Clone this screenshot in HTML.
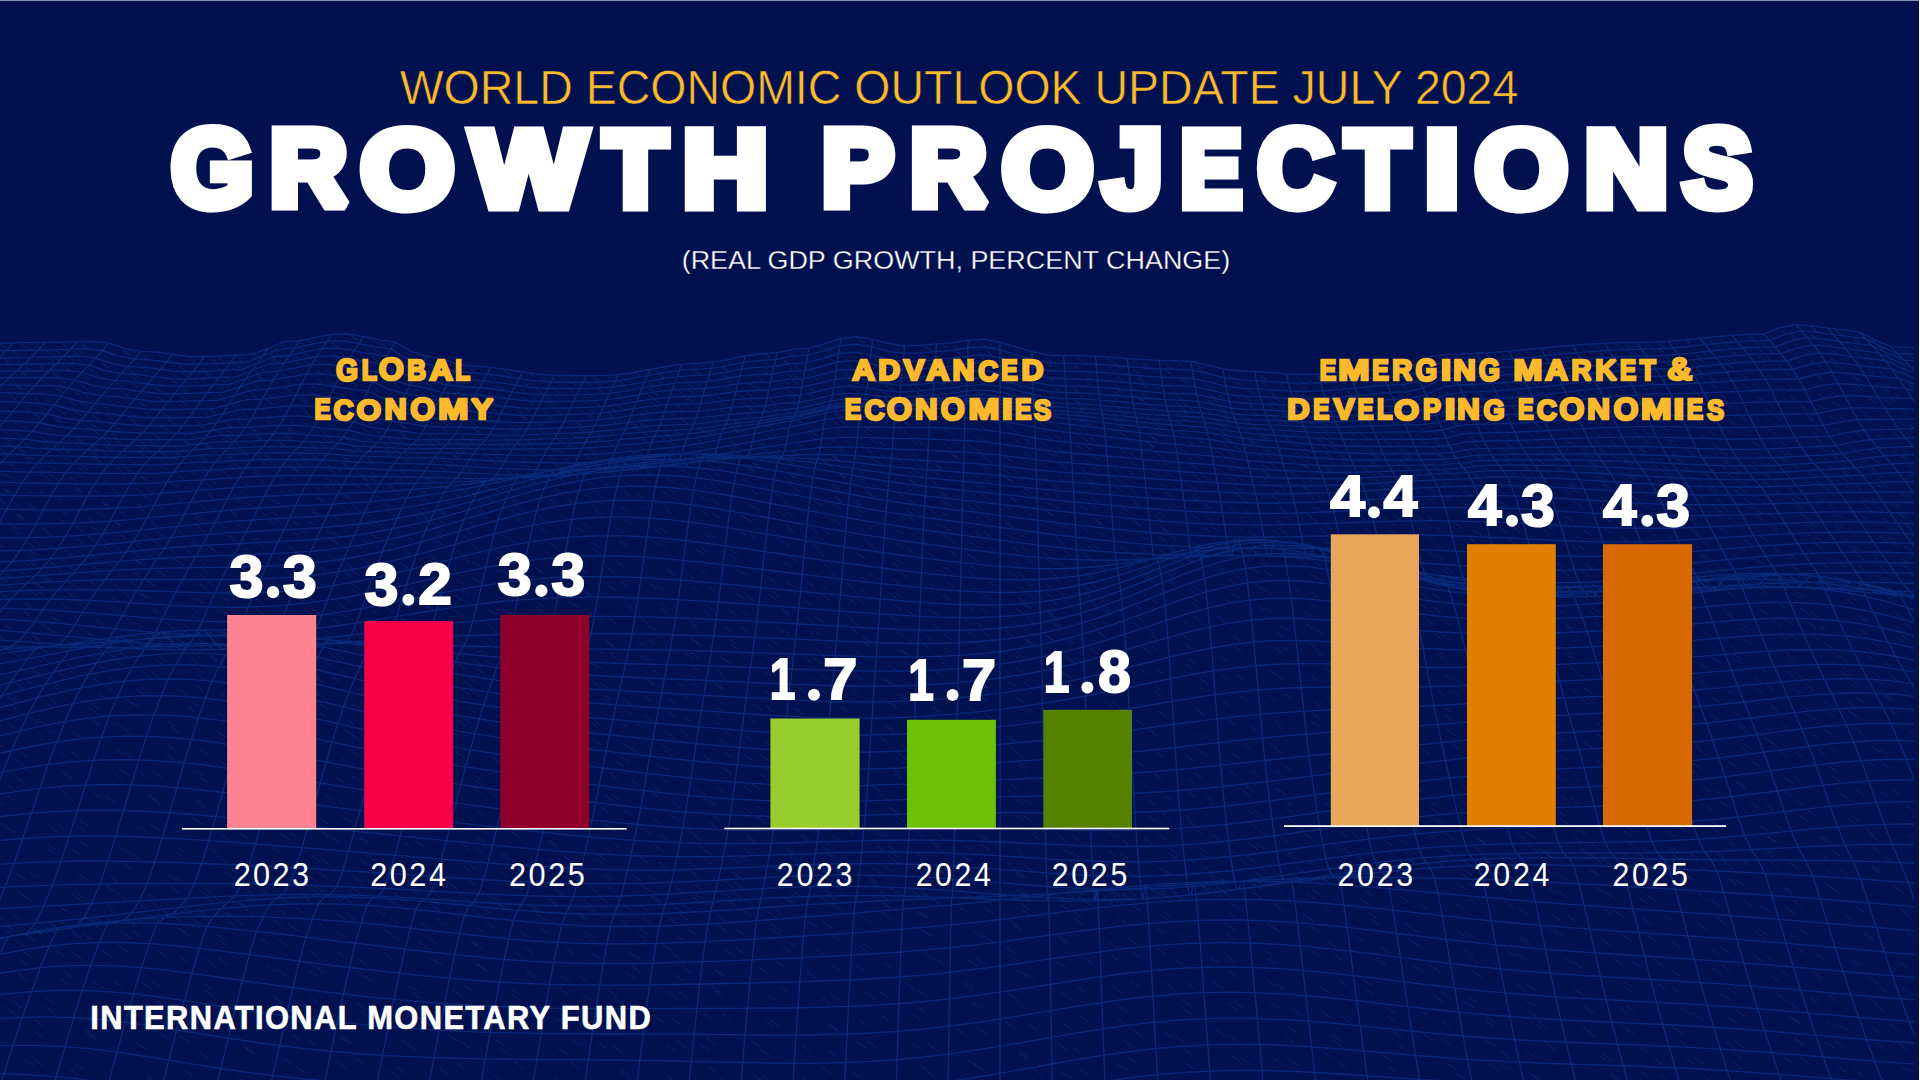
<!DOCTYPE html><html><head><meta charset="utf-8"><style>html,body{margin:0;padding:0;width:1920px;height:1080px;overflow:hidden;background:#01114F}svg{display:block;font-family:"Liberation Sans",sans-serif}</style></head><body>
<svg width="1920" height="1080" viewBox="0 0 1920 1080">
<defs><clipPath id="mc"><rect x="0" y="0" width="1914" height="1080"/></clipPath></defs>
<path clip-path="url(#mc)" d="M31.6 1094.2l10.4 7.3M18.4 1089.4l10.4 7.3M67.7 1086.3l10.4 7.3M1078.0 1091.3l10.4 7.3M1114.5 1095.6l10.4 7.3M1127.2 1086.0l10.4 7.3M1175.9 1086.8l10.4 7.3M1182.9 1089.7l10.4 7.3M1225.6 1080.8l10.4 7.3M1246.2 1077.7l10.4 7.3M1296.7 1081.5l10.4 7.3M1276.6 1084.3l10.4 7.3M1351.4 1080.8l10.4 7.3M1332.1 1089.9l10.4 7.3M1389.5 1083.5l10.4 7.3M1387.9 1089.4l10.4 7.3M1446.8 1083.2l10.4 7.3M1435.1 1095.0l10.4 7.3M1490.4 1091.8l10.4 7.3M1501.9 1095.2l10.4 7.3M1556.6 1089.4l10.4 7.3M1549.0 1096.2l10.4 7.3M1643.6 1091.6l10.4 7.3M1645.2 1089.2l10.4 7.3M1762.0 1095.9l10.4 7.3M33.9 1059.3l10.3 7.2M24.5 1059.7l10.3 7.2M68.6 1068.8l10.3 7.2M73.9 1062.9l10.3 7.2M146.2 1077.1l10.3 7.2M146.9 1075.6l10.3 7.2M182.9 1069.4l10.3 7.2M195.7 1078.9l10.3 7.2M223.9 1082.2l10.3 7.2M236.0 1075.4l10.3 7.2M280.2 1090.9l10.3 7.2M340.9 1087.6l10.3 7.2M455.8 1089.1l10.3 7.2M513.7 1093.8l10.3 7.2M492.2 1092.2l10.3 7.2M536.4 1091.7l10.3 7.2M616.8 1094.9l10.3 7.2M670.8 1091.3l10.3 7.2M907.2 1091.7l10.3 7.2M954.2 1088.8l10.3 7.2M963.4 1080.4l10.3 7.2M1032.8 1068.4l10.3 7.2M1013.6 1086.2l10.3 7.2M1060.5 1071.3l10.3 7.2M1079.7 1068.8l10.3 7.2M1117.0 1063.7l10.3 7.2M1128.9 1058.1l10.3 7.2M1184.9 1050.2l10.3 7.2M1183.1 1061.8l10.3 7.2M1240.6 1057.3l10.3 7.2M1232.0 1056.1l10.3 7.2M1289.8 1059.9l10.3 7.2M1274.4 1058.6l10.3 7.2M1322.5 1051.3l10.3 7.2M1336.8 1060.7l10.3 7.2M1381.9 1054.3l10.3 7.2M1387.1 1065.7l10.3 7.2M1447.7 1064.0l10.3 7.2M1454.8 1072.0l10.3 7.2M1488.9 1064.0l10.3 7.2M1500.1 1063.3l10.3 7.2M1529.0 1072.7l10.3 7.2M1531.8 1074.2l10.3 7.2M1609.5 1071.4l10.3 7.2M1608.9 1074.1l10.3 7.2M1658.8 1074.9l10.3 7.2M1638.7 1070.0l10.3 7.2M1714.9 1082.2l10.3 7.2M1701.9 1074.9l10.3 7.2M1743.3 1080.7l10.3 7.2M1741.6 1082.7l10.3 7.2M1795.6 1081.8l10.3 7.2M1809.9 1088.0l10.3 7.2M1841.5 1089.0l10.3 7.2M1863.1 1092.5l10.3 7.2M1903.8 1095.0l10.3 7.2M1917.1 1091.4l10.3 7.2M-11.2 1035.8l10.2 7.2M-22.5 1027.2l10.2 7.2M34.5 1031.7l10.2 7.2M35.0 1020.3l10.2 7.2M84.7 1029.3l10.2 7.2M85.3 1032.1l10.2 7.2M155.5 1030.2l10.2 7.2M136.2 1042.4l10.2 7.2M199.3 1052.1l10.2 7.2M180.1 1035.8l10.2 7.2M244.3 1047.2l10.2 7.2M244.0 1046.0l10.2 7.2M294.4 1065.6l10.2 7.2M282.1 1057.2l10.2 7.2M354.5 1057.4l10.2 7.2M336.4 1061.2l10.2 7.2M396.4 1066.7l10.2 7.2M388.6 1070.2l10.2 7.2M454.0 1061.4l10.2 7.2M439.9 1068.3l10.2 7.2M514.5 1061.6l10.2 7.2M493.3 1074.9l10.2 7.2M570.3 1061.8l10.2 7.2M553.8 1076.4l10.2 7.2M620.1 1071.9l10.2 7.2M619.9 1068.1l10.2 7.2M668.3 1076.8l10.2 7.2M667.2 1075.7l10.2 7.2M708.2 1066.4l10.2 7.2M720.3 1077.9l10.2 7.2M753.4 1075.0l10.2 7.2M762.7 1075.5l10.2 7.2M802.0 1078.0l10.2 7.2M821.3 1066.7l10.2 7.2M851.5 1071.4l10.2 7.2M873.3 1079.0l10.2 7.2M927.7 1072.3l10.2 7.2M920.5 1066.0l10.2 7.2M973.0 1062.8l10.2 7.2M966.6 1059.3l10.2 7.2M1018.4 1049.5l10.2 7.2M1019.1 1052.9l10.2 7.2M1057.6 1043.3l10.2 7.2M1072.2 1047.0l10.2 7.2M1132.1 1029.6l10.2 7.2M1123.1 1040.3l10.2 7.2M1175.4 1036.2l10.2 7.2M1164.4 1031.9l10.2 7.2M1214.9 1029.0l10.2 7.2M1228.5 1035.2l10.2 7.2M1284.1 1035.9l10.2 7.2M1286.0 1025.3l10.2 7.2M1332.1 1039.5l10.2 7.2M1331.3 1034.5l10.2 7.2M1397.4 1043.9l10.2 7.2M1392.6 1031.0l10.2 7.2M1440.7 1038.0l10.2 7.2M1423.7 1034.1l10.2 7.2M1484.5 1039.3l10.2 7.2M1499.9 1051.0l10.2 7.2M1545.3 1043.1l10.2 7.2M1524.7 1049.8l10.2 7.2M1598.5 1055.2l10.2 7.2M1602.5 1053.8l10.2 7.2M1652.2 1057.4l10.2 7.2M1639.7 1047.0l10.2 7.2M1684.7 1057.4l10.2 7.2M1693.7 1057.2l10.2 7.2M1731.5 1061.2l10.2 7.2M1732.2 1051.7l10.2 7.2M1800.0 1057.4l10.2 7.2M1784.7 1057.6l10.2 7.2M1835.8 1065.0l10.2 7.2M1852.8 1068.5l10.2 7.2M1910.9 1070.2l10.2 7.2M1900.1 1065.4l10.2 7.2M4.1 1006.2l10.1 7.1M11.7 1000.8l10.1 7.1M44.5 996.5l10.1 7.1M43.9 1005.8l10.1 7.1M103.9 1010.7l10.1 7.1M107.3 1007.4l10.1 7.1M156.4 1000.4l10.1 7.1M153.3 1005.7l10.1 7.1M193.1 1023.6l10.1 7.1M185.2 1019.6l10.1 7.1M255.6 1025.2l10.1 7.1M254.3 1016.5l10.1 7.1M291.1 1033.7l10.1 7.1M306.4 1039.1l10.1 7.1M338.9 1036.6l10.1 7.1M342.1 1036.8l10.1 7.1M397.8 1037.1l10.1 7.1M407.7 1044.1l10.1 7.1M460.9 1041.7l10.1 7.1M447.3 1033.7l10.1 7.1M499.5 1047.9l10.1 7.1M496.3 1040.0l10.1 7.1M571.7 1038.7l10.1 7.1M556.0 1046.7l10.1 7.1M596.1 1041.0l10.1 7.1M612.4 1045.7l10.1 7.1M666.4 1044.9l10.1 7.1M675.9 1040.3l10.1 7.1M706.2 1038.0l10.1 7.1M699.3 1044.0l10.1 7.1M761.2 1049.8l10.1 7.1M751.3 1040.6l10.1 7.1M800.8 1044.6l10.1 7.1M828.9 1051.1l10.1 7.1M857.7 1042.1l10.1 7.1M867.2 1041.0l10.1 7.1M927.6 1043.7l10.1 7.1M912.2 1043.2l10.1 7.1M955.5 1028.4l10.1 7.1M978.0 1028.0l10.1 7.1M1005.4 1021.7l10.1 7.1M1028.1 1024.0l10.1 7.1M1079.2 1015.8l10.1 7.1M1063.5 1023.9l10.1 7.1M1115.1 1017.2l10.1 7.1M1117.8 1005.6l10.1 7.1M1179.8 998.1l10.1 7.1M1180.9 1007.1l10.1 7.1M1227.2 1003.0l10.1 7.1M1234.3 1001.7l10.1 7.1M1269.2 1000.9l10.1 7.1M1291.4 1008.6l10.1 7.1M1340.5 1015.8l10.1 7.1M1321.0 1010.7l10.1 7.1M1385.6 1006.8l10.1 7.1M1387.0 1016.0l10.1 7.1M1442.4 1021.5l10.1 7.1M1421.3 1011.2l10.1 7.1M1485.0 1020.1l10.1 7.1M1485.3 1016.2l10.1 7.1M1530.8 1021.3l10.1 7.1M1537.7 1021.5l10.1 7.1M1581.3 1025.5l10.1 7.1M1586.7 1031.2l10.1 7.1M1625.9 1028.8l10.1 7.1M1620.7 1024.8l10.1 7.1M1677.2 1038.9l10.1 7.1M1672.6 1027.0l10.1 7.1M1734.3 1040.8l10.1 7.1M1725.0 1041.4l10.1 7.1M1794.1 1039.1l10.1 7.1M1793.8 1037.8l10.1 7.1M1826.3 1042.4l10.1 7.1M1834.3 1040.2l10.1 7.1M1899.1 1044.3l10.1 7.1M1876.1 1042.9l10.1 7.1M1931.9 1054.8l10.1 7.1M-8.9 987.4l10.0 7.0M17.8 973.6l10.0 7.0M62.0 970.2l10.0 7.0M59.2 978.1l10.0 7.0M92.8 981.2l10.0 7.0M113.4 980.8l10.0 7.0M151.9 980.9l10.0 7.0M142.0 982.5l10.0 7.0M202.8 982.7l10.0 7.0M203.7 989.6l10.0 7.0M273.4 996.6l10.0 7.0M270.4 994.2l10.0 7.0M295.4 1001.1l10.0 7.0M309.1 996.6l10.0 7.0M356.8 1003.2l10.0 7.0M360.9 1011.9l10.0 7.0M421.2 1018.9l10.0 7.0M420.1 1017.5l10.0 7.0M446.1 1018.6l10.0 7.0M471.6 1007.5l10.0 7.0M497.8 1016.3l10.0 7.0M513.5 1012.0l10.0 7.0M554.1 1017.4l10.0 7.0M559.8 1012.4l10.0 7.0M608.1 1011.0l10.0 7.0M607.2 1022.0l10.0 7.0M671.2 1017.8l10.0 7.0M653.6 1015.7l10.0 7.0M703.6 1013.4l10.0 7.0M722.3 1013.4l10.0 7.0M770.4 1020.3l10.0 7.0M763.5 1019.6l10.0 7.0M828.9 1023.9l10.0 7.0M828.8 1025.0l10.0 7.0M859.0 1019.8l10.0 7.0M880.4 1014.7l10.0 7.0M915.4 1005.5l10.0 7.0M910.7 1013.0l10.0 7.0M970.6 1001.3l10.0 7.0M977.3 1002.1l10.0 7.0M1015.8 1001.5l10.0 7.0M1009.8 994.2l10.0 7.0M1075.9 985.4l10.0 7.0M1061.1 992.5l10.0 7.0M1130.1 980.7l10.0 7.0M1110.5 984.9l10.0 7.0M1184.6 981.4l10.0 7.0M1163.4 981.8l10.0 7.0M1229.1 971.2l10.0 7.0M1213.2 981.7l10.0 7.0M1266.6 980.1l10.0 7.0M1275.3 983.2l10.0 7.0M1320.1 986.3l10.0 7.0M1338.8 980.1l10.0 7.0M1362.5 979.3l10.0 7.0M1363.7 988.0l10.0 7.0M1440.3 991.0l10.0 7.0M1433.6 995.4l10.0 7.0M1467.4 996.0l10.0 7.0M1465.8 1002.0l10.0 7.0M1525.8 1009.3l10.0 7.0M1523.8 998.7l10.0 7.0M1584.4 1006.4l10.0 7.0M1582.7 1006.8l10.0 7.0M1618.0 1006.8l10.0 7.0M1625.5 1005.3l10.0 7.0M1692.7 1013.0l10.0 7.0M1681.3 1008.1l10.0 7.0M1729.5 1018.0l10.0 7.0M1735.9 1010.0l10.0 7.0M1788.9 1016.4l10.0 7.0M1791.4 1016.9l10.0 7.0M1836.8 1023.7l10.0 7.0M1825.9 1020.5l10.0 7.0M1871.1 1027.0l10.0 7.0M1890.5 1024.7l10.0 7.0M1931.6 1030.7l10.0 7.0M17.9 957.9l9.9 7.0M22.3 951.0l9.9 7.0M56.2 950.4l9.9 7.0M72.8 952.8l9.9 7.0M117.3 944.6l9.9 7.0M101.5 950.1l9.9 7.0M156.6 949.6l9.9 7.0M178.9 955.9l9.9 7.0M204.1 958.0l9.9 7.0M218.0 957.6l9.9 7.0M267.0 965.4l9.9 7.0M276.1 968.5l9.9 7.0M315.3 966.6l9.9 7.0M308.3 970.1l9.9 7.0M364.3 975.5l9.9 7.0M356.9 971.1l9.9 7.0M411.1 991.6l9.9 7.0M409.8 986.0l9.9 7.0M452.2 989.3l9.9 7.0M465.4 986.0l9.9 7.0M512.3 995.0l9.9 7.0M509.8 987.9l9.9 7.0M581.0 992.9l9.9 7.0M560.0 988.7l9.9 7.0M614.1 997.4l9.9 7.0M607.4 989.5l9.9 7.0M677.8 990.9l9.9 7.0M667.4 992.1l9.9 7.0M711.0 985.6l9.9 7.0M714.3 990.4l9.9 7.0M778.8 986.6l9.9 7.0M767.6 994.8l9.9 7.0M820.2 996.3l9.9 7.0M829.0 992.5l9.9 7.0M879.8 991.4l9.9 7.0M865.4 992.4l9.9 7.0M917.3 989.7l9.9 7.0M904.7 982.3l9.9 7.0M963.3 983.8l9.9 7.0M963.9 980.0l9.9 7.0M1018.0 970.1l9.9 7.0M1025.0 973.3l9.9 7.0M1083.2 957.2l9.9 7.0M1057.0 961.4l9.9 7.0M1132.7 952.2l9.9 7.0M1109.7 954.2l9.9 7.0M1175.5 960.1l9.9 7.0M1155.9 947.6l9.9 7.0M1226.3 955.3l9.9 7.0M1209.7 956.9l9.9 7.0M1263.1 948.6l9.9 7.0M1267.4 958.0l9.9 7.0M1333.5 954.2l9.9 7.0M1311.1 950.5l9.9 7.0M1374.8 959.3l9.9 7.0M1376.3 957.8l9.9 7.0M1430.2 965.3l9.9 7.0M1412.8 965.2l9.9 7.0M1472.9 971.4l9.9 7.0M1469.8 969.1l9.9 7.0M1525.3 983.0l9.9 7.0M1515.9 984.0l9.9 7.0M1574.4 989.2l9.9 7.0M1573.3 988.0l9.9 7.0M1623.2 986.0l9.9 7.0M1623.4 981.1l9.9 7.0M1657.6 983.4l9.9 7.0M1672.5 988.0l9.9 7.0M1727.6 987.9l9.9 7.0M1720.6 993.0l9.9 7.0M1790.0 1002.9l9.9 7.0M1777.8 994.5l9.9 7.0M1809.8 997.5l9.9 7.0M1828.1 994.9l9.9 7.0M1867.4 997.6l9.9 7.0M1875.2 1004.8l9.9 7.0M1931.0 1007.1l9.9 7.0M26.0 934.7l9.8 6.9M14.8 940.0l9.8 6.9M71.5 931.0l9.8 6.9M82.3 933.0l9.8 6.9M132.7 931.0l9.8 6.9M122.4 932.4l9.8 6.9M175.5 925.9l9.8 6.9M179.1 928.6l9.8 6.9M217.2 938.6l9.8 6.9M217.4 934.9l9.8 6.9M278.0 939.1l9.8 6.9M260.0 937.8l9.8 6.9M334.3 949.5l9.8 6.9M308.4 950.0l9.8 6.9M356.6 957.6l9.8 6.9M385.4 954.7l9.8 6.9M427.9 956.8l9.8 6.9M434.8 960.1l9.8 6.9M475.9 963.7l9.8 6.9M478.2 964.3l9.8 6.9M526.5 972.7l9.8 6.9M526.8 969.4l9.8 6.9M578.6 975.7l9.8 6.9M561.1 976.3l9.8 6.9M630.5 965.2l9.8 6.9M625.9 972.4l9.8 6.9M681.4 965.9l9.8 6.9M672.7 973.1l9.8 6.9M715.1 969.9l9.8 6.9M715.6 969.8l9.8 6.9M775.7 960.8l9.8 6.9M757.7 966.6l9.8 6.9M806.6 971.3l9.8 6.9M830.1 963.7l9.8 6.9M883.0 962.6l9.8 6.9M855.9 965.2l9.8 6.9M923.3 952.0l9.8 6.9M934.7 957.8l9.8 6.9M967.5 959.7l9.8 6.9M974.5 957.2l9.8 6.9M1009.6 955.6l9.8 6.9M1005.2 946.4l9.8 6.9M1058.3 935.2l9.8 6.9M1057.4 936.7l9.8 6.9M1108.8 942.0l9.8 6.9M1126.4 936.9l9.8 6.9M1176.7 933.6l9.8 6.9M1155.7 926.9l9.8 6.9M1225.2 923.3l9.8 6.9M1226.6 933.8l9.8 6.9M1272.6 926.8l9.8 6.9M1267.2 923.4l9.8 6.9M1310.7 926.1l9.8 6.9M1326.2 940.8l9.8 6.9M1353.9 934.9l9.8 6.9M1379.0 946.0l9.8 6.9M1412.3 940.9l9.8 6.9M1407.7 938.5l9.8 6.9M1469.0 957.0l9.8 6.9M1464.1 949.2l9.8 6.9M1515.8 952.9l9.8 6.9M1506.6 950.4l9.8 6.9M1563.4 957.2l9.8 6.9M1572.1 961.0l9.8 6.9M1613.3 958.6l9.8 6.9M1630.0 959.6l9.8 6.9M1670.3 968.9l9.8 6.9M1652.7 958.5l9.8 6.9M1722.1 965.1l9.8 6.9M1711.9 967.4l9.8 6.9M1780.0 969.6l9.8 6.9M1771.0 976.0l9.8 6.9M1813.1 971.7l9.8 6.9M1812.4 974.4l9.8 6.9M1867.9 976.4l9.8 6.9M1877.0 985.5l9.8 6.9M1902.9 987.9l9.8 6.9M1913.8 984.4l9.8 6.9M43.8 926.2l9.7 6.8M33.6 927.9l9.7 6.8M94.0 919.7l9.7 6.8M89.6 920.2l9.7 6.8M124.9 918.8l9.7 6.8M134.4 916.9l9.7 6.8M173.0 916.1l9.7 6.8M192.4 919.1l9.7 6.8M234.0 918.2l9.7 6.8M227.8 921.4l9.7 6.8M273.2 919.8l9.7 6.8M287.9 923.8l9.7 6.8M317.8 922.5l9.7 6.8M335.9 931.1l9.7 6.8M381.9 927.7l9.7 6.8M389.7 933.4l9.7 6.8M427.1 936.8l9.7 6.8M417.4 940.8l9.7 6.8M468.0 939.8l9.7 6.8M473.0 942.0l9.7 6.8M523.4 946.9l9.7 6.8M514.7 952.2l9.7 6.8M590.0 951.5l9.7 6.8M564.3 947.7l9.7 6.8M632.8 954.0l9.7 6.8M627.5 951.9l9.7 6.8M674.0 954.7l9.7 6.8M661.4 943.7l9.7 6.8M734.5 946.8l9.7 6.8M725.3 949.9l9.7 6.8M781.2 945.2l9.7 6.8M786.6 940.6l9.7 6.8M832.2 935.3l9.7 6.8M814.6 948.5l9.7 6.8M862.6 943.8l9.7 6.8M859.1 945.8l9.7 6.8M922.9 929.8l9.7 6.8M920.0 929.0l9.7 6.8M982.6 934.5l9.7 6.8M973.3 931.0l9.7 6.8M1008.5 919.4l9.7 6.8M1012.6 924.2l9.7 6.8M1073.1 911.6l9.7 6.8M1074.2 918.6l9.7 6.8M1117.2 916.7l9.7 6.8M1131.9 904.8l9.7 6.8M1160.0 914.4l9.7 6.8M1160.8 910.5l9.7 6.8M1228.6 901.4l9.7 6.8M1227.8 912.1l9.7 6.8M1274.7 905.1l9.7 6.8M1270.2 901.4l9.7 6.8M1303.4 914.1l9.7 6.8M1322.7 905.5l9.7 6.8M1370.9 918.9l9.7 6.8M1367.5 912.3l9.7 6.8M1403.4 922.3l9.7 6.8M1408.3 925.6l9.7 6.8M1464.3 931.4l9.7 6.8M1457.2 931.0l9.7 6.8M1520.0 939.1l9.7 6.8M1520.7 936.6l9.7 6.8M1547.7 928.5l9.7 6.8M1553.1 928.9l9.7 6.8M1621.6 934.4l9.7 6.8M1601.6 939.3l9.7 6.8M1648.0 935.7l9.7 6.8M1671.1 941.4l9.7 6.8M1710.0 948.1l9.7 6.8M1720.4 946.9l9.7 6.8M1765.4 955.1l9.7 6.8M1753.7 955.3l9.7 6.8M1815.6 953.6l9.7 6.8M1797.3 947.7l9.7 6.8M1852.4 958.8l9.7 6.8M1849.7 960.6l9.7 6.8M1919.1 965.6l9.7 6.8M1898.4 961.7l9.7 6.8M-18.2 936.4l9.7 6.8M-4.1 934.6l9.7 6.8M39.7 927.5l9.7 6.8M32.8 928.5l9.7 6.8M88.9 921.1l9.7 6.8M107.1 918.6l9.7 6.8M126.5 916.2l9.7 6.8M148.9 914.4l9.7 6.8M194.0 911.0l9.7 6.8M200.2 911.7l9.7 6.8M245.5 909.0l9.7 6.8M224.5 911.3l9.7 6.8M295.9 907.7l9.7 6.8M276.6 908.2l9.7 6.8M346.0 913.0l9.7 6.8M335.7 913.1l9.7 6.8M375.4 909.3l9.7 6.8M389.0 917.0l9.7 6.8M419.1 921.4l9.7 6.8M435.9 918.6l9.7 6.8M474.2 926.2l9.7 6.8M485.5 921.7l9.7 6.8M539.9 928.0l9.7 6.8M520.7 932.2l9.7 6.8M586.1 932.1l9.7 6.8M585.0 935.8l9.7 6.8M637.2 933.2l9.7 6.8M639.1 927.7l9.7 6.8M676.2 935.5l9.7 6.8M689.3 930.1l9.7 6.8M736.8 929.8l9.7 6.8M717.5 924.9l9.7 6.8M770.8 928.8l9.7 6.8M771.4 924.0l9.7 6.8M809.5 922.2l9.7 6.8M822.4 921.3l9.7 6.8M861.9 916.0l9.7 6.8M882.4 912.6l9.7 6.8M916.6 911.6l9.7 6.8M918.4 910.9l9.7 6.8M957.9 905.8l9.7 6.8M984.0 907.6l9.7 6.8M1020.0 903.2l9.7 6.8M1020.8 909.0l9.7 6.8M1082.4 899.5l9.7 6.8M1059.3 903.5l9.7 6.8M1109.9 890.3l9.7 6.8M1103.9 898.7l9.7 6.8M1172.5 892.1l9.7 6.8M1152.1 889.0l9.7 6.8M1217.5 887.0l9.7 6.8M1221.7 891.5l9.7 6.8M1274.7 885.4l9.7 6.8M1251.3 891.3l9.7 6.8M1312.9 889.9l9.7 6.8M1307.2 893.9l9.7 6.8M1359.9 898.1l9.7 6.8M1363.9 889.5l9.7 6.8M1400.4 896.5l9.7 6.8M1418.9 903.7l9.7 6.8M1468.2 898.3l9.7 6.8M1456.7 904.2l9.7 6.8M1518.6 908.4l9.7 6.8M1504.4 901.5l9.7 6.8M1566.2 914.9l9.7 6.8M1550.5 913.7l9.7 6.8M1603.0 908.6l9.7 6.8M1614.0 910.3l9.7 6.8M1663.4 914.6l9.7 6.8M1642.2 917.8l9.7 6.8M1716.0 917.2l9.7 6.8M1697.3 922.9l9.7 6.8M1757.7 928.3l9.7 6.8M1755.9 932.2l9.7 6.8M1800.1 929.7l9.7 6.8M1789.6 934.0l9.7 6.8M1863.5 931.3l9.7 6.8M1863.2 933.3l9.7 6.8M1907.1 933.6l9.7 6.8M1913.6 946.2l9.7 6.8M5.2 924.9l9.6 6.7M3.9 929.4l9.6 6.7M50.4 922.8l9.6 6.7M62.2 922.1l9.6 6.7M93.7 916.5l9.6 6.7M88.1 917.4l9.6 6.7M160.4 908.7l9.6 6.7M140.2 911.4l9.6 6.7M195.0 906.0l9.6 6.7M183.0 907.4l9.6 6.7M237.6 901.0l9.6 6.7M236.8 901.6l9.6 6.7M280.7 897.7l9.6 6.7M302.8 896.8l9.6 6.7M343.5 897.0l9.6 6.7M333.0 896.4l9.6 6.7M388.4 899.8l9.6 6.7M392.6 900.5l9.6 6.7M431.6 905.2l9.6 6.7M429.8 903.6l9.6 6.7M483.2 908.6l9.6 6.7M471.7 908.9l9.6 6.7M544.7 916.3l9.6 6.7M536.4 914.0l9.6 6.7M578.1 912.8l9.6 6.7M578.0 914.3l9.6 6.7M620.9 920.1l9.6 6.7M642.4 917.1l9.6 6.7M667.3 916.8l9.6 6.7M678.9 913.7l9.6 6.7M716.9 915.4l9.6 6.7M742.4 909.9l9.6 6.7M766.9 911.2l9.6 6.7M773.1 908.2l9.6 6.7M829.3 903.2l9.6 6.7M834.9 905.1l9.6 6.7M881.2 900.8l9.6 6.7M881.6 902.4l9.6 6.7M930.9 898.2l9.6 6.7M934.5 900.5l9.6 6.7M981.7 897.1l9.6 6.7M978.7 895.7l9.6 6.7M1019.3 892.2l9.6 6.7M1021.6 892.8l9.6 6.7M1076.0 888.4l9.6 6.7M1071.1 888.7l9.6 6.7M1115.0 885.1l9.6 6.7M1123.0 884.3l9.6 6.7M1161.6 881.8l9.6 6.7M1161.6 881.5l9.6 6.7M1221.2 878.6l9.6 6.7M1213.4 878.8l9.6 6.7M1252.9 877.7l9.6 6.7M1251.3 877.5l9.6 6.7M1313.3 878.8l9.6 6.7M1322.8 878.3l9.6 6.7M1368.0 877.0l9.6 6.7M1372.6 881.1l9.6 6.7M1404.1 877.6l9.6 6.7M1393.9 883.5l9.6 6.7M1457.5 883.8l9.6 6.7M1467.1 881.6l9.6 6.7M1503.8 881.0l9.6 6.7M1504.5 886.5l9.6 6.7M1558.3 891.4l9.6 6.7M1548.1 888.3l9.6 6.7M1595.2 886.6l9.6 6.7M1606.1 892.7l9.6 6.7M1638.2 896.8l9.6 6.7M1646.4 894.8l9.6 6.7M1698.6 893.9l9.6 6.7M1711.5 900.1l9.6 6.7M1744.1 900.5l9.6 6.7M1761.5 905.6l9.6 6.7M1794.4 901.4l9.6 6.7M1786.1 907.8l9.6 6.7M1855.7 906.1l9.6 6.7M1845.5 915.5l9.6 6.7M1902.3 912.2l9.6 6.7M1898.7 907.5l9.6 6.7M1931.3 920.5l9.6 6.7M11.1 913.0l9.5 6.6M0.0 917.2l9.5 6.6M63.0 908.3l9.5 6.6M57.0 905.0l9.5 6.6M108.5 909.0l9.5 6.6M105.6 903.5l9.5 6.6M150.1 900.8l9.5 6.6M139.6 904.1l9.5 6.6M213.1 896.5l9.5 6.6M206.4 898.5l9.5 6.6M251.0 894.3l9.5 6.6M244.7 894.4l9.5 6.6M301.7 891.9l9.5 6.6M300.7 892.9l9.5 6.6M334.8 893.1l9.5 6.6M353.0 893.6l9.5 6.6M382.3 894.8l9.5 6.6M396.6 894.8l9.5 6.6M447.1 898.3l9.5 6.6M428.8 898.3l9.5 6.6M498.3 903.4l9.5 6.6M496.8 903.2l9.5 6.6M528.9 905.7l9.5 6.6M528.5 903.3l9.5 6.6M589.1 907.5l9.5 6.6M585.3 907.3l9.5 6.6M623.0 904.6l9.5 6.6M638.3 903.8l9.5 6.6M681.6 903.8l9.5 6.6M675.1 907.3l9.5 6.6M744.0 898.7l9.5 6.6M726.4 899.6l9.5 6.6M788.0 899.1l9.5 6.6M782.6 896.0l9.5 6.6M827.4 894.3l9.5 6.6M819.7 897.1l9.5 6.6M881.3 895.8l9.5 6.6M869.9 893.9l9.5 6.6M922.9 894.2l9.5 6.6M915.7 895.1l9.5 6.6M967.1 894.4l9.5 6.6M984.8 894.3l9.5 6.6M1021.1 893.1l9.5 6.6M1020.3 894.0l9.5 6.6M1064.7 891.3l9.5 6.6M1056.3 895.2l9.5 6.6M1111.2 889.9l9.5 6.6M1106.6 890.4l9.5 6.6M1156.2 885.6l9.5 6.6M1168.2 886.6l9.5 6.6M1201.2 886.1l9.5 6.6M1199.9 883.7l9.5 6.6M1269.6 877.7l9.5 6.6M1257.3 881.2l9.5 6.6M1316.8 874.9l9.5 6.6M1302.8 876.4l9.5 6.6M1351.0 872.1l9.5 6.6M1346.2 872.5l9.5 6.6M1404.2 871.7l9.5 6.6M1402.9 872.2l9.5 6.6M1458.1 871.2l9.5 6.6M1462.8 868.7l9.5 6.6M1496.4 871.8l9.5 6.6M1503.4 872.2l9.5 6.6M1559.4 874.9l9.5 6.6M1547.8 870.1l9.5 6.6M1588.1 868.9l9.5 6.6M1591.8 870.3l9.5 6.6M1646.2 876.9l9.5 6.6M1641.9 879.3l9.5 6.6M1681.0 872.1l9.5 6.6M1685.9 874.7l9.5 6.6M1728.1 878.3l9.5 6.6M1735.7 879.5l9.5 6.6M1783.7 888.1l9.5 6.6M1783.4 886.0l9.5 6.6M1824.0 882.1l9.5 6.6M1829.9 886.8l9.5 6.6M1894.2 886.6l9.5 6.6M1893.0 885.3l9.5 6.6M1922.3 896.1l9.5 6.6M1917.3 890.0l9.5 6.6M23.5 895.1l9.4 6.6M18.0 891.6l9.4 6.6M71.6 894.2l9.4 6.6M76.4 892.8l9.4 6.6M117.0 893.1l9.4 6.6M105.8 885.4l9.4 6.6M170.0 886.1l9.4 6.6M147.2 893.3l9.4 6.6M199.0 889.9l9.4 6.6M203.9 888.3l9.4 6.6M243.7 888.0l9.4 6.6M260.3 888.6l9.4 6.6M315.1 886.6l9.4 6.6M310.5 888.2l9.4 6.6M351.6 887.1l9.4 6.6M346.7 890.3l9.4 6.6M410.8 889.6l9.4 6.6M392.8 892.1l9.4 6.6M458.4 893.2l9.4 6.6M434.3 893.5l9.4 6.6M485.3 893.7l9.4 6.6M488.4 893.2l9.4 6.6M549.3 900.0l9.4 6.6M548.5 898.3l9.4 6.6M598.5 895.9l9.4 6.6M583.6 900.4l9.4 6.6M650.9 896.8l9.4 6.6M651.0 895.2l9.4 6.6M693.3 892.1l9.4 6.6M689.5 894.6l9.4 6.6M721.1 891.3l9.4 6.6M731.5 891.8l9.4 6.6M792.9 890.9l9.4 6.6M788.1 891.6l9.4 6.6M834.8 886.1l9.4 6.6M821.9 887.7l9.4 6.6M889.8 887.7l9.4 6.6M877.4 889.5l9.4 6.6M911.3 889.8l9.4 6.6M921.3 891.0l9.4 6.6M966.0 893.4l9.4 6.6M977.4 892.1l9.4 6.6M1011.6 895.2l9.4 6.6M1019.5 895.0l9.4 6.6M1079.2 896.8l9.4 6.6M1060.8 895.7l9.4 6.6M1104.0 896.4l9.4 6.6M1109.3 896.1l9.4 6.6M1163.0 893.5l9.4 6.6M1152.3 894.3l9.4 6.6M1212.3 888.6l9.4 6.6M1216.7 888.1l9.4 6.6M1246.3 884.3l9.4 6.6M1253.5 883.3l9.4 6.6M1292.5 878.0l9.4 6.6M1295.7 877.1l9.4 6.6M1351.5 870.6l9.4 6.6M1347.3 870.4l9.4 6.6M1396.7 865.7l9.4 6.6M1388.7 866.8l9.4 6.6M1460.9 859.0l9.4 6.6M1435.1 860.8l9.4 6.6M1508.6 858.1l9.4 6.6M1483.9 859.0l9.4 6.6M1541.7 859.5l9.4 6.6M1545.3 860.3l9.4 6.6M1601.7 858.2l9.4 6.6M1592.5 856.6l9.4 6.6M1643.1 861.4l9.4 6.6M1631.8 861.6l9.4 6.6M1670.9 859.3l9.4 6.6M1695.9 863.0l9.4 6.6M1723.5 861.5l9.4 6.6M1741.2 859.8l9.4 6.6M1769.9 861.5l9.4 6.6M1789.0 862.3l9.4 6.6M1824.7 868.7l9.4 6.6M1838.3 868.0l9.4 6.6M1871.8 867.3l9.4 6.6M1870.5 864.1l9.4 6.6M1918.2 876.4l9.4 6.6M1924.7 869.9l9.4 6.6M28.2 871.0l9.3 6.5M17.6 874.2l9.3 6.5M75.8 875.5l9.3 6.5M79.2 874.2l9.3 6.5M123.3 863.1l9.3 6.5M108.9 875.6l9.3 6.5M166.8 873.7l9.3 6.5M174.0 876.2l9.3 6.5M228.2 867.1l9.3 6.5M224.9 871.9l9.3 6.5M258.7 870.4l9.3 6.5M264.3 873.1l9.3 6.5M306.6 874.5l9.3 6.5M317.3 871.2l9.3 6.5M368.9 880.1l9.3 6.5M352.6 876.7l9.3 6.5M407.0 880.6l9.3 6.5M395.8 882.3l9.3 6.5M447.8 882.0l9.3 6.5M467.4 879.3l9.3 6.5M511.6 881.1l9.3 6.5M513.5 884.2l9.3 6.5M555.0 889.9l9.3 6.5M552.5 885.5l9.3 6.5M588.8 886.1l9.3 6.5M607.2 886.7l9.3 6.5M645.4 887.0l9.3 6.5M637.9 883.1l9.3 6.5M674.8 886.6l9.3 6.5M693.7 883.8l9.3 6.5M724.4 880.7l9.3 6.5M732.4 880.8l9.3 6.5M780.8 878.7l9.3 6.5M784.8 879.4l9.3 6.5M819.0 879.9l9.3 6.5M841.3 877.2l9.3 6.5M866.7 875.3l9.3 6.5M870.2 880.6l9.3 6.5M925.4 881.9l9.3 6.5M924.3 879.7l9.3 6.5M964.0 882.3l9.3 6.5M960.8 882.5l9.3 6.5M1021.5 890.1l9.3 6.5M1016.4 889.8l9.3 6.5M1064.2 887.4l9.3 6.5M1067.4 888.5l9.3 6.5M1120.8 893.0l9.3 6.5M1127.0 889.4l9.3 6.5M1148.9 888.1l9.3 6.5M1157.7 891.2l9.3 6.5M1220.5 883.3l9.3 6.5M1215.8 885.9l9.3 6.5M1263.2 879.8l9.3 6.5M1247.5 880.7l9.3 6.5M1288.1 873.8l9.3 6.5M1294.1 874.2l9.3 6.5M1355.1 864.9l9.3 6.5M1359.9 863.5l9.3 6.5M1406.7 858.4l9.3 6.5M1407.3 857.3l9.3 6.5M1433.5 855.5l9.3 6.5M1438.3 855.1l9.3 6.5M1494.8 852.1l9.3 6.5M1480.3 853.9l9.3 6.5M1543.2 850.8l9.3 6.5M1545.4 853.4l9.3 6.5M1589.2 853.3l9.3 6.5M1585.4 851.2l9.3 6.5M1619.7 850.9l9.3 6.5M1637.9 853.3l9.3 6.5M1670.8 852.8l9.3 6.5M1688.6 852.1l9.3 6.5M1717.4 854.7l9.3 6.5M1714.3 850.6l9.3 6.5M1764.5 850.9l9.3 6.5M1766.9 849.9l9.3 6.5M1819.0 853.2l9.3 6.5M1831.2 849.6l9.3 6.5M1871.9 846.8l9.3 6.5M1883.0 855.3l9.3 6.5M1912.4 855.2l9.3 6.5M1913.3 847.0l9.3 6.5M-5.3 850.9l9.2 6.5M-12.2 854.8l9.2 6.5M46.2 847.8l9.2 6.5M48.1 844.5l9.2 6.5M71.0 848.1l9.2 6.5M77.8 839.6l9.2 6.5M130.9 852.7l9.2 6.5M120.6 847.8l9.2 6.5M176.7 846.6l9.2 6.5M173.5 849.6l9.2 6.5M210.5 848.3l9.2 6.5M217.4 856.3l9.2 6.5M271.5 846.8l9.2 6.5M256.6 856.7l9.2 6.5M321.5 859.1l9.2 6.5M311.2 855.7l9.2 6.5M357.8 858.2l9.2 6.5M366.6 854.3l9.2 6.5M423.4 868.9l9.2 6.5M413.6 860.1l9.2 6.5M469.0 864.3l9.2 6.5M461.9 865.2l9.2 6.5M500.1 871.4l9.2 6.5M513.8 866.3l9.2 6.5M564.0 870.7l9.2 6.5M546.4 869.2l9.2 6.5M604.8 873.2l9.2 6.5M601.5 874.5l9.2 6.5M646.0 873.9l9.2 6.5M632.1 874.6l9.2 6.5M687.4 868.5l9.2 6.5M690.8 872.9l9.2 6.5M730.7 872.1l9.2 6.5M733.5 872.6l9.2 6.5M771.6 865.9l9.2 6.5M783.6 868.2l9.2 6.5M833.5 867.7l9.2 6.5M822.1 869.5l9.2 6.5M872.8 867.7l9.2 6.5M884.9 866.2l9.2 6.5M937.5 869.9l9.2 6.5M937.1 868.0l9.2 6.5M960.2 872.6l9.2 6.5M974.3 867.4l9.2 6.5M1014.7 872.1l9.2 6.5M1016.7 871.5l9.2 6.5M1053.4 877.2l9.2 6.5M1076.8 880.1l9.2 6.5M1105.7 883.0l9.2 6.5M1103.0 881.0l9.2 6.5M1165.0 880.3l9.2 6.5M1156.4 880.8l9.2 6.5M1208.2 872.3l9.2 6.5M1210.3 876.9l9.2 6.5M1258.4 866.1l9.2 6.5M1255.9 872.4l9.2 6.5M1307.3 860.2l9.2 6.5M1295.4 866.6l9.2 6.5M1337.2 858.4l9.2 6.5M1356.3 855.4l9.2 6.5M1405.2 852.8l9.2 6.5M1387.4 851.3l9.2 6.5M1443.9 848.7l9.2 6.5M1444.9 849.0l9.2 6.5M1474.1 847.0l9.2 6.5M1473.2 845.8l9.2 6.5M1528.4 845.0l9.2 6.5M1536.4 846.4l9.2 6.5M1580.2 847.5l9.2 6.5M1591.5 844.1l9.2 6.5M1641.7 846.9l9.2 6.5M1628.9 842.6l9.2 6.5M1669.9 846.0l9.2 6.5M1664.9 845.8l9.2 6.5M1729.1 843.7l9.2 6.5M1729.1 840.9l9.2 6.5M1767.5 836.8l9.2 6.5M1767.6 836.1l9.2 6.5M1817.1 835.9l9.2 6.5M1821.3 836.4l9.2 6.5M1864.9 828.6l9.2 6.5M1868.9 833.8l9.2 6.5M1912.3 825.5l9.2 6.5M1906.8 834.1l9.2 6.5M-0.6 822.9l9.1 6.4M6.1 826.4l9.1 6.4M57.8 824.9l9.1 6.4M50.6 827.3l9.1 6.4M77.0 825.8l9.1 6.4M79.7 820.1l9.1 6.4M138.3 826.0l9.1 6.4M149.9 823.6l9.1 6.4M173.4 827.8l9.1 6.4M193.0 818.0l9.1 6.4M219.6 833.2l9.1 6.4M237.6 831.6l9.1 6.4M290.6 832.8l9.1 6.4M280.4 833.9l9.1 6.4M331.8 837.1l9.1 6.4M320.1 830.3l9.1 6.4M359.8 836.4l9.1 6.4M358.3 837.3l9.1 6.4M414.6 840.1l9.1 6.4M404.2 842.6l9.1 6.4M461.3 843.9l9.1 6.4M475.3 848.5l9.1 6.4M500.6 854.6l9.1 6.4M502.1 852.8l9.1 6.4M547.1 858.5l9.1 6.4M562.8 855.2l9.1 6.4M597.0 853.8l9.1 6.4M593.9 857.6l9.1 6.4M639.1 856.6l9.1 6.4M657.8 861.7l9.1 6.4M701.8 857.1l9.1 6.4M687.9 861.0l9.1 6.4M740.7 855.7l9.1 6.4M731.4 857.4l9.1 6.4M789.6 856.9l9.1 6.4M789.5 854.0l9.1 6.4M825.5 852.9l9.1 6.4M829.6 853.5l9.1 6.4M889.5 857.0l9.1 6.4M890.0 851.3l9.1 6.4M920.1 859.0l9.1 6.4M915.3 851.8l9.1 6.4M958.7 853.9l9.1 6.4M962.6 855.5l9.1 6.4M1007.4 862.9l9.1 6.4M1023.7 864.8l9.1 6.4M1060.3 860.1l9.1 6.4M1070.8 860.9l9.1 6.4M1124.9 869.7l9.1 6.4M1103.7 862.9l9.1 6.4M1163.3 868.8l9.1 6.4M1158.0 867.3l9.1 6.4M1202.4 865.8l9.1 6.4M1190.1 859.2l9.1 6.4M1244.7 855.0l9.1 6.4M1239.7 858.9l9.1 6.4M1286.6 853.6l9.1 6.4M1287.4 851.3l9.1 6.4M1332.7 844.9l9.1 6.4M1343.7 848.9l9.1 6.4M1385.2 840.9l9.1 6.4M1401.2 840.5l9.1 6.4M1426.6 832.9l9.1 6.4M1445.7 833.6l9.1 6.4M1476.5 836.9l9.1 6.4M1476.5 837.9l9.1 6.4M1515.5 832.4l9.1 6.4M1525.6 831.7l9.1 6.4M1572.3 836.1l9.1 6.4M1579.4 829.7l9.1 6.4M1622.0 829.7l9.1 6.4M1624.6 825.1l9.1 6.4M1676.9 825.4l9.1 6.4M1665.1 830.3l9.1 6.4M1709.6 820.1l9.1 6.4M1710.9 826.6l9.1 6.4M1758.9 825.0l9.1 6.4M1775.9 824.9l9.1 6.4M1807.4 810.3l9.1 6.4M1799.0 815.2l9.1 6.4M1850.4 815.3l9.1 6.4M1846.0 817.2l9.1 6.4M1907.1 806.2l9.1 6.4M1912.5 815.9l9.1 6.4M5.5 794.4l9.1 6.3M-4.4 798.9l9.1 6.3M63.8 795.3l9.1 6.3M59.0 788.4l9.1 6.3M93.2 792.6l9.1 6.3M106.1 796.4l9.1 6.3M151.2 797.7l9.1 6.3M147.1 794.1l9.1 6.3M195.9 802.2l9.1 6.3M195.5 798.8l9.1 6.3M230.5 801.4l9.1 6.3M232.9 797.4l9.1 6.3M283.7 806.3l9.1 6.3M284.1 809.8l9.1 6.3M320.6 818.6l9.1 6.3M341.4 816.0l9.1 6.3M376.2 820.1l9.1 6.3M383.3 824.4l9.1 6.3M413.4 820.8l9.1 6.3M420.7 823.8l9.1 6.3M477.4 827.2l9.1 6.3M476.2 836.6l9.1 6.3M510.8 831.5l9.1 6.3M521.1 840.2l9.1 6.3M549.0 841.4l9.1 6.3M547.9 840.2l9.1 6.3M613.5 843.6l9.1 6.3M602.9 847.0l9.1 6.3M649.1 841.2l9.1 6.3M656.3 846.3l9.1 6.3M696.8 844.3l9.1 6.3M703.5 849.5l9.1 6.3M747.7 847.3l9.1 6.3M743.1 848.3l9.1 6.3M785.1 846.5l9.1 6.3M785.0 848.8l9.1 6.3M826.5 843.7l9.1 6.3M822.2 846.5l9.1 6.3M886.5 844.6l9.1 6.3M875.6 844.9l9.1 6.3M935.7 846.6l9.1 6.3M930.5 840.7l9.1 6.3M964.3 845.0l9.1 6.3M980.6 844.1l9.1 6.3M1014.9 850.7l9.1 6.3M1016.9 848.1l9.1 6.3M1070.3 851.5l9.1 6.3M1061.8 847.9l9.1 6.3M1118.9 852.2l9.1 6.3M1107.1 850.0l9.1 6.3M1168.2 852.7l9.1 6.3M1169.0 847.8l9.1 6.3M1198.4 846.3l9.1 6.3M1197.9 851.9l9.1 6.3M1255.3 843.2l9.1 6.3M1248.8 842.8l9.1 6.3M1304.6 833.1l9.1 6.3M1280.8 837.9l9.1 6.3M1338.9 831.4l9.1 6.3M1349.4 830.5l9.1 6.3M1384.3 821.6l9.1 6.3M1384.2 825.6l9.1 6.3M1431.3 817.4l9.1 6.3M1435.9 817.8l9.1 6.3M1476.1 822.3l9.1 6.3M1482.5 816.4l9.1 6.3M1530.3 811.8l9.1 6.3M1513.9 818.5l9.1 6.3M1556.9 810.2l9.1 6.3M1559.8 818.5l9.1 6.3M1622.2 810.9l9.1 6.3M1602.6 810.3l9.1 6.3M1667.3 809.4l9.1 6.3M1648.5 808.1l9.1 6.3M1704.7 805.1l9.1 6.3M1719.8 800.7l9.1 6.3M1764.9 804.0l9.1 6.3M1748.6 801.2l9.1 6.3M1783.5 790.9l9.1 6.3M1794.0 799.1l9.1 6.3M1841.0 794.2l9.1 6.3M1854.7 789.0l9.1 6.3M1891.7 789.2l9.1 6.3M1879.6 791.0l9.1 6.3M6.3 784.2l9.0 6.3M17.1 778.4l9.0 6.3M61.3 771.6l9.0 6.3M63.9 773.1l9.0 6.3M114.7 773.8l9.0 6.3M119.5 768.5l9.0 6.3M140.3 772.7l9.0 6.3M153.8 772.1l9.0 6.3M199.9 777.4l9.0 6.3M193.9 769.6l9.0 6.3M239.5 776.7l9.0 6.3M253.0 780.4l9.0 6.3M290.3 781.2l9.0 6.3M289.8 781.9l9.0 6.3M323.1 793.0l9.0 6.3M337.7 800.1l9.0 6.3M389.5 806.8l9.0 6.3M382.6 804.5l9.0 6.3M438.2 807.2l9.0 6.3M434.7 807.5l9.0 6.3M477.2 810.9l9.0 6.3M465.6 814.7l9.0 6.3M525.9 822.5l9.0 6.3M528.2 822.1l9.0 6.3M551.2 825.8l9.0 6.3M571.8 819.0l9.0 6.3M606.6 825.5l9.0 6.3M602.8 822.6l9.0 6.3M658.6 834.2l9.0 6.3M642.3 828.1l9.0 6.3M687.6 829.5l9.0 6.3M693.6 835.0l9.0 6.3M747.1 835.0l9.0 6.3M746.3 836.4l9.0 6.3M801.7 834.2l9.0 6.3M799.6 835.6l9.0 6.3M844.7 828.3l9.0 6.3M832.8 835.6l9.0 6.3M878.5 830.0l9.0 6.3M874.2 830.8l9.0 6.3M916.1 830.9l9.0 6.3M933.4 831.2l9.0 6.3M977.6 834.5l9.0 6.3M981.7 834.6l9.0 6.3M1029.7 828.6l9.0 6.3M1030.3 832.8l9.0 6.3M1058.1 835.4l9.0 6.3M1070.6 834.5l9.0 6.3M1121.3 839.1l9.0 6.3M1108.7 831.5l9.0 6.3M1157.5 833.7l9.0 6.3M1143.9 838.2l9.0 6.3M1193.7 828.0l9.0 6.3M1210.1 833.4l9.0 6.3M1258.1 830.1l9.0 6.3M1247.9 821.8l9.0 6.3M1286.5 817.0l9.0 6.3M1296.4 824.8l9.0 6.3M1332.5 815.8l9.0 6.3M1329.6 813.2l9.0 6.3M1373.1 806.9l9.0 6.3M1377.8 813.8l9.0 6.3M1430.5 807.6l9.0 6.3M1428.7 800.3l9.0 6.3M1476.2 799.6l9.0 6.3M1460.7 800.2l9.0 6.3M1507.6 795.4l9.0 6.3M1508.7 796.1l9.0 6.3M1560.9 795.9l9.0 6.3M1570.0 798.0l9.0 6.3M1599.6 787.5l9.0 6.3M1604.3 788.4l9.0 6.3M1665.8 789.2l9.0 6.3M1647.4 795.2l9.0 6.3M1712.9 789.4l9.0 6.3M1700.9 785.4l9.0 6.3M1736.3 782.4l9.0 6.3M1737.3 781.4l9.0 6.3M1792.9 776.5l9.0 6.3M1784.3 777.1l9.0 6.3M1831.2 775.1l9.0 6.3M1828.9 765.9l9.0 6.3M1881.4 762.2l9.0 6.3M1867.9 761.9l9.0 6.3M1927.0 764.2l9.0 6.3M1929.7 765.6l9.0 6.3M19.3 752.1l8.9 6.2M14.8 758.8l8.9 6.2M57.3 750.6l8.9 6.2M70.0 750.7l8.9 6.2M124.3 751.0l8.9 6.2M116.5 749.0l8.9 6.2M164.6 742.7l8.9 6.2M164.6 753.1l8.9 6.2M199.4 748.7l8.9 6.2M217.1 759.0l8.9 6.2M255.0 755.5l8.9 6.2M258.9 761.1l8.9 6.2M304.4 767.3l8.9 6.2M305.8 773.6l8.9 6.2M352.9 776.4l8.9 6.2M337.3 777.9l8.9 6.2M380.2 776.9l8.9 6.2M390.1 785.5l8.9 6.2M426.2 791.0l8.9 6.2M422.5 789.6l8.9 6.2M473.4 788.1l8.9 6.2M490.9 792.6l8.9 6.2M521.2 799.8l8.9 6.2M530.3 796.5l8.9 6.2M574.0 804.9l8.9 6.2M559.0 803.2l8.9 6.2M621.9 808.7l8.9 6.2M601.4 807.2l8.9 6.2M652.4 817.9l8.9 6.2M670.0 814.3l8.9 6.2M708.3 821.7l8.9 6.2M711.8 814.5l8.9 6.2M758.6 817.9l8.9 6.2M756.7 817.3l8.9 6.2M794.9 820.5l8.9 6.2M801.6 817.6l8.9 6.2M847.5 820.6l8.9 6.2M850.1 818.7l8.9 6.2M894.6 820.9l8.9 6.2M895.6 815.5l8.9 6.2M921.3 814.5l8.9 6.2M920.5 819.8l8.9 6.2M971.8 819.3l8.9 6.2M972.8 813.4l8.9 6.2M1023.1 815.6l8.9 6.2M1015.2 814.8l8.9 6.2M1071.1 816.5l8.9 6.2M1075.1 815.1l8.9 6.2M1106.1 822.6l8.9 6.2M1112.3 814.8l8.9 6.2M1149.1 816.3l8.9 6.2M1162.3 813.5l8.9 6.2M1185.2 815.3l8.9 6.2M1185.9 819.4l8.9 6.2M1252.3 809.3l8.9 6.2M1246.6 809.5l8.9 6.2M1284.8 807.3l8.9 6.2M1284.4 800.5l8.9 6.2M1337.6 799.3l8.9 6.2M1323.2 801.5l8.9 6.2M1384.7 791.4l8.9 6.2M1382.8 787.8l8.9 6.2M1413.5 785.3l8.9 6.2M1411.1 784.1l8.9 6.2M1461.4 784.7l8.9 6.2M1482.1 781.8l8.9 6.2M1506.0 774.1l8.9 6.2M1516.4 773.4l8.9 6.2M1556.7 775.4l8.9 6.2M1571.9 774.5l8.9 6.2M1619.0 775.8l8.9 6.2M1614.8 776.3l8.9 6.2M1652.3 775.9l8.9 6.2M1639.5 765.7l8.9 6.2M1692.6 763.0l8.9 6.2M1688.8 768.8l8.9 6.2M1729.1 762.1l8.9 6.2M1749.8 759.9l8.9 6.2M1780.1 751.1l8.9 6.2M1795.2 752.2l8.9 6.2M1818.3 750.0l8.9 6.2M1826.8 745.3l8.9 6.2M1871.0 745.7l8.9 6.2M1879.6 748.7l8.9 6.2M1920.3 746.2l8.9 6.2M1931.6 748.9l8.9 6.2M-5.6 741.2l8.8 6.2M-10.9 740.5l8.8 6.2M45.5 728.3l8.8 6.2M38.3 737.4l8.8 6.2M72.2 731.2l8.8 6.2M92.6 719.8l8.8 6.2M114.2 722.1l8.8 6.2M123.3 728.7l8.8 6.2M166.3 720.5l8.8 6.2M170.9 727.0l8.8 6.2M219.0 732.3l8.8 6.2M213.7 729.8l8.8 6.2M270.9 736.3l8.8 6.2M266.4 735.1l8.8 6.2M300.7 738.1l8.8 6.2M308.6 743.3l8.8 6.2M339.9 756.1l8.8 6.2M350.1 749.9l8.8 6.2M399.1 764.7l8.8 6.2M382.1 759.7l8.8 6.2M445.6 774.4l8.8 6.2M441.9 773.7l8.8 6.2M474.9 780.0l8.8 6.2M475.4 776.4l8.8 6.2M539.6 779.0l8.8 6.2M517.0 783.0l8.8 6.2M581.9 792.7l8.8 6.2M565.7 788.1l8.8 6.2M604.4 794.8l8.8 6.2M612.3 794.4l8.8 6.2M672.2 802.0l8.8 6.2M652.9 793.4l8.8 6.2M704.0 798.8l8.8 6.2M708.9 799.8l8.8 6.2M744.1 807.8l8.8 6.2M756.4 805.3l8.8 6.2M796.1 804.2l8.8 6.2M800.8 807.7l8.8 6.2M835.7 801.8l8.8 6.2M839.6 807.2l8.8 6.2M887.1 806.2l8.8 6.2M890.8 808.0l8.8 6.2M937.3 802.1l8.8 6.2M924.7 799.2l8.8 6.2M966.9 804.5l8.8 6.2M961.7 801.7l8.8 6.2M1024.7 799.7l8.8 6.2M1015.6 798.5l8.8 6.2M1052.3 803.3l8.8 6.2M1066.4 796.2l8.8 6.2M1110.9 798.2l8.8 6.2M1114.8 801.4l8.8 6.2M1163.7 795.1l8.8 6.2M1148.0 800.0l8.8 6.2M1205.2 796.3l8.8 6.2M1188.1 791.7l8.8 6.2M1242.4 790.3l8.8 6.2M1245.6 785.4l8.8 6.2M1276.7 788.3l8.8 6.2M1274.8 787.7l8.8 6.2M1330.5 775.6l8.8 6.2M1335.4 778.1l8.8 6.2M1373.1 773.4l8.8 6.2M1369.0 770.9l8.8 6.2M1427.5 764.1l8.8 6.2M1410.8 767.8l8.8 6.2M1472.1 763.1l8.8 6.2M1474.9 758.5l8.8 6.2M1515.6 756.0l8.8 6.2M1513.0 755.6l8.8 6.2M1544.2 755.3l8.8 6.2M1559.9 755.3l8.8 6.2M1594.8 759.4l8.8 6.2M1601.2 750.7l8.8 6.2M1639.1 755.2l8.8 6.2M1638.1 756.6l8.8 6.2M1691.9 742.4l8.8 6.2M1697.5 748.7l8.8 6.2M1740.7 746.9l8.8 6.2M1743.4 743.8l8.8 6.2M1764.5 737.8l8.8 6.2M1769.6 741.0l8.8 6.2M1811.5 734.0l8.8 6.2M1823.2 729.0l8.8 6.2M1854.0 726.4l8.8 6.2M1858.6 732.6l8.8 6.2M1916.8 732.2l8.8 6.2M1907.7 729.3l8.8 6.2M6.3 722.3l8.8 6.1M-13.1 725.2l8.8 6.1M29.7 716.9l8.8 6.1M38.1 719.4l8.8 6.1M91.1 703.6l8.8 6.1M88.4 707.4l8.8 6.1M131.7 701.8l8.8 6.1M125.3 698.9l8.8 6.1M189.8 700.7l8.8 6.1M186.8 706.2l8.8 6.1M230.9 714.9l8.8 6.1M217.6 712.3l8.8 6.1M263.4 713.3l8.8 6.1M269.3 717.3l8.8 6.1M303.0 727.5l8.8 6.1M304.9 726.8l8.8 6.1M345.3 730.2l8.8 6.1M352.9 735.3l8.8 6.1M389.6 739.8l8.8 6.1M388.2 744.5l8.8 6.1M443.5 749.7l8.8 6.1M454.6 751.1l8.8 6.1M498.7 756.0l8.8 6.1M492.2 757.2l8.8 6.1M517.7 766.3l8.8 6.1M518.0 759.4l8.8 6.1M580.6 770.1l8.8 6.1M567.8 771.4l8.8 6.1M610.0 773.8l8.8 6.1M631.4 779.9l8.8 6.1M650.3 783.4l8.8 6.1M659.9 776.8l8.8 6.1M715.4 786.8l8.8 6.1M696.2 788.8l8.8 6.1M742.9 785.4l8.8 6.1M751.6 783.8l8.8 6.1M807.3 787.6l8.8 6.1M795.8 787.1l8.8 6.1M830.2 794.1l8.8 6.1M842.1 790.2l8.8 6.1M876.9 791.9l8.8 6.1M872.3 785.9l8.8 6.1M934.8 783.2l8.8 6.1M941.9 787.8l8.8 6.1M979.6 787.0l8.8 6.1M981.8 782.3l8.8 6.1M1008.1 789.9l8.8 6.1M1010.2 783.9l8.8 6.1M1059.1 788.7l8.8 6.1M1070.8 779.7l8.8 6.1M1105.8 786.8l8.8 6.1M1116.8 780.5l8.8 6.1M1139.5 781.7l8.8 6.1M1153.8 773.7l8.8 6.1M1194.6 773.2l8.8 6.1M1187.6 778.9l8.8 6.1M1250.5 770.6l8.8 6.1M1228.9 770.4l8.8 6.1M1274.3 770.2l8.8 6.1M1282.6 764.4l8.8 6.1M1331.5 757.5l8.8 6.1M1327.3 765.7l8.8 6.1M1379.4 759.8l8.8 6.1M1371.9 756.7l8.8 6.1M1421.0 747.9l8.8 6.1M1409.6 749.8l8.8 6.1M1466.4 746.0l8.8 6.1M1450.7 742.8l8.8 6.1M1509.4 746.7l8.8 6.1M1497.3 737.8l8.8 6.1M1543.0 740.7l8.8 6.1M1556.6 735.3l8.8 6.1M1597.1 733.8l8.8 6.1M1583.2 741.5l8.8 6.1M1650.2 729.9l8.8 6.1M1627.8 739.4l8.8 6.1M1674.5 726.6l8.8 6.1M1674.9 729.4l8.8 6.1M1738.2 723.1l8.8 6.1M1739.3 726.9l8.8 6.1M1764.3 726.4l8.8 6.1M1780.1 723.5l8.8 6.1M1827.6 712.5l8.8 6.1M1806.3 713.5l8.8 6.1M1851.3 713.1l8.8 6.1M1848.5 710.6l8.8 6.1M1913.0 711.0l8.8 6.1M1889.8 709.9l8.8 6.1M10.6 705.0l8.7 6.1M-6.9 715.5l8.7 6.1M50.7 699.3l8.7 6.1M45.4 702.8l8.7 6.1M98.7 693.1l8.7 6.1M104.6 685.2l8.7 6.1M135.7 688.9l8.7 6.1M141.1 687.9l8.7 6.1M178.9 689.2l8.7 6.1M195.2 685.6l8.7 6.1M220.8 693.4l8.7 6.1M233.8 687.1l8.7 6.1M278.0 703.5l8.7 6.1M266.1 698.8l8.7 6.1M320.0 712.3l8.7 6.1M318.8 702.9l8.7 6.1M363.7 723.7l8.7 6.1M345.7 718.5l8.7 6.1M407.6 726.7l8.7 6.1M402.6 727.2l8.7 6.1M444.0 733.5l8.7 6.1M451.3 731.6l8.7 6.1M497.0 740.1l8.7 6.1M501.9 740.4l8.7 6.1M538.7 753.5l8.7 6.1M539.7 745.4l8.7 6.1M577.0 749.8l8.7 6.1M570.6 748.3l8.7 6.1M620.9 756.8l8.7 6.1M615.1 760.3l8.7 6.1M661.7 765.5l8.7 6.1M655.2 763.5l8.7 6.1M722.8 768.0l8.7 6.1M721.7 766.8l8.7 6.1M763.4 767.3l8.7 6.1M760.3 774.6l8.7 6.1M791.1 774.5l8.7 6.1M784.9 776.2l8.7 6.1M852.3 770.0l8.7 6.1M837.5 771.6l8.7 6.1M893.2 769.3l8.7 6.1M893.5 772.8l8.7 6.1M919.4 768.8l8.7 6.1M924.9 770.5l8.7 6.1M970.2 769.0l8.7 6.1M985.9 772.1l8.7 6.1M1018.4 765.2l8.7 6.1M1018.6 762.0l8.7 6.1M1059.0 759.6l8.7 6.1M1066.4 758.5l8.7 6.1M1094.9 765.6l8.7 6.1M1099.7 756.7l8.7 6.1M1136.9 761.9l8.7 6.1M1154.8 750.7l8.7 6.1M1185.0 755.0l8.7 6.1M1198.2 750.1l8.7 6.1M1243.6 744.4l8.7 6.1M1231.1 752.5l8.7 6.1M1268.7 742.7l8.7 6.1M1274.1 748.0l8.7 6.1M1337.4 737.1l8.7 6.1M1327.5 737.8l8.7 6.1M1371.5 733.6l8.7 6.1M1365.0 741.8l8.7 6.1M1402.9 738.9l8.7 6.1M1410.4 736.7l8.7 6.1M1447.0 729.5l8.7 6.1M1469.2 725.5l8.7 6.1M1494.5 722.6l8.7 6.1M1493.7 729.8l8.7 6.1M1540.2 723.1l8.7 6.1M1550.3 722.1l8.7 6.1M1596.4 723.1l8.7 6.1M1601.0 720.3l8.7 6.1M1643.4 721.0l8.7 6.1M1642.7 719.0l8.7 6.1M1685.3 709.8l8.7 6.1M1682.3 715.4l8.7 6.1M1709.2 713.8l8.7 6.1M1733.0 711.5l8.7 6.1M1768.8 703.1l8.7 6.1M1770.5 707.0l8.7 6.1M1801.2 704.6l8.7 6.1M1822.1 700.0l8.7 6.1M1856.6 697.1l8.7 6.1M1847.5 701.8l8.7 6.1M1882.4 695.1l8.7 6.1M1884.9 694.4l8.7 6.1M1929.9 700.7l8.7 6.1M7.9 696.6l8.6 6.0M13.7 696.9l8.6 6.0M53.6 682.2l8.6 6.0M52.5 685.4l8.6 6.0M107.9 675.9l8.6 6.0M93.0 678.3l8.6 6.0M142.2 671.4l8.6 6.0M149.4 670.1l8.6 6.0M197.3 674.2l8.6 6.0M195.1 667.2l8.6 6.0M224.2 677.1l8.6 6.0M229.9 677.1l8.6 6.0M276.3 679.4l8.6 6.0M264.5 682.7l8.6 6.0M318.5 694.0l8.6 6.0M312.9 690.0l8.6 6.0M352.3 703.0l8.6 6.0M360.0 700.9l8.6 6.0M418.9 713.0l8.6 6.0M395.3 711.3l8.6 6.0M457.5 720.1l8.6 6.0M461.9 717.1l8.6 6.0M502.9 731.4l8.6 6.0M506.2 728.0l8.6 6.0M530.5 734.5l8.6 6.0M547.0 736.2l8.6 6.0M570.3 738.5l8.6 6.0M592.7 739.1l8.6 6.0M630.5 747.2l8.6 6.0M623.7 744.0l8.6 6.0M661.4 744.5l8.6 6.0M664.6 750.4l8.6 6.0M725.1 752.5l8.6 6.0M703.3 755.5l8.6 6.0M760.0 754.7l8.6 6.0M743.5 754.1l8.6 6.0M805.9 756.6l8.6 6.0M792.6 756.6l8.6 6.0M846.0 756.0l8.6 6.0M834.1 754.4l8.6 6.0M898.5 753.9l8.6 6.0M896.0 757.8l8.6 6.0M940.8 757.4l8.6 6.0M923.2 754.1l8.6 6.0M984.4 755.6l8.6 6.0M966.4 757.3l8.6 6.0M1015.9 752.7l8.6 6.0M1009.4 746.5l8.6 6.0M1063.1 739.4l8.6 6.0M1058.4 743.0l8.6 6.0M1091.7 736.3l8.6 6.0M1097.7 741.5l8.6 6.0M1148.2 729.5l8.6 6.0M1147.6 729.0l8.6 6.0M1195.3 734.0l8.6 6.0M1200.9 733.5l8.6 6.0M1248.5 724.7l8.6 6.0M1227.7 719.6l8.6 6.0M1274.5 723.1l8.6 6.0M1274.6 719.3l8.6 6.0M1310.3 720.8l8.6 6.0M1313.2 714.4l8.6 6.0M1352.9 715.2l8.6 6.0M1359.9 716.8l8.6 6.0M1410.9 710.8l8.6 6.0M1400.8 717.0l8.6 6.0M1442.3 706.1l8.6 6.0M1445.0 715.2l8.6 6.0M1497.3 706.6l8.6 6.0M1508.2 711.4l8.6 6.0M1534.4 708.5l8.6 6.0M1542.8 705.1l8.6 6.0M1580.5 698.5l8.6 6.0M1587.2 698.4l8.6 6.0M1640.3 701.6l8.6 6.0M1639.5 700.2l8.6 6.0M1658.1 693.8l8.6 6.0M1662.5 702.6l8.6 6.0M1710.1 695.8l8.6 6.0M1725.6 688.5l8.6 6.0M1756.2 688.8l8.6 6.0M1766.3 685.0l8.6 6.0M1805.9 684.6l8.6 6.0M1793.0 688.0l8.6 6.0M1849.3 682.5l8.6 6.0M1851.6 679.8l8.6 6.0M1902.7 688.7l8.6 6.0M1876.2 680.8l8.6 6.0M16.0 683.4l8.5 6.0M25.0 679.2l8.5 6.0M56.9 671.2l8.5 6.0M69.8 670.0l8.5 6.0M115.8 659.5l8.5 6.0M97.1 664.4l8.5 6.0M158.7 655.6l8.5 6.0M155.6 659.4l8.5 6.0M209.4 655.2l8.5 6.0M189.2 657.0l8.5 6.0M250.3 664.2l8.5 6.0M239.0 656.8l8.5 6.0M292.2 671.8l8.5 6.0M288.4 670.0l8.5 6.0M331.2 676.0l8.5 6.0M315.4 677.0l8.5 6.0M361.1 687.5l8.5 6.0M356.0 687.4l8.5 6.0M409.7 697.1l8.5 6.0M401.7 694.0l8.5 6.0M467.3 706.7l8.5 6.0M452.5 703.0l8.5 6.0M496.4 714.6l8.5 6.0M497.1 716.0l8.5 6.0M545.8 720.9l8.5 6.0M539.8 713.1l8.5 6.0M592.9 719.7l8.5 6.0M589.2 721.2l8.5 6.0M634.6 722.3l8.5 6.0M621.1 723.0l8.5 6.0M666.1 732.2l8.5 6.0M680.2 730.0l8.5 6.0M724.5 731.0l8.5 6.0M716.7 737.3l8.5 6.0M745.6 736.1l8.5 6.0M763.7 740.1l8.5 6.0M789.6 744.3l8.5 6.0M793.0 737.2l8.5 6.0M831.4 743.2l8.5 6.0M838.6 738.2l8.5 6.0M900.1 744.3l8.5 6.0M878.0 735.6l8.5 6.0M943.0 740.5l8.5 6.0M926.7 737.7l8.5 6.0M969.5 735.7l8.5 6.0M973.6 737.0l8.5 6.0M1005.8 736.0l8.5 6.0M1008.6 735.6l8.5 6.0M1063.7 722.6l8.5 6.0M1054.3 722.7l8.5 6.0M1109.8 720.7l8.5 6.0M1103.7 723.5l8.5 6.0M1158.0 710.7l8.5 6.0M1135.6 719.5l8.5 6.0M1195.3 707.8l8.5 6.0M1196.1 709.9l8.5 6.0M1240.7 696.2l8.5 6.0M1222.8 701.4l8.5 6.0M1268.3 695.3l8.5 6.0M1284.0 693.1l8.5 6.0M1313.5 701.6l8.5 6.0M1323.9 694.7l8.5 6.0M1354.2 699.0l8.5 6.0M1365.9 699.8l8.5 6.0M1410.2 696.8l8.5 6.0M1400.1 694.9l8.5 6.0M1449.8 689.7l8.5 6.0M1436.8 690.2l8.5 6.0M1485.9 692.6l8.5 6.0M1495.8 687.8l8.5 6.0M1537.7 683.5l8.5 6.0M1528.7 690.0l8.5 6.0M1584.0 687.7l8.5 6.0M1571.0 688.7l8.5 6.0M1628.2 679.7l8.5 6.0M1626.4 678.5l8.5 6.0M1673.8 682.0l8.5 6.0M1659.9 678.8l8.5 6.0M1696.8 677.2l8.5 6.0M1699.7 682.5l8.5 6.0M1753.6 676.5l8.5 6.0M1761.6 668.8l8.5 6.0M1795.3 672.8l8.5 6.0M1785.2 670.6l8.5 6.0M1839.4 670.2l8.5 6.0M1843.8 668.8l8.5 6.0M1890.5 675.4l8.5 6.0M1870.9 671.2l8.5 6.0M1925.5 679.9l8.5 6.0M1930.4 681.1l8.5 6.0M-14.5 679.5l8.5 5.9M2.2 672.7l8.5 5.9M33.0 670.7l8.5 5.9M31.4 668.0l8.5 5.9M66.8 663.4l8.5 5.9M89.0 654.1l8.5 5.9M107.9 653.2l8.5 5.9M119.7 652.2l8.5 5.9M150.4 646.1l8.5 5.9M167.1 646.7l8.5 5.9M192.1 646.2l8.5 5.9M194.7 642.9l8.5 5.9M233.7 649.0l8.5 5.9M251.6 652.3l8.5 5.9M277.2 656.7l8.5 5.9M280.4 654.0l8.5 5.9M339.2 669.1l8.5 5.9M324.3 661.1l8.5 5.9M372.2 675.4l8.5 5.9M364.1 674.3l8.5 5.9M428.4 689.4l8.5 5.9M412.0 681.0l8.5 5.9M471.4 690.7l8.5 5.9M460.8 688.5l8.5 5.9M505.3 700.5l8.5 5.9M502.8 696.7l8.5 5.9M551.1 707.1l8.5 5.9M539.2 698.9l8.5 5.9M579.4 703.9l8.5 5.9M584.1 709.2l8.5 5.9M625.3 710.6l8.5 5.9M643.6 715.0l8.5 5.9M683.3 716.6l8.5 5.9M666.5 711.2l8.5 5.9M712.8 720.2l8.5 5.9M715.7 714.1l8.5 5.9M769.6 720.1l8.5 5.9M747.9 716.9l8.5 5.9M806.1 718.5l8.5 5.9M814.4 724.7l8.5 5.9M855.0 720.2l8.5 5.9M839.7 724.7l8.5 5.9M885.4 724.4l8.5 5.9M885.3 726.9l8.5 5.9M924.6 717.1l8.5 5.9M929.3 719.5l8.5 5.9M984.3 713.6l8.5 5.9M967.8 713.5l8.5 5.9M1024.9 706.0l8.5 5.9M1023.0 708.8l8.5 5.9M1068.2 707.7l8.5 5.9M1064.1 706.9l8.5 5.9M1111.8 701.9l8.5 5.9M1104.0 700.8l8.5 5.9M1154.1 691.6l8.5 5.9M1154.3 684.8l8.5 5.9M1198.7 686.9l8.5 5.9M1199.6 678.1l8.5 5.9M1235.8 674.6l8.5 5.9M1219.3 673.3l8.5 5.9M1275.5 674.3l8.5 5.9M1269.7 669.8l8.5 5.9M1323.7 667.5l8.5 5.9M1310.0 674.9l8.5 5.9M1354.2 678.3l8.5 5.9M1356.3 679.3l8.5 5.9M1411.0 677.1l8.5 5.9M1392.6 679.0l8.5 5.9M1452.5 676.9l8.5 5.9M1444.8 674.8l8.5 5.9M1495.0 667.6l8.5 5.9M1483.2 671.3l8.5 5.9M1541.5 670.7l8.5 5.9M1540.9 668.1l8.5 5.9M1568.2 665.5l8.5 5.9M1577.2 672.8l8.5 5.9M1618.1 663.5l8.5 5.9M1617.5 667.0l8.5 5.9M1656.4 660.8l8.5 5.9M1665.0 666.9l8.5 5.9M1699.6 662.7l8.5 5.9M1713.7 658.3l8.5 5.9M1734.3 654.5l8.5 5.9M1733.2 657.7l8.5 5.9M1785.7 653.0l8.5 5.9M1788.1 658.8l8.5 5.9M1830.4 651.8l8.5 5.9M1839.2 656.0l8.5 5.9M1865.8 654.8l8.5 5.9M1883.0 661.0l8.5 5.9M1924.3 663.1l8.5 5.9M1915.7 665.5l8.5 5.9M-5.6 664.9l8.4 5.9M-10.1 667.0l8.4 5.9M40.9 656.3l8.4 5.9M33.2 656.1l8.4 5.9M95.6 646.3l8.4 5.9M88.6 649.5l8.4 5.9M135.7 640.3l8.4 5.9M133.3 639.2l8.4 5.9M165.8 635.7l8.4 5.9M158.0 640.6l8.4 5.9M211.7 634.7l8.4 5.9M222.0 634.6l8.4 5.9M254.4 637.2l8.4 5.9M252.6 641.6l8.4 5.9M299.4 644.4l8.4 5.9M293.4 644.6l8.4 5.9M330.5 653.9l8.4 5.9M335.4 653.3l8.4 5.9M377.8 665.6l8.4 5.9M366.8 661.3l8.4 5.9M428.6 671.2l8.4 5.9M414.9 672.3l8.4 5.9M464.4 682.0l8.4 5.9M468.6 677.0l8.4 5.9M499.9 684.0l8.4 5.9M513.6 684.3l8.4 5.9M555.7 688.8l8.4 5.9M544.8 686.8l8.4 5.9M602.2 697.8l8.4 5.9M603.5 694.6l8.4 5.9M623.4 699.2l8.4 5.9M642.6 695.0l8.4 5.9M668.0 698.5l8.4 5.9M681.6 694.4l8.4 5.9M715.9 698.6l8.4 5.9M712.8 703.8l8.4 5.9M753.4 704.3l8.4 5.9M765.0 705.9l8.4 5.9M795.8 708.3l8.4 5.9M793.8 708.4l8.4 5.9M842.4 706.7l8.4 5.9M839.1 706.9l8.4 5.9M888.3 701.8l8.4 5.9M889.5 702.0l8.4 5.9M931.3 707.3l8.4 5.9M934.3 707.6l8.4 5.9M966.1 705.6l8.4 5.9M979.7 695.5l8.4 5.9M1014.6 697.0l8.4 5.9M1015.2 696.9l8.4 5.9M1064.4 688.3l8.4 5.9M1050.6 685.9l8.4 5.9M1104.1 684.6l8.4 5.9M1110.8 674.8l8.4 5.9M1140.7 669.1l8.4 5.9M1155.3 668.7l8.4 5.9M1185.4 663.8l8.4 5.9M1188.2 658.3l8.4 5.9M1234.9 646.6l8.4 5.9M1220.5 656.7l8.4 5.9M1280.4 645.5l8.4 5.9M1273.9 647.3l8.4 5.9M1309.6 643.4l8.4 5.9M1315.8 651.0l8.4 5.9M1349.5 656.1l8.4 5.9M1366.4 648.4l8.4 5.9M1387.6 655.5l8.4 5.9M1398.8 654.0l8.4 5.9M1437.4 650.9l8.4 5.9M1437.9 654.9l8.4 5.9M1494.9 653.8l8.4 5.9M1484.1 657.1l8.4 5.9M1523.6 653.4l8.4 5.9M1534.7 656.4l8.4 5.9M1566.3 653.9l8.4 5.9M1564.5 648.9l8.4 5.9M1613.4 652.8l8.4 5.9M1606.4 647.8l8.4 5.9M1644.9 646.9l8.4 5.9M1643.0 651.9l8.4 5.9M1684.4 642.9l8.4 5.9M1688.6 648.4l8.4 5.9M1728.8 644.9l8.4 5.9M1744.3 639.2l8.4 5.9M1790.3 635.0l8.4 5.9M1781.2 635.5l8.4 5.9M1811.9 635.4l8.4 5.9M1823.7 642.4l8.4 5.9M1871.3 641.3l8.4 5.9M1865.5 646.7l8.4 5.9M1917.4 651.4l8.4 5.9M1909.3 648.0l8.4 5.9M12.0 652.6l8.3 5.8M-5.4 658.1l8.3 5.8M40.7 648.1l8.3 5.8M54.8 644.1l8.3 5.8M89.0 638.9l8.3 5.8M88.2 641.2l8.3 5.8M125.0 636.3l8.3 5.8M146.6 631.4l8.3 5.8M178.4 631.5l8.3 5.8M165.0 632.4l8.3 5.8M213.9 629.1l8.3 5.8M205.6 629.6l8.3 5.8M261.6 634.2l8.3 5.8M258.4 631.0l8.3 5.8M302.6 637.8l8.3 5.8M310.9 638.4l8.3 5.8M338.6 644.3l8.3 5.8M355.4 644.8l8.3 5.8M395.8 654.4l8.3 5.8M375.1 652.7l8.3 5.8M424.9 658.9l8.3 5.8M415.6 656.6l8.3 5.8M476.6 668.6l8.3 5.8M457.7 663.7l8.3 5.8M509.7 671.5l8.3 5.8M513.8 671.5l8.3 5.8M552.3 673.2l8.3 5.8M566.1 674.4l8.3 5.8M598.3 681.4l8.3 5.8M592.1 681.4l8.3 5.8M648.6 679.9l8.3 5.8M645.7 679.5l8.3 5.8M692.7 682.8l8.3 5.8M675.8 681.5l8.3 5.8M716.2 684.7l8.3 5.8M714.0 682.3l8.3 5.8M763.6 690.1l8.3 5.8M774.4 692.4l8.3 5.8M817.4 687.7l8.3 5.8M797.7 687.0l8.3 5.8M850.6 686.9l8.3 5.8M850.6 691.5l8.3 5.8M901.3 694.1l8.3 5.8M897.4 694.0l8.3 5.8M926.9 692.6l8.3 5.8M942.0 688.6l8.3 5.8M980.5 686.5l8.3 5.8M980.6 683.0l8.3 5.8M1006.7 680.9l8.3 5.8M1022.5 681.0l8.3 5.8M1063.0 672.6l8.3 5.8M1055.6 668.0l8.3 5.8M1112.0 653.2l8.3 5.8M1099.2 661.1l8.3 5.8M1150.8 645.2l8.3 5.8M1141.9 646.5l8.3 5.8M1182.4 634.6l8.3 5.8M1185.0 644.3l8.3 5.8M1234.2 635.0l8.3 5.8M1232.6 636.4l8.3 5.8M1281.9 626.2l8.3 5.8M1276.2 631.8l8.3 5.8M1315.4 629.2l8.3 5.8M1304.9 623.0l8.3 5.8M1342.1 629.8l8.3 5.8M1342.8 625.2l8.3 5.8M1406.9 640.7l8.3 5.8M1395.1 634.9l8.3 5.8M1443.1 635.4l8.3 5.8M1433.1 632.8l8.3 5.8M1473.1 642.3l8.3 5.8M1489.1 642.5l8.3 5.8M1514.4 638.6l8.3 5.8M1519.1 641.7l8.3 5.8M1575.4 636.9l8.3 5.8M1572.4 639.1l8.3 5.8M1617.9 637.0l8.3 5.8M1616.5 633.4l8.3 5.8M1659.6 628.9l8.3 5.8M1651.9 631.8l8.3 5.8M1699.9 628.8l8.3 5.8M1679.2 625.9l8.3 5.8M1739.9 623.5l8.3 5.8M1740.1 627.9l8.3 5.8M1772.8 620.7l8.3 5.8M1785.0 619.5l8.3 5.8M1807.8 622.2l8.3 5.8M1818.9 625.4l8.3 5.8M1852.4 630.8l8.3 5.8M1858.5 628.7l8.3 5.8M1896.1 636.9l8.3 5.8M1901.5 635.2l8.3 5.8M28.3 645.1l8.2 5.8M5.9 647.8l8.2 5.8M67.4 641.2l8.2 5.8M56.5 642.5l8.2 5.8M84.8 639.0l8.2 5.8M87.6 638.8l8.2 5.8M143.3 633.7l8.2 5.8M151.8 633.4l8.2 5.8M179.9 632.7l8.2 5.8M185.0 631.0l8.2 5.8M233.0 630.7l8.2 5.8M220.2 630.4l8.2 5.8M261.8 632.4l8.2 5.8M260.4 632.4l8.2 5.8M294.1 633.0l8.2 5.8M307.1 634.7l8.2 5.8M347.5 640.3l8.2 5.8M357.5 641.1l8.2 5.8M396.2 645.6l8.2 5.8M403.2 647.4l8.2 5.8M436.0 654.9l8.2 5.8M420.6 650.7l8.2 5.8M485.1 659.7l8.2 5.8M474.3 660.2l8.2 5.8M514.5 658.6l8.2 5.8M518.6 659.4l8.2 5.8M544.5 665.8l8.2 5.8M550.1 661.5l8.2 5.8M590.0 662.7l8.2 5.8M594.1 663.3l8.2 5.8M641.0 669.5l8.2 5.8M652.4 669.2l8.2 5.8M686.9 673.4l8.2 5.8M691.7 665.7l8.2 5.8M715.0 668.5l8.2 5.8M718.2 674.0l8.2 5.8M763.0 671.2l8.2 5.8M778.1 668.8l8.2 5.8M820.4 673.7l8.2 5.8M811.5 677.6l8.2 5.8M855.4 675.0l8.2 5.8M846.5 671.7l8.2 5.8M885.1 678.7l8.2 5.8M882.7 678.7l8.2 5.8M935.5 671.2l8.2 5.8M924.7 674.4l8.2 5.8M976.9 669.8l8.2 5.8M972.8 670.4l8.2 5.8M1004.6 670.4l8.2 5.8M1014.8 667.2l8.2 5.8M1065.0 656.9l8.2 5.8M1066.7 656.5l8.2 5.8M1090.1 648.4l8.2 5.8M1097.6 647.5l8.2 5.8M1148.9 633.3l8.2 5.8M1146.1 627.9l8.2 5.8M1182.6 620.6l8.2 5.8M1194.3 616.3l8.2 5.8M1218.1 617.2l8.2 5.8M1215.3 614.7l8.2 5.8M1256.8 604.9l8.2 5.8M1265.7 608.6l8.2 5.8M1308.7 601.6l8.2 5.8M1303.2 610.5l8.2 5.8M1346.3 612.4l8.2 5.8M1360.8 610.0l8.2 5.8M1391.5 619.7l8.2 5.8M1382.0 619.0l8.2 5.8M1442.8 620.1l8.2 5.8M1425.5 618.8l8.2 5.8M1465.1 622.7l8.2 5.8M1473.0 626.6l8.2 5.8M1523.4 621.6l8.2 5.8M1519.1 626.4l8.2 5.8M1564.1 622.8l8.2 5.8M1564.9 625.7l8.2 5.8M1613.1 623.9l8.2 5.8M1594.8 621.6l8.2 5.8M1637.0 621.4l8.2 5.8M1646.3 612.4l8.2 5.8M1681.6 616.0l8.2 5.8M1690.2 615.6l8.2 5.8M1723.5 608.4l8.2 5.8M1726.3 613.4l8.2 5.8M1757.6 607.8l8.2 5.8M1779.1 603.7l8.2 5.8M1800.2 608.1l8.2 5.8M1811.2 611.6l8.2 5.8M1856.3 614.3l8.2 5.8M1860.7 616.7l8.2 5.8M1903.2 622.2l8.2 5.8M1894.7 625.4l8.2 5.8M-14.3 644.5l8.2 5.7M28.3 644.6l8.2 5.7M16.1 645.2l8.2 5.7M67.2 643.6l8.2 5.7M61.3 643.7l8.2 5.7M103.2 642.5l8.2 5.7M102.2 643.4l8.2 5.7M143.3 637.8l8.2 5.7M137.8 641.4l8.2 5.7M198.0 638.8l8.2 5.7M181.3 640.6l8.2 5.7M233.7 635.3l8.2 5.7M227.5 638.3l8.2 5.7M257.2 635.0l8.2 5.7M268.9 639.0l8.2 5.7M324.3 638.3l8.2 5.7M323.7 639.3l8.2 5.7M363.4 640.8l8.2 5.7M366.1 640.9l8.2 5.7M406.8 643.4l8.2 5.7M387.9 642.3l8.2 5.7M436.0 646.2l8.2 5.7M433.7 645.4l8.2 5.7M479.7 649.9l8.2 5.7M472.7 647.9l8.2 5.7M519.6 650.9l8.2 5.7M523.0 652.7l8.2 5.7M561.4 653.7l8.2 5.7M568.2 650.6l8.2 5.7M609.5 653.1l8.2 5.7M597.1 649.5l8.2 5.7M644.0 655.2l8.2 5.7M638.5 654.8l8.2 5.7M691.0 652.5l8.2 5.7M685.2 653.1l8.2 5.7M719.5 656.6l8.2 5.7M722.9 658.0l8.2 5.7M764.9 655.5l8.2 5.7M773.6 660.7l8.2 5.7M803.2 656.6l8.2 5.7M813.6 658.0l8.2 5.7M854.5 659.0l8.2 5.7M845.0 664.3l8.2 5.7M888.7 665.0l8.2 5.7M903.9 660.8l8.2 5.7M938.2 656.1l8.2 5.7M941.3 661.9l8.2 5.7M971.1 660.5l8.2 5.7M982.6 654.5l8.2 5.7M1016.3 652.5l8.2 5.7M1010.9 652.6l8.2 5.7M1063.2 638.6l8.2 5.7M1066.6 637.9l8.2 5.7M1098.0 632.2l8.2 5.7M1094.6 628.9l8.2 5.7M1133.2 622.9l8.2 5.7M1135.1 615.7l8.2 5.7M1191.2 602.5l8.2 5.7M1190.6 597.2l8.2 5.7M1222.2 596.3l8.2 5.7M1230.6 592.8l8.2 5.7M1255.1 583.9l8.2 5.7M1263.7 588.7l8.2 5.7M1309.3 590.9l8.2 5.7M1294.8 588.4l8.2 5.7M1345.8 597.6l8.2 5.7M1344.3 590.0l8.2 5.7M1384.8 597.4l8.2 5.7M1393.0 603.2l8.2 5.7M1418.5 602.5l8.2 5.7M1434.0 607.5l8.2 5.7M1463.9 605.6l8.2 5.7M1483.0 611.6l8.2 5.7M1515.5 609.4l8.2 5.7M1510.3 613.6l8.2 5.7M1550.2 608.2l8.2 5.7M1557.5 608.9l8.2 5.7M1587.9 609.6l8.2 5.7M1592.0 607.7l8.2 5.7M1633.1 600.2l8.2 5.7M1626.7 600.2l8.2 5.7M1671.6 596.6l8.2 5.7M1672.6 598.8l8.2 5.7M1719.3 599.2l8.2 5.7M1726.9 591.4l8.2 5.7M1755.3 590.0l8.2 5.7M1759.6 588.0l8.2 5.7M1792.9 593.5l8.2 5.7M1796.2 591.5l8.2 5.7M1850.3 596.0l8.2 5.7M1846.6 599.2l8.2 5.7M1895.5 612.6l8.2 5.7M1879.2 603.1l8.2 5.7M1923.9 614.1l8.2 5.7M1917.7 616.2l8.2 5.7M-13.8 640.6l8.1 5.7M-11.1 641.2l8.1 5.7M35.9 642.1l8.1 5.7M41.2 643.1l8.1 5.7M72.2 643.6l8.1 5.7M70.5 643.1l8.1 5.7M107.5 644.7l8.1 5.7M108.8 644.6l8.1 5.7M157.2 645.3l8.1 5.7M147.0 644.6l8.1 5.7M205.8 644.3l8.1 5.7M186.3 645.3l8.1 5.7M236.3 643.3l8.1 5.7M233.3 644.7l8.1 5.7M273.0 642.3l8.1 5.7M288.0 641.7l8.1 5.7M314.8 640.8l8.1 5.7M322.9 640.7l8.1 5.7M357.8 639.7l8.1 5.7M353.8 639.3l8.1 5.7M400.4 637.4l8.1 5.7M398.1 637.9l8.1 5.7M429.1 639.5l8.1 5.7M453.4 636.9l8.1 5.7M486.9 637.9l8.1 5.7M481.1 640.0l8.1 5.7M516.0 636.8l8.1 5.7M527.9 640.0l8.1 5.7M567.5 641.5l8.1 5.7M566.8 641.1l8.1 5.7M605.7 640.3l8.1 5.7M606.3 642.0l8.1 5.7M646.7 638.2l8.1 5.7M637.5 640.9l8.1 5.7M692.4 639.9l8.1 5.7M691.2 637.7l8.1 5.7M730.4 644.0l8.1 5.7M728.0 638.4l8.1 5.7M772.0 640.8l8.1 5.7M766.7 643.3l8.1 5.7M823.0 642.3l8.1 5.7M814.6 648.3l8.1 5.7M854.6 650.3l8.1 5.7M863.2 642.5l8.1 5.7M898.8 649.0l8.1 5.7M901.6 649.8l8.1 5.7M942.4 646.4l8.1 5.7M922.6 643.9l8.1 5.7M974.0 642.2l8.1 5.7M980.1 643.8l8.1 5.7M1025.5 640.1l8.1 5.7M1026.3 639.0l8.1 5.7M1045.9 635.0l8.1 5.7M1047.0 636.6l8.1 5.7M1101.9 620.5l8.1 5.7M1090.3 623.2l8.1 5.7M1133.9 603.4l8.1 5.7M1149.4 597.8l8.1 5.7M1192.9 585.7l8.1 5.7M1188.2 588.6l8.1 5.7M1232.0 572.5l8.1 5.7M1227.9 578.6l8.1 5.7M1252.3 568.5l8.1 5.7M1264.0 570.5l8.1 5.7M1313.4 576.0l8.1 5.7M1308.9 572.8l8.1 5.7M1352.1 579.2l8.1 5.7M1336.8 572.2l8.1 5.7M1380.2 582.0l8.1 5.7M1394.7 588.7l8.1 5.7M1432.2 593.3l8.1 5.7M1421.0 593.1l8.1 5.7M1479.7 598.1l8.1 5.7M1468.5 596.3l8.1 5.7M1497.0 596.3l8.1 5.7M1514.3 595.7l8.1 5.7M1547.6 599.5l8.1 5.7M1545.9 596.2l8.1 5.7M1595.6 595.3l8.1 5.7M1593.1 597.1l8.1 5.7M1642.9 590.0l8.1 5.7M1631.7 589.1l8.1 5.7M1665.4 585.5l8.1 5.7M1668.9 584.4l8.1 5.7M1705.4 584.1l8.1 5.7M1718.0 581.3l8.1 5.7M1752.4 578.1l8.1 5.7M1749.0 579.3l8.1 5.7M1783.3 576.0l8.1 5.7M1789.4 576.1l8.1 5.7M1838.7 583.1l8.1 5.7M1842.5 587.1l8.1 5.7M1886.6 596.0l8.1 5.7M1886.5 592.6l8.1 5.7M1922.9 603.3l8.1 5.7M1917.6 602.6l8.1 5.7M-3.3 634.7l8.0 5.6M-6.8 630.2l8.0 5.6M34.5 637.3l8.0 5.6M31.6 634.7l8.0 5.6M72.0 638.6l8.0 5.6M80.3 639.4l8.0 5.6M121.9 640.8l8.0 5.6M110.5 639.6l8.0 5.6M151.8 645.2l8.0 5.6M167.9 644.0l8.0 5.6M201.6 645.3l8.0 5.6M207.9 645.0l8.0 5.6M247.1 644.0l8.0 5.6M244.9 643.1l8.0 5.6M280.1 641.4l8.0 5.6M273.2 641.5l8.0 5.6M327.5 638.7l8.0 5.6M326.0 636.8l8.0 5.6M356.1 633.3l8.0 5.6M372.4 635.5l8.0 5.6M398.1 633.4l8.0 5.6M398.2 633.4l8.0 5.6M445.2 629.0l8.0 5.6M441.2 627.7l8.0 5.6M484.5 622.2l8.0 5.6M491.4 627.8l8.0 5.6M519.7 628.0l8.0 5.6M522.5 626.9l8.0 5.6M573.8 619.3l8.0 5.6M579.9 625.2l8.0 5.6M598.3 619.5l8.0 5.6M607.8 617.8l8.0 5.6M646.9 624.9l8.0 5.6M640.2 618.1l8.0 5.6M690.7 624.8l8.0 5.6M689.4 621.5l8.0 5.6M739.3 626.4l8.0 5.6M723.3 626.4l8.0 5.6M781.5 629.0l8.0 5.6M776.0 627.3l8.0 5.6M811.8 629.0l8.0 5.6M806.5 628.9l8.0 5.6M862.1 635.8l8.0 5.6M850.5 628.3l8.0 5.6M905.6 637.6l8.0 5.6M897.3 632.3l8.0 5.6M943.3 633.9l8.0 5.6M925.8 635.4l8.0 5.6M980.8 630.4l8.0 5.6M968.4 631.8l8.0 5.6M1020.2 626.6l8.0 5.6M1004.7 630.3l8.0 5.6M1052.8 620.7l8.0 5.6M1053.2 623.6l8.0 5.6M1102.1 608.2l8.0 5.6M1105.0 607.0l8.0 5.6M1139.4 590.9l8.0 5.6M1129.0 595.6l8.0 5.6M1168.3 578.8l8.0 5.6M1167.4 580.5l8.0 5.6M1217.1 567.9l8.0 5.6M1217.4 565.6l8.0 5.6M1259.1 561.1l8.0 5.6M1261.5 559.6l8.0 5.6M1313.0 560.4l8.0 5.6M1300.3 560.3l8.0 5.6M1353.9 567.8l8.0 5.6M1345.1 562.6l8.0 5.6M1379.8 570.2l8.0 5.6M1378.2 574.1l8.0 5.6M1412.5 578.7l8.0 5.6M1433.4 583.7l8.0 5.6M1462.3 584.1l8.0 5.6M1459.7 587.2l8.0 5.6M1505.7 588.8l8.0 5.6M1514.7 586.9l8.0 5.6M1539.2 588.5l8.0 5.6M1545.0 590.7l8.0 5.6M1583.9 585.2l8.0 5.6M1581.4 586.7l8.0 5.6M1633.8 583.8l8.0 5.6M1638.8 583.1l8.0 5.6M1662.4 578.7l8.0 5.6M1656.6 580.3l8.0 5.6M1699.6 575.2l8.0 5.6M1698.1 576.0l8.0 5.6M1744.2 572.3l8.0 5.6M1740.5 572.3l8.0 5.6M1792.0 572.3l8.0 5.6M1798.3 572.5l8.0 5.6M1825.9 575.6l8.0 5.6M1841.1 578.1l8.0 5.6M1879.3 586.6l8.0 5.6M1882.8 587.3l8.0 5.6M1913.0 594.9l8.0 5.6M1904.5 593.5l8.0 5.6M4.9 624.7l8.0 5.6M3.9 624.0l8.0 5.6M48.0 627.5l8.0 5.6M42.1 624.5l8.0 5.6M78.6 626.7l8.0 5.6M85.9 631.6l8.0 5.6M118.4 632.6l8.0 5.6M128.7 632.0l8.0 5.6M164.6 636.5l8.0 5.6M176.6 638.0l8.0 5.6M221.6 634.8l8.0 5.6M222.0 634.4l8.0 5.6M244.1 634.6l8.0 5.6M250.4 638.0l8.0 5.6M301.8 631.2l8.0 5.6M296.9 632.3l8.0 5.6M320.6 627.7l8.0 5.6M320.9 631.5l8.0 5.6M371.9 625.3l8.0 5.6M369.8 621.8l8.0 5.6M401.1 617.6l8.0 5.6M400.7 619.2l8.0 5.6M454.9 610.1l8.0 5.6M438.8 616.6l8.0 5.6M502.0 608.5l8.0 5.6M489.0 609.7l8.0 5.6M536.9 602.5l8.0 5.6M535.0 606.4l8.0 5.6M573.7 603.9l8.0 5.6M565.3 599.1l8.0 5.6M624.1 601.1l8.0 5.6M624.2 604.7l8.0 5.6M660.5 608.4l8.0 5.6M659.0 603.0l8.0 5.6M704.2 604.0l8.0 5.6M702.0 609.9l8.0 5.6M740.4 609.9l8.0 5.6M728.8 610.3l8.0 5.6M781.5 608.9l8.0 5.6M782.4 610.7l8.0 5.6M806.0 617.1l8.0 5.6M815.7 617.2l8.0 5.6M850.4 620.4l8.0 5.6M846.5 614.6l8.0 5.6M888.5 616.1l8.0 5.6M891.1 616.2l8.0 5.6M930.6 622.5l8.0 5.6M932.7 624.6l8.0 5.6M974.2 621.3l8.0 5.6M964.1 618.1l8.0 5.6M1013.2 620.9l8.0 5.6M1027.4 617.7l8.0 5.6M1050.7 614.5l8.0 5.6M1046.8 611.2l8.0 5.6M1099.0 598.2l8.0 5.6M1090.9 602.1l8.0 5.6M1148.9 580.1l8.0 5.6M1148.9 577.3l8.0 5.6M1168.4 570.0l8.0 5.6M1166.0 571.6l8.0 5.6M1225.4 552.2l8.0 5.6M1219.0 553.3l8.0 5.6M1250.1 548.6l8.0 5.6M1253.0 549.1l8.0 5.6M1291.1 546.7l8.0 5.6M1300.3 547.3l8.0 5.6M1342.2 554.8l8.0 5.6M1349.0 555.4l8.0 5.6M1381.7 564.6l8.0 5.6M1390.3 566.5l8.0 5.6M1410.8 571.0l8.0 5.6M1424.2 572.0l8.0 5.6M1463.6 579.0l8.0 5.6M1470.4 579.7l8.0 5.6M1499.6 582.8l8.0 5.6M1507.6 583.5l8.0 5.6M1531.5 584.0l8.0 5.6M1549.4 584.4l8.0 5.6M1584.9 583.4l8.0 5.6M1573.7 584.0l8.0 5.6M1622.4 581.3l8.0 5.6M1631.3 581.2l8.0 5.6M1660.1 579.0l8.0 5.6M1666.7 577.5l8.0 5.6M1715.4 573.8l8.0 5.6M1692.7 576.0l8.0 5.6M1731.6 574.0l8.0 5.6M1739.4 575.5l8.0 5.6M1780.1 575.7l8.0 5.6M1790.0 575.2l8.0 5.6M1818.4 576.8l8.0 5.6M1824.2 577.9l8.0 5.6M1867.9 585.4l8.0 5.6M1859.6 584.1l8.0 5.6M1918.1 595.8l8.0 5.6M1903.0 592.0l8.0 5.6M21.7 608.9l7.9 5.5M23.2 611.6l7.9 5.5M54.4 618.0l7.9 5.5M50.8 615.8l7.9 5.5M95.8 621.3l7.9 5.5M95.3 618.8l7.9 5.5M134.3 622.0l7.9 5.5M126.3 618.6l7.9 5.5M182.5 623.6l7.9 5.5M166.1 622.7l7.9 5.5M225.7 621.3l7.9 5.5M219.4 628.9l7.9 5.5M264.7 622.6l7.9 5.5M251.2 621.2l7.9 5.5M304.3 617.1l7.9 5.5M289.3 621.2l7.9 5.5M331.6 618.1l7.9 5.5M341.8 614.0l7.9 5.5M371.3 609.7l7.9 5.5M385.7 606.9l7.9 5.5M425.4 599.8l7.9 5.5M425.7 604.8l7.9 5.5M454.5 595.1l7.9 5.5M462.0 589.6l7.9 5.5M498.3 589.8l7.9 5.5M498.7 589.2l7.9 5.5M541.3 580.5l7.9 5.5M523.3 589.1l7.9 5.5M583.6 589.6l7.9 5.5M581.5 590.0l7.9 5.5M619.6 580.9l7.9 5.5M609.0 585.8l7.9 5.5M649.4 583.2l7.9 5.5M656.4 584.8l7.9 5.5M691.6 587.3l7.9 5.5M707.0 586.3l7.9 5.5M746.2 595.3l7.9 5.5M735.9 593.0l7.9 5.5M772.4 591.7l7.9 5.5M768.0 593.9l7.9 5.5M822.8 595.0l7.9 5.5M804.0 599.8l7.9 5.5M856.0 598.0l7.9 5.5M848.0 598.2l7.9 5.5M893.5 604.5l7.9 5.5M906.0 609.6l7.9 5.5M931.8 610.0l7.9 5.5M927.1 608.6l7.9 5.5M980.8 607.6l7.9 5.5M967.0 605.9l7.9 5.5M1016.3 608.7l7.9 5.5M1023.7 603.6l7.9 5.5M1049.2 599.3l7.9 5.5M1063.7 600.6l7.9 5.5M1084.0 592.2l7.9 5.5M1104.2 589.8l7.9 5.5M1142.4 572.8l7.9 5.5M1139.2 573.8l7.9 5.5M1188.1 557.5l7.9 5.5M1183.9 556.8l7.9 5.5M1211.7 549.3l7.9 5.5M1220.4 546.6l7.9 5.5M1258.3 542.6l7.9 5.5M1250.4 542.5l7.9 5.5M1287.2 541.6l7.9 5.5M1306.2 544.7l7.9 5.5M1341.0 551.3l7.9 5.5M1327.0 547.9l7.9 5.5M1383.3 562.1l7.9 5.5M1367.3 557.9l7.9 5.5M1423.2 571.9l7.9 5.5M1424.9 571.8l7.9 5.5M1447.6 576.5l7.9 5.5M1466.6 579.1l7.9 5.5M1485.9 582.8l7.9 5.5M1486.5 582.7l7.9 5.5M1527.4 584.7l7.9 5.5M1539.7 586.8l7.9 5.5M1574.8 585.9l7.9 5.5M1566.0 585.7l7.9 5.5M1609.8 586.2l7.9 5.5M1621.2 585.8l7.9 5.5M1657.1 583.8l7.9 5.5M1648.4 583.2l7.9 5.5M1692.8 580.5l7.9 5.5M1703.8 579.8l7.9 5.5M1733.7 579.3l7.9 5.5M1745.3 580.6l7.9 5.5M1777.1 580.2l7.9 5.5M1785.5 582.6l7.9 5.5M1815.7 583.3l7.9 5.5M1826.9 583.4l7.9 5.5M1853.1 586.1l7.9 5.5M1856.1 587.9l7.9 5.5M1889.3 591.7l7.9 5.5M1909.2 594.6l7.9 5.5M1932.9 597.3l7.9 5.5M-9.1 598.8l7.8 5.5M25.7 602.6l7.8 5.5M22.1 602.6l7.8 5.5M61.1 602.9l7.8 5.5M74.2 600.4l7.8 5.5M112.3 606.0l7.8 5.5M111.7 608.6l7.8 5.5M152.6 607.4l7.8 5.5M150.5 609.2l7.8 5.5M191.5 614.9l7.8 5.5M191.3 607.9l7.8 5.5M219.7 608.5l7.8 5.5M215.6 609.1l7.8 5.5M260.1 611.2l7.8 5.5M255.0 608.2l7.8 5.5M305.0 610.1l7.8 5.5M311.3 608.2l7.8 5.5M337.3 602.7l7.8 5.5M343.7 597.6l7.8 5.5M391.3 590.6l7.8 5.5M375.9 598.3l7.8 5.5M409.8 587.7l7.8 5.5M421.9 585.9l7.8 5.5M471.1 576.4l7.8 5.5M456.0 579.3l7.8 5.5M492.8 567.1l7.8 5.5M501.8 570.1l7.8 5.5M536.9 569.4l7.8 5.5M534.8 566.7l7.8 5.5M578.7 558.1l7.8 5.5M579.9 567.5l7.8 5.5M607.4 568.0l7.8 5.5M615.5 560.4l7.8 5.5M667.3 569.9l7.8 5.5M665.0 567.3l7.8 5.5M699.1 569.2l7.8 5.5M686.6 573.5l7.8 5.5M742.1 571.9l7.8 5.5M735.5 568.6l7.8 5.5M785.0 580.8l7.8 5.5M767.3 576.2l7.8 5.5M820.8 585.4l7.8 5.5M806.4 581.2l7.8 5.5M846.1 583.1l7.8 5.5M859.9 588.9l7.8 5.5M895.3 592.7l7.8 5.5M889.1 592.6l7.8 5.5M944.0 594.5l7.8 5.5M941.6 595.2l7.8 5.5M983.5 594.9l7.8 5.5M979.9 596.4l7.8 5.5M1017.4 597.0l7.8 5.5M1027.2 593.2l7.8 5.5M1056.4 589.7l7.8 5.5M1046.2 593.3l7.8 5.5M1088.8 582.0l7.8 5.5M1083.8 585.5l7.8 5.5M1143.7 565.4l7.8 5.5M1140.5 568.5l7.8 5.5M1168.3 557.3l7.8 5.5M1169.9 556.7l7.8 5.5M1210.7 544.8l7.8 5.5M1216.0 543.5l7.8 5.5M1266.0 539.0l7.8 5.5M1266.5 539.4l7.8 5.5M1303.7 543.1l7.8 5.5M1295.3 541.8l7.8 5.5M1340.5 551.6l7.8 5.5M1326.3 548.1l7.8 5.5M1374.2 562.0l7.8 5.5M1374.1 560.8l7.8 5.5M1420.3 573.8l7.8 5.5M1413.6 571.6l7.8 5.5M1446.8 580.8l7.8 5.5M1458.9 583.0l7.8 5.5M1490.7 587.8l7.8 5.5M1497.4 587.0l7.8 5.5M1533.0 590.7l7.8 5.5M1538.6 589.7l7.8 5.5M1568.0 590.7l7.8 5.5M1562.9 590.7l7.8 5.5M1617.1 590.2l7.8 5.5M1603.3 591.2l7.8 5.5M1641.6 589.5l7.8 5.5M1644.5 587.8l7.8 5.5M1685.3 586.6l7.8 5.5M1684.5 587.4l7.8 5.5M1742.3 584.2l7.8 5.5M1736.3 584.9l7.8 5.5M1773.1 584.2l7.8 5.5M1779.7 584.6l7.8 5.5M1799.5 584.8l7.8 5.5M1807.4 585.2l7.8 5.5M1846.9 586.8l7.8 5.5M1837.4 586.3l7.8 5.5M1887.5 591.2l7.8 5.5M1900.5 591.7l7.8 5.5M1924.5 594.2l7.8 5.5M1928.2 594.4l7.8 5.5M-13.1 592.9l7.8 5.4M-1.0 591.6l7.8 5.4M29.1 589.8l7.8 5.4M38.0 591.5l7.8 5.4M68.8 593.1l7.8 5.4M63.3 589.6l7.8 5.4M110.4 596.0l7.8 5.4M121.3 590.7l7.8 5.4M138.8 592.8l7.8 5.4M142.9 594.2l7.8 5.4M195.7 597.9l7.8 5.4M189.0 595.1l7.8 5.4M221.0 596.1l7.8 5.4M227.8 593.1l7.8 5.4M260.6 594.7l7.8 5.4M255.5 598.6l7.8 5.4M296.3 596.7l7.8 5.4M306.2 595.4l7.8 5.4M351.7 589.0l7.8 5.4M350.0 583.0l7.8 5.4M375.7 583.2l7.8 5.4M391.6 577.5l7.8 5.4M434.6 568.6l7.8 5.4M423.7 565.7l7.8 5.4M461.7 556.4l7.8 5.4M472.7 561.3l7.8 5.4M505.7 547.4l7.8 5.4M495.4 550.2l7.8 5.4M550.0 543.0l7.8 5.4M544.5 551.0l7.8 5.4M592.4 548.1l7.8 5.4M589.5 540.8l7.8 5.4M617.8 541.3l7.8 5.4M620.1 540.5l7.8 5.4M651.1 539.9l7.8 5.4M659.0 542.2l7.8 5.4M700.4 546.4l7.8 5.4M696.0 549.0l7.8 5.4M728.8 553.8l7.8 5.4M730.5 549.8l7.8 5.4M783.5 561.8l7.8 5.4M791.1 557.3l7.8 5.4M829.3 571.2l7.8 5.4M823.8 564.0l7.8 5.4M860.4 575.6l7.8 5.4M868.2 572.5l7.8 5.4M900.0 572.7l7.8 5.4M892.1 579.0l7.8 5.4M947.0 582.2l7.8 5.4M926.0 581.5l7.8 5.4M988.1 580.9l7.8 5.4M969.5 584.7l7.8 5.4M1025.2 581.6l7.8 5.4M1017.8 585.6l7.8 5.4M1053.0 577.7l7.8 5.4M1043.5 582.2l7.8 5.4M1083.9 573.1l7.8 5.4M1085.1 573.1l7.8 5.4M1141.9 559.8l7.8 5.4M1123.1 565.5l7.8 5.4M1173.3 551.3l7.8 5.4M1165.0 553.7l7.8 5.4M1220.4 540.8l7.8 5.4M1221.8 540.2l7.8 5.4M1247.0 538.1l7.8 5.4M1251.1 537.9l7.8 5.4M1292.7 541.6l7.8 5.4M1291.9 541.3l7.8 5.4M1343.1 553.7l7.8 5.4M1319.9 547.1l7.8 5.4M1366.7 561.0l7.8 5.4M1369.3 561.8l7.8 5.4M1419.8 577.0l7.8 5.4M1418.4 576.8l7.8 5.4M1454.1 584.8l7.8 5.4M1444.0 582.8l7.8 5.4M1481.5 589.1l7.8 5.4M1490.2 590.2l7.8 5.4M1520.6 592.7l7.8 5.4M1534.9 593.5l7.8 5.4M1579.8 593.5l7.8 5.4M1561.7 593.7l7.8 5.4M1611.4 592.3l7.8 5.4M1609.5 592.4l7.8 5.4M1646.4 590.1l7.8 5.4M1655.7 589.4l7.8 5.4M1689.0 587.0l7.8 5.4M1684.6 587.1l7.8 5.4M1728.1 585.2l7.8 5.4M1723.6 585.0l7.8 5.4M1762.6 582.9l7.8 5.4M1761.6 583.4l7.8 5.4M1802.6 582.8l7.8 5.4M1816.6 583.8l7.8 5.4M1830.9 581.7l7.8 5.4M1841.0 583.0l7.8 5.4M1885.4 584.7l7.8 5.4M1878.6 586.1l7.8 5.4M1928.9 583.0l7.8 5.4M1917.1 585.2l7.8 5.4M-7.7 586.8l7.7 5.4M5.7 583.9l7.7 5.4M37.4 584.1l7.7 5.4M33.8 582.4l7.7 5.4M87.9 580.1l7.7 5.4M69.1 582.0l7.7 5.4M129.1 580.7l7.7 5.4M114.3 584.3l7.7 5.4M146.6 580.7l7.7 5.4M147.1 580.2l7.7 5.4M198.8 583.5l7.7 5.4M205.9 580.0l7.7 5.4M235.3 586.6l7.7 5.4M235.9 584.0l7.7 5.4M268.8 578.9l7.7 5.4M277.2 584.9l7.7 5.4M305.3 580.6l7.7 5.4M313.4 579.8l7.7 5.4M350.9 570.1l7.7 5.4M344.6 572.0l7.7 5.4M387.8 561.3l7.7 5.4M400.5 563.0l7.7 5.4M430.9 557.0l7.7 5.4M427.7 553.7l7.7 5.4M471.4 544.7l7.7 5.4M456.6 550.3l7.7 5.4M508.3 538.0l7.7 5.4M503.4 534.8l7.7 5.4M556.1 526.8l7.7 5.4M541.2 528.2l7.7 5.4M581.1 521.8l7.7 5.4M577.2 527.6l7.7 5.4M624.2 519.5l7.7 5.4M616.5 527.4l7.7 5.4M654.8 529.1l7.7 5.4M659.9 527.5l7.7 5.4M709.0 533.2l7.7 5.4M702.3 532.3l7.7 5.4M749.0 533.8l7.7 5.4M740.9 532.3l7.7 5.4M775.9 537.4l7.7 5.4M782.0 541.4l7.7 5.4M817.3 551.0l7.7 5.4M812.1 544.1l7.7 5.4M856.2 552.6l7.7 5.4M858.5 554.5l7.7 5.4M891.4 562.2l7.7 5.4M894.7 558.0l7.7 5.4M938.4 569.2l7.7 5.4M942.4 565.9l7.7 5.4M966.5 569.8l7.7 5.4M969.9 565.4l7.7 5.4M1016.9 572.0l7.7 5.4M1009.8 572.1l7.7 5.4M1049.6 571.5l7.7 5.4M1061.5 568.4l7.7 5.4M1098.3 564.4l7.7 5.4M1097.6 567.1l7.7 5.4M1122.5 562.1l7.7 5.4M1127.2 560.4l7.7 5.4M1179.5 549.4l7.7 5.4M1170.6 550.8l7.7 5.4M1222.1 543.6l7.7 5.4M1207.8 542.9l7.7 5.4M1261.8 540.6l7.7 5.4M1258.8 539.9l7.7 5.4M1293.0 544.9l7.7 5.4M1298.7 545.6l7.7 5.4M1319.4 549.7l7.7 5.4M1334.7 556.1l7.7 5.4M1370.4 564.7l7.7 5.4M1362.7 561.8l7.7 5.4M1395.8 571.3l7.7 5.4M1395.6 571.2l7.7 5.4M1442.7 582.3l7.7 5.4M1443.1 581.2l7.7 5.4M1479.5 588.2l7.7 5.4M1487.3 588.0l7.7 5.4M1524.8 591.9l7.7 5.4M1533.5 592.5l7.7 5.4M1555.9 592.4l7.7 5.4M1563.2 591.6l7.7 5.4M1602.5 589.4l7.7 5.4M1611.2 589.7l7.7 5.4M1629.2 587.3l7.7 5.4M1630.2 588.9l7.7 5.4M1671.3 584.3l7.7 5.4M1687.9 584.5l7.7 5.4M1713.1 579.4l7.7 5.4M1725.0 581.4l7.7 5.4M1761.5 575.9l7.7 5.4M1757.3 579.1l7.7 5.4M1801.7 576.4l7.7 5.4M1790.0 577.5l7.7 5.4M1835.6 576.9l7.7 5.4M1833.5 574.6l7.7 5.4M1877.1 575.6l7.7 5.4M1884.3 577.5l7.7 5.4M1908.6 572.8l7.7 5.4M1921.2 573.0l7.7 5.4M-2.4 579.9l7.7 5.4M0.2 577.3l7.7 5.4M41.9 576.4l7.7 5.4M45.5 577.5l7.7 5.4M91.3 571.6l7.7 5.4M93.8 571.0l7.7 5.4M118.2 574.0l7.7 5.4M130.9 570.5l7.7 5.4M159.1 572.1l7.7 5.4M156.1 569.0l7.7 5.4M201.8 568.5l7.7 5.4M197.1 572.1l7.7 5.4M241.5 568.4l7.7 5.4M248.7 571.2l7.7 5.4M283.2 569.2l7.7 5.4M288.4 566.2l7.7 5.4M318.6 566.1l7.7 5.4M313.8 562.8l7.7 5.4M363.0 559.2l7.7 5.4M346.0 563.3l7.7 5.4M404.8 551.5l7.7 5.4M402.6 548.6l7.7 5.4M435.5 539.7l7.7 5.4M432.2 540.5l7.7 5.4M464.4 528.9l7.7 5.4M462.7 535.1l7.7 5.4M516.0 517.5l7.7 5.4M519.2 516.3l7.7 5.4M559.5 514.5l7.7 5.4M538.4 516.2l7.7 5.4M595.0 510.3l7.7 5.4M590.4 504.7l7.7 5.4M620.0 506.0l7.7 5.4M637.7 504.1l7.7 5.4M664.3 508.8l7.7 5.4M662.3 503.6l7.7 5.4M712.3 512.8l7.7 5.4M701.2 510.6l7.7 5.4M744.3 516.9l7.7 5.4M741.5 515.6l7.7 5.4M787.2 527.9l7.7 5.4M784.8 524.0l7.7 5.4M822.8 529.2l7.7 5.4M810.6 527.7l7.7 5.4M865.5 540.5l7.7 5.4M868.4 544.0l7.7 5.4M895.6 542.9l7.7 5.4M906.7 547.5l7.7 5.4M949.6 550.7l7.7 5.4M927.3 552.4l7.7 5.4M966.9 553.4l7.7 5.4M972.6 556.6l7.7 5.4M1014.4 561.7l7.7 5.4M1025.0 557.1l7.7 5.4M1055.7 561.1l7.7 5.4M1049.8 560.0l7.7 5.4M1089.3 558.6l7.7 5.4M1103.6 559.2l7.7 5.4M1139.7 557.2l7.7 5.4M1123.2 558.8l7.7 5.4M1162.0 554.7l7.7 5.4M1181.6 553.4l7.7 5.4M1220.3 548.5l7.7 5.4M1203.4 549.2l7.7 5.4M1243.4 547.3l7.7 5.4M1249.0 548.5l7.7 5.4M1290.9 552.3l7.7 5.4M1289.4 551.2l7.7 5.4M1330.8 558.1l7.7 5.4M1330.7 557.7l7.7 5.4M1364.0 563.8l7.7 5.4M1353.8 561.8l7.7 5.4M1406.5 572.3l7.7 5.4M1410.8 571.1l7.7 5.4M1449.5 576.6l7.7 5.4M1442.4 578.4l7.7 5.4M1474.8 579.6l7.7 5.4M1492.9 584.6l7.7 5.4M1508.4 584.3l7.7 5.4M1515.7 583.2l7.7 5.4M1548.3 582.6l7.7 5.4M1553.4 582.2l7.7 5.4M1593.6 584.5l7.7 5.4M1588.1 581.1l7.7 5.4M1636.8 578.7l7.7 5.4M1625.5 581.2l7.7 5.4M1678.3 573.8l7.7 5.4M1686.0 577.8l7.7 5.4M1708.6 570.6l7.7 5.4M1712.5 570.5l7.7 5.4M1748.1 572.3l7.7 5.4M1763.3 569.8l7.7 5.4M1792.8 567.5l7.7 5.4M1790.9 564.2l7.7 5.4M1838.4 562.9l7.7 5.4M1822.6 563.6l7.7 5.4M1857.5 565.4l7.7 5.4M1879.7 566.5l7.7 5.4M1903.7 564.7l7.7 5.4M1900.1 563.9l7.7 5.4M19.5 571.1l7.6 5.3M5.5 573.4l7.6 5.3M67.0 565.3l7.6 5.3M54.6 566.4l7.6 5.3M105.3 561.6l7.6 5.3M92.4 565.8l7.6 5.3M133.5 559.3l7.6 5.3M137.1 560.8l7.6 5.3M177.1 560.5l7.6 5.3M172.3 557.9l7.6 5.3M202.4 556.7l7.6 5.3M197.2 559.0l7.6 5.3M246.9 560.4l7.6 5.3M255.9 558.0l7.6 5.3M277.3 557.1l7.6 5.3M286.7 556.4l7.6 5.3M310.5 556.9l7.6 5.3M327.1 554.6l7.6 5.3M357.1 545.5l7.6 5.3M371.3 542.4l7.6 5.3M391.3 543.7l7.6 5.3M406.4 536.2l7.6 5.3M434.2 532.4l7.6 5.3M436.4 530.4l7.6 5.3M480.4 513.2l7.6 5.3M469.3 522.0l7.6 5.3M519.2 508.2l7.6 5.3M509.0 508.6l7.6 5.3M564.9 497.3l7.6 5.3M549.7 499.0l7.6 5.3M584.5 494.2l7.6 5.3M596.8 493.6l7.6 5.3M637.2 493.8l7.6 5.3M622.0 489.9l7.6 5.3M669.0 489.2l7.6 5.3M660.7 490.0l7.6 5.3M711.6 499.5l7.6 5.3M699.4 495.5l7.6 5.3M752.2 505.7l7.6 5.3M745.9 502.6l7.6 5.3M787.2 512.6l7.6 5.3M777.4 510.5l7.6 5.3M824.7 515.4l7.6 5.3M834.6 520.1l7.6 5.3M857.5 526.9l7.6 5.3M864.8 523.7l7.6 5.3M894.4 528.8l7.6 5.3M911.6 533.8l7.6 5.3M948.6 538.5l7.6 5.3M942.1 534.1l7.6 5.3M970.1 542.0l7.6 5.3M988.1 546.5l7.6 5.3M1011.0 546.0l7.6 5.3M1021.1 546.0l7.6 5.3M1063.7 550.0l7.6 5.3M1042.5 552.3l7.6 5.3M1081.7 552.7l7.6 5.3M1081.4 552.1l7.6 5.3M1134.0 554.9l7.6 5.3M1139.1 554.2l7.6 5.3M1180.0 553.7l7.6 5.3M1172.0 553.6l7.6 5.3M1201.9 553.0l7.6 5.3M1196.5 553.5l7.6 5.3M1241.5 553.0l7.6 5.3M1246.7 553.1l7.6 5.3M1279.8 554.0l7.6 5.3M1292.3 554.9l7.6 5.3M1329.7 557.4l7.6 5.3M1323.7 556.8l7.6 5.3M1359.2 557.9l7.6 5.3M1370.4 559.1l7.6 5.3M1405.0 563.1l7.6 5.3M1392.6 565.4l7.6 5.3M1445.6 566.9l7.6 5.3M1441.8 569.0l7.6 5.3M1470.5 567.0l7.6 5.3M1478.7 574.3l7.6 5.3M1512.0 573.7l7.6 5.3M1504.1 568.6l7.6 5.3M1562.2 571.2l7.6 5.3M1542.5 574.1l7.6 5.3M1582.6 571.6l7.6 5.3M1598.5 570.6l7.6 5.3M1638.5 572.7l7.6 5.3M1620.6 574.3l7.6 5.3M1675.9 564.7l7.6 5.3M1670.3 569.1l7.6 5.3M1717.1 565.1l7.6 5.3M1705.2 567.1l7.6 5.3M1757.4 559.6l7.6 5.3M1751.1 557.8l7.6 5.3M1784.4 554.2l7.6 5.3M1789.1 554.3l7.6 5.3M1835.3 557.6l7.6 5.3M1829.8 556.9l7.6 5.3M1857.9 555.8l7.6 5.3M1874.5 557.5l7.6 5.3M1899.9 557.4l7.6 5.3M1911.3 555.4l7.6 5.3M-15.3 563.0l7.5 5.3M-8.0 561.9l7.5 5.3M20.9 560.6l7.5 5.3M29.4 561.4l7.5 5.3M60.0 559.0l7.5 5.3M50.3 562.2l7.5 5.3M94.0 558.2l7.5 5.3M90.6 555.4l7.5 5.3M143.8 551.2l7.5 5.3M132.3 551.6l7.5 5.3M184.1 548.3l7.5 5.3M170.2 549.6l7.5 5.3M211.1 549.2l7.5 5.3M207.7 545.4l7.5 5.3M257.1 542.6l7.5 5.3M244.1 547.8l7.5 5.3M289.3 547.0l7.5 5.3M286.2 543.8l7.5 5.3M329.7 537.7l7.5 5.3M331.0 539.4l7.5 5.3M369.7 532.8l7.5 5.3M362.3 539.0l7.5 5.3M416.9 522.9l7.5 5.3M395.4 531.8l7.5 5.3M437.3 518.3l7.5 5.3M433.4 522.8l7.5 5.3M480.0 509.5l7.5 5.3M475.5 508.9l7.5 5.3M511.6 500.5l7.5 5.3M513.4 498.8l7.5 5.3M553.4 488.1l7.5 5.3M554.0 488.5l7.5 5.3M585.4 479.8l7.5 5.3M601.2 480.1l7.5 5.3M622.0 480.2l7.5 5.3M643.0 478.6l7.5 5.3M665.8 476.9l7.5 5.3M680.4 483.2l7.5 5.3M710.3 483.7l7.5 5.3M701.2 484.2l7.5 5.3M751.2 489.9l7.5 5.3M751.4 490.3l7.5 5.3M783.2 500.7l7.5 5.3M775.8 493.3l7.5 5.3M833.3 503.7l7.5 5.3M815.1 501.3l7.5 5.3M855.1 511.9l7.5 5.3M856.1 508.2l7.5 5.3M908.3 516.7l7.5 5.3M898.4 514.5l7.5 5.3M933.6 522.2l7.5 5.3M942.9 526.1l7.5 5.3M974.4 531.3l7.5 5.3M983.9 531.9l7.5 5.3M1007.0 534.3l7.5 5.3M1018.5 533.0l7.5 5.3M1053.9 535.9l7.5 5.3M1059.3 541.2l7.5 5.3M1092.5 544.8l7.5 5.3M1085.8 544.4l7.5 5.3M1120.1 545.9l7.5 5.3M1138.5 545.2l7.5 5.3M1158.7 548.8l7.5 5.3M1169.9 547.5l7.5 5.3M1195.6 550.5l7.5 5.3M1207.4 548.3l7.5 5.3M1234.2 547.9l7.5 5.3M1238.1 548.8l7.5 5.3M1283.2 550.4l7.5 5.3M1292.7 550.3l7.5 5.3M1318.6 549.9l7.5 5.3M1327.4 547.5l7.5 5.3M1364.7 551.1l7.5 5.3M1363.3 550.4l7.5 5.3M1406.3 549.4l7.5 5.3M1403.2 555.2l7.5 5.3M1436.5 555.3l7.5 5.3M1428.1 552.0l7.5 5.3M1466.1 554.6l7.5 5.3M1472.9 557.5l7.5 5.3M1515.3 556.9l7.5 5.3M1521.1 554.7l7.5 5.3M1556.8 562.2l7.5 5.3M1553.2 560.1l7.5 5.3M1597.6 560.5l7.5 5.3M1585.5 564.1l7.5 5.3M1624.8 558.8l7.5 5.3M1622.4 562.2l7.5 5.3M1664.7 559.6l7.5 5.3M1656.4 557.6l7.5 5.3M1698.4 553.7l7.5 5.3M1702.9 554.1l7.5 5.3M1733.3 553.8l7.5 5.3M1739.6 547.1l7.5 5.3M1773.7 548.5l7.5 5.3M1773.1 546.1l7.5 5.3M1814.9 543.6l7.5 5.3M1806.4 548.0l7.5 5.3M1848.2 545.5l7.5 5.3M1852.6 545.4l7.5 5.3M1903.5 545.8l7.5 5.3M1892.3 542.4l7.5 5.3M1933.5 545.8l7.5 5.3M-15.0 552.5l7.5 5.2M-8.5 553.0l7.5 5.2M28.5 549.7l7.5 5.2M27.5 553.8l7.5 5.2M77.0 550.4l7.5 5.2M64.1 549.9l7.5 5.2M116.4 547.2l7.5 5.2M101.8 544.7l7.5 5.2M135.0 543.6l7.5 5.2M152.3 540.2l7.5 5.2M188.0 540.8l7.5 5.2M191.1 539.0l7.5 5.2M227.7 535.9l7.5 5.2M229.5 535.8l7.5 5.2M251.7 536.8l7.5 5.2M256.8 537.2l7.5 5.2M290.0 529.7l7.5 5.2M299.2 529.2l7.5 5.2M326.2 529.8l7.5 5.2M332.2 531.7l7.5 5.2M367.9 522.1l7.5 5.2M377.1 523.2l7.5 5.2M413.3 514.3l7.5 5.2M420.4 514.2l7.5 5.2M438.5 508.6l7.5 5.2M439.4 511.4l7.5 5.2M477.3 499.9l7.5 5.2M487.3 497.3l7.5 5.2M521.8 489.0l7.5 5.2M528.4 485.6l7.5 5.2M557.5 477.3l7.5 5.2M572.0 473.8l7.5 5.2M609.2 472.0l7.5 5.2M596.4 471.9l7.5 5.2M631.7 467.2l7.5 5.2M645.4 470.0l7.5 5.2M675.5 466.4l7.5 5.2M683.4 469.9l7.5 5.2M703.5 472.0l7.5 5.2M713.3 471.3l7.5 5.2M742.9 479.2l7.5 5.2M760.8 484.3l7.5 5.2M790.3 489.3l7.5 5.2M793.8 487.8l7.5 5.2M835.5 497.1l7.5 5.2M834.4 496.8l7.5 5.2M853.3 501.3l7.5 5.2M854.1 499.4l7.5 5.2M912.3 508.9l7.5 5.2M906.4 510.2l7.5 5.2M939.9 511.3l7.5 5.2M930.4 509.8l7.5 5.2M976.1 517.4l7.5 5.2M984.9 515.9l7.5 5.2M1006.6 522.9l7.5 5.2M1005.0 521.6l7.5 5.2M1056.0 523.0l7.5 5.2M1063.5 524.7l7.5 5.2M1082.2 527.4l7.5 5.2M1096.8 531.3l7.5 5.2M1139.9 534.6l7.5 5.2M1120.2 535.6l7.5 5.2M1158.0 535.9l7.5 5.2M1169.0 534.8l7.5 5.2M1193.7 542.1l7.5 5.2M1215.3 541.0l7.5 5.2M1236.4 537.3l7.5 5.2M1233.0 537.7l7.5 5.2M1288.9 539.4l7.5 5.2M1283.2 543.3l7.5 5.2M1320.1 538.6l7.5 5.2M1324.0 539.3l7.5 5.2M1347.4 541.3l7.5 5.2M1359.9 542.5l7.5 5.2M1385.1 541.3l7.5 5.2M1400.2 539.0l7.5 5.2M1427.2 535.9l7.5 5.2M1433.8 542.6l7.5 5.2M1469.9 538.4l7.5 5.2M1466.4 542.2l7.5 5.2M1507.6 538.9l7.5 5.2M1511.0 546.6l7.5 5.2M1547.2 546.7l7.5 5.2M1543.7 543.0l7.5 5.2M1571.8 545.8l7.5 5.2M1578.2 545.1l7.5 5.2M1627.9 546.1l7.5 5.2M1624.1 547.6l7.5 5.2M1652.8 544.8l7.5 5.2M1660.0 546.6l7.5 5.2M1702.2 541.9l7.5 5.2M1693.8 544.3l7.5 5.2M1740.2 536.5l7.5 5.2M1744.9 540.5l7.5 5.2M1761.7 536.9l7.5 5.2M1759.8 535.6l7.5 5.2M1814.4 536.2l7.5 5.2M1807.7 534.3l7.5 5.2M1840.4 535.5l7.5 5.2M1853.3 533.5l7.5 5.2M1889.0 537.6l7.5 5.2M1880.0 536.4l7.5 5.2M1912.0 535.2l7.5 5.2M1923.0 534.0l7.5 5.2M-3.4 542.1l7.4 5.2M11.5 541.7l7.4 5.2M27.3 542.2l7.4 5.2M33.0 540.0l7.4 5.2M76.8 538.5l7.4 5.2M87.5 535.8l7.4 5.2M103.0 539.2l7.4 5.2M119.2 534.0l7.4 5.2M155.2 530.9l7.4 5.2M141.2 532.7l7.4 5.2M197.3 526.2l7.4 5.2M177.6 531.1l7.4 5.2M236.2 523.6l7.4 5.2M220.1 523.7l7.4 5.2M275.2 519.0l7.4 5.2M268.8 519.8l7.4 5.2M292.5 520.8l7.4 5.2M308.4 520.8l7.4 5.2M332.6 515.6l7.4 5.2M342.5 520.4l7.4 5.2M367.4 514.2l7.4 5.2M387.6 511.1l7.4 5.2M421.9 507.8l7.4 5.2M415.4 508.7l7.4 5.2M447.4 501.9l7.4 5.2M450.1 501.8l7.4 5.2M493.5 488.3l7.4 5.2M499.4 486.3l7.4 5.2M518.4 481.0l7.4 5.2M529.1 478.0l7.4 5.2M563.6 472.6l7.4 5.2M568.6 471.2l7.4 5.2M613.2 462.5l7.4 5.2M611.2 463.0l7.4 5.2M636.1 460.3l7.4 5.2M644.4 460.7l7.4 5.2M672.1 460.9l7.4 5.2M681.7 462.2l7.4 5.2M707.1 463.0l7.4 5.2M717.8 466.5l7.4 5.2M747.8 466.1l7.4 5.2M747.4 467.2l7.4 5.2M785.1 477.6l7.4 5.2M789.9 473.9l7.4 5.2M833.3 486.9l7.4 5.2M832.1 483.2l7.4 5.2M864.6 488.8l7.4 5.2M865.2 491.8l7.4 5.2M906.7 498.6l7.4 5.2M898.3 493.0l7.4 5.2M941.5 500.7l7.4 5.2M944.7 501.2l7.4 5.2M974.9 504.4l7.4 5.2M966.8 504.7l7.4 5.2M1004.7 505.0l7.4 5.2M1024.2 509.6l7.4 5.2M1044.8 510.7l7.4 5.2M1047.6 511.4l7.4 5.2M1093.5 517.9l7.4 5.2M1095.7 520.5l7.4 5.2M1135.2 522.4l7.4 5.2M1133.2 520.1l7.4 5.2M1159.7 525.4l7.4 5.2M1162.4 528.0l7.4 5.2M1211.0 526.1l7.4 5.2M1202.5 526.8l7.4 5.2M1249.3 531.4l7.4 5.2M1236.8 526.7l7.4 5.2M1278.6 528.1l7.4 5.2M1272.7 530.2l7.4 5.2M1319.4 528.4l7.4 5.2M1324.5 524.0l7.4 5.2M1363.8 527.7l7.4 5.2M1353.9 529.3l7.4 5.2M1388.0 529.0l7.4 5.2M1389.6 521.8l7.4 5.2M1434.1 526.8l7.4 5.2M1422.0 521.7l7.4 5.2M1454.6 522.9l7.4 5.2M1474.5 530.6l7.4 5.2M1512.8 526.8l7.4 5.2M1500.7 528.4l7.4 5.2M1542.9 529.4l7.4 5.2M1547.8 526.4l7.4 5.2M1575.5 535.5l7.4 5.2M1583.9 530.2l7.4 5.2M1620.4 535.7l7.4 5.2M1604.9 528.6l7.4 5.2M1650.1 532.2l7.4 5.2M1664.8 534.0l7.4 5.2M1695.2 533.7l7.4 5.2M1691.2 528.9l7.4 5.2M1719.6 527.5l7.4 5.2M1737.6 526.1l7.4 5.2M1770.6 523.7l7.4 5.2M1770.4 526.3l7.4 5.2M1809.4 523.1l7.4 5.2M1805.5 524.1l7.4 5.2M1834.2 525.5l7.4 5.2M1835.4 522.3l7.4 5.2M1885.5 526.5l7.4 5.2M1891.3 528.0l7.4 5.2M1906.7 527.0l7.4 5.2M1904.4 523.2l7.4 5.2M12.2 528.8l7.3 5.1M10.9 524.4l7.3 5.1M42.0 527.6l7.3 5.1M44.7 530.6l7.3 5.1M76.2 526.5l7.3 5.1M90.5 526.2l7.3 5.1M113.3 520.9l7.3 5.1M114.8 521.1l7.3 5.1M149.0 519.6l7.3 5.1M149.7 522.2l7.3 5.1M195.0 514.3l7.3 5.1M194.0 516.7l7.3 5.1M230.9 512.8l7.3 5.1M229.8 509.9l7.3 5.1M262.1 513.3l7.3 5.1M270.8 511.3l7.3 5.1M310.9 511.3l7.3 5.1M311.0 509.0l7.3 5.1M353.7 506.7l7.3 5.1M342.7 507.4l7.3 5.1M382.1 503.9l7.3 5.1M385.5 502.7l7.3 5.1M423.3 498.0l7.3 5.1M418.4 497.3l7.3 5.1M461.7 489.1l7.3 5.1M453.8 493.2l7.3 5.1M484.1 486.3l7.3 5.1M485.8 485.7l7.3 5.1M534.2 473.6l7.3 5.1M539.4 472.6l7.3 5.1M561.8 467.7l7.3 5.1M560.6 466.7l7.3 5.1M606.7 459.3l7.3 5.1M612.6 457.4l7.3 5.1M641.2 454.8l7.3 5.1M646.0 455.0l7.3 5.1M670.5 454.6l7.3 5.1M689.6 455.0l7.3 5.1M719.6 458.6l7.3 5.1M723.7 455.9l7.3 5.1M751.3 461.6l7.3 5.1M754.3 462.6l7.3 5.1M784.7 468.0l7.3 5.1M795.7 468.0l7.3 5.1M839.3 473.1l7.3 5.1M837.5 472.9l7.3 5.1M873.3 484.2l7.3 5.1M858.0 476.3l7.3 5.1M911.6 486.5l7.3 5.1M905.9 486.7l7.3 5.1M938.7 492.5l7.3 5.1M941.5 492.0l7.3 5.1M969.3 491.6l7.3 5.1M979.4 492.6l7.3 5.1M1010.3 497.8l7.3 5.1M1009.9 496.2l7.3 5.1M1045.6 501.3l7.3 5.1M1053.5 504.2l7.3 5.1M1080.0 505.9l7.3 5.1M1089.8 504.6l7.3 5.1M1120.2 511.7l7.3 5.1M1122.1 507.7l7.3 5.1M1157.8 511.8l7.3 5.1M1153.7 515.3l7.3 5.1M1205.8 515.4l7.3 5.1M1192.5 515.0l7.3 5.1M1248.3 517.2l7.3 5.1M1239.7 516.9l7.3 5.1M1276.3 519.5l7.3 5.1M1284.0 515.7l7.3 5.1M1309.7 517.0l7.3 5.1M1305.2 512.6l7.3 5.1M1357.9 514.5l7.3 5.1M1352.3 513.5l7.3 5.1M1381.4 516.2l7.3 5.1M1393.2 514.9l7.3 5.1M1427.0 515.6l7.3 5.1M1414.5 514.5l7.3 5.1M1464.9 511.1l7.3 5.1M1472.4 510.8l7.3 5.1M1500.7 517.1l7.3 5.1M1509.2 513.3l7.3 5.1M1545.4 519.0l7.3 5.1M1543.8 515.2l7.3 5.1M1567.4 517.1l7.3 5.1M1563.7 515.4l7.3 5.1M1603.8 516.4l7.3 5.1M1602.9 516.5l7.3 5.1M1649.9 517.5l7.3 5.1M1658.6 520.7l7.3 5.1M1689.6 519.5l7.3 5.1M1692.9 516.5l7.3 5.1M1727.9 517.1l7.3 5.1M1715.7 515.4l7.3 5.1M1768.4 513.3l7.3 5.1M1754.8 514.6l7.3 5.1M1799.6 513.0l7.3 5.1M1803.8 515.2l7.3 5.1M1830.6 512.6l7.3 5.1M1837.4 514.1l7.3 5.1M1881.7 517.8l7.3 5.1M1860.6 514.6l7.3 5.1M1898.1 513.3l7.3 5.1M1897.7 513.1l7.3 5.1M-21.0 512.4l7.3 5.1M-16.1 509.5l7.3 5.1M17.8 513.7l7.3 5.1M16.2 514.8l7.3 5.1M56.9 517.2l7.3 5.1M60.6 510.4l7.3 5.1M97.3 512.4l7.3 5.1M86.4 516.4l7.3 5.1M119.4 511.1l7.3 5.1M138.2 507.3l7.3 5.1M159.2 506.4l7.3 5.1M171.9 507.1l7.3 5.1M208.9 505.6l7.3 5.1M198.6 504.3l7.3 5.1M243.9 501.0l7.3 5.1M236.0 498.7l7.3 5.1M273.4 499.3l7.3 5.1M269.9 499.1l7.3 5.1M317.1 497.7l7.3 5.1M316.5 496.8l7.3 5.1M340.5 493.0l7.3 5.1M345.4 495.3l7.3 5.1M396.2 493.4l7.3 5.1M376.3 495.2l7.3 5.1M417.1 488.3l7.3 5.1M422.9 491.0l7.3 5.1M455.7 484.9l7.3 5.1M453.0 485.9l7.3 5.1M506.5 476.2l7.3 5.1M492.0 478.7l7.3 5.1M526.1 472.3l7.3 5.1M537.0 470.2l7.3 5.1M572.2 463.1l7.3 5.1M577.2 462.4l7.3 5.1M617.8 456.0l7.3 5.1M600.9 458.0l7.3 5.1M650.5 453.1l7.3 5.1M635.6 453.8l7.3 5.1M677.5 451.8l7.3 5.1M690.7 451.7l7.3 5.1M725.1 453.0l7.3 5.1M714.5 452.5l7.3 5.1M753.5 456.0l7.3 5.1M757.1 456.0l7.3 5.1M786.2 458.9l7.3 5.1M785.5 460.3l7.3 5.1M838.2 465.5l7.3 5.1M827.5 464.0l7.3 5.1M857.1 468.5l7.3 5.1M860.1 473.1l7.3 5.1M909.7 479.7l7.3 5.1M909.4 480.4l7.3 5.1M932.6 481.3l7.3 5.1M931.7 480.7l7.3 5.1M974.5 483.5l7.3 5.1M977.8 482.5l7.3 5.1M1022.5 491.6l7.3 5.1M1024.0 487.6l7.3 5.1M1053.2 492.6l7.3 5.1M1044.5 493.0l7.3 5.1M1082.6 497.3l7.3 5.1M1091.3 497.3l7.3 5.1M1131.5 499.1l7.3 5.1M1133.2 502.3l7.3 5.1M1170.3 502.3l7.3 5.1M1165.7 503.8l7.3 5.1M1204.0 504.7l7.3 5.1M1204.3 503.6l7.3 5.1M1228.7 506.3l7.3 5.1M1242.6 508.4l7.3 5.1M1276.3 505.1l7.3 5.1M1278.4 506.5l7.3 5.1M1309.9 504.7l7.3 5.1M1316.5 507.0l7.3 5.1M1347.9 504.5l7.3 5.1M1349.7 504.4l7.3 5.1M1378.2 503.2l7.3 5.1M1393.2 501.6l7.3 5.1M1429.1 498.0l7.3 5.1M1415.9 499.6l7.3 5.1M1446.3 496.3l7.3 5.1M1461.9 502.0l7.3 5.1M1495.5 499.5l7.3 5.1M1499.3 501.1l7.3 5.1M1540.7 500.4l7.3 5.1M1521.7 497.8l7.3 5.1M1578.0 505.1l7.3 5.1M1572.6 500.5l7.3 5.1M1615.6 508.8l7.3 5.1M1614.1 507.4l7.3 5.1M1648.9 505.6l7.3 5.1M1640.8 503.8l7.3 5.1M1684.8 504.2l7.3 5.1M1689.7 507.0l7.3 5.1M1721.3 506.1l7.3 5.1M1714.5 507.3l7.3 5.1M1754.8 508.1l7.3 5.1M1747.1 504.6l7.3 5.1M1797.5 504.0l7.3 5.1M1794.7 505.2l7.3 5.1M1828.5 503.5l7.3 5.1M1816.8 505.0l7.3 5.1M1876.1 506.4l7.3 5.1M1865.5 507.0l7.3 5.1M1894.6 503.0l7.3 5.1M1889.7 503.1l7.3 5.1M1931.0 503.8l7.3 5.1M-14.5 499.5l7.2 5.1M-1.3 499.1l7.2 5.1M27.4 503.3l7.2 5.1M13.2 501.8l7.2 5.1M54.6 497.7l7.2 5.1M58.4 496.6l7.2 5.1M101.1 502.1l7.2 5.1M102.4 501.1l7.2 5.1M134.0 501.3l7.2 5.1M143.6 495.6l7.2 5.1M174.3 494.0l7.2 5.1M166.8 498.5l7.2 5.1M205.5 491.1l7.2 5.1M208.5 494.8l7.2 5.1M239.3 490.2l7.2 5.1M232.8 493.4l7.2 5.1M279.4 490.1l7.2 5.1M289.1 489.6l7.2 5.1M324.8 484.9l7.2 5.1M314.5 486.4l7.2 5.1M366.2 485.2l7.2 5.1M354.0 483.6l7.2 5.1M387.7 482.9l7.2 5.1M387.3 485.3l7.2 5.1M424.7 482.5l7.2 5.1M437.3 481.8l7.2 5.1M459.2 479.8l7.2 5.1M469.9 479.7l7.2 5.1M508.4 475.2l7.2 5.1M504.5 476.0l7.2 5.1M544.7 470.7l7.2 5.1M528.6 472.7l7.2 5.1M570.1 466.9l7.2 5.1M572.6 466.1l7.2 5.1M612.6 460.7l7.2 5.1M619.8 458.6l7.2 5.1M642.7 455.9l7.2 5.1M640.3 458.4l7.2 5.1M693.6 452.7l7.2 5.1M682.4 455.3l7.2 5.1M730.1 454.1l7.2 5.1M732.1 453.4l7.2 5.1M748.3 454.1l7.2 5.1M757.7 454.8l7.2 5.1M789.4 456.7l7.2 5.1M798.5 458.0l7.2 5.1M823.0 460.0l7.2 5.1M822.2 460.5l7.2 5.1M859.6 462.8l7.2 5.1M876.2 468.1l7.2 5.1M911.6 468.4l7.2 5.1M908.0 470.7l7.2 5.1M948.4 475.6l7.2 5.1M931.6 469.7l7.2 5.1M972.0 473.2l7.2 5.1M983.6 479.0l7.2 5.1M1005.8 477.8l7.2 5.1M1006.9 477.8l7.2 5.1M1055.2 484.9l7.2 5.1M1050.9 484.6l7.2 5.1M1096.1 485.9l7.2 5.1M1092.1 485.6l7.2 5.1M1114.8 485.8l7.2 5.1M1130.8 489.2l7.2 5.1M1163.3 491.6l7.2 5.1M1166.9 491.6l7.2 5.1M1193.0 493.2l7.2 5.1M1192.1 496.2l7.2 5.1M1234.6 492.9l7.2 5.1M1239.8 496.9l7.2 5.1M1271.3 495.2l7.2 5.1M1273.0 495.9l7.2 5.1M1307.8 494.1l7.2 5.1M1316.2 494.8l7.2 5.1M1350.5 492.4l7.2 5.1M1336.6 495.3l7.2 5.1M1377.4 492.7l7.2 5.1M1381.4 492.7l7.2 5.1M1428.3 488.1l7.2 5.1M1414.6 488.9l7.2 5.1M1464.6 490.4l7.2 5.1M1456.3 486.0l7.2 5.1M1487.5 485.9l7.2 5.1M1498.2 489.3l7.2 5.1M1519.2 486.6l7.2 5.1M1526.3 489.8l7.2 5.1M1563.0 489.4l7.2 5.1M1572.0 488.7l7.2 5.1M1607.9 495.8l7.2 5.1M1599.6 496.4l7.2 5.1M1631.6 496.0l7.2 5.1M1630.7 495.1l7.2 5.1M1665.8 495.5l7.2 5.1M1673.2 498.2l7.2 5.1M1715.7 498.3l7.2 5.1M1699.4 495.2l7.2 5.1M1751.9 494.9l7.2 5.1M1744.0 498.4l7.2 5.1M1790.0 497.9l7.2 5.1M1794.0 495.0l7.2 5.1M1823.8 497.5l7.2 5.1M1816.5 495.7l7.2 5.1M1869.6 496.7l7.2 5.1M1861.4 497.1l7.2 5.1M1903.6 493.1l7.2 5.1M1900.1 493.1l7.2 5.1M1925.0 497.2l7.2 5.1M1920.5 494.9l7.2 5.1M1.8 487.8l7.2 5.0M5.2 488.9l7.2 5.0M24.5 487.6l7.2 5.0M37.7 490.0l7.2 5.0M75.7 487.1l7.2 5.0M75.0 488.7l7.2 5.0M93.9 490.4l7.2 5.0M110.5 487.2l7.2 5.0M146.5 488.0l7.2 5.0M136.0 488.4l7.2 5.0M186.7 482.2l7.2 5.0M171.7 483.1l7.2 5.0M204.5 482.4l7.2 5.0M210.4 480.1l7.2 5.0M256.4 477.8l7.2 5.0M242.8 482.3l7.2 5.0M291.1 476.5l7.2 5.0M277.8 476.1l7.2 5.0M332.0 478.2l7.2 5.0M324.6 476.6l7.2 5.0M369.8 477.2l7.2 5.0M361.3 476.5l7.2 5.0M394.9 479.7l7.2 5.0M397.3 478.1l7.2 5.0M429.0 478.0l7.2 5.0M426.2 478.3l7.2 5.0M475.5 476.5l7.2 5.0M469.1 476.6l7.2 5.0M497.4 476.3l7.2 5.0M511.5 475.5l7.2 5.0M538.7 473.3l7.2 5.0M552.2 472.7l7.2 5.0M581.3 469.0l7.2 5.0M570.0 470.9l7.2 5.0M613.3 466.8l7.2 5.0M618.7 465.7l7.2 5.0M652.9 462.0l7.2 5.0M643.8 463.7l7.2 5.0M689.3 458.1l7.2 5.0M680.0 457.7l7.2 5.0M728.5 455.6l7.2 5.0M727.0 455.2l7.2 5.0M760.1 454.4l7.2 5.0M763.6 454.2l7.2 5.0M787.7 453.7l7.2 5.0M785.9 454.0l7.2 5.0M833.2 456.8l7.2 5.0M831.2 454.6l7.2 5.0M876.9 460.9l7.2 5.0M869.5 456.9l7.2 5.0M897.3 458.8l7.2 5.0M915.0 462.9l7.2 5.0M935.4 465.4l7.2 5.0M935.7 463.9l7.2 5.0M982.8 464.5l7.2 5.0M979.5 464.2l7.2 5.0M1013.0 469.0l7.2 5.0M1003.7 469.4l7.2 5.0M1040.6 474.8l7.2 5.0M1057.8 476.4l7.2 5.0M1082.9 476.0l7.2 5.0M1088.1 479.2l7.2 5.0M1115.1 477.5l7.2 5.0M1121.8 481.3l7.2 5.0M1159.7 482.4l7.2 5.0M1171.3 485.0l7.2 5.0M1189.8 485.9l7.2 5.0M1197.1 481.3l7.2 5.0M1239.3 488.1l7.2 5.0M1233.8 486.6l7.2 5.0M1279.2 486.0l7.2 5.0M1271.7 488.1l7.2 5.0M1304.1 486.7l7.2 5.0M1302.7 486.5l7.2 5.0M1333.0 486.5l7.2 5.0M1352.6 485.7l7.2 5.0M1377.9 482.8l7.2 5.0M1384.6 482.5l7.2 5.0M1411.5 481.2l7.2 5.0M1407.8 481.8l7.2 5.0M1441.0 482.0l7.2 5.0M1444.1 481.2l7.2 5.0M1493.6 481.3l7.2 5.0M1496.4 480.9l7.2 5.0M1532.3 477.2l7.2 5.0M1525.3 477.5l7.2 5.0M1569.8 481.7l7.2 5.0M1569.0 483.8l7.2 5.0M1602.1 482.5l7.2 5.0M1603.4 485.4l7.2 5.0M1623.6 484.5l7.2 5.0M1634.5 484.3l7.2 5.0M1661.9 486.4l7.2 5.0M1680.1 488.8l7.2 5.0M1710.8 486.0l7.2 5.0M1709.4 488.6l7.2 5.0M1740.1 488.6l7.2 5.0M1735.1 490.6l7.2 5.0M1774.5 489.5l7.2 5.0M1787.4 488.2l7.2 5.0M1822.5 486.0l7.2 5.0M1821.6 484.3l7.2 5.0M1855.7 485.7l7.2 5.0M1845.0 485.3l7.2 5.0M1881.7 483.0l7.2 5.0M1876.7 484.2l7.2 5.0M1920.4 485.4l7.2 5.0M1922.4 482.0l7.2 5.0M5.2 474.0l7.1 5.0M-0.8 472.3l7.1 5.0M41.3 473.5l7.1 5.0M50.1 474.6l7.1 5.0M81.0 475.6l7.1 5.0M68.4 476.0l7.1 5.0M101.8 478.2l7.1 5.0M122.5 476.8l7.1 5.0M140.5 476.0l7.1 5.0M139.6 475.0l7.1 5.0M177.8 475.6l7.1 5.0M189.3 470.9l7.1 5.0M211.1 470.8l7.1 5.0M222.6 471.3l7.1 5.0M253.5 472.3l7.1 5.0M253.8 469.6l7.1 5.0M291.1 466.2l7.1 5.0M290.7 467.0l7.1 5.0M336.7 468.0l7.1 5.0M328.9 469.1l7.1 5.0M371.4 472.1l7.1 5.0M357.7 472.2l7.1 5.0M400.9 471.3l7.1 5.0M412.2 469.7l7.1 5.0M435.2 472.1l7.1 5.0M429.4 471.0l7.1 5.0M472.9 474.4l7.1 5.0M480.4 474.9l7.1 5.0M502.7 474.0l7.1 5.0M519.4 474.5l7.1 5.0M541.1 473.1l7.1 5.0M542.9 472.9l7.1 5.0M570.6 472.2l7.1 5.0M578.1 471.5l7.1 5.0M609.4 468.8l7.1 5.0M626.8 467.1l7.1 5.0M659.6 463.2l7.1 5.0M652.9 464.0l7.1 5.0M681.2 460.8l7.1 5.0M695.0 459.1l7.1 5.0M717.6 456.6l7.1 5.0M717.0 456.3l7.1 5.0M767.4 452.1l7.1 5.0M772.4 450.5l7.1 5.0M791.4 451.0l7.1 5.0M791.5 449.8l7.1 5.0M836.2 448.7l7.1 5.0M840.1 448.6l7.1 5.0M866.3 448.9l7.1 5.0M879.7 453.2l7.1 5.0M905.8 454.3l7.1 5.0M911.6 452.8l7.1 5.0M949.7 453.4l7.1 5.0M952.3 454.1l7.1 5.0M980.5 453.7l7.1 5.0M985.0 458.1l7.1 5.0M1005.9 456.5l7.1 5.0M1005.0 456.4l7.1 5.0M1059.9 463.8l7.1 5.0M1060.2 464.2l7.1 5.0M1091.9 466.7l7.1 5.0M1080.8 468.9l7.1 5.0M1128.0 470.3l7.1 5.0M1114.5 468.7l7.1 5.0M1153.9 473.3l7.1 5.0M1166.8 472.2l7.1 5.0M1199.9 473.3l7.1 5.0M1193.5 474.9l7.1 5.0M1229.6 477.6l7.1 5.0M1236.5 475.5l7.1 5.0M1262.4 477.6l7.1 5.0M1261.5 481.0l7.1 5.0M1306.7 478.2l7.1 5.0M1298.7 477.2l7.1 5.0M1344.2 479.5l7.1 5.0M1344.2 477.5l7.1 5.0M1366.7 476.4l7.1 5.0M1374.2 478.4l7.1 5.0M1408.6 475.7l7.1 5.0M1412.3 476.3l7.1 5.0M1437.6 473.9l7.1 5.0M1451.7 473.0l7.1 5.0M1480.4 470.9l7.1 5.0M1473.8 473.9l7.1 5.0M1509.0 471.1l7.1 5.0M1520.7 472.7l7.1 5.0M1557.5 474.9l7.1 5.0M1544.4 470.3l7.1 5.0M1601.3 476.9l7.1 5.0M1595.0 474.6l7.1 5.0M1627.6 475.0l7.1 5.0M1629.5 474.6l7.1 5.0M1666.5 476.8l7.1 5.0M1654.5 476.6l7.1 5.0M1694.6 478.0l7.1 5.0M1704.7 478.1l7.1 5.0M1741.9 481.2l7.1 5.0M1735.5 479.5l7.1 5.0M1762.3 480.3l7.1 5.0M1772.7 479.2l7.1 5.0M1804.3 478.5l7.1 5.0M1813.7 479.1l7.1 5.0M1846.5 475.3l7.1 5.0M1841.3 477.3l7.1 5.0M1878.5 473.8l7.1 5.0M1876.2 477.0l7.1 5.0M1913.4 473.8l7.1 5.0M1906.8 471.9l7.1 5.0M10.0 464.0l7.1 4.9M5.6 461.5l7.1 4.9M49.6 465.6l7.1 4.9M36.7 466.6l7.1 4.9M80.9 465.2l7.1 4.9M76.7 466.0l7.1 4.9M114.9 466.2l7.1 4.9M123.6 466.4l7.1 4.9M161.2 465.1l7.1 4.9M147.0 465.4l7.1 4.9M191.7 463.2l7.1 4.9M199.9 464.7l7.1 4.9M233.5 463.4l7.1 4.9M228.3 464.8l7.1 4.9M269.5 461.3l7.1 4.9M261.7 461.2l7.1 4.9M294.9 462.0l7.1 4.9M303.0 460.2l7.1 4.9M324.0 462.2l7.1 4.9M342.9 463.1l7.1 4.9M365.9 462.9l7.1 4.9M368.7 461.5l7.1 4.9M415.2 466.3l7.1 4.9M399.0 465.7l7.1 4.9M439.9 466.8l7.1 4.9M446.4 464.7l7.1 4.9M467.1 469.3l7.1 4.9M468.7 468.2l7.1 4.9M505.2 469.4l7.1 4.9M510.8 468.5l7.1 4.9M560.1 468.4l7.1 4.9M547.6 469.4l7.1 4.9M577.2 468.9l7.1 4.9M593.8 467.2l7.1 4.9M612.3 467.6l7.1 4.9M629.6 464.6l7.1 4.9M661.4 462.7l7.1 4.9M658.2 463.1l7.1 4.9M697.7 456.0l7.1 4.9M687.7 459.4l7.1 4.9M733.6 450.1l7.1 4.9M730.4 452.4l7.1 4.9M760.5 446.9l7.1 4.9M773.7 446.8l7.1 4.9M794.1 441.5l7.1 4.9M798.0 443.5l7.1 4.9M831.5 439.1l7.1 4.9M845.7 440.1l7.1 4.9M878.8 441.4l7.1 4.9M869.7 438.5l7.1 4.9M917.2 440.3l7.1 4.9M911.5 439.7l7.1 4.9M951.9 440.3l7.1 4.9M943.4 443.9l7.1 4.9M968.0 444.3l7.1 4.9M975.4 448.6l7.1 4.9M1025.0 452.2l7.1 4.9M1023.7 453.9l7.1 4.9M1047.1 451.7l7.1 4.9M1053.8 453.1l7.1 4.9M1085.9 459.5l7.1 4.9M1092.9 456.1l7.1 4.9M1121.2 459.7l7.1 4.9M1128.3 460.7l7.1 4.9M1157.0 463.1l7.1 4.9M1162.4 462.1l7.1 4.9M1189.5 463.9l7.1 4.9M1190.5 464.5l7.1 4.9M1226.1 466.2l7.1 4.9M1238.3 468.0l7.1 4.9M1262.6 471.5l7.1 4.9M1263.4 470.4l7.1 4.9M1290.6 471.8l7.1 4.9M1310.6 474.3l7.1 4.9M1344.8 472.4l7.1 4.9M1346.8 471.8l7.1 4.9M1376.6 470.9l7.1 4.9M1371.3 473.2l7.1 4.9M1415.0 469.0l7.1 4.9M1413.4 471.0l7.1 4.9M1443.8 468.6l7.1 4.9M1441.0 468.8l7.1 4.9M1477.7 465.1l7.1 4.9M1481.3 464.9l7.1 4.9M1525.0 466.6l7.1 4.9M1521.6 465.9l7.1 4.9M1553.2 465.8l7.1 4.9M1556.9 466.9l7.1 4.9M1591.3 468.0l7.1 4.9M1593.2 467.6l7.1 4.9M1624.5 467.1l7.1 4.9M1619.6 470.9l7.1 4.9M1667.1 471.3l7.1 4.9M1660.8 469.7l7.1 4.9M1703.2 473.5l7.1 4.9M1705.3 473.5l7.1 4.9M1734.0 472.3l7.1 4.9M1727.6 473.9l7.1 4.9M1763.7 474.0l7.1 4.9M1762.9 471.9l7.1 4.9M1790.6 470.3l7.1 4.9M1807.8 471.3l7.1 4.9M1841.5 470.6l7.1 4.9M1841.8 468.0l7.1 4.9M1870.9 467.5l7.1 4.9M1868.4 469.0l7.1 4.9M1916.2 464.5l7.1 4.9M1907.5 464.7l7.1 4.9M-22.2 455.5l7.0 4.9M-20.6 456.8l7.0 4.9M24.3 457.0l7.0 4.9M26.1 455.2l7.0 4.9M50.6 459.3l7.0 4.9M62.9 457.1l7.0 4.9M93.3 457.3l7.0 4.9M93.6 456.3l7.0 4.9M117.8 456.5l7.0 4.9M128.5 459.0l7.0 4.9M172.1 456.1l7.0 4.9M162.0 460.1l7.0 4.9M199.7 456.9l7.0 4.9M200.2 455.2l7.0 4.9M226.3 453.9l7.0 4.9M228.0 456.2l7.0 4.9M257.2 455.6l7.0 4.9M263.6 453.8l7.0 4.9M312.3 455.3l7.0 4.9M299.0 454.4l7.0 4.9M342.0 456.0l7.0 4.9M342.0 456.8l7.0 4.9M365.5 456.6l7.0 4.9M378.7 458.7l7.0 4.9M401.3 457.6l7.0 4.9M402.4 456.7l7.0 4.9M449.2 461.1l7.0 4.9M442.9 461.2l7.0 4.9M472.4 461.6l7.0 4.9M490.5 460.3l7.0 4.9M522.7 462.6l7.0 4.9M518.8 463.0l7.0 4.9M555.9 463.8l7.0 4.9M551.1 462.3l7.0 4.9M583.6 463.6l7.0 4.9M592.8 460.8l7.0 4.9M620.1 461.0l7.0 4.9M621.0 461.8l7.0 4.9M656.5 455.9l7.0 4.9M652.4 457.6l7.0 4.9M690.1 452.3l7.0 4.9M699.9 452.6l7.0 4.9M729.4 447.5l7.0 4.9M733.5 444.8l7.0 4.9M759.4 442.6l7.0 4.9M761.3 441.9l7.0 4.9M809.9 431.0l7.0 4.9M807.3 434.1l7.0 4.9M835.5 432.3l7.0 4.9M836.2 427.8l7.0 4.9M863.4 430.3l7.0 4.9M865.9 427.5l7.0 4.9M903.5 430.6l7.0 4.9M898.2 429.2l7.0 4.9M943.6 429.3l7.0 4.9M948.0 429.9l7.0 4.9M973.7 435.1l7.0 4.9M980.8 437.2l7.0 4.9M1023.5 438.3l7.0 4.9M1014.1 439.2l7.0 4.9M1040.8 441.8l7.0 4.9M1055.7 446.4l7.0 4.9M1076.7 445.1l7.0 4.9M1084.5 445.2l7.0 4.9M1118.6 447.4l7.0 4.9M1128.9 452.2l7.0 4.9M1157.0 453.3l7.0 4.9M1155.0 451.9l7.0 4.9M1195.9 455.3l7.0 4.9M1186.6 456.3l7.0 4.9M1228.2 459.7l7.0 4.9M1216.7 457.3l7.0 4.9M1262.2 464.7l7.0 4.9M1270.4 463.4l7.0 4.9M1303.2 464.5l7.0 4.9M1300.4 463.7l7.0 4.9M1324.7 467.0l7.0 4.9M1326.5 465.8l7.0 4.9M1364.2 468.1l7.0 4.9M1362.2 467.7l7.0 4.9M1405.9 465.6l7.0 4.9M1405.1 466.9l7.0 4.9M1441.6 464.6l7.0 4.9M1432.6 465.7l7.0 4.9M1468.7 462.5l7.0 4.9M1468.9 462.3l7.0 4.9M1503.8 459.4l7.0 4.9M1519.9 460.6l7.0 4.9M1536.7 458.6l7.0 4.9M1537.7 459.6l7.0 4.9M1588.0 461.1l7.0 4.9M1591.8 462.5l7.0 4.9M1621.5 460.7l7.0 4.9M1625.5 461.1l7.0 4.9M1652.1 463.7l7.0 4.9M1661.3 464.7l7.0 4.9M1685.3 467.3l7.0 4.9M1683.9 466.7l7.0 4.9M1734.4 467.6l7.0 4.9M1719.8 464.5l7.0 4.9M1764.4 466.7l7.0 4.9M1752.2 467.3l7.0 4.9M1789.5 463.5l7.0 4.9M1792.2 463.2l7.0 4.9M1828.0 465.1l7.0 4.9M1841.3 464.2l7.0 4.9M1872.4 458.4l7.0 4.9M1860.7 458.7l7.0 4.9M1898.6 454.5l7.0 4.9M1901.5 454.6l7.0 4.9M-6.8 449.9l7.0 4.9M-2.7 446.6l7.0 4.9M19.1 450.1l7.0 4.9M18.4 448.1l7.0 4.9M55.8 448.8l7.0 4.9M63.0 448.4l7.0 4.9M102.5 451.7l7.0 4.9M90.9 451.4l7.0 4.9M136.8 450.6l7.0 4.9M140.7 452.6l7.0 4.9M158.9 451.2l7.0 4.9M172.9 450.7l7.0 4.9M211.2 448.5l7.0 4.9M207.4 448.6l7.0 4.9M232.5 446.9l7.0 4.9M240.9 449.6l7.0 4.9M267.6 447.0l7.0 4.9M271.5 445.9l7.0 4.9M304.6 448.0l7.0 4.9M310.8 446.5l7.0 4.9M341.6 448.3l7.0 4.9M349.5 450.1l7.0 4.9M390.3 451.4l7.0 4.9M385.2 452.2l7.0 4.9M404.6 453.7l7.0 4.9M417.2 454.1l7.0 4.9M452.9 454.3l7.0 4.9M448.7 452.5l7.0 4.9M493.3 454.4l7.0 4.9M484.5 454.8l7.0 4.9M532.0 454.5l7.0 4.9M522.1 457.9l7.0 4.9M563.6 458.5l7.0 4.9M548.2 455.7l7.0 4.9M585.3 454.7l7.0 4.9M594.6 456.8l7.0 4.9M636.0 449.7l7.0 4.9M630.6 450.2l7.0 4.9M668.1 448.9l7.0 4.9M669.3 446.6l7.0 4.9M700.5 445.7l7.0 4.9M694.6 444.0l7.0 4.9M729.0 440.5l7.0 4.9M730.8 440.3l7.0 4.9M766.5 434.4l7.0 4.9M771.9 432.9l7.0 4.9M811.6 425.8l7.0 4.9M805.6 424.2l7.0 4.9M831.7 420.3l7.0 4.9M839.1 419.8l7.0 4.9M866.5 419.5l7.0 4.9M880.3 418.8l7.0 4.9M902.9 420.7l7.0 4.9M916.3 422.5l7.0 4.9M943.2 419.9l7.0 4.9M942.1 423.3l7.0 4.9M970.6 419.1l7.0 4.9M977.9 423.6l7.0 4.9M1013.2 429.9l7.0 4.9M1005.3 423.4l7.0 4.9M1055.0 435.4l7.0 4.9M1045.6 434.9l7.0 4.9M1080.8 436.6l7.0 4.9M1090.0 437.6l7.0 4.9M1126.9 438.9l7.0 4.9M1121.6 443.6l7.0 4.9M1147.3 442.9l7.0 4.9M1147.0 441.6l7.0 4.9M1181.3 449.4l7.0 4.9M1200.9 449.2l7.0 4.9M1226.7 451.3l7.0 4.9M1217.7 451.4l7.0 4.9M1257.8 454.0l7.0 4.9M1266.6 455.0l7.0 4.9M1289.4 457.8l7.0 4.9M1305.3 460.1l7.0 4.9M1327.9 459.4l7.0 4.9M1342.5 462.2l7.0 4.9M1370.7 460.7l7.0 4.9M1366.6 459.3l7.0 4.9M1393.1 460.0l7.0 4.9M1397.4 459.4l7.0 4.9M1441.7 459.1l7.0 4.9M1429.1 458.6l7.0 4.9M1476.4 456.0l7.0 4.9M1476.5 454.7l7.0 4.9M1501.7 454.2l7.0 4.9M1514.6 455.5l7.0 4.9M1551.8 455.1l7.0 4.9M1552.2 454.2l7.0 4.9M1586.9 453.2l7.0 4.9M1584.3 455.2l7.0 4.9M1612.1 454.9l7.0 4.9M1619.9 455.8l7.0 4.9M1657.8 458.1l7.0 4.9M1650.0 458.1l7.0 4.9M1677.4 458.6l7.0 4.9M1673.9 457.2l7.0 4.9M1721.9 459.7l7.0 4.9M1725.1 459.1l7.0 4.9M1759.6 461.1l7.0 4.9M1752.3 461.5l7.0 4.9M1781.0 456.8l7.0 4.9M1781.4 458.0l7.0 4.9M1821.4 455.3l7.0 4.9M1831.3 454.0l7.0 4.9M1867.9 448.5l7.0 4.9M1855.8 450.2l7.0 4.9M1901.7 449.5l7.0 4.9M1891.4 448.8l7.0 4.9M4.2 440.5l6.9 4.8M6.1 438.6l6.9 4.8M24.1 443.2l6.9 4.8M42.8 443.9l6.9 4.8M76.0 444.6l6.9 4.8M62.0 445.7l6.9 4.8M103.7 444.9l6.9 4.8M93.4 446.7l6.9 4.8M136.9 444.7l6.9 4.8M144.1 446.9l6.9 4.8M172.4 445.8l6.9 4.8M178.3 446.0l6.9 4.8M206.7 443.9l6.9 4.8M204.0 444.3l6.9 4.8M249.9 441.7l6.9 4.8M234.9 443.0l6.9 4.8M280.3 442.5l6.9 4.8M277.5 441.2l6.9 4.8M310.8 443.4l6.9 4.8M321.2 444.1l6.9 4.8M356.9 447.0l6.9 4.8M350.9 444.9l6.9 4.8M383.0 447.2l6.9 4.8M392.1 448.4l6.9 4.8M409.5 449.1l6.9 4.8M427.8 447.9l6.9 4.8M459.6 448.9l6.9 4.8M451.3 447.9l6.9 4.8M491.9 448.0l6.9 4.8M482.0 449.6l6.9 4.8M529.4 448.2l6.9 4.8M524.4 448.6l6.9 4.8M551.5 449.0l6.9 4.8M556.2 448.7l6.9 4.8M589.6 449.7l6.9 4.8M590.0 447.4l6.9 4.8M634.5 443.0l6.9 4.8M626.8 447.3l6.9 4.8M670.4 442.3l6.9 4.8M668.9 441.5l6.9 4.8M697.5 439.3l6.9 4.8M693.9 437.2l6.9 4.8M733.9 430.0l6.9 4.8M740.8 430.1l6.9 4.8M778.9 425.1l6.9 4.8M767.2 425.4l6.9 4.8M795.2 418.6l6.9 4.8M796.9 419.2l6.9 4.8M834.3 413.2l6.9 4.8M838.3 413.3l6.9 4.8M867.4 410.1l6.9 4.8M876.6 412.7l6.9 4.8M918.9 412.2l6.9 4.8M903.2 411.7l6.9 4.8M941.2 410.4l6.9 4.8M952.5 412.5l6.9 4.8M980.6 411.8l6.9 4.8M974.0 412.5l6.9 4.8M1012.8 415.2l6.9 4.8M1019.8 418.7l6.9 4.8M1040.0 422.9l6.9 4.8M1055.7 424.8l6.9 4.8M1081.6 427.2l6.9 4.8M1074.3 426.3l6.9 4.8M1123.1 434.5l6.9 4.8M1117.0 430.3l6.9 4.8M1148.9 435.4l6.9 4.8M1150.6 435.5l6.9 4.8M1186.7 440.1l6.9 4.8M1197.6 439.4l6.9 4.8M1234.5 445.9l6.9 4.8M1223.3 444.1l6.9 4.8M1266.7 449.0l6.9 4.8M1263.0 449.5l6.9 4.8M1295.0 451.8l6.9 4.8M1302.7 452.1l6.9 4.8M1338.2 453.3l6.9 4.8M1325.3 452.7l6.9 4.8M1372.4 453.5l6.9 4.8M1370.4 454.0l6.9 4.8M1401.9 455.6l6.9 4.8M1405.4 453.7l6.9 4.8M1437.2 454.1l6.9 4.8M1439.1 453.2l6.9 4.8M1463.8 449.5l6.9 4.8M1474.0 449.7l6.9 4.8M1510.3 448.0l6.9 4.8M1500.1 447.1l6.9 4.8M1546.7 447.4l6.9 4.8M1537.2 448.3l6.9 4.8M1563.0 446.3l6.9 4.8M1580.2 447.3l6.9 4.8M1606.9 446.4l6.9 4.8M1598.7 448.2l6.9 4.8M1637.9 447.7l6.9 4.8M1640.1 447.8l6.9 4.8M1687.1 450.5l6.9 4.8M1671.9 451.9l6.9 4.8M1720.6 451.2l6.9 4.8M1713.8 453.3l6.9 4.8M1741.8 453.8l6.9 4.8M1758.3 453.3l6.9 4.8M1779.7 450.3l6.9 4.8M1785.9 451.3l6.9 4.8M1820.9 447.3l6.9 4.8M1830.1 449.5l6.9 4.8M1850.6 446.9l6.9 4.8M1850.0 446.4l6.9 4.8M1877.2 439.4l6.9 4.8M1882.6 439.5l6.9 4.8M1928.5 437.3l6.9 4.8M1912.9 439.0l6.9 4.8M14.5 432.4l6.8 4.8M4.5 432.2l6.8 4.8M40.3 436.2l6.8 4.8M47.4 433.9l6.8 4.8M78.1 439.8l6.8 4.8M76.2 436.6l6.8 4.8M104.0 439.0l6.8 4.8M115.7 439.4l6.8 4.8M141.0 441.9l6.8 4.8M149.3 441.4l6.8 4.8M183.3 439.2l6.8 4.8M184.3 440.6l6.8 4.8M226.6 435.8l6.8 4.8M222.4 438.2l6.8 4.8M254.7 435.6l6.8 4.8M255.4 434.3l6.8 4.8M284.8 433.2l6.8 4.8M283.8 435.2l6.8 4.8M323.3 438.1l6.8 4.8M327.6 437.7l6.8 4.8M361.6 442.1l6.8 4.8M347.0 438.6l6.8 4.8M383.7 443.2l6.8 4.8M383.7 442.3l6.8 4.8M429.4 443.5l6.8 4.8M415.2 445.3l6.8 4.8M459.4 445.1l6.8 4.8M463.3 443.9l6.8 4.8M503.1 443.5l6.8 4.8M497.4 443.4l6.8 4.8M527.8 444.8l6.8 4.8M519.4 443.7l6.8 4.8M566.5 442.9l6.8 4.8M563.0 443.5l6.8 4.8M606.0 441.4l6.8 4.8M590.9 440.6l6.8 4.8M638.3 436.7l6.8 4.8M642.2 437.9l6.8 4.8M659.7 436.2l6.8 4.8M666.5 436.0l6.8 4.8M707.2 431.2l6.8 4.8M711.0 430.6l6.8 4.8M732.2 425.8l6.8 4.8M731.1 426.3l6.8 4.8M766.2 421.3l6.8 4.8M770.1 420.9l6.8 4.8M812.8 410.5l6.8 4.8M814.3 411.6l6.8 4.8M830.5 408.3l6.8 4.8M845.5 406.7l6.8 4.8M885.0 404.9l6.8 4.8M878.8 406.3l6.8 4.8M907.6 406.2l6.8 4.8M907.7 404.8l6.8 4.8M940.6 405.0l6.8 4.8M945.4 403.1l6.8 4.8M982.2 406.9l6.8 4.8M977.8 406.1l6.8 4.8M1020.4 412.1l6.8 4.8M1012.7 409.1l6.8 4.8M1044.4 416.2l6.8 4.8M1058.7 418.8l6.8 4.8M1084.1 420.8l6.8 4.8M1079.8 420.4l6.8 4.8M1116.2 423.8l6.8 4.8M1119.1 424.5l6.8 4.8M1154.1 428.5l6.8 4.8M1150.7 430.1l6.8 4.8M1184.7 432.8l6.8 4.8M1177.1 430.5l6.8 4.8M1222.7 436.6l6.8 4.8M1226.8 438.8l6.8 4.8M1248.8 439.0l6.8 4.8M1246.8 438.3l6.8 4.8M1291.1 441.8l6.8 4.8M1299.1 444.7l6.8 4.8M1323.1 446.2l6.8 4.8M1331.9 446.6l6.8 4.8M1364.7 445.3l6.8 4.8M1366.1 447.4l6.8 4.8M1400.7 447.6l6.8 4.8M1397.5 447.9l6.8 4.8M1438.4 444.7l6.8 4.8M1431.6 446.7l6.8 4.8M1456.6 445.0l6.8 4.8M1474.5 444.4l6.8 4.8M1506.0 442.9l6.8 4.8M1504.7 442.8l6.8 4.8M1535.7 439.8l6.8 4.8M1523.9 439.9l6.8 4.8M1570.3 441.4l6.8 4.8M1565.0 440.0l6.8 4.8M1609.8 441.1l6.8 4.8M1595.6 441.0l6.8 4.8M1641.6 440.0l6.8 4.8M1643.3 438.2l6.8 4.8M1670.2 439.6l6.8 4.8M1665.5 439.3l6.8 4.8M1711.9 443.0l6.8 4.8M1712.6 443.6l6.8 4.8M1752.3 441.1l6.8 4.8M1750.8 440.4l6.8 4.8M1770.6 439.5l6.8 4.8M1780.2 441.3l6.8 4.8M1815.1 437.5l6.8 4.8M1816.9 440.6l6.8 4.8M1854.8 431.4l6.8 4.8M1843.7 433.2l6.8 4.8M1892.4 432.3l6.8 4.8M1876.1 433.4l6.8 4.8M1917.4 432.4l6.8 4.8M1909.7 429.5l6.8 4.8M22.1 425.0l6.8 4.8M12.9 421.4l6.8 4.8M47.1 426.7l6.8 4.8M41.8 426.7l6.8 4.8M93.2 430.1l6.8 4.8M92.4 429.6l6.8 4.8M111.1 434.5l6.8 4.8M111.5 432.0l6.8 4.8M153.4 434.5l6.8 4.8M156.2 435.1l6.8 4.8M189.3 433.1l6.8 4.8M181.0 432.2l6.8 4.8M216.4 429.6l6.8 4.8M227.0 430.3l6.8 4.8M254.3 429.5l6.8 4.8M249.5 427.5l6.8 4.8M288.2 427.4l6.8 4.8M287.2 428.8l6.8 4.8M319.0 428.2l6.8 4.8M322.6 431.3l6.8 4.8M366.3 436.7l6.8 4.8M352.9 434.5l6.8 4.8M396.0 437.7l6.8 4.8M385.5 436.3l6.8 4.8M433.5 438.6l6.8 4.8M426.6 439.8l6.8 4.8M453.9 440.1l6.8 4.8M470.0 440.2l6.8 4.8M506.3 438.9l6.8 4.8M505.2 440.8l6.8 4.8M530.8 438.4l6.8 4.8M527.3 440.1l6.8 4.8M556.3 438.4l6.8 4.8M566.6 439.0l6.8 4.8M595.9 436.1l6.8 4.8M594.4 435.7l6.8 4.8M642.6 432.5l6.8 4.8M627.5 433.4l6.8 4.8M664.6 431.8l6.8 4.8M673.9 429.9l6.8 4.8M698.8 428.1l6.8 4.8M709.1 425.1l6.8 4.8M735.4 422.4l6.8 4.8M732.5 423.0l6.8 4.8M774.2 417.3l6.8 4.8M775.0 416.8l6.8 4.8M797.4 413.1l6.8 4.8M805.1 411.2l6.8 4.8M842.7 404.5l6.8 4.8M844.5 404.1l6.8 4.8M878.5 403.3l6.8 4.8M868.4 403.1l6.8 4.8M919.4 402.1l6.8 4.8M917.3 402.3l6.8 4.8M943.5 401.4l6.8 4.8M944.6 400.7l6.8 4.8M985.5 401.1l6.8 4.8M979.8 400.6l6.8 4.8M1011.2 406.6l6.8 4.8M1012.3 405.7l6.8 4.8M1054.0 413.5l6.8 4.8M1038.4 410.2l6.8 4.8M1076.2 414.7l6.8 4.8M1084.2 417.3l6.8 4.8M1117.4 419.2l6.8 4.8M1111.2 418.0l6.8 4.8M1142.6 423.6l6.8 4.8M1153.4 423.1l6.8 4.8M1187.7 425.2l6.8 4.8M1180.2 427.4l6.8 4.8M1221.4 430.9l6.8 4.8M1218.4 430.3l6.8 4.8M1263.0 435.8l6.8 4.8M1258.8 434.4l6.8 4.8M1284.3 435.3l6.8 4.8M1284.5 437.5l6.8 4.8M1317.1 438.3l6.8 4.8M1327.9 440.1l6.8 4.8M1350.1 439.9l6.8 4.8M1354.7 440.1l6.8 4.8M1396.7 442.7l6.8 4.8M1382.7 439.1l6.8 4.8M1435.5 441.4l6.8 4.8M1421.5 440.4l6.8 4.8M1468.8 436.8l6.8 4.8M1471.8 437.5l6.8 4.8M1505.3 436.2l6.8 4.8M1496.9 431.8l6.8 4.8M1533.9 430.8l6.8 4.8M1526.2 430.9l6.8 4.8M1573.7 432.5l6.8 4.8M1569.3 429.1l6.8 4.8M1593.6 431.1l6.8 4.8M1604.6 429.7l6.8 4.8M1642.5 429.9l6.8 4.8M1633.6 431.6l6.8 4.8M1662.3 427.2l6.8 4.8M1661.9 427.1l6.8 4.8M1708.6 430.2l6.8 4.8M1700.0 433.8l6.8 4.8M1728.0 428.6l6.8 4.8M1744.8 427.4l6.8 4.8M1765.3 427.1l6.8 4.8M1770.6 430.9l6.8 4.8M1813.1 426.5l6.8 4.8M1810.3 430.2l6.8 4.8M1833.4 428.8l6.8 4.8M1836.6 428.2l6.8 4.8M1876.9 423.2l6.8 4.8M1867.3 419.8l6.8 4.8M1908.5 424.3l6.8 4.8M1898.8 421.3l6.8 4.8M1933.6 421.6l6.8 4.8M1933.9 422.0l6.8 4.8M-8.9 413.0l6.7 4.7M-15.7 411.0l6.7 4.7M33.8 413.9l6.7 4.7M33.6 413.0l6.7 4.7M54.3 418.4l6.7 4.7M56.3 417.4l6.7 4.7M83.1 424.2l6.7 4.7M90.2 423.2l6.7 4.7M134.6 427.3l6.7 4.7M114.6 425.8l6.7 4.7M165.6 428.7l6.7 4.7M160.2 426.5l6.7 4.7M199.9 425.8l6.7 4.7M197.4 423.2l6.7 4.7M237.6 421.2l6.7 4.7M225.0 422.0l6.7 4.7M267.2 418.2l6.7 4.7M265.1 419.9l6.7 4.7M300.0 420.4l6.7 4.7M289.3 421.2l6.7 4.7M330.3 423.7l6.7 4.7M325.2 422.5l6.7 4.7M361.6 427.0l6.7 4.7M374.2 429.1l6.7 4.7M399.3 433.1l6.7 4.7M400.4 431.5l6.7 4.7M433.3 434.3l6.7 4.7M428.9 435.4l6.7 4.7M460.1 435.8l6.7 4.7M461.4 436.0l6.7 4.7M499.6 434.8l6.7 4.7M493.8 434.2l6.7 4.7M534.6 434.1l6.7 4.7M534.5 433.6l6.7 4.7M572.4 434.1l6.7 4.7M570.0 433.7l6.7 4.7M608.5 430.6l6.7 4.7M597.1 432.7l6.7 4.7M647.2 427.8l6.7 4.7M633.4 426.5l6.7 4.7M662.6 425.8l6.7 4.7M670.9 424.6l6.7 4.7M712.6 420.2l6.7 4.7M701.9 423.9l6.7 4.7M733.9 420.3l6.7 4.7M735.7 418.6l6.7 4.7M782.2 414.0l6.7 4.7M770.2 414.3l6.7 4.7M810.4 407.7l6.7 4.7M799.5 410.8l6.7 4.7M837.1 403.0l6.7 4.7M833.8 403.3l6.7 4.7M883.3 402.7l6.7 4.7M872.6 402.0l6.7 4.7M913.5 400.9l6.7 4.7M914.8 401.1l6.7 4.7M942.1 398.9l6.7 4.7M944.6 398.3l6.7 4.7M980.1 398.4l6.7 4.7M982.9 398.7l6.7 4.7M1013.5 402.5l6.7 4.7M1015.7 402.4l6.7 4.7M1043.9 408.1l6.7 4.7M1057.5 409.2l6.7 4.7M1083.2 412.8l6.7 4.7M1075.5 411.9l6.7 4.7M1114.8 415.5l6.7 4.7M1111.2 415.0l6.7 4.7M1152.2 419.9l6.7 4.7M1153.5 418.4l6.7 4.7M1178.5 421.6l6.7 4.7M1175.1 420.8l6.7 4.7M1222.4 425.8l6.7 4.7M1220.5 424.9l6.7 4.7M1244.1 429.5l6.7 4.7M1252.6 427.5l6.7 4.7M1291.4 431.7l6.7 4.7M1282.7 432.1l6.7 4.7M1323.9 432.2l6.7 4.7M1319.7 434.5l6.7 4.7M1350.5 432.8l6.7 4.7M1361.2 433.9l6.7 4.7M1397.8 433.7l6.7 4.7M1380.4 434.7l6.7 4.7M1431.4 431.0l6.7 4.7M1415.7 433.7l6.7 4.7M1455.8 429.2l6.7 4.7M1447.4 428.3l6.7 4.7M1493.3 426.9l6.7 4.7M1482.4 425.6l6.7 4.7M1534.6 422.8l6.7 4.7M1532.7 422.1l6.7 4.7M1565.0 424.8l6.7 4.7M1556.4 422.3l6.7 4.7M1593.7 422.3l6.7 4.7M1584.8 418.9l6.7 4.7M1632.8 420.3l6.7 4.7M1627.1 416.8l6.7 4.7M1655.3 417.8l6.7 4.7M1656.3 416.0l6.7 4.7M1701.9 415.9l6.7 4.7M1694.7 418.9l6.7 4.7M1728.2 420.1l6.7 4.7M1739.0 415.4l6.7 4.7M1774.2 415.0l6.7 4.7M1764.7 417.1l6.7 4.7M1808.3 417.8l6.7 4.7M1807.2 415.2l6.7 4.7M1830.0 415.9l6.7 4.7M1839.1 415.8l6.7 4.7M1864.3 413.4l6.7 4.7M1858.4 408.5l6.7 4.7M1911.1 409.5l6.7 4.7M1901.3 410.0l6.7 4.7M-9.8 404.5l6.7 4.7M-6.0 402.9l6.7 4.7M23.7 406.9l6.7 4.7M39.0 404.9l6.7 4.7M74.0 410.9l6.7 4.7M57.8 409.4l6.7 4.7M106.0 414.6l6.7 4.7M92.3 415.1l6.7 4.7M131.7 420.7l6.7 4.7M127.6 416.7l6.7 4.7M169.0 419.5l6.7 4.7M167.3 419.1l6.7 4.7M195.0 419.8l6.7 4.7M205.6 415.5l6.7 4.7M233.2 412.3l6.7 4.7M240.9 411.8l6.7 4.7M275.3 406.6l6.7 4.7M259.6 408.3l6.7 4.7M301.3 407.8l6.7 4.7M305.0 412.4l6.7 4.7M335.9 415.2l6.7 4.7M339.6 414.1l6.7 4.7M366.1 419.4l6.7 4.7M376.0 419.7l6.7 4.7M399.7 423.7l6.7 4.7M397.6 423.1l6.7 4.7M439.9 426.8l6.7 4.7M440.7 425.8l6.7 4.7M474.9 429.0l6.7 4.7M473.0 428.5l6.7 4.7M500.1 430.1l6.7 4.7M511.7 428.4l6.7 4.7M548.7 428.0l6.7 4.7M538.7 429.4l6.7 4.7M577.2 426.8l6.7 4.7M582.2 426.3l6.7 4.7M603.9 426.0l6.7 4.7M597.9 425.0l6.7 4.7M638.9 422.1l6.7 4.7M631.5 422.4l6.7 4.7M682.3 419.9l6.7 4.7M679.8 418.2l6.7 4.7M711.8 416.2l6.7 4.7M703.5 416.8l6.7 4.7M744.6 412.0l6.7 4.7M742.4 414.1l6.7 4.7M784.6 409.1l6.7 4.7M773.1 410.4l6.7 4.7M802.8 406.9l6.7 4.7M817.9 402.8l6.7 4.7M850.0 400.0l6.7 4.7M843.3 400.3l6.7 4.7M884.2 400.0l6.7 4.7M875.7 399.9l6.7 4.7M905.9 400.2l6.7 4.7M915.7 399.2l6.7 4.7M937.7 397.2l6.7 4.7M944.9 395.5l6.7 4.7M977.4 395.5l6.7 4.7M989.3 395.3l6.7 4.7M1012.8 399.6l6.7 4.7M1008.0 399.2l6.7 4.7M1046.9 404.8l6.7 4.7M1039.5 404.2l6.7 4.7M1074.8 407.7l6.7 4.7M1078.2 407.8l6.7 4.7M1121.2 412.1l6.7 4.7M1113.2 412.1l6.7 4.7M1143.3 413.5l6.7 4.7M1155.8 415.8l6.7 4.7M1192.5 415.9l6.7 4.7M1180.4 416.3l6.7 4.7M1220.8 421.2l6.7 4.7M1214.2 419.1l6.7 4.7M1250.8 424.0l6.7 4.7M1252.7 425.0l6.7 4.7M1284.6 426.5l6.7 4.7M1278.1 425.4l6.7 4.7M1322.9 427.2l6.7 4.7M1318.6 426.7l6.7 4.7M1350.4 425.4l6.7 4.7M1347.7 429.1l6.7 4.7M1387.7 425.5l6.7 4.7M1384.4 426.8l6.7 4.7M1417.9 426.2l6.7 4.7M1425.8 422.9l6.7 4.7M1449.9 421.2l6.7 4.7M1454.4 422.6l6.7 4.7M1493.1 416.8l6.7 4.7M1497.4 414.6l6.7 4.7M1531.1 416.4l6.7 4.7M1513.6 414.4l6.7 4.7M1547.8 412.8l6.7 4.7M1549.1 412.6l6.7 4.7M1582.2 413.7l6.7 4.7M1597.6 410.0l6.7 4.7M1621.7 405.7l6.7 4.7M1630.6 410.0l6.7 4.7M1662.5 408.3l6.7 4.7M1657.8 408.8l6.7 4.7M1686.9 408.8l6.7 4.7M1688.2 409.5l6.7 4.7M1733.8 407.6l6.7 4.7M1726.0 404.7l6.7 4.7M1764.5 408.4l6.7 4.7M1767.4 402.6l6.7 4.7M1801.2 406.6l6.7 4.7M1799.8 404.3l6.7 4.7M1818.5 404.8l6.7 4.7M1831.4 401.2l6.7 4.7M1869.4 398.3l6.7 4.7M1866.4 396.9l6.7 4.7M1890.5 398.3l6.7 4.7M1884.0 398.8l6.7 4.7M1920.9 403.2l6.7 4.7M1929.9 407.2l6.7 4.7M9.4 395.0l6.6 4.7M-6.8 395.7l6.6 4.7M45.4 398.8l6.6 4.7M33.0 396.8l6.6 4.7M80.2 402.0l6.6 4.7M69.5 400.5l6.6 4.7M93.4 408.5l6.6 4.7M102.7 406.3l6.6 4.7M129.4 411.9l6.6 4.7M144.3 412.2l6.6 4.7M161.5 413.3l6.6 4.7M162.8 412.3l6.6 4.7M207.9 407.7l6.6 4.7M201.5 409.2l6.6 4.7M236.3 404.3l6.6 4.7M231.9 404.7l6.6 4.7M264.4 398.4l6.6 4.7M267.4 400.2l6.6 4.7M300.2 399.0l6.6 4.7M302.4 397.9l6.6 4.7M347.0 400.9l6.6 4.7M349.8 403.9l6.6 4.7M374.6 410.6l6.6 4.7M369.8 408.1l6.6 4.7M416.1 421.0l6.6 4.7M412.2 418.9l6.6 4.7M442.7 421.5l6.6 4.7M445.7 420.5l6.6 4.7M471.0 421.8l6.6 4.7M464.0 423.0l6.6 4.7M516.0 425.0l6.6 4.7M507.0 422.4l6.6 4.7M533.9 421.6l6.6 4.7M537.4 421.3l6.6 4.7M574.8 421.2l6.6 4.7M577.3 423.0l6.6 4.7M610.2 417.7l6.6 4.7M615.9 417.1l6.6 4.7M646.3 416.1l6.6 4.7M641.5 415.1l6.6 4.7M668.1 411.9l6.6 4.7M669.0 412.7l6.6 4.7M705.4 412.4l6.6 4.7M719.9 408.9l6.6 4.7M749.1 406.9l6.6 4.7M746.0 406.0l6.6 4.7M769.0 406.3l6.6 4.7M772.3 405.1l6.6 4.7M809.8 398.3l6.6 4.7M806.0 401.4l6.6 4.7M853.8 394.1l6.6 4.7M843.7 395.5l6.6 4.7M883.4 397.3l6.6 4.7M883.2 397.1l6.6 4.7M918.6 396.4l6.6 4.7M921.0 394.3l6.6 4.7M936.5 394.6l6.6 4.7M954.6 391.0l6.6 4.7M975.7 390.6l6.6 4.7M981.4 392.2l6.6 4.7M1017.3 396.7l6.6 4.7M1006.3 393.1l6.6 4.7M1051.6 402.4l6.6 4.7M1045.7 400.6l6.6 4.7M1078.3 404.7l6.6 4.7M1081.2 403.1l6.6 4.7M1106.4 406.8l6.6 4.7M1113.9 405.5l6.6 4.7M1158.4 411.9l6.6 4.7M1151.3 411.0l6.6 4.7M1176.2 412.6l6.6 4.7M1181.4 410.5l6.6 4.7M1225.0 417.4l6.6 4.7M1223.3 416.3l6.6 4.7M1240.1 417.6l6.6 4.7M1244.0 417.6l6.6 4.7M1274.8 419.5l6.6 4.7M1283.0 421.0l6.6 4.7M1310.0 421.9l6.6 4.7M1321.6 421.8l6.6 4.7M1359.7 420.7l6.6 4.7M1358.8 422.2l6.6 4.7M1388.3 419.2l6.6 4.7M1391.8 420.1l6.6 4.7M1416.0 416.5l6.6 4.7M1412.7 418.6l6.6 4.7M1457.7 410.5l6.6 4.7M1451.8 415.0l6.6 4.7M1490.2 408.9l6.6 4.7M1479.7 409.3l6.6 4.7M1510.2 405.7l6.6 4.7M1523.3 404.1l6.6 4.7M1556.4 405.7l6.6 4.7M1549.2 401.7l6.6 4.7M1576.0 403.0l6.6 4.7M1579.5 403.6l6.6 4.7M1614.5 398.2l6.6 4.7M1609.6 397.0l6.6 4.7M1652.6 399.0l6.6 4.7M1644.9 397.1l6.6 4.7M1683.6 396.3l6.6 4.7M1679.2 397.3l6.6 4.7M1721.8 398.2l6.6 4.7M1719.2 393.1l6.6 4.7M1757.1 396.6l6.6 4.7M1758.1 396.9l6.6 4.7M1782.1 396.9l6.6 4.7M1789.4 395.7l6.6 4.7M1818.2 393.8l6.6 4.7M1830.6 391.3l6.6 4.7M1857.3 386.4l6.6 4.7M1853.6 387.6l6.6 4.7M1883.9 388.0l6.6 4.7M1894.1 393.1l6.6 4.7M1927.9 398.6l6.6 4.7M1923.2 397.2l6.6 4.7M-13.6 386.0l6.6 4.6M14.9 385.5l6.6 4.6M16.1 384.7l6.6 4.6M54.8 387.8l6.6 4.6M49.3 390.6l6.6 4.6M74.3 391.3l6.6 4.6M81.2 392.1l6.6 4.6M116.3 400.5l6.6 4.6M105.6 397.7l6.6 4.6M137.1 401.5l6.6 4.6M140.0 402.2l6.6 4.6M181.9 402.1l6.6 4.6M179.0 405.0l6.6 4.6M220.3 397.8l6.6 4.6M220.3 398.2l6.6 4.6M249.4 392.0l6.6 4.6M250.5 393.1l6.6 4.6M267.7 393.7l6.6 4.6M284.0 386.8l6.6 4.6M308.8 390.1l6.6 4.6M311.8 386.1l6.6 4.6M349.4 394.8l6.6 4.6M338.5 392.9l6.6 4.6M383.0 402.6l6.6 4.6M386.3 402.6l6.6 4.6M405.8 407.5l6.6 4.6M405.9 404.7l6.6 4.6M435.8 412.1l6.6 4.6M442.0 414.4l6.6 4.6M474.5 411.3l6.6 4.6M486.0 415.0l6.6 4.6M520.7 414.6l6.6 4.6M520.0 415.4l6.6 4.6M547.1 416.2l6.6 4.6M550.3 415.7l6.6 4.6M588.1 415.8l6.6 4.6M587.6 413.5l6.6 4.6M612.0 410.7l6.6 4.6M608.1 413.0l6.6 4.6M648.2 405.6l6.6 4.6M641.4 407.0l6.6 4.6M683.1 403.5l6.6 4.6M675.6 404.9l6.6 4.6M721.0 400.5l6.6 4.6M717.2 401.1l6.6 4.6M748.9 400.0l6.6 4.6M740.0 400.6l6.6 4.6M789.6 395.2l6.6 4.6M770.2 399.8l6.6 4.6M808.1 392.4l6.6 4.6M806.8 393.0l6.6 4.6M840.2 389.5l6.6 4.6M855.6 390.3l6.6 4.6M881.3 391.6l6.6 4.6M884.7 392.7l6.6 4.6M916.7 391.6l6.6 4.6M922.3 390.9l6.6 4.6M949.9 389.1l6.6 4.6M955.4 386.5l6.6 4.6M988.3 386.0l6.6 4.6M971.2 385.5l6.6 4.6M1011.0 391.2l6.6 4.6M1021.2 392.1l6.6 4.6M1043.9 397.5l6.6 4.6M1049.9 398.3l6.6 4.6M1075.1 400.5l6.6 4.6M1073.6 398.3l6.6 4.6M1108.7 399.9l6.6 4.6M1109.0 400.5l6.6 4.6M1151.6 404.7l6.6 4.6M1149.4 406.0l6.6 4.6M1186.6 405.9l6.6 4.6M1181.3 407.9l6.6 4.6M1205.8 409.9l6.6 4.6M1223.5 412.9l6.6 4.6M1242.8 414.2l6.6 4.6M1237.6 413.2l6.6 4.6M1286.5 417.0l6.6 4.6M1270.7 414.6l6.6 4.6M1319.9 416.0l6.6 4.6M1307.6 415.6l6.6 4.6M1351.0 417.1l6.6 4.6M1356.8 414.4l6.6 4.6M1373.8 412.6l6.6 4.6M1382.6 413.0l6.6 4.6M1405.3 413.0l6.6 4.6M1421.0 412.3l6.6 4.6M1442.4 408.6l6.6 4.6M1450.1 406.4l6.6 4.6M1486.9 400.6l6.6 4.6M1485.8 398.4l6.6 4.6M1524.6 399.4l6.6 4.6M1511.1 397.5l6.6 4.6M1543.4 393.9l6.6 4.6M1544.3 395.4l6.6 4.6M1575.8 391.8l6.6 4.6M1577.1 393.2l6.6 4.6M1618.2 387.3l6.6 4.6M1608.4 391.6l6.6 4.6M1641.5 386.1l6.6 4.6M1650.9 386.0l6.6 4.6M1688.5 387.6l6.6 4.6M1682.9 389.1l6.6 4.6M1711.6 384.4l6.6 4.6M1709.1 383.3l6.6 4.6M1742.7 383.7l6.6 4.6M1752.9 384.6l6.6 4.6M1785.3 382.8l6.6 4.6M1774.0 384.8l6.6 4.6M1816.9 376.0l6.6 4.6M1817.3 375.7l6.6 4.6M1850.7 375.4l6.6 4.6M1854.9 376.9l6.6 4.6M1883.9 381.8l6.6 4.6M1878.3 381.9l6.6 4.6M1908.0 384.4l6.6 4.6M1910.9 384.5l6.6 4.6M-20.1 378.6l6.5 4.6M-22.4 380.8l6.5 4.6M11.8 380.4l6.5 4.6M6.8 381.1l6.5 4.6M59.5 379.1l6.5 4.6M57.3 382.8l6.5 4.6M77.0 381.5l6.5 4.6M81.9 385.6l6.5 4.6M122.3 391.5l6.5 4.6M113.4 392.5l6.5 4.6M144.5 392.6l6.5 4.6M157.7 396.9l6.5 4.6M179.1 394.9l6.5 4.6M179.8 395.1l6.5 4.6M216.8 392.7l6.5 4.6M209.7 393.2l6.5 4.6M255.8 386.2l6.5 4.6M252.6 383.6l6.5 4.6M284.9 380.2l6.5 4.6M293.4 376.5l6.5 4.6M326.4 379.9l6.5 4.6M316.6 378.3l6.5 4.6M357.4 381.7l6.5 4.6M351.3 381.5l6.5 4.6M390.8 393.4l6.5 4.6M375.2 389.0l6.5 4.6M410.4 400.3l6.5 4.6M426.2 400.9l6.5 4.6M455.5 404.2l6.5 4.6M449.5 405.1l6.5 4.6M490.5 407.3l6.5 4.6M481.6 404.9l6.5 4.6M524.4 407.0l6.5 4.6M515.5 409.1l6.5 4.6M555.5 409.5l6.5 4.6M543.2 409.6l6.5 4.6M578.0 409.3l6.5 4.6M587.5 408.5l6.5 4.6M617.6 405.5l6.5 4.6M608.3 405.0l6.5 4.6M654.4 399.0l6.5 4.6M650.3 401.8l6.5 4.6M682.3 396.5l6.5 4.6M687.6 397.4l6.5 4.6M717.1 396.7l6.5 4.6M706.5 394.9l6.5 4.6M738.2 394.2l6.5 4.6M746.3 391.7l6.5 4.6M785.5 388.2l6.5 4.6M789.6 390.6l6.5 4.6M809.1 388.0l6.5 4.6M810.7 387.7l6.5 4.6M856.8 381.1l6.5 4.6M847.1 383.5l6.5 4.6M888.8 386.2l6.5 4.6M885.9 386.0l6.5 4.6M909.1 386.9l6.5 4.6M914.5 385.9l6.5 4.6M948.5 380.9l6.5 4.6M941.5 384.0l6.5 4.6M980.5 381.0l6.5 4.6M979.1 381.1l6.5 4.6M1006.7 385.0l6.5 4.6M1017.8 385.8l6.5 4.6M1050.2 391.1l6.5 4.6M1046.8 392.3l6.5 4.6M1087.8 394.2l6.5 4.6M1078.9 394.8l6.5 4.6M1110.1 394.3l6.5 4.6M1110.7 395.0l6.5 4.6M1138.4 398.1l6.5 4.6M1141.6 399.7l6.5 4.6M1175.2 401.4l6.5 4.6M1182.0 401.7l6.5 4.6M1219.8 407.8l6.5 4.6M1219.4 406.8l6.5 4.6M1251.3 410.1l6.5 4.6M1240.1 407.8l6.5 4.6M1281.0 410.6l6.5 4.6M1278.7 410.5l6.5 4.6M1320.4 410.8l6.5 4.6M1321.2 412.0l6.5 4.6M1340.2 409.2l6.5 4.6M1350.9 408.4l6.5 4.6M1376.9 408.1l6.5 4.6M1387.4 408.1l6.5 4.6M1405.1 406.5l6.5 4.6M1407.4 405.3l6.5 4.6M1442.0 398.9l6.5 4.6M1435.4 401.3l6.5 4.6M1478.6 394.9l6.5 4.6M1476.2 391.1l6.5 4.6M1512.6 388.7l6.5 4.6M1517.8 390.4l6.5 4.6M1535.3 390.9l6.5 4.6M1544.4 386.1l6.5 4.6M1574.5 386.4l6.5 4.6M1582.0 383.6l6.5 4.6M1610.4 382.9l6.5 4.6M1610.9 380.6l6.5 4.6M1646.2 376.7l6.5 4.6M1633.8 377.6l6.5 4.6M1673.1 377.9l6.5 4.6M1672.3 376.0l6.5 4.6M1709.7 377.8l6.5 4.6M1710.1 377.3l6.5 4.6M1734.5 376.3l6.5 4.6M1740.5 373.7l6.5 4.6M1767.1 374.2l6.5 4.6M1783.7 371.8l6.5 4.6M1818.4 366.0l6.5 4.6M1817.3 365.2l6.5 4.6M1841.6 368.9l6.5 4.6M1834.0 364.0l6.5 4.6M1879.3 371.2l6.5 4.6M1868.0 368.3l6.5 4.6M1918.0 381.5l6.5 4.6M1918.2 380.6l6.5 4.6M-13.9 373.4l6.5 4.5M-15.2 373.5l6.5 4.5M20.3 372.4l6.5 4.5M21.6 371.4l6.5 4.5M52.8 373.6l6.5 4.5M56.0 374.2l6.5 4.5M81.3 377.5l6.5 4.5M82.8 374.7l6.5 4.5M115.8 382.9l6.5 4.5M132.9 384.0l6.5 4.5M153.5 386.8l6.5 4.5M155.6 387.3l6.5 4.5M180.5 389.1l6.5 4.5M182.5 388.7l6.5 4.5M218.8 385.9l6.5 4.5M224.7 384.4l6.5 4.5M257.2 375.7l6.5 4.5M257.1 375.5l6.5 4.5M294.7 369.5l6.5 4.5M282.2 373.7l6.5 4.5M325.6 369.3l6.5 4.5M316.8 370.4l6.5 4.5M349.9 368.7l6.5 4.5M355.6 369.8l6.5 4.5M394.1 384.4l6.5 4.5M383.7 376.4l6.5 4.5M416.0 388.9l6.5 4.5M429.5 392.8l6.5 4.5M453.5 393.2l6.5 4.5M462.0 393.9l6.5 4.5M490.2 400.1l6.5 4.5M476.7 399.6l6.5 4.5M528.1 401.9l6.5 4.5M528.2 400.1l6.5 4.5M548.3 400.6l6.5 4.5M547.4 403.8l6.5 4.5M581.9 399.6l6.5 4.5M593.9 401.6l6.5 4.5M618.5 397.0l6.5 4.5M625.0 395.8l6.5 4.5M648.1 395.0l6.5 4.5M652.2 391.7l6.5 4.5M686.9 388.9l6.5 4.5M678.2 390.8l6.5 4.5M725.4 386.2l6.5 4.5M723.2 385.5l6.5 4.5M749.0 383.7l6.5 4.5M753.7 384.6l6.5 4.5M783.6 380.6l6.5 4.5M790.9 379.0l6.5 4.5M813.3 376.4l6.5 4.5M817.1 374.6l6.5 4.5M843.5 373.2l6.5 4.5M844.1 371.5l6.5 4.5M885.5 379.4l6.5 4.5M873.7 376.8l6.5 4.5M916.4 376.7l6.5 4.5M911.2 380.1l6.5 4.5M949.1 374.4l6.5 4.5M946.0 376.2l6.5 4.5M977.3 374.9l6.5 4.5M986.5 374.6l6.5 4.5M1017.4 379.6l6.5 4.5M1007.9 378.3l6.5 4.5M1049.4 384.0l6.5 4.5M1054.4 387.4l6.5 4.5M1074.4 389.1l6.5 4.5M1072.9 387.9l6.5 4.5M1116.0 388.6l6.5 4.5M1113.9 391.5l6.5 4.5M1142.6 394.0l6.5 4.5M1140.4 392.0l6.5 4.5M1178.0 396.2l6.5 4.5M1173.0 393.0l6.5 4.5M1213.1 399.2l6.5 4.5M1207.3 399.2l6.5 4.5M1249.3 405.7l6.5 4.5M1246.1 402.0l6.5 4.5M1279.7 407.2l6.5 4.5M1266.9 403.9l6.5 4.5M1303.2 406.4l6.5 4.5M1312.1 405.4l6.5 4.5M1337.8 404.1l6.5 4.5M1350.5 403.8l6.5 4.5M1372.8 401.1l6.5 4.5M1382.2 400.3l6.5 4.5M1416.0 395.9l6.5 4.5M1417.6 397.9l6.5 4.5M1445.0 391.4l6.5 4.5M1433.7 394.0l6.5 4.5M1483.1 386.1l6.5 4.5M1469.2 383.9l6.5 4.5M1515.7 381.6l6.5 4.5M1503.1 382.4l6.5 4.5M1532.3 383.5l6.5 4.5M1531.5 382.1l6.5 4.5M1566.6 375.8l6.5 4.5M1570.6 375.4l6.5 4.5M1605.6 374.1l6.5 4.5M1603.6 375.8l6.5 4.5M1636.2 369.3l6.5 4.5M1646.4 368.9l6.5 4.5M1663.5 370.2l6.5 4.5M1679.0 370.8l6.5 4.5M1696.5 369.5l6.5 4.5M1695.2 367.0l6.5 4.5M1739.7 362.1l6.5 4.5M1727.6 364.5l6.5 4.5M1776.9 364.7l6.5 4.5M1760.1 361.1l6.5 4.5M1810.2 360.0l6.5 4.5M1796.2 359.7l6.5 4.5M1829.6 356.6l6.5 4.5M1830.4 358.4l6.5 4.5M1868.3 360.4l6.5 4.5M1877.5 364.0l6.5 4.5M1900.5 369.9l6.5 4.5M1904.0 370.9l6.5 4.5M1929.2 373.7l6.5 4.5M-5.9 364.4l6.4 4.5M-3.7 366.9l6.4 4.5M37.9 363.6l6.4 4.5M25.5 366.4l6.4 4.5M64.8 366.9l6.4 4.5M68.2 363.6l6.4 4.5M89.1 368.6l6.4 4.5M91.5 370.6l6.4 4.5M134.8 374.7l6.4 4.5M130.9 376.2l6.4 4.5M169.2 378.0l6.4 4.5M172.5 380.7l6.4 4.5M191.8 378.2l6.4 4.5M200.0 377.9l6.4 4.5M223.4 375.7l6.4 4.5M220.5 378.8l6.4 4.5M254.1 371.0l6.4 4.5M260.8 368.2l6.4 4.5M303.0 360.3l6.4 4.5M295.9 361.7l6.4 4.5M324.3 360.5l6.4 4.5M316.8 360.1l6.4 4.5M365.1 362.1l6.4 4.5M363.4 363.8l6.4 4.5M390.0 372.9l6.4 4.5M388.9 367.6l6.4 4.5M426.7 383.5l6.4 4.5M425.9 382.8l6.4 4.5M453.7 387.9l6.4 4.5M457.5 385.9l6.4 4.5M497.7 392.9l6.4 4.5M489.1 392.1l6.4 4.5M531.3 396.7l6.4 4.5M521.8 396.5l6.4 4.5M555.0 395.9l6.4 4.5M545.7 397.2l6.4 4.5M588.5 395.0l6.4 4.5M583.9 396.8l6.4 4.5M617.5 392.8l6.4 4.5M613.6 392.5l6.4 4.5M648.4 387.4l6.4 4.5M657.2 388.1l6.4 4.5M686.7 383.0l6.4 4.5M694.5 382.4l6.4 4.5M726.0 378.5l6.4 4.5M714.2 379.7l6.4 4.5M756.8 376.5l6.4 4.5M759.7 378.3l6.4 4.5M792.4 373.9l6.4 4.5M785.6 372.5l6.4 4.5M810.6 369.9l6.4 4.5M807.3 373.0l6.4 4.5M858.6 366.4l6.4 4.5M848.1 366.6l6.4 4.5M890.9 369.9l6.4 4.5M889.3 370.7l6.4 4.5M914.3 371.6l6.4 4.5M917.0 369.3l6.4 4.5M949.2 366.9l6.4 4.5M944.2 365.8l6.4 4.5M971.0 367.5l6.4 4.5M983.8 364.3l6.4 4.5M1019.9 374.6l6.4 4.5M1021.8 374.2l6.4 4.5M1047.1 377.7l6.4 4.5M1048.0 376.8l6.4 4.5M1086.3 381.9l6.4 4.5M1086.2 381.9l6.4 4.5M1114.9 384.7l6.4 4.5M1113.9 384.0l6.4 4.5M1153.3 385.6l6.4 4.5M1141.2 383.3l6.4 4.5M1168.7 386.1l6.4 4.5M1179.7 390.0l6.4 4.5M1208.6 393.6l6.4 4.5M1219.3 396.0l6.4 4.5M1244.3 396.8l6.4 4.5M1233.9 394.4l6.4 4.5M1275.7 398.5l6.4 4.5M1270.2 400.1l6.4 4.5M1304.3 401.6l6.4 4.5M1301.2 399.8l6.4 4.5M1337.2 397.1l6.4 4.5M1333.1 399.8l6.4 4.5M1372.5 394.3l6.4 4.5M1369.2 396.6l6.4 4.5M1397.9 393.0l6.4 4.5M1402.1 390.5l6.4 4.5M1432.9 386.4l6.4 4.5M1443.1 383.9l6.4 4.5M1460.3 376.7l6.4 4.5M1478.9 378.8l6.4 4.5M1498.8 376.8l6.4 4.5M1496.7 375.5l6.4 4.5M1542.7 371.5l6.4 4.5M1532.9 372.0l6.4 4.5M1577.7 370.1l6.4 4.5M1572.5 370.7l6.4 4.5M1609.7 364.4l6.4 4.5M1598.6 365.6l6.4 4.5M1630.8 366.2l6.4 4.5M1635.1 365.9l6.4 4.5M1664.4 361.2l6.4 4.5M1668.5 363.5l6.4 4.5M1693.1 360.6l6.4 4.5M1697.9 358.6l6.4 4.5M1725.3 358.0l6.4 4.5M1731.0 357.9l6.4 4.5M1758.5 356.2l6.4 4.5M1766.2 356.8l6.4 4.5M1793.3 351.6l6.4 4.5M1805.6 348.7l6.4 4.5M1828.3 350.5l6.4 4.5M1830.5 349.4l6.4 4.5M1854.8 351.7l6.4 4.5M1865.1 353.4l6.4 4.5M1899.0 362.7l6.4 4.5M1888.1 359.7l6.4 4.5M1927.6 368.4l6.4 4.5M1929.8 370.0l6.4 4.5M3.4 358.4l6.4 4.5M5.5 360.9l6.4 4.5M46.7 356.7l6.4 4.5M51.8 356.1l6.4 4.5M76.7 358.8l6.4 4.5M69.2 357.4l6.4 4.5M103.0 363.8l6.4 4.5M98.3 361.0l6.4 4.5M142.9 368.5l6.4 4.5M129.8 369.9l6.4 4.5M171.5 373.9l6.4 4.5M179.2 370.7l6.4 4.5M204.3 373.3l6.4 4.5M204.7 371.1l6.4 4.5M232.5 368.1l6.4 4.5M238.4 366.0l6.4 4.5M273.3 358.8l6.4 4.5M269.6 358.9l6.4 4.5M302.4 352.3l6.4 4.5M294.9 356.2l6.4 4.5M332.6 352.8l6.4 4.5M340.6 353.3l6.4 4.5M371.9 357.0l6.4 4.5M358.9 353.7l6.4 4.5M395.0 360.7l6.4 4.5M398.3 367.1l6.4 4.5M424.8 376.0l6.4 4.5M429.4 375.1l6.4 4.5M458.8 379.6l6.4 4.5M461.6 379.2l6.4 4.5M497.3 385.5l6.4 4.5M499.7 386.9l6.4 4.5M520.6 389.2l6.4 4.5M535.6 388.5l6.4 4.5M566.8 387.4l6.4 4.5M552.0 387.8l6.4 4.5M582.6 388.2l6.4 4.5M597.1 388.8l6.4 4.5M632.0 383.2l6.4 4.5M623.6 386.2l6.4 4.5M649.1 382.9l6.4 4.5M657.3 380.0l6.4 4.5M682.8 377.0l6.4 4.5M680.4 378.0l6.4 4.5M724.1 374.1l6.4 4.5M721.3 374.6l6.4 4.5M760.8 370.0l6.4 4.5M762.5 366.8l6.4 4.5M794.9 366.2l6.4 4.5M789.2 367.8l6.4 4.5M827.8 356.5l6.4 4.5M809.2 364.2l6.4 4.5M843.1 356.7l6.4 4.5M859.6 355.1l6.4 4.5M880.1 357.9l6.4 4.5M873.8 358.0l6.4 4.5M913.4 364.5l6.4 4.5M924.0 361.1l6.4 4.5M957.8 357.8l6.4 4.5M950.5 361.1l6.4 4.5M980.2 356.6l6.4 4.5M981.7 358.0l6.4 4.5M1012.2 364.5l6.4 4.5M1003.5 362.6l6.4 4.5M1039.4 371.8l6.4 4.5M1036.7 368.5l6.4 4.5M1087.4 372.7l6.4 4.5M1084.4 374.9l6.4 4.5M1117.1 376.3l6.4 4.5M1117.3 377.0l6.4 4.5M1138.8 377.4l6.4 4.5M1137.5 378.5l6.4 4.5M1179.3 378.6l6.4 4.5M1184.4 379.5l6.4 4.5M1204.6 383.8l6.4 4.5M1209.1 384.3l6.4 4.5M1248.0 389.6l6.4 4.5M1248.9 390.1l6.4 4.5M1271.9 393.7l6.4 4.5M1268.9 391.4l6.4 4.5M1295.3 392.9l6.4 4.5M1297.6 393.7l6.4 4.5M1344.0 388.5l6.4 4.5M1329.6 391.2l6.4 4.5M1370.1 390.1l6.4 4.5M1365.6 388.3l6.4 4.5M1400.4 384.3l6.4 4.5M1393.4 385.1l6.4 4.5M1437.2 377.6l6.4 4.5M1434.9 374.5l6.4 4.5M1474.2 370.1l6.4 4.5M1466.7 369.8l6.4 4.5M1497.9 368.2l6.4 4.5M1496.7 369.0l6.4 4.5M1536.0 365.2l6.4 4.5M1534.0 366.3l6.4 4.5M1560.8 362.3l6.4 4.5M1563.2 363.0l6.4 4.5M1594.7 360.7l6.4 4.5M1598.0 357.8l6.4 4.5M1622.6 357.2l6.4 4.5M1629.2 356.9l6.4 4.5M1664.8 356.3l6.4 4.5M1652.2 357.0l6.4 4.5M1693.8 353.1l6.4 4.5M1701.6 352.2l6.4 4.5M1729.7 350.9l6.4 4.5M1733.1 351.5l6.4 4.5M1766.1 348.3l6.4 4.5M1757.0 347.8l6.4 4.5M1790.1 341.2l6.4 4.5M1785.2 347.3l6.4 4.5M1826.3 342.4l6.4 4.5M1816.3 338.2l6.4 4.5M1857.2 345.9l6.4 4.5M1854.3 345.8l6.4 4.5M1884.9 353.5l6.4 4.5M1896.6 357.3l6.4 4.5M1919.6 363.5l6.4 4.5M1928.3 360.9l6.4 4.5M-18.2 352.6l6.3 4.4M12.0 350.2l6.3 4.4M11.8 350.2l6.3 4.4M45.7 349.7l6.3 4.4M53.5 349.0l6.3 4.4M80.7 352.0l6.3 4.4M74.1 352.3l6.3 4.4M103.5 355.0l6.3 4.4M109.7 353.8l6.3 4.4M134.6 361.1l6.3 4.4M143.0 363.5l6.3 4.4M179.0 366.3l6.3 4.4M179.8 366.5l6.3 4.4M215.1 365.5l6.3 4.4M199.4 367.0l6.3 4.4M233.7 363.6l6.3 4.4M238.7 359.4l6.3 4.4M270.1 354.5l6.3 4.4M276.4 354.1l6.3 4.4M298.2 346.1l6.3 4.4M300.7 348.2l6.3 4.4M331.8 342.4l6.3 4.4M346.1 345.0l6.3 4.4M373.3 348.5l6.3 4.4M363.1 347.5l6.3 4.4M397.8 356.9l6.3 4.4M406.1 361.3l6.3 4.4M432.1 366.8l6.3 4.4M425.9 364.1l6.3 4.4M468.5 373.4l6.3 4.4M459.2 374.5l6.3 4.4M505.7 376.4l6.3 4.4M489.4 374.8l6.3 4.4M523.6 382.4l6.3 4.4M531.3 383.1l6.3 4.4M569.7 381.6l6.3 4.4M557.6 384.3l6.3 4.4M595.3 381.5l6.3 4.4M586.1 381.9l6.3 4.4M619.3 380.9l6.3 4.4M619.6 381.8l6.3 4.4M659.3 374.6l6.3 4.4M667.5 371.2l6.3 4.4M695.5 370.1l6.3 4.4M693.7 370.8l6.3 4.4M722.8 366.4l6.3 4.4M721.7 367.0l6.3 4.4M762.8 359.5l6.3 4.4M760.4 360.3l6.3 4.4M783.5 361.1l6.3 4.4M782.3 359.4l6.3 4.4M825.1 349.6l6.3 4.4M828.1 348.5l6.3 4.4M847.8 350.1l6.3 4.4M851.6 348.9l6.3 4.4M891.5 351.5l6.3 4.4M885.1 350.8l6.3 4.4M920.8 354.0l6.3 4.4M915.4 352.2l6.3 4.4M954.3 350.6l6.3 4.4M957.9 352.2l6.3 4.4M985.9 350.7l6.3 4.4M977.3 352.2l6.3 4.4M1014.5 355.0l6.3 4.4M1006.6 352.6l6.3 4.4M1054.6 365.7l6.3 4.4M1046.1 363.3l6.3 4.4M1074.2 367.2l6.3 4.4M1072.6 363.3l6.3 4.4M1115.8 365.6l6.3 4.4M1109.4 367.3l6.3 4.4M1133.2 369.4l6.3 4.4M1142.9 367.3l6.3 4.4M1165.3 370.4l6.3 4.4M1164.7 368.8l6.3 4.4M1200.0 373.7l6.3 4.4M1208.8 378.1l6.3 4.4M1237.5 381.4l6.3 4.4M1232.1 381.1l6.3 4.4M1261.7 381.9l6.3 4.4M1279.4 384.0l6.3 4.4M1300.6 384.6l6.3 4.4M1295.3 383.5l6.3 4.4M1339.0 384.8l6.3 4.4M1332.9 385.3l6.3 4.4M1371.6 382.4l6.3 4.4M1374.7 381.9l6.3 4.4M1406.1 377.4l6.3 4.4M1399.2 375.8l6.3 4.4M1439.0 364.8l6.3 4.4M1424.1 370.5l6.3 4.4M1462.7 365.0l6.3 4.4M1461.8 361.4l6.3 4.4M1485.9 361.4l6.3 4.4M1495.5 359.7l6.3 4.4M1527.9 359.9l6.3 4.4M1535.5 359.8l6.3 4.4M1564.1 356.0l6.3 4.4M1552.1 357.8l6.3 4.4M1599.8 353.6l6.3 4.4M1601.1 353.5l6.3 4.4M1633.8 352.3l6.3 4.4M1627.3 350.6l6.3 4.4M1657.1 347.8l6.3 4.4M1649.8 347.8l6.3 4.4M1689.0 345.9l6.3 4.4M1682.3 345.8l6.3 4.4M1725.2 343.8l6.3 4.4M1714.2 343.2l6.3 4.4M1752.5 340.0l6.3 4.4M1759.6 340.7l6.3 4.4M1790.6 336.8l6.3 4.4M1790.8 334.0l6.3 4.4M1811.1 334.8l6.3 4.4M1810.7 334.2l6.3 4.4M1853.6 337.4l6.3 4.4M1853.8 338.9l6.3 4.4M1891.5 352.5l6.3 4.4M1876.7 345.1l6.3 4.4M1908.3 354.2l6.3 4.4M1919.3 354.8l6.3 4.4M-10.2 346.4l6.3 4.4M-1.3 343.2l6.3 4.4M26.2 346.0l6.3 4.4M18.7 343.2l6.3 4.4M61.0 343.0l6.3 4.4M62.6 343.8l6.3 4.4M81.2 343.8l6.3 4.4M82.3 344.3l6.3 4.4M123.2 351.0l6.3 4.4M122.9 349.4l6.3 4.4M141.3 353.6l6.3 4.4M158.0 354.5l6.3 4.4M189.6 357.0l6.3 4.4M190.2 360.0l6.3 4.4M211.8 358.9l6.3 4.4M218.5 358.2l6.3 4.4M249.9 351.9l6.3 4.4M237.4 354.7l6.3 4.4M274.1 347.9l6.3 4.4M281.4 344.7l6.3 4.4M305.3 339.0l6.3 4.4M300.6 342.4l6.3 4.4M350.7 335.6l6.3 4.4M352.1 335.4l6.3 4.4M378.8 341.2l6.3 4.4M374.7 340.6l6.3 4.4M415.7 352.2l6.3 4.4M403.9 351.0l6.3 4.4M438.4 362.1l6.3 4.4M444.9 361.5l6.3 4.4M471.2 369.0l6.3 4.4M469.6 368.7l6.3 4.4M503.2 369.6l6.3 4.4M505.0 371.3l6.3 4.4M528.1 372.3l6.3 4.4M540.8 375.5l6.3 4.4M557.4 375.8l6.3 4.4M563.6 376.9l6.3 4.4M594.9 377.0l6.3 4.4M591.0 375.7l6.3 4.4M629.8 373.2l6.3 4.4M634.3 372.2l6.3 4.4M654.6 369.7l6.3 4.4M662.8 367.0l6.3 4.4M696.3 363.0l6.3 4.4M691.0 363.3l6.3 4.4M726.7 360.7l6.3 4.4M718.3 360.9l6.3 4.4M764.4 353.0l6.3 4.4M763.7 353.6l6.3 4.4M790.7 352.5l6.3 4.4M785.7 350.8l6.3 4.4M816.8 346.1l6.3 4.4M821.7 346.5l6.3 4.4M845.5 341.6l6.3 4.4M859.0 339.3l6.3 4.4M877.0 344.1l6.3 4.4M894.2 347.6l6.3 4.4M922.8 345.8l6.3 4.4M924.2 345.0l6.3 4.4M941.3 343.4l6.3 4.4M953.0 345.4l6.3 4.4M989.3 344.3l6.3 4.4M980.2 342.7l6.3 4.4M1013.9 348.6l6.3 4.4M1004.5 344.4l6.3 4.4M1045.3 357.3l6.3 4.4M1044.9 356.8l6.3 4.4M1075.3 356.6l6.3 4.4M1081.7 359.4l6.3 4.4M1104.3 356.7l6.3 4.4M1111.3 360.9l6.3 4.4M1142.8 362.8l6.3 4.4M1132.3 360.1l6.3 4.4M1165.4 364.6l6.3 4.4M1175.6 360.8l6.3 4.4M1196.0 364.2l6.3 4.4M1198.0 368.1l6.3 4.4M1227.6 374.2l6.3 4.4M1240.4 370.6l6.3 4.4M1259.4 376.1l6.3 4.4M1259.8 374.7l6.3 4.4M1297.3 377.8l6.3 4.4M1306.9 378.2l6.3 4.4M1335.3 376.6l6.3 4.4M1335.7 376.6l6.3 4.4M1357.6 370.4l6.3 4.4M1359.8 373.0l6.3 4.4M1398.3 366.0l6.3 4.4M1397.7 370.6l6.3 4.4M1430.9 359.5l6.3 4.4M1429.9 361.5l6.3 4.4M1467.0 357.5l6.3 4.4M1460.8 355.4l6.3 4.4M1499.3 352.0l6.3 4.4M1487.2 354.8l6.3 4.4M1526.0 351.6l6.3 4.4M1514.4 349.7l6.3 4.4M1555.8 349.9l6.3 4.4M1550.3 351.0l6.3 4.4M1596.6 346.6l6.3 4.4M1587.8 343.6l6.3 4.4M1624.6 343.5l6.3 4.4M1615.1 343.4l6.3 4.4M1658.4 343.9l6.3 4.4M1646.7 343.5l6.3 4.4M1684.3 339.1l6.3 4.4M1686.0 341.6l6.3 4.4M1720.9 338.7l6.3 4.4M1709.5 340.3l6.3 4.4M1748.6 335.2l6.3 4.4M1746.6 335.4l6.3 4.4M1774.4 333.1l6.3 4.4M1781.3 330.1l6.3 4.4M1809.8 325.7l6.3 4.4M1809.8 326.3l6.3 4.4M1834.9 330.2l6.3 4.4M1835.8 331.3l6.3 4.4M1869.7 338.2l6.3 4.4M1867.0 335.8l6.3 4.4M1904.1 349.3l6.3 4.4M1899.4 348.9l6.3 4.4" fill="none" stroke="#08226A" stroke-width="1.0"/>
<path clip-path="url(#mc)" d="M-45.0 1220.4l27.5 2.2 27.5 2.5 27.5 2.7 27.5 2.6 27.5 2.5 27.5 2.2 27.5 1.8 27.5 1.2 27.5 .7 27.5 .2 27.5 -.3 27.5 -.6 27.5 -.9 27.5 -.9 27.5 -.9 27.5 -.7 27.5 -.3 27.5 0 27.5 .5 27.5 1 27.5 1.4 27.5 1.8 27.5 2 27.5 2.1 27.5 2.1 27.5 1.8 27.5 1.5 27.5 .9 27.5 .2 27.5 -.5 27.5 -1.2 27.5 -2 27.5 -2.7 27.5 -3.4 27.5 -3.8 27.5 -4.2 27.5 -4.4 27.5 -4.3 27.5 -4.2 27.5 -3.8 27.5 -3.4 27.5 -2.9 27.5 -2.4 27.5 -1.8 27.5 -1.3 27.5 -.8 27.5 -.4 27.5 -.2 27.5 -.1 27.5 .1 27.5 0 27.5 0 27.5 -.1 27.5 -.1 27.5 -.3 27.5 -.2 27.5 -.2 27.5 -.1 27.5 .2 27.5 .4 27.5 .7 27.5 1 27.5 1.4 27.5 1.6 27.5 1.8 27.5 2 27.5 1.9 27.5 2 27.5 1.7 27.5 1.6 27.5 1.2 27.5 .9 27.5 .7M-35.0 1192.0l27.3 2.2 27.2 2.6 27.2 3 27.3 3.1 27.2 3 27.3 2.8 27.2 2.5 27.2 1.9 27.3 1.4 27.2 .8 27.2 .3 27.3 -.2 27.2 -.5 27.2 -.7 27.3 -.8 27.2 -.7 27.2 -.5 27.3 -.2 27.2 .2 27.3 .6 27.2 1.1 27.2 1.4 27.3 1.7 27.2 1.9 27.2 1.9 27.3 1.7 27.2 1.5 27.2 1 27.3 .4 27.2 -.3 27.2 -1 27.3 -1.8 27.2 -2.5 27.3 -3.3 27.2 -3.8 27.2 -4.3 27.3 -4.5 27.2 -4.6 27.2 -4.6 27.3 -4.2 27.2 -3.9 27.2 -3.4 27.3 -2.8 27.2 -2.1 27.3 -1.6 27.2 -1.1 27.2 -.5 27.3 -.2 27.2 .1 27.2 .2 27.3 .3 27.2 .2 27.2 .2 27.3 .1 27.2 0 27.2 -.1 27.3 0 27.2 0 27.3 .1 27.2 .4 27.2 .6 27.3 .9 27.2 1.2 27.2 1.6 27.3 1.8 27.2 2 27.2 2 27.3 2.1 27.2 2 27.2 1.8 27.3 1.5 27.2 1.3 27.3 .9M-52.0 1161.4l26.9 1.4 27 2.1 27 2.7 27 3.1 26.9 3.4 27 3.5 27 3.4 27 3 26.9 2.6 27 2.1 27 1.4 27 .9 26.9 .3 27 -.1 27 -.4 27 -.6 26.9 -.7 27 -.5 27 -.3 27 -.1 26.9 .4 27 .7 27 1.1 27 1.4 26.9 1.6 27 1.7 27 1.7 27 1.4 26.9 1.1 27 .6 27 -.1 27 -.7 26.9 -1.6 27 -2.3 27 -3.1 27 -3.7 26.9 -4.2 27 -4.6 27 -4.8 27 -4.7 27 -4.6 26.9 -4.2 27 -3.8 27 -3.1 27 -2.5 26.9 -1.9 27 -1.2 27 -.6 27 -.2 26.9 .2 27 .5 27 .5 27 .6 26.9 .5 27 .4 27 .3 27 .2 26.9 .2 27 .1 27 .2 27 .3 26.9 .6 27 .8 27 1.1 27 1.4 26.9 1.8 27 1.9 27 2.1 27 2.1 26.9 2.2 27 1.9 27 1.8 27 1.4 26.9 1.2 27 .8M-42.0 1132.2l26.7 1 26.7 1.9 26.7 2.5 26.7 3.2 26.8 3.5 26.7 3.8 26.7 3.8 26.7 3.5 26.7 3.2 26.8 2.6 26.7 2.1 26.7 1.4 26.7 .9 26.7 .3 26.7 0 26.8 -.3 26.7 -.5 26.7 -.4 26.7 -.4 26.7 -.1 26.8 .1 26.7 .5 26.7 .8 26.7 1.1 26.7 1.3 26.8 1.5 26.7 1.5 26.7 1.4 26.7 1.2 26.7 .7 26.7 .1 26.8 -.5 26.7 -1.3 26.7 -2.1 26.7 -2.8 26.7 -3.5 26.8 -4.1 26.7 -4.5 26.7 -4.8 26.7 -4.9 26.7 -4.8 26.8 -4.4 26.7 -4 26.7 -3.5 26.7 -2.7 26.7 -2 26.8 -1.4 26.7 -.6 26.7 -.1 26.7 .3 26.7 .7 26.7 .9 26.8 .9 26.7 .9 26.7 .9 26.7 .6 26.7 .6 26.8 .4 26.7 .3 26.7 .3 26.7 .4 26.7 .5 26.8 .7 26.7 1 26.7 1.3 26.7 1.6 26.7 1.9 26.7 2 26.8 2.2 26.7 2.2 26.7 2.1 26.7 1.9 26.7 1.6 26.8 1.3 26.7 1M-58.6 1103.3l26.4 -.3 26.5 .5 26.5 1.4 26.4 2.2 26.5 3.1 26.5 3.6 26.4 3.9 26.5 4.1 26.5 3.9 26.4 3.6 26.5 3.2 26.5 2.5 26.4 2 26.5 1.4 26.5 .8 26.4 .4 26.5 .1 26.5 -.2 26.4 -.3 26.5 -.3 26.4 -.1 26.5 0 26.5 .3 26.4 .5 26.5 .9 26.5 1.1 26.4 1.2 26.5 1.4 26.5 1.3 26.4 1.1 26.5 .7 26.5 .3 26.4 -.3 26.5 -1 26.5 -1.8 26.4 -2.5 26.5 -3.3 26.5 -3.9 26.4 -4.4 26.5 -4.7 26.5 -4.9 26.4 -4.8 26.5 -4.6 26.5 -4.2 26.4 -3.6 26.5 -2.9 26.5 -2.2 26.4 -1.4 26.5 -.6 26.5 -.1 26.4 .6 26.5 .9 26.5 1.2 26.4 1.4 26.5 1.3 26.5 1.3 26.4 1.1 26.5 .9 26.5 .8 26.4 .6 26.5 .5 26.4 .5 26.5 .5 26.5 .7 26.4 1 26.5 1.1 26.5 1.5 26.4 1.8 26.5 1.9 26.5 2.1 26.4 2.2 26.5 2.2 26.5 2 26.4 1.8 26.5 1.5 26.5 1.1 26.4 .7M-48.7 1075.2l26.3 -1.1 26.2 -.2 26.2 .9 26.2 1.8 26.2 2.8 26.2 3.4 26.3 4 26.2 4.2 26.2 4.2 26.2 3.9 26.2 3.5 26.2 3.1 26.3 2.4 26.2 1.9 26.2 1.3 26.2 .9 26.2 .4 26.2 .2 26.3 0 26.2 -.1 26.2 -.1 26.2 0 26.2 .1 26.2 .4 26.3 .6 26.2 .9 26.2 1 26.2 1.1 26.2 1.1 26.2 1 26.3 .8 26.2 .4 26.2 -.2 26.2 -.8 26.2 -1.5 26.2 -2.3 26.3 -2.9 26.2 -3.7 26.2 -4.1 26.2 -4.6 26.2 -4.8 26.2 -4.8 26.2 -4.7 26.3 -4.2 26.2 -3.7 26.2 -3 26.2 -2.2 26.2 -1.4 26.2 -.7 26.3 .1 26.2 .7 26.2 1.3 26.2 1.5 26.2 1.8 26.2 1.8 26.3 1.7 26.2 1.6 26.2 1.4 26.2 1.1 26.2 .9 26.2 .8 26.3 .7 26.2 .6 26.2 .7 26.2 .9 26.2 1.2 26.2 1.3 26.3 1.7 26.2 1.8 26.2 2.1 26.2 2.1 26.2 2.2 26.2 2.1 26.3 1.9 26.2 1.6 26.2 1.3 26.2 .9M-38.8 1047.9l26 -1.9 25.9 -.9 26 .2 26 1.3 25.9 2.3 26 3.3 26 3.8 25.9 4.1 26 4.3 26 4.1 26 3.8 25.9 3.3 26 2.9 26 2.3 25.9 1.8 26 1.3 26 .9 26 .6 25.9 .3 26 .2 26 0 25.9 .1 26 .1 26 .3 25.9 .4 26 .6 26 .7 26 .9 25.9 .9 26 .8 26 .7 25.9 .3 26 -.1 26 -.6 25.9 -1.3 26 -2 26 -2.7 26 -3.4 25.9 -3.9 26 -4.4 26 -4.6 25.9 -4.7 26 -4.6 26 -4.2 26 -3.7 25.9 -3 26 -2.2 26 -1.4 25.9 -.6 26 .2 26 .9 25.9 1.5 26 1.9 26 2.1 26 2.3 25.9 2.2 26 2.1 26 1.8 25.9 1.5 26 1.3 26 1.1 25.9 .9 26 .8 26 .8 26 1 25.9 1 26 1.3 26 1.6 25.9 1.8 26 2 26 2.1 26 2.2 25.9 2.1 26 2 26 1.8 25.9 1.4 26 1.1M-54.8 1025.6l25.7 -3.7 25.7 -2.8 25.7 -1.7 25.8 -.5 25.7 .7 25.7 1.9 25.8 2.8 25.7 3.5 25.7 4 25.7 4.2 25.8 4.1 25.7 3.9 25.7 3.5 25.7 3.1 25.8 2.7 25.7 2.2 25.7 1.8 25.8 1.3 25.7 1.1 25.7 .7 25.7 .5 25.8 .3 25.7 .2 25.7 .2 25.8 .1 25.7 .3 25.7 .3 25.7 .5 25.8 .5 25.7 .6 25.7 .6 25.7 .5 25.8 .3 25.7 -.2 25.7 -.6 25.8 -1.1 25.7 -1.8 25.7 -2.5 25.7 -3.1 25.8 -3.6 25.7 -4.2 25.7 -4.4 25.8 -4.5 25.7 -4.4 25.7 -4.1 25.7 -3.6 25.8 -3 25.7 -2.2 25.7 -1.4 25.8 -.5 25.7 .4 25.7 1 25.7 1.7 25.8 2.2 25.7 2.5 25.7 2.6 25.7 2.7 25.8 2.4 25.7 2.3 25.7 2 25.8 1.7 25.7 1.4 25.7 1.2 25.7 1 25.8 1 25.7 1 25.7 1.1 25.8 1.3 25.7 1.5 25.7 1.7 25.7 1.9 25.8 2.1 25.7 2.2 25.7 2.2 25.7 2 25.8 1.9 25.7 1.6 25.7 1.3 25.8 .9M-45.0 1002.0l25.4 -4.5 25.5 -3.6 25.5 -2.4 25.5 -1.2 25.5 0 25.5 1.3 25.5 2.3 25.5 3.1 25.5 3.7 25.4 3.9 25.5 4 25.5 3.8 25.5 3.6 25.5 3.2 25.5 2.9 25.5 2.6 25.5 2.2 25.5 1.8 25.4 1.5 25.5 1.2 25.5 .9 25.5 .6 25.5 .4 25.5 .2 25.5 .2 25.5 .1 25.5 .1 25.4 .2 25.5 .2 25.5 .3 25.5 .2 25.5 .2 25.5 .1 25.5 -.3 25.5 -.6 25.5 -1.2 25.4 -1.6 25.5 -2.3 25.5 -2.9 25.5 -3.4 25.5 -3.8 25.5 -4.1 25.5 -4.3 25.5 -4.2 25.5 -3.9 25.4 -3.5 25.5 -2.9 25.5 -2.1 25.5 -1.3 25.5 -.5 25.5 .4 25.5 1.2 25.5 1.8 25.5 2.4 25.4 2.7 25.5 3 25.5 2.9 25.5 2.9 25.5 2.6 25.5 2.4 25.5 2 25.5 1.8 25.5 1.5 25.4 1.3 25.5 1.1 25.5 1.2 25.5 1.1 25.5 1.4 25.5 1.4 25.5 1.7 25.5 1.9 25.5 2.1 25.4 2.1 25.5 2.2 25.5 2.2 25.5 2 25.5 1.8 25.5 1.4 25.5 1.1M-35.4 980.2l25.3 -5.2 25.2 -4.2 25.3 -3.2 25.2 -1.9 25.3 -.5 25.2 .6 25.3 1.8 25.3 2.6 25.2 3.2 25.3 3.5 25.2 3.6 25.3 3.7 25.2 3.4 25.3 3.3 25.2 3.1 25.3 2.8 25.2 2.5 25.3 2.3 25.2 1.9 25.3 1.7 25.2 1.3 25.3 .9 25.2 .7 25.3 .4 25.3 .2 25.2 0 25.3 -.1 25.2 -.1 25.3 -.1 25.2 -.1 25.3 -.2 25.2 -.1 25.3 -.3 25.2 -.5 25.3 -.8 25.2 -1.1 25.3 -1.7 25.2 -2.1 25.3 -2.7 25.2 -3.1 25.3 -3.6 25.3 -3.8 25.2 -4 25.3 -4 25.2 -3.7 25.3 -3.3 25.2 -2.7 25.3 -2.1 25.2 -1.2 25.3 -.4 25.2 .4 25.3 1.2 25.2 1.9 25.3 2.4 25.2 2.9 25.3 3 25.2 3.2 25.3 3.1 25.3 2.9 25.2 2.7 25.3 2.3 25.2 2.1 25.3 1.8 25.2 1.5 25.3 1.4 25.2 1.3 25.3 1.3 25.2 1.4 25.3 1.5 25.2 1.7 25.3 1.8 25.2 2.1 25.3 2.1 25.2 2.2 25.3 2.2 25.3 2.1 25.2 2 25.3 1.7 25.2 1.3M-50.9 966.3l25.1 -6.2 25 -5.6 25 -4.8 25 -3.7 25 -2.4 25.1 -1.1 25 0 25 1.2 25 2 25 2.6 25.1 3 25 3.3 25 3.3 25 3.3 25 3.2 25.1 3.1 25 2.9 25 2.8 25 2.6 25.1 2.4 25 2.1 25 1.7 25 1.4 25 .9 25.1 .6 25 .3 25 -.1 25 -.2 25 -.4 25.1 -.5 25 -.5 25 -.5 25 -.6 25 -.7 25.1 -.8 25 -1 25 -1.3 25 -1.6 25 -2.1 25.1 -2.5 25 -3 25 -3.2 25 -3.6 25 -3.7 25.1 -3.6 25 -3.5 25 -3.1 25 -2.6 25 -1.9 25.1 -1.2 25 -.4 25 .4 25 1.1 25 1.8 25.1 2.4 25 2.8 25 3 25 3.2 25 3.2 25.1 3 25 2.9 25 2.5 25 2.3 25 2 25.1 1.8 25 1.5 25 1.5 25 1.5 25.1 1.4 25 1.6 25 1.7 25 1.9 25 2 25.1 2.1 25 2.2 25 2.2 25 2.2 25 2.1 25.1 1.9 25 1.6 25 1.3M-41.2 948.9l24.8 -6.3 24.8 -5.9 24.7 -5 24.8 -4 24.8 -2.9 24.8 -1.6 24.8 -.6 24.8 .5 24.8 1.4 24.8 1.9 24.8 2.4 24.8 2.6 24.8 2.8 24.8 2.9 24.7 3 24.8 3 24.8 3 24.8 3 24.8 2.9 24.8 2.7 24.8 2.5 24.8 2.1 24.8 1.8 24.8 1.2 24.8 .8 24.7 .4 24.8 -.1 24.8 -.3 24.8 -.7 24.8 -.7 24.8 -.9 24.8 -1 24.8 -1 24.8 -1.1 24.8 -1.2 24.8 -1.3 24.7 -1.5 24.8 -1.7 24.8 -2.1 24.8 -2.4 24.8 -2.7 24.8 -3 24.8 -3.3 24.8 -3.3 24.8 -3.3 24.8 -3.2 24.8 -2.9 24.7 -2.4 24.8 -1.8 24.8 -1.2 24.8 -.5 24.8 .2 24.8 1 24.8 1.6 24.8 2.1 24.8 2.6 24.8 2.8 24.8 3.1 24.7 3 24.8 3 24.8 2.8 24.8 2.7 24.8 2.3 24.8 2.2 24.8 1.9 24.8 1.7 24.8 1.7 24.8 1.5 24.8 1.6 24.7 1.6 24.8 1.8 24.8 1.8 24.8 2 24.8 2.1 24.8 2.1 24.8 2.2 24.8 2.3 24.8 2.1 24.8 2.1 24.8 1.9 24.8 1.6M-56.3 949.1l24.6 -4.8 24.5 -4.8 24.6 -4.6 24.6 -4.3 24.5 -3.9 24.6 -3.2 24.6 -2.7 24.5 -2 24.6 -1.4 24.6 -.8 24.5 -.4 24.6 .1 24.6 .6 24.5 .9 24.6 1.3 24.6 1.7 24.5 2.1 24.6 2.5 24.5 2.7 24.6 2.8 24.6 2.8 24.5 2.7 24.6 2.4 24.6 2 24.5 1.6 24.6 1 24.6 .5 24.5 0 24.6 -.5 24.6 -.8 24.5 -1 24.6 -1.3 24.6 -1.3 24.5 -1.5 24.6 -1.5 24.5 -1.5 24.6 -1.6 24.6 -1.8 24.5 -1.9 24.6 -2.1 24.6 -2.3 24.5 -2.5 24.6 -2.8 24.6 -2.9 24.5 -3 24.6 -3 24.6 -2.8 24.5 -2.7 24.6 -2.2 24.6 -1.8 24.5 -1.2 24.6 -.6 24.5 0 24.6 .7 24.6 1.2 24.5 1.7 24.6 2.2 24.6 2.4 24.5 2.7 24.6 2.7 24.6 2.7 24.5 2.7 24.6 2.5 24.6 2.3 24.5 2.2 24.6 1.9 24.6 1.9 24.5 1.7 24.6 1.7 24.5 1.6 24.6 1.7 24.6 1.7 24.5 1.9 24.6 1.9 24.6 2 24.5 2 24.6 2.2 24.6 2.2 24.5 2.2 24.6 2.1 24.6 2.1 24.5 1.9M-46.7 943.4l24.4 -3 24.3 -3 24.3 -3.2 24.4 -3.4 24.3 -3.4 24.4 -3.4 24.3 -3.4 24.3 -3.4 24.4 -3.1 24.3 -2.9 24.4 -2.6 24.3 -2.1 24.4 -1.6 24.3 -.9 24.3 -.3 24.4 .5 24.3 1.2 24.4 1.8 24.3 2.3 24.3 2.7 24.4 2.8 24.3 2.8 24.4 2.7 24.3 2.2 24.4 1.8 24.3 1.3 24.3 .7 24.4 0 24.3 -.4 24.4 -.9 24.3 -1.3 24.3 -1.5 24.4 -1.7 24.3 -1.8 24.4 -1.9 24.3 -1.9 24.4 -1.9 24.3 -2 24.3 -2 24.4 -2.1 24.3 -2.3 24.4 -2.3 24.3 -2.5 24.3 -2.6 24.4 -2.6 24.3 -2.6 24.4 -2.6 24.3 -2.3 24.3 -2 24.4 -1.7 24.3 -1.3 24.4 -.8 24.3 -.3 24.4 .2 24.3 .7 24.3 1.1 24.4 1.6 24.3 1.8 24.4 2.1 24.3 2.2 24.3 2.2 24.4 2.3 24.3 2.1 24.4 2.2 24.3 2 24.4 1.9 24.3 1.8 24.3 1.7 24.4 1.7 24.3 1.7 24.4 1.7 24.3 1.7 24.3 1.7 24.4 1.8 24.3 1.9 24.4 2 24.3 2 24.4 2.1 24.3 2.1 24.3 2.2 24.4 2.1 24.3 2.2 24.4 2.1M-37.2 929.5l24.1 -2 24.1 -2 24.1 -2.2 24.2 -2.3 24.1 -2.5 24.1 -2.7 24.1 -2.8 24.1 -2.8 24.2 -2.9 24.1 -2.7 24.1 -2.5 24.1 -2.2 24.2 -1.6 24.1 -1.1 24.1 -.5 24.1 .3 24.1 .8 24.2 1.4 24.1 1.9 24.1 2.2 24.1 2.4 24.1 2.3 24.2 2.2 24.1 1.8 24.1 1.4 24.1 .8 24.2 .3 24.1 -.2 24.1 -.7 24.1 -1.1 24.1 -1.3 24.2 -1.6 24.1 -1.7 24.1 -1.6 24.1 -1.6 24.1 -1.4 24.2 -1.3 24.1 -1.1 24.1 -1 24.1 -.9 24.2 -.9 24.1 -.9 24.1 -1 24.1 -1.1 24.1 -1.2 24.2 -1.4 24.1 -1.5 24.1 -1.6 24.1 -1.7 24.2 -1.8 24.1 -1.7 24.1 -1.6 24.1 -1.5 24.1 -1.3 24.2 -1 24.1 -.8 24.1 -.5 24.1 -.2 24.1 0 24.2 .2 24.1 .5 24.1 .7 24.1 .8 24.2 .9 24.1 1 24.1 1.2 24.1 1.2 24.1 1.3 24.2 1.3 24.1 1.4 24.1 1.5 24.1 1.5 24.1 1.5 24.2 1.6 24.1 1.6 24.1 1.7 24.1 1.8 24.2 1.8 24.1 2 24.1 2.1 24.1 2.2 24.1 2.2 24.2 2.4M-51.8 912.0l23.9 -1.7 23.9 -1.5 23.9 -1.4 23.9 -1.3 23.9 -1.3 23.9 -1.3 23.9 -1.3 23.9 -1.3 23.9 -1.3 24 -1.3 23.9 -1.2 23.9 -1.1 23.9 -.8 23.9 -.5 23.9 -.2 23.9 .1 23.9 .6 23.9 .9 23.9 1.2 23.9 1.5 23.9 1.6 23.9 1.6 23.9 1.5 23.9 1.2 23.9 1 23.9 .5 23.9 .2 23.9 -.3 23.9 -.7 23.9 -1.1 23.9 -1.3 23.9 -1.5 24 -1.5 23.9 -1.4 23.9 -1.2 23.9 -1 23.9 -.6 23.9 -.3 23.9 .1 23.9 .4 23.9 .8 23.9 .9 23.9 .9 23.9 1 23.9 .8 23.9 .5 23.9 .2 23.9 -.3 23.9 -.8 23.9 -1.2 23.9 -1.8 23.9 -2.2 23.9 -2.6 23.9 -2.9 23.9 -3.1 24 -3.1 23.9 -3.1 23.9 -3 23.9 -2.7 23.9 -2.4 23.9 -2.1 23.9 -1.8 23.9 -1.3 23.9 -1 23.9 -.6 23.9 -.2 23.9 .1 23.9 .3 23.9 .6 23.9 .8 23.9 1 23.9 1 23.9 1.2 23.9 1.1 23.9 1.2 23.9 1.2 23.9 1.2 23.9 1.4 24 1.4 23.9 1.6 23.9 1.8 23.9 1.9 23.9 2.2 23.9 2.4M-42.4 890.3l23.7 -1.8 23.7 -1.4 23.7 -1.2 23.7 -.8 23.7 -.7 23.7 -.4 23.7 -.3 23.7 -.1 23.6 -.1 23.7 .1 23.7 .1 23.7 .3 23.7 .3 23.7 .5 23.7 .7 23.7 .8 23.7 1 23.7 1.2 23.6 1.2 23.7 1.4 23.7 1.3 23.7 1.3 23.7 1.1 23.7 .9 23.7 .6 23.7 .3 23.7 -.1 23.7 -.5 23.6 -.8 23.7 -1.1 23.7 -1.4 23.7 -1.4 23.7 -1.4 23.7 -1.4 23.7 -1.1 23.7 -.8 23.7 -.3 23.7 0 23.6 .5 23.7 1 23.7 1.3 23.7 1.7 23.7 1.8 23.7 1.9 23.7 1.7 23.7 1.5 23.7 1.1 23.7 .6 23.7 0 23.6 -.7 23.7 -1.4 23.7 -2.1 23.7 -2.6 23.7 -3.1 23.7 -3.5 23.7 -3.7 23.7 -3.7 23.7 -3.7 23.7 -3.5 23.6 -3.2 23.7 -2.8 23.7 -2.4 23.7 -1.9 23.7 -1.5 23.7 -1.1 23.7 -.6 23.7 -.3 23.7 0 23.7 .2 23.6 .3 23.7 .5 23.7 .4 23.7 .4 23.7 .3 23.7 .2 23.7 .2 23.7 .1 23.7 .1 23.7 .3 23.6 .4 23.7 .7 23.7 1 23.7 1.4 23.7 1.8 23.7 2.2M-56.5 869.6l23.4 -2.5 23.5 -2.1 23.5 -1.7 23.5 -1.2 23.5 -.7 23.4 -.4 23.5 0 23.5 .3 23.5 .6 23.4 .7 23.5 .9 23.5 1 23.5 1 23.5 1.2 23.4 1.2 23.5 1.3 23.5 1.4 23.5 1.4 23.5 1.5 23.4 1.6 23.5 1.5 23.5 1.6 23.5 1.4 23.4 1.4 23.5 1.1 23.5 .8 23.5 .6 23.5 .2 23.4 -.1 23.5 -.5 23.5 -.8 23.5 -1 23.5 -1.2 23.4 -1.3 23.5 -1.2 23.5 -1.1 23.5 -.9 23.4 -.5 23.5 -.1 23.5 .3 23.5 .8 23.5 1.3 23.4 1.5 23.5 1.9 23.5 1.9 23.5 2 23.5 1.8 23.4 1.4 23.5 1 23.5 .5 23.5 -.2 23.5 -.9 23.4 -1.5 23.5 -2.2 23.5 -2.6 23.5 -3.1 23.4 -3.3 23.5 -3.4 23.5 -3.4 23.5 -3.2 23.5 -2.9 23.4 -2.6 23.5 -2.1 23.5 -1.8 23.5 -1.3 23.5 -1 23.4 -.6 23.5 -.3 23.5 -.1 23.5 0 23.4 0 23.5 0 23.5 -.2 23.5 -.4 23.5 -.6 23.4 -.9 23.5 -1.1 23.5 -1.2 23.5 -1.3 23.5 -1.2 23.4 -.9 23.5 -.7 23.5 -.1 23.5 .3 23.4 1 23.5 1.5M-47.2 846.1l23.3 -3.1 23.3 -2.5 23.3 -2 23.2 -1.4 23.3 -.9 23.3 -.3 23.2 .2 23.3 .7 23.3 1 23.2 1.3 23.3 1.5 23.3 1.6 23.3 1.8 23.2 1.8 23.3 1.8 23.3 1.9 23.2 1.9 23.3 1.9 23.3 1.9 23.2 1.9 23.3 2 23.3 1.9 23.3 1.8 23.2 1.8 23.3 1.6 23.3 1.3 23.2 1.1 23.3 .8 23.3 .5 23.2 .1 23.3 -.2 23.3 -.6 23.3 -.8 23.2 -.9 23.3 -1.1 23.3 -1 23.2 -.9 23.3 -.6 23.3 -.4 23.2 .1 23.3 .4 23.3 .9 23.3 1.2 23.2 1.5 23.3 1.7 23.3 1.8 23.2 1.8 23.3 1.5 23.3 1.1 23.3 .7 23.2 .1 23.3 -.6 23.3 -1.2 23.2 -1.8 23.3 -2.2 23.3 -2.7 23.2 -3 23.3 -3.1 23.3 -3.1 23.3 -2.9 23.2 -2.8 23.3 -2.4 23.3 -2.1 23.2 -1.7 23.3 -1.4 23.3 -1 23.2 -.6 23.3 -.5 23.3 -.3 23.3 -.2 23.2 -.3 23.3 -.4 23.3 -.7 23.2 -.9 23.3 -1.3 23.3 -1.6 23.2 -2 23.3 -2.1 23.3 -2.3 23.3 -2.2 23.2 -2 23.3 -1.6 23.3 -1 23.2 -.4 23.3 .3 23.3 1.1 23.2 1.8M-37.9 822.4l23.1 -3.6 23 -3.1 23.1 -2.4 23.1 -1.8 23 -1 23.1 -.3 23.1 .3 23 .9 23.1 1.3 23 1.8 23.1 2.1 23.1 2.2 23 2.4 23.1 2.5 23.1 2.5 23 2.5 23.1 2.4 23.1 2.4 23 2.4 23.1 2.4 23.1 2.3 23 2.3 23.1 2.3 23 2.2 23.1 2 23.1 1.9 23 1.7 23.1 1.4 23.1 1.1 23 .7 23.1 .4 23.1 .1 23 -.3 23.1 -.6 23.1 -.7 23 -.8 23.1 -.8 23 -.8 23.1 -.5 23.1 -.2 23 .1 23.1 .4 23.1 .8 23 1.1 23.1 1.4 23.1 1.5 23 1.5 23.1 1.3 23.1 1 23 .7 23.1 .1 23.1 -.5 23 -1 23.1 -1.7 23 -2.2 23.1 -2.5 23.1 -2.9 23 -3.1 23.1 -3.1 23.1 -3 23 -2.8 23.1 -2.6 23.1 -2.3 23 -2 23.1 -1.7 23.1 -1.3 23 -1 23.1 -.8 23 -.6 23.1 -.5 23.1 -.6 23 -.6 23.1 -.9 23.1 -1.3 23 -1.6 23.1 -2 23.1 -2.3 23 -2.6 23.1 -2.8 23.1 -2.7 23 -2.6 23.1 -2.1 23 -1.6 23.1 -.8 23.1 .1 23 .9 23.1 1.8M-51.6 803.7l22.8 -4.7 22.9 -4.1 22.9 -3.6 22.8 -2.9 22.9 -2.1 22.9 -1.3 22.8 -.5 22.9 .4 22.8 1 22.9 1.7 22.9 2.2 22.8 2.5 22.9 2.9 22.8 3 22.9 3.2 22.9 3.1 22.8 3.1 22.9 3 22.8 2.9 22.9 2.9 22.9 2.8 22.8 2.7 22.9 2.7 22.9 2.6 22.8 2.6 22.9 2.4 22.8 2.4 22.9 2.2 22.9 1.9 22.8 1.7 22.9 1.3 22.8 1 22.9 .6 22.9 .3 22.8 -.1 22.9 -.3 22.8 -.5 22.9 -.7 22.9 -.7 22.8 -.6 22.9 -.5 22.9 -.2 22.8 .1 22.9 .4 22.8 .6 22.9 .9 22.9 1.1 22.8 1.1 22.9 1 22.8 .8 22.9 .5 22.9 0 22.8 -.5 22.9 -1.1 22.9 -1.7 22.8 -2.2 22.9 -2.5 22.8 -2.9 22.9 -3.1 22.9 -3.2 22.8 -3.2 22.9 -3 22.8 -2.9 22.9 -2.6 22.9 -2.4 22.8 -2 22.9 -1.7 22.8 -1.5 22.9 -1.1 22.9 -1 22.8 -.8 22.9 -.8 22.9 -.9 22.8 -1.1 22.9 -1.3 22.8 -1.7 22.9 -2.1 22.9 -2.5 22.8 -2.8 22.9 -2.9 22.8 -3 22.9 -2.8 22.9 -2.4 22.8 -1.8 22.9 -1 22.8 -.1 22.9 .9 22.9 1.8M-42.4 781.8l22.7 -5.2 22.6 -4.7 22.7 -4.1 22.6 -3.4 22.7 -2.5 22.7 -1.6 22.6 -.6 22.7 .2 22.7 1.1 22.6 1.9 22.7 2.5 22.6 3.1 22.7 3.4 22.7 3.6 22.6 3.7 22.7 3.7 22.6 3.7 22.7 3.6 22.7 3.4 22.6 3.3 22.7 3.2 22.6 3.1 22.7 3 22.7 2.9 22.6 2.8 22.7 2.8 22.6 2.7 22.7 2.5 22.7 2.4 22.6 2.2 22.7 1.8 22.6 1.6 22.7 1.1 22.7 .8 22.6 .5 22.7 0 22.7 -.2 22.6 -.4 22.7 -.6 22.6 -.6 22.7 -.6 22.7 -.5 22.6 -.3 22.7 0 22.6 .2 22.7 .5 22.7 .6 22.6 .6 22.7 .7 22.6 .4 22.7 .2 22.7 -.2 22.6 -.7 22.7 -1.2 22.6 -1.8 22.7 -2.1 22.7 -2.6 22.6 -2.9 22.7 -3 22.7 -3.2 22.6 -3.2 22.7 -3.1 22.6 -3 22.7 -2.9 22.7 -2.6 22.6 -2.4 22.7 -2.1 22.6 -1.8 22.7 -1.5 22.7 -1.3 22.6 -1.1 22.7 -1 22.6 -1 22.7 -1.2 22.7 -1.4 22.6 -1.7 22.7 -2.1 22.6 -2.5 22.7 -2.8 22.7 -3 22.6 -3 22.7 -2.9 22.6 -2.5 22.7 -1.9 22.7 -1.1 22.6 -.2 22.7 .9 22.7 1.9 22.6 2.9M-55.8 766.9l22.5 -5.7 22.5 -5.6 22.4 -5.1 22.5 -4.6 22.5 -3.9 22.4 -2.9 22.5 -2 22.4 -.9 22.5 .1 22.5 1.1 22.4 2 22.5 2.8 22.5 3.3 22.4 3.8 22.5 4.1 22.4 4.3 22.5 4.3 22.5 4.2 22.4 4.1 22.5 3.9 22.5 3.7 22.4 3.5 22.5 3.3 22.5 3.3 22.4 3.1 22.5 3 22.4 2.9 22.5 2.9 22.5 2.8 22.4 2.7 22.5 2.4 22.5 2.3 22.4 1.9 22.5 1.7 22.4 1.2 22.5 .9 22.5 .5 22.4 .1 22.5 -.2 22.5 -.4 22.4 -.6 22.5 -.6 22.4 -.7 22.5 -.5 22.5 -.4 22.4 -.2 22.5 -.1 22.5 .1 22.4 .2 22.5 .1 22.5 .1 22.4 -.2 22.5 -.6 22.4 -.9 22.5 -1.4 22.5 -1.8 22.4 -2.2 22.5 -2.5 22.5 -2.7 22.4 -3 22.5 -3 22.4 -3 22.5 -3.1 22.5 -2.9 22.4 -2.8 22.5 -2.7 22.5 -2.5 22.4 -2.3 22.5 -2.1 22.4 -1.8 22.5 -1.5 22.5 -1.3 22.4 -1.2 22.5 -1.1 22.5 -1.2 22.4 -1.4 22.5 -1.7 22.5 -2.1 22.4 -2.4 22.5 -2.7 22.4 -2.9 22.5 -3 22.5 -2.9 22.4 -2.6 22.5 -1.9 22.5 -1.2 22.4 -.1 22.5 .9 22.4 2 22.5 3M-46.6 748.2l22.3 -6 22.3 -5.8 22.2 -5.5 22.3 -5 22.3 -4.2 22.2 -3.4 22.3 -2.3 22.3 -1.2 22.2 -.1 22.3 1 22.3 2 22.2 2.8 22.3 3.6 22.3 4.1 22.2 4.5 22.3 4.6 22.3 4.8 22.2 4.6 22.3 4.5 22.3 4.3 22.2 4 22.3 3.8 22.3 3.6 22.2 3.3 22.3 3.2 22.3 3.1 22.2 3 22.3 2.9 22.3 2.9 22.2 2.8 22.3 2.6 22.3 2.5 22.3 2.2 22.2 2 22.3 1.6 22.3 1.2 22.2 .8 22.3 .5 22.3 .1 22.2 -.3 22.3 -.5 22.3 -.6 22.2 -.8 22.3 -.8 22.3 -.7 22.2 -.6 22.3 -.6 22.3 -.4 22.2 -.4 22.3 -.3 22.3 -.5 22.2 -.7 22.3 -.9 22.3 -1.3 22.2 -1.6 22.3 -1.9 22.3 -2.2 22.2 -2.5 22.3 -2.6 22.3 -2.6 22.2 -2.8 22.3 -2.7 22.3 -2.7 22.3 -2.6 22.2 -2.7 22.3 -2.5 22.3 -2.5 22.2 -2.3 22.3 -2.1 22.3 -1.9 22.2 -1.7 22.3 -1.4 22.3 -1.3 22.2 -1.2 22.3 -1.2 22.3 -1.4 22.2 -1.6 22.3 -1.9 22.3 -2.3 22.2 -2.6 22.3 -2.8 22.3 -2.9 22.2 -2.8 22.3 -2.4 22.3 -1.9 22.2 -1.1 22.3 -.1 22.3 .9 22.2 2.1 22.3 3.2 22.3 4.1M-59.6 736.9l22.1 -5.8 22.1 -6.1 22 -5.9 22.1 -5.8 22.1 -5.2 22.1 -4.5 22 -3.7 22.1 -2.6 22.1 -1.5 22.1 -.3 22 .8 22.1 1.8 22.1 2.9 22.1 3.6 22 4.3 22.1 4.7 22.1 4.9 22.1 5.1 22 5 22.1 4.8 22.1 4.6 22.1 4.2 22 4 22.1 3.6 22.1 3.4 22.1 3.2 22 3 22.1 2.9 22.1 2.9 22.1 2.8 22 2.7 22.1 2.6 22.1 2.6 22.1 2.3 22 2.1 22.1 1.9 22.1 1.5 22.1 1.1 22 .7 22.1 .3 22.1 -.1 22.1 -.4 22 -.6 22.1 -.9 22.1 -.9 22.1 -1 22 -1.1 22.1 -.9 22.1 -1 22 -.9 22.1 -1 22.1 -1.1 22.1 -1.2 22 -1.4 22.1 -1.7 22.1 -1.9 22.1 -2.2 22 -2.3 22.1 -2.3 22.1 -2.4 22.1 -2.4 22 -2.3 22.1 -2.3 22.1 -2.2 22.1 -2.2 22 -2.2 22.1 -2.1 22.1 -2.2 22.1 -2.2 22 -2 22.1 -1.8 22.1 -1.7 22.1 -1.5 22 -1.3 22.1 -1.2 22.1 -1.2 22.1 -1.3 22 -1.5 22.1 -1.8 22.1 -2.1 22.1 -2.4 22 -2.6 22.1 -2.7 22.1 -2.6 22.1 -2.3 22 -1.7 22.1 -.9 22.1 0 22.1 1 22 2.3 22.1 3.3 22.1 4.3M-50.5 721.2l21.9 -5.7 21.9 -5.9 21.9 -6 21.9 -5.7 21.9 -5.3 21.8 -4.7 21.9 -3.9 21.9 -2.8 21.9 -1.8 21.9 -.6 21.9 .6 21.8 1.7 21.9 2.7 21.9 3.6 21.9 4.3 21.9 4.8 21.9 5.1 21.9 5.2 21.8 5.2 21.9 5 21.9 4.7 21.9 4.4 21.9 4 21.9 3.7 21.9 3.4 21.8 3 21.9 2.9 21.9 2.8 21.9 2.6 21.9 2.6 21.9 2.5 21.8 2.5 21.9 2.4 21.9 2.3 21.9 2.2 21.9 1.9 21.9 1.6 21.9 1.3 21.8 .8 21.9 .5 21.9 .1 21.9 -.2 21.9 -.7 21.9 -.8 21.8 -1.2 21.9 -1.2 21.9 -1.4 21.9 -1.4 21.9 -1.5 21.9 -1.5 21.9 -1.6 21.8 -1.7 21.9 -1.9 21.9 -2 21.9 -2.2 21.9 -2.4 21.9 -2.5 21.8 -2.4 21.9 -2.4 21.9 -2.2 21.9 -2.1 21.9 -1.8 21.9 -1.7 21.9 -1.5 21.8 -1.6 21.9 -1.6 21.9 -1.6 21.9 -1.7 21.9 -1.8 21.9 -1.7 21.8 -1.7 21.9 -1.6 21.9 -1.4 21.9 -1.3 21.9 -1.2 21.9 -1.1 21.9 -1.2 21.8 -1.4 21.9 -1.6 21.9 -1.9 21.9 -2.1 21.9 -2.4 21.9 -2.5 21.9 -2.3 21.8 -2 21.9 -1.5 21.9 -.7 21.9 .2 21.9 1.3 21.9 2.4 21.8 3.5 21.9 4.4M-41.5 706.5l21.7 -5.3 21.7 -5.6 21.7 -5.7 21.7 -5.6 21.7 -5.2 21.7 -4.7 21.7 -3.9 21.7 -3 21.7 -1.9 21.7 -.8 21.7 .4 21.7 1.5 21.7 2.5 21.7 3.4 21.7 4.2 21.7 4.7 21.7 5.1 21.7 5.3 21.7 5.2 21.7 5 21.7 4.8 21.7 4.4 21.7 4 21.7 3.7 21.7 3.2 21.7 2.9 21.7 2.7 21.7 2.4 21.7 2.4 21.7 2.3 21.7 2.2 21.6 2.2 21.7 2.2 21.7 2.1 21.7 2 21.7 1.8 21.7 1.7 21.7 1.3 21.7 1 21.7 .6 21.7 .2 21.7 -.2 21.7 -.5 21.7 -1 21.7 -1.2 21.7 -1.4 21.7 -1.7 21.7 -1.8 21.7 -2 21.7 -2.1 21.7 -2.2 21.7 -2.4 21.7 -2.6 21.7 -2.8 21.7 -2.9 21.7 -2.9 21.7 -2.9 21.7 -2.7 21.7 -2.5 21.7 -2.1 21.7 -1.7 21.7 -1.4 21.7 -1.1 21.7 -.8 21.6 -.8 21.7 -.8 21.7 -.9 21.7 -1.1 21.7 -1.2 21.7 -1.4 21.7 -1.3 21.7 -1.4 21.7 -1.3 21.7 -1.1 21.7 -1.1 21.7 -1.1 21.7 -1.1 21.7 -1.3 21.7 -1.5 21.7 -1.7 21.7 -1.9 21.7 -2.1 21.7 -2.2 21.7 -2 21.7 -1.8 21.7 -1.1 21.7 -.4 21.7 .5 21.7 1.5 21.7 2.7 21.7 3.7 21.7 4.7 21.7 5.4M-54.1 697.3l21.5 -4.5 21.6 -4.9 21.5 -5.2 21.5 -5.3 21.5 -5.2 21.5 -4.9 21.5 -4.5 21.5 -3.8 21.5 -2.9 21.5 -2 21.6 -1 21.5 .2 21.5 1.3 21.5 2.2 21.5 3.2 21.5 4 21.5 4.5 21.5 5 21.6 5.1 21.5 5.1 21.5 5 21.5 4.7 21.5 4.4 21.5 3.9 21.5 3.5 21.5 3.1 21.5 2.7 21.6 2.4 21.5 2.1 21.5 2 21.5 1.9 21.5 1.9 21.5 1.9 21.5 1.8 21.5 1.8 21.5 1.8 21.6 1.7 21.5 1.5 21.5 1.3 21.5 1 21.5 .6 21.5 .3 21.5 -.1 21.5 -.5 21.6 -.9 21.5 -1.2 21.5 -1.6 21.5 -1.9 21.5 -2.2 21.5 -2.4 21.5 -2.7 21.5 -2.9 21.5 -3.1 21.6 -3.4 21.5 -3.5 21.5 -3.6 21.5 -3.7 21.5 -3.4 21.5 -3.2 21.5 -2.6 21.5 -2.2 21.6 -1.5 21.5 -.9 21.5 -.4 21.5 -.1 21.5 0 21.5 0 21.5 -.1 21.5 -.3 21.5 -.6 21.6 -.8 21.5 -.9 21.5 -1.1 21.5 -1 21.5 -1 21.5 -1.1 21.5 -1 21.5 -1 21.5 -1.2 21.6 -1.3 21.5 -1.6 21.5 -1.8 21.5 -1.9 21.5 -1.9 21.5 -1.7 21.5 -1.4 21.5 -.9 21.6 0 21.5 .8 21.5 1.9 21.5 3 21.5 4 21.5 4.9 21.5 5.7M-45.1 683.4l21.3 -4 21.4 -4.3 21.3 -4.5 21.3 -4.7 21.3 -4.7 21.4 -4.5 21.3 -4 21.3 -3.6 21.4 -2.8 21.3 -1.9 21.3 -1 21.3 0 21.4 1.1 21.3 2 21.3 2.9 21.4 3.6 21.3 4.3 21.3 4.6 21.3 4.8 21.4 4.9 21.3 4.8 21.3 4.5 21.4 4.2 21.3 3.8 21.3 3.3 21.3 2.9 21.4 2.5 21.3 2.1 21.3 1.9 21.4 1.7 21.3 1.5 21.3 1.5 21.3 1.5 21.4 1.4 21.3 1.5 21.3 1.5 21.4 1.4 21.3 1.4 21.3 1.1 21.3 1 21.4 .7 21.3 .3 21.3 0 21.4 -.5 21.3 -.8 21.3 -1.3 21.3 -1.7 21.4 -2 21.3 -2.4 21.3 -2.8 21.4 -3.2 21.3 -3.5 21.3 -3.8 21.3 -4.2 21.4 -4.4 21.3 -4.4 21.3 -4.4 21.4 -4.2 21.3 -3.7 21.3 -3 21.3 -2.2 21.4 -1.4 21.3 -.6 21.3 .1 21.4 .6 21.3 .9 21.3 .9 21.3 .8 21.4 .5 21.3 .1 21.3 -.1 21.4 -.5 21.3 -.7 21.3 -.7 21.3 -.9 21.4 -.9 21.3 -1 21.3 -1 21.4 -1.2 21.3 -1.3 21.3 -1.5 21.3 -1.6 21.4 -1.8 21.3 -1.7 21.3 -1.5 21.4 -1.1 21.3 -.5 21.3 .2 21.3 1.3 21.4 2.2 21.3 3.3 21.3 4.3 21.4 5.2 21.3 5.9M-57.4 672.8l21.2 -3.1 21.1 -3.4 21.2 -3.6 21.1 -3.9 21.1 -4 21.2 -4 21.1 -3.9 21.2 -3.6 21.1 -3.1 21.2 -2.5 21.1 -1.8 21.2 -.9 21.1 -.1 21.2 .9 21.1 1.7 21.2 2.6 21.1 3.3 21.2 3.8 21.1 4.2 21.2 4.5 21.1 4.5 21.2 4.5 21.1 4.2 21.2 3.9 21.1 3.5 21.2 3.1 21.1 2.7 21.1 2.3 21.2 1.9 21.1 1.6 21.2 1.4 21.1 1.2 21.2 1.2 21.1 1.1 21.2 1.1 21.1 1.2 21.2 1.2 21.1 1.1 21.2 1.2 21.1 1 21.2 .9 21.1 .6 21.2 .4 21.1 0 21.2 -.3 21.1 -.8 21.2 -1.2 21.1 -1.6 21.2 -2.1 21.1 -2.6 21.1 -3.1 21.2 -3.5 21.1 -4.1 21.2 -4.5 21.1 -4.9 21.2 -5.2 21.1 -5.3 21.2 -5.3 21.1 -4.9 21.2 -4.3 21.1 -3.5 21.2 -2.5 21.1 -1.4 21.2 -.3 21.1 .6 21.2 1.2 21.1 1.6 21.2 1.8 21.1 1.6 21.2 1.4 21.1 .9 21.2 .5 21.1 0 21.1 -.2 21.2 -.5 21.1 -.7 21.2 -.8 21.1 -.9 21.2 -1.1 21.1 -1.2 21.2 -1.4 21.1 -1.5 21.2 -1.7 21.1 -1.7 21.2 -1.6 21.1 -1.4 21.2 -.9 21.1 -.2 21.2 .5 21.1 1.5 21.2 2.6 21.1 3.6 21.2 4.6 21.1 5.5 21.2 6.1 21.1 6.5M-48.5 659.9l21 -2.5 21 -2.6 20.9 -2.9 21 -3 21 -3.1 20.9 -3.2 21 -3 21 -2.9 21 -2.5 20.9 -2 21 -1.5 21 -.8 20.9 -.1 21 .6 21 1.4 20.9 2.1 21 2.7 21 3.1 20.9 3.6 21 3.7 21 3.9 21 3.8 20.9 3.7 21 3.4 21 3.1 20.9 2.7 21 2.3 21 2 20.9 1.6 21 1.3 21 1.2 20.9 .9 21 .9 21 .9 21 .8 20.9 .9 21 .9 21 1 20.9 .9 21 .9 21 .8 20.9 .6 21 .5 21 .1 21 -.2 20.9 -.6 21 -1.1 21 -1.5 20.9 -2.1 21 -2.6 21 -3.2 20.9 -3.8 21 -4.5 21 -5 20.9 -5.6 21 -6 21 -6.2 21 -6.1 20.9 -5.7 21 -5 21 -4.1 20.9 -2.8 21 -1.5 21 -.3 20.9 .9 21 1.8 21 2.3 21 2.6 20.9 2.4 21 2.1 21 1.7 20.9 1.1 21 .7 21 .1 20.9 -.2 21 -.5 21 -.7 20.9 -1 21 -1.1 21 -1.4 21 -1.5 20.9 -1.7 21 -1.8 21 -1.8 20.9 -1.7 21 -1.3 21 -.8 20.9 -.1 21 .7 21 1.8 20.9 2.8 21 3.9 21 4.9 21 5.6 20.9 6.3 21 6.7M-39.7 652.0l20.8 -1.2 20.8 -1.3 20.8 -1.3 20.8 -1.5 20.8 -1.5 20.8 -1.6 20.8 -1.6 20.8 -1.6 20.8 -1.5 20.8 -1.3 20.8 -1 20.8 -.7 20.7 -.3 20.8 .1 20.8 .6 20.8 1 20.8 1.4 20.8 1.7 20.8 2 20.8 2.2 20.8 2.4 20.8 2.3 20.8 2.3 20.8 2.1 20.8 2 20.8 1.7 20.8 1.5 20.7 1.3 20.8 1.1 20.8 .8 20.8 .8 20.8 .6 20.8 .6 20.8 .5 20.8 .6 20.8 .7 20.8 .7 20.8 .8 20.8 .8 20.8 .8 20.8 .7 20.8 .7 20.7 .5 20.8 .3 20.8 -.1 20.8 -.4 20.8 -.8 20.8 -1.3 20.8 -1.9 20.8 -2.5 20.8 -3.2 20.8 -3.9 20.8 -4.7 20.8 -5.5 20.8 -6.1 20.8 -6.6 20.8 -7 20.7 -6.9 20.8 -6.5 20.8 -5.7 20.8 -4.7 20.8 -3.2 20.8 -1.8 20.8 -.2 20.8 1.1 20.8 2.1 20.8 2.9 20.8 3.2 20.8 3.1 20.8 2.9 20.8 2.4 20.8 1.7 20.7 1.2 20.8 .6 20.8 .1 20.8 -.4 20.8 -.7 20.8 -1 20.8 -1.3 20.8 -1.5 20.8 -1.8 20.8 -2 20.8 -2 20.8 -2.1 20.8 -1.8 20.8 -1.5 20.8 -.9 20.7 -.1 20.8 .8 20.8 1.9 20.8 3 20.8 4.1 20.8 5 20.8 5.8 20.8 6.5 20.8 6.8 20.8 6.8M-51.6 646.2l20.6 0 20.7 .1 20.6 .3 20.6 .3 20.6 .2 20.6 .2 20.6 .1 20.7 -.1 20.6 -.2 20.6 -.4 20.6 -.4 20.6 -.6 20.7 -.5 20.6 -.6 20.6 -.4 20.6 -.4 20.6 -.3 20.7 -.1 20.6 0 20.6 .2 20.6 .3 20.6 .5 20.7 .5 20.6 .5 20.6 .6 20.6 .6 20.6 .5 20.7 .5 20.6 .4 20.6 .4 20.6 .4 20.6 .3 20.7 .4 20.6 .3 20.6 .4 20.6 .5 20.6 .5 20.6 .6 20.7 .8 20.6 .7 20.6 .8 20.6 .8 20.6 .7 20.7 .7 20.6 .5 20.6 .2 20.6 -.1 20.6 -.5 20.7 -1 20.6 -1.6 20.6 -2.3 20.6 -3 20.6 -3.9 20.7 -4.7 20.6 -5.7 20.6 -6.4 20.6 -7.2 20.6 -7.5 20.7 -7.6 20.6 -7.2 20.6 -6.4 20.6 -5.2 20.6 -3.8 20.7 -2 20.6 -.4 20.6 1.2 20.6 2.4 20.6 3.3 20.6 3.7 20.7 3.8 20.6 3.5 20.6 3 20.6 2.3 20.6 1.6 20.7 1 20.6 .4 20.6 -.2 20.6 -.6 20.6 -1.1 20.7 -1.5 20.6 -1.8 20.6 -2.1 20.6 -2.3 20.6 -2.5 20.7 -2.4 20.6 -2.1 20.6 -1.8 20.6 -1.1 20.6 -.3 20.7 .8 20.6 1.8 20.6 3 20.6 4.1 20.6 5.1 20.7 5.9 20.6 6.5 20.6 6.8 20.6 6.9M-42.8 638.1l20.4 .9 20.5 1 20.4 1.3 20.5 1.5 20.4 1.4 20.5 1.4 20.4 1.4 20.5 1.1 20.4 .8 20.5 .6 20.4 .3 20.4 -.1 20.5 -.4 20.4 -.7 20.5 -1 20.4 -1.1 20.5 -1.3 20.4 -1.4 20.5 -1.4 20.4 -1.4 20.5 -1.4 20.4 -1.2 20.5 -1.1 20.4 -1 20.5 -.8 20.4 -.7 20.5 -.5 20.4 -.4 20.5 -.2 20.4 -.1 20.4 0 20.5 .1 20.4 .3 20.5 .3 20.4 .4 20.5 .6 20.4 .6 20.5 .7 20.4 .8 20.5 .9 20.4 .9 20.5 .9 20.4 .9 20.5 .9 20.4 .7 20.5 .5 20.4 .3 20.5 -.1 20.4 -.6 20.5 -1.2 20.4 -1.8 20.4 -2.7 20.5 -3.6 20.4 -4.6 20.5 -5.7 20.4 -6.6 20.5 -7.4 20.4 -7.9 20.5 -8 20.4 -7.8 20.5 -7 20.4 -5.7 20.5 -4.2 20.4 -2.4 20.5 -.5 20.4 1.1 20.5 2.6 20.4 3.6 20.5 4.1 20.4 4.2 20.5 4 20.4 3.5 20.4 2.9 20.5 2.1 20.4 1.4 20.5 .7 20.4 0 20.5 -.5 20.4 -1.1 20.5 -1.5 20.4 -1.9 20.5 -2.3 20.4 -2.6 20.5 -2.7 20.4 -2.7 20.5 -2.4 20.4 -2 20.5 -1.3 20.4 -.5 20.5 .6 20.4 1.6 20.4 2.9 20.5 3.9 20.4 5 20.5 5.7 20.4 6.3 20.5 6.6 20.4 6.6M-54.4 627.8l20.2 .6 20.3 1.1 20.3 1.3 20.3 1.6 20.2 1.9 20.3 2 20.3 1.9 20.3 2 20.3 1.7 20.2 1.5 20.3 1.1 20.3 .7 20.3 .2 20.2 -.2 20.3 -.7 20.3 -1.2 20.3 -1.6 20.3 -2 20.2 -2.2 20.3 -2.4 20.3 -2.5 20.3 -2.5 20.2 -2.5 20.3 -2.3 20.3 -2.1 20.3 -1.9 20.3 -1.6 20.2 -1.3 20.3 -.9 20.3 -.7 20.3 -.4 20.2 -.1 20.3 .1 20.3 .3 20.3 .5 20.3 .7 20.2 .7 20.3 .9 20.3 1 20.3 1.1 20.2 1.1 20.3 1.1 20.3 1.2 20.3 1.2 20.3 1.2 20.2 1 20.3 .9 20.3 .7 20.3 .3 20.2 -.1 20.3 -.6 20.3 -1.4 20.3 -2.2 20.3 -3.2 20.2 -4.3 20.3 -5.4 20.3 -6.5 20.3 -7.4 20.2 -8.1 20.3 -8.3 20.3 -8.1 20.3 -7.4 20.3 -6.1 20.2 -4.5 20.3 -2.7 20.3 -.7 20.3 1.1 20.2 2.6 20.3 3.7 20.3 4.4 20.3 4.6 20.3 4.4 20.2 4 20.3 3.4 20.3 2.7 20.3 1.9 20.2 1.3 20.3 .6 20.3 0 20.3 -.5 20.3 -.9 20.2 -1.3 20.3 -1.7 20.3 -1.9 20.3 -2.1 20.2 -2 20.3 -1.8 20.3 -1.5 20.3 -.9 20.3 -.2 20.2 .6 20.3 1.6 20.3 2.6 20.3 3.4 20.2 4.2 20.3 4.8 20.3 5.2 20.3 5.4 20.3 5.3 20.2 5.2M-45.7 617.7l20.1 .3 20.1 .8 20.1 1.1 20.1 1.4 20.1 1.7 20.1 1.9 20.1 2 20.1 2 20.2 1.8 20.1 1.7 20.1 1.3 20.1 .9 20.1 .4 20.1 -.1 20.1 -.8 20.1 -1.2 20.1 -1.9 20.1 -2.3 20.2 -2.7 20.1 -3.1 20.1 -3.2 20.1 -3.3 20.1 -3.3 20.1 -3.2 20.1 -3 20.1 -2.6 20.1 -2.3 20.2 -1.9 20.1 -1.4 20.1 -1 20.1 -.6 20.1 -.1 20.1 .2 20.1 .6 20.1 .8 20.1 1 20.1 1.2 20.2 1.3 20.1 1.3 20.1 1.5 20.1 1.5 20.1 1.5 20.1 1.5 20.1 1.6 20.1 1.5 20.1 1.4 20.1 1.3 20.2 1.1 20.1 .9 20.1 .4 20.1 -.1 20.1 -.8 20.1 -1.6 20.1 -2.6 20.1 -3.7 20.1 -4.9 20.2 -6.1 20.1 -7.2 20.1 -7.8 20.1 -8.2 20.1 -8 20.1 -7.4 20.1 -6.2 20.1 -4.5 20.1 -2.6 20.1 -.7 20.2 1.3 20.1 2.8 20.1 4.1 20.1 4.7 20.1 5.1 20.1 5 20.1 4.5 20.1 4 20.1 3.3 20.1 2.6 20.2 1.8 20.1 1.3 20.1 .7 20.1 .2 20.1 -.2 20.1 -.5 20.1 -.9 20.1 -1.1 20.1 -1.2 20.2 -1.1 20.1 -1.1 20.1 -.8 20.1 -.4 20.1 .1 20.1 .7 20.1 1.3 20.1 2 20.1 2.5 20.1 3 20.2 3.4 20.1 3.6 20.1 3.7 20.1 3.6 20.1 3.3M-57.1 608.5l20 -.3 19.9 -.1 20 .3 19.9 .5 19.9 .9 20 1.2 19.9 1.4 20 1.6 19.9 1.7 20 1.7 19.9 1.5 20 1.3 19.9 .9 20 .4 19.9 -.1 19.9 -.7 20 -1.3 19.9 -2 20 -2.5 19.9 -3 20 -3.5 19.9 -3.7 20 -4 19.9 -3.9 19.9 -3.9 20 -3.7 19.9 -3.3 20 -2.9 19.9 -2.4 20 -1.9 19.9 -1.3 20 -.7 19.9 -.1 19.9 .3 20 .8 19.9 1.1 20 1.4 19.9 1.7 20 1.7 19.9 1.9 20 2 19.9 1.9 20 2 19.9 1.9 19.9 1.9 20 1.9 19.9 1.9 20 1.7 19.9 1.5 20 1.4 19.9 .9 20 .5 19.9 -.1 19.9 -.9 20 -1.9 19.9 -3 20 -4.2 19.9 -5.4 20 -6.4 19.9 -7.2 20 -7.6 19.9 -7.5 19.9 -6.9 20 -5.6 19.9 -4 20 -2.1 19.9 -.1 20 1.8 19.9 3.5 20 4.7 19.9 5.5 20 5.7 19.9 5.7 19.9 5.2 20 4.7 19.9 3.8 20 3.1 19.9 2.4 20 1.7 19.9 1 20 .6 19.9 .1 19.9 -.3 20 -.5 19.9 -.8 20 -.9 19.9 -1 20 -.9 19.9 -.7 20 -.4 19.9 -.1 19.9 .3 20 .7 19.9 1.1 20 1.5 19.9 1.7 20 2 19.9 2.1 20 2 19.9 2 20 1.7 19.9 1.5M-48.4 600.6l19.8 -.7 19.7 -.5 19.8 -.4 19.8 0 19.8 .2 19.8 .5 19.8 .8 19.7 1 19.8 1.2 19.8 1.2 19.8 1.2 19.8 1 19.7 .7 19.8 .4 19.8 -.2 19.8 -.7 19.8 -1.4 19.8 -2 19.7 -2.7 19.8 -3.2 19.8 -3.8 19.8 -4.1 19.8 -4.4 19.7 -4.5 19.8 -4.5 19.8 -4.3 19.8 -4 19.8 -3.5 19.7 -3 19.8 -2.3 19.8 -1.6 19.8 -1 19.8 -.2 19.8 .4 19.7 .9 19.8 1.4 19.8 1.8 19.8 2.1 19.8 2.3 19.7 2.4 19.8 2.4 19.8 2.5 19.8 2.4 19.8 2.3 19.7 2.4 19.8 2.3 19.8 2.2 19.8 2.1 19.8 2 19.8 1.7 19.7 1.5 19.8 1 19.8 .6 19.8 -.3 19.8 -1.1 19.7 -2.2 19.8 -3.4 19.8 -4.5 19.8 -5.6 19.8 -6.3 19.8 -6.8 19.7 -6.7 19.8 -6 19.8 -4.9 19.8 -3.3 19.8 -1.4 19.7 .6 19.8 2.5 19.8 4.1 19.8 5.4 19.8 6.1 19.7 6.4 19.8 6.2 19.8 5.8 19.8 5.1 19.8 4.4 19.8 3.5 19.7 2.6 19.8 1.9 19.8 1.2 19.8 .6 19.8 .1 19.7 -.4 19.8 -.7 19.8 -1 19.8 -1.2 19.8 -1.2 19.7 -1.3 19.8 -1.1 19.8 -1 19.8 -.7 19.8 -.4 19.8 0 19.7 .2 19.8 .5 19.8 .7 19.8 .9 19.8 1 19.7 .9 19.8 .9 19.8 .8 19.8 .5M-59.5 594.6l19.6 -1 19.7 -1 19.6 -.9 19.6 -.9 19.6 -.7 19.6 -.4 19.7 -.2 19.6 .1 19.6 .3 19.6 .6 19.6 .6 19.7 .7 19.6 .6 19.6 .5 19.6 .1 19.6 -.3 19.7 -.7 19.6 -1.5 19.6 -2 19.6 -2.8 19.6 -3.3 19.7 -4 19.6 -4.4 19.6 -4.8 19.6 -4.9 19.6 -5 19.7 -4.9 19.6 -4.6 19.6 -4.1 19.6 -3.5 19.6 -2.8 19.7 -2.1 19.6 -1.2 19.6 -.5 19.6 .3 19.6 1.1 19.7 1.6 19.6 2 19.6 2.5 19.6 2.7 19.6 2.8 19.7 3 19.6 2.9 19.6 2.8 19.6 2.8 19.6 2.7 19.7 2.7 19.6 2.5 19.6 2.5 19.6 2.3 19.6 2.1 19.7 1.9 19.6 1.5 19.6 1.1 19.6 .5 19.6 -.4 19.7 -1.3 19.6 -2.3 19.6 -3.5 19.6 -4.4 19.6 -5.1 19.7 -5.6 19.6 -5.5 19.6 -5 19.6 -4 19.6 -2.5 19.7 -.8 19.6 1.1 19.6 2.8 19.6 4.2 19.6 5.4 19.7 6.1 19.6 6.4 19.6 6.3 19.6 5.7 19.6 5.2 19.7 4.3 19.6 3.6 19.6 2.7 19.6 1.9 19.6 1.2 19.7 .5 19.6 0 19.6 -.5 19.6 -.9 19.6 -1.3 19.7 -1.5 19.6 -1.7 19.6 -1.7 19.6 -1.7 19.6 -1.5 19.7 -1.4 19.6 -1.1 19.6 -.8 19.6 -.5 19.6 -.2 19.7 0 19.6 .2 19.6 .3 19.6 .4 19.6 .4 19.7 .3 19.6 .2M-50.9 588.1l19.5 -1.1 19.5 -1.2 19.4 -1.2 19.5 -1.3 19.4 -1.1 19.5 -1.1 19.5 -.8 19.4 -.6 19.5 -.4 19.4 -.1 19.5 0 19.5 .2 19.4 .1 19.5 .1 19.4 -.1 19.5 -.5 19.5 -.8 19.4 -1.5 19.5 -2 19.4 -2.8 19.5 -3.4 19.5 -4 19.4 -4.6 19.5 -5 19.4 -5.2 19.5 -5.4 19.5 -5.4 19.4 -5 19.5 -4.7 19.5 -4 19.4 -3.4 19.5 -2.5 19.4 -1.6 19.5 -.8 19.5 .2 19.4 .9 19.5 1.7 19.4 2.2 19.5 2.7 19.5 3 19.4 3.2 19.5 3.3 19.4 3.3 19.5 3.2 19.5 3.2 19.4 3.1 19.5 2.9 19.4 2.9 19.5 2.6 19.5 2.6 19.4 2.4 19.5 2.3 19.4 2 19.5 1.8 19.5 1.4 19.4 .8 19.5 .1 19.4 -.7 19.5 -1.5 19.5 -2.2 19.4 -2.9 19.5 -3.2 19.4 -3.3 19.5 -3 19.5 -2.4 19.4 -1.5 19.5 -.3 19.4 .9 19.5 2.1 19.5 3.2 19.4 4 19.5 4.5 19.4 4.7 19.5 4.7 19.5 4.4 19.4 4 19.5 3.5 19.4 2.9 19.5 2.3 19.5 1.7 19.4 1 19.5 .5 19.5 0 19.4 -.5 19.5 -1 19.4 -1.3 19.5 -1.7 19.5 -1.9 19.4 -2 19.5 -2 19.4 -2 19.5 -1.8 19.5 -1.5 19.4 -1.4 19.5 -1 19.4 -.7 19.5 -.4 19.5 -.2 19.4 0 19.5 .1 19.4 .3 19.5 .2 19.5 .2 19.4 .1M-42.4 581.0l19.3 -1 19.4 -1.2 19.3 -1.4 19.3 -1.5 19.3 -1.5 19.3 -1.4 19.3 -1.3 19.3 -1.3 19.3 -1 19.3 -.7 19.3 -.6 19.3 -.4 19.3 -.3 19.3 -.3 19.3 -.4 19.3 -.7 19.3 -.9 19.3 -1.4 19.3 -2.1 19.3 -2.6 19.3 -3.4 19.3 -4 19.3 -4.5 19.3 -5.1 19.3 -5.3 19.3 -5.6 19.3 -5.7 19.3 -5.4 19.3 -5.1 19.3 -4.5 19.3 -3.8 19.3 -3 19.3 -2.1 19.3 -1.1 19.3 -.1 19.3 .8 19.4 1.5 19.3 2.2 19.3 2.8 19.3 3.2 19.3 3.5 19.3 3.6 19.3 3.5 19.3 3.5 19.3 3.4 19.3 3.4 19.3 3.2 19.3 3 19.3 2.9 19.3 2.7 19.3 2.6 19.3 2.5 19.3 2.4 19.3 2.3 19.3 2.2 19.3 1.8 19.3 1.5 19.3 .9 19.3 .5 19.3 0 19.3 -.5 19.3 -.8 19.3 -1 19.3 -1 19.3 -.9 19.3 -.5 19.3 0 19.3 .6 19.3 1.1 19.3 1.6 19.3 2.1 19.4 2.4 19.3 2.6 19.3 2.7 19.3 2.6 19.3 2.5 19.3 2.3 19.3 2 19.3 1.8 19.3 1.3 19.3 .8 19.3 .6 19.3 .1 19.3 -.2 19.3 -.8 19.3 -1.1 19.3 -1.5 19.3 -1.7 19.3 -2 19.3 -2 19.3 -2.1 19.3 -1.9 19.3 -1.8 19.3 -1.6 19.3 -1.3 19.3 -1 19.3 -.7 19.3 -.4 19.3 -.1 19.3 .1 19.3 .3 19.3 .3 19.3 .3 19.3 .4M-53.1 573.2l19.2 -.4 19.1 -.9 19.1 -1 19.2 -1.4 19.1 -1.5 19.2 -1.7 19.1 -1.7 19.2 -1.6 19.1 -1.7 19.2 -1.5 19.1 -1.3 19.2 -1 19.1 -1 19.2 -.7 19.1 -.6 19.2 -.7 19.1 -.9 19.2 -.9 19.1 -1.4 19.1 -2 19.2 -2.5 19.1 -3.2 19.2 -3.8 19.1 -4.3 19.2 -4.9 19.1 -5.3 19.2 -5.6 19.1 -5.7 19.2 -5.7 19.1 -5.3 19.2 -4.8 19.1 -4.2 19.2 -3.4 19.1 -2.5 19.2 -1.5 19.1 -.4 19.2 .5 19.1 1.3 19.1 2.1 19.2 2.7 19.1 3.2 19.2 3.5 19.1 3.8 19.2 3.7 19.1 3.6 19.2 3.6 19.1 3.5 19.2 3.4 19.1 3.1 19.2 2.9 19.1 2.8 19.2 2.6 19.1 2.6 19.2 2.5 19.1 2.6 19.1 2.5 19.2 2.4 19.1 2.3 19.2 1.9 19.1 1.7 19.2 1.4 19.1 1.1 19.2 .8 19.1 .6 19.2 .3 19.1 .2 19.2 .1 19.1 .1 19.2 .3 19.1 .4 19.2 .5 19.1 .6 19.1 .9 19.2 1 19.1 1.1 19.2 1.3 19.1 1.3 19.2 1.3 19.1 1.4 19.2 1.3 19.1 1.1 19.2 .8 19.1 .7 19.2 .5 19.1 0 19.2 -.3 19.1 -.7 19.2 -1 19.1 -1.4 19.2 -1.6 19.1 -1.8 19.1 -1.9 19.2 -1.8 19.1 -1.8 19.2 -1.6 19.1 -1.4 19.2 -1.1 19.1 -.8 19.2 -.5 19.1 -.2 19.2 .1 19.1 .4 19.2 .5 19.1 .5 19.2 .6 19.1 .6M-44.6 563.1l19 -.2 18.9 -.6 19 -.8 19 -1.2 19 -1.4 19 -1.6 19 -1.8 19 -1.8 19 -1.9 19 -1.9 19 -1.6 19 -1.5 19 -1.3 19 -1.1 19 -.9 19 -.9 19 -1 18.9 -.9 19 -1.4 19 -1.8 19 -2.2 19 -2.9 19 -3.5 19 -4 19 -4.6 19 -5 19 -5.4 19 -5.5 19 -5.6 19 -5.4 19 -4.9 19 -4.5 18.9 -3.7 19 -2.8 19 -1.8 19 -.9 19 .2 19 1 19 1.8 19 2.5 19 3.1 19 3.5 19 3.7 19 3.7 19 3.6 19 3.7 19 3.6 18.9 3.4 19 3.2 19 2.8 19 2.7 19 2.6 19 2.5 19 2.4 19 2.5 19 2.6 19 2.6 19 2.5 19 2.2 19 2.2 19 2 19 1.7 18.9 1.6 19 1.2 19 .9 19 .7 19 .4 19 .3 19 .1 19 0 19 -.1 19 -.1 19 0 19 .1 19 .3 19 .4 19 .5 18.9 .8 19 .9 19 1 19 1 19 .8 19 .8 19 .8 19 .5 19 .2 19 -.2 19 -.5 19 -.8 19 -1.1 19 -1.4 19 -1.5 18.9 -1.6 19 -1.5 19 -1.5 19 -1.3 19 -1.1 19 -.8 19 -.5 19 -.2 19 .1 19 .4 19 .6 19 .7 19 .8 19 1M-55.1 550.8l18.8 .4 18.9 0 18.8 -.3 18.8 -.5 18.9 -.9 18.8 -1.1 18.9 -1.5 18.8 -1.6 18.9 -1.8 18.8 -2 18.8 -2.1 18.9 -1.8 18.8 -1.7 18.9 -1.6 18.8 -1.4 18.8 -1.1 18.9 -1 18.8 -1.1 18.9 -.9 18.8 -1.3 18.8 -1.6 18.9 -1.9 18.8 -2.5 18.9 -3.1 18.8 -3.5 18.9 -4.1 18.8 -4.5 18.8 -4.9 18.9 -5.2 18.8 -5.3 18.9 -5.2 18.8 -4.9 18.8 -4.5 18.9 -3.8 18.8 -3.1 18.9 -2.1 18.8 -1.2 18.9 -.2 18.8 .7 18.8 1.4 18.9 2.2 18.8 2.9 18.9 3.2 18.8 3.5 18.8 3.6 18.9 3.5 18.8 3.6 18.9 3.6 18.8 3.4 18.9 3.2 18.8 2.8 18.8 2.5 18.9 2.5 18.8 2.2 18.9 2.2 18.8 2.4 18.8 2.5 18.9 2.4 18.8 2.4 18.9 2.2 18.8 2.1 18.8 2.1 18.9 1.9 18.8 1.7 18.9 1.4 18.8 1.2 18.9 .8 18.8 .6 18.8 .3 18.9 .1 18.8 -.1 18.9 -.4 18.8 -.4 18.8 -.4 18.9 -.4 18.8 -.3 18.9 -.2 18.8 .1 18.9 .3 18.8 .5 18.8 .8 18.9 .8 18.8 .7 18.9 1 18.8 1 18.8 .8 18.9 .6 18.8 .4 18.9 .1 18.8 -.2 18.9 -.6 18.8 -.8 18.8 -1 18.9 -1.2 18.8 -1.2 18.9 -1.2 18.8 -1.1 18.8 -1 18.9 -.8 18.8 -.5 18.9 -.3 18.8 .1 18.8 .5 18.9 .7 18.8 .7 18.9 1 18.8 1.2 18.9 1.4M-46.7 537.1l18.7 .6 18.7 .3 18.7 0 18.7 -.3 18.6 -.5 18.7 -.9 18.7 -1.1 18.7 -1.5 18.7 -1.5 18.7 -2 18.7 -2.1 18.7 -1.8 18.7 -1.9 18.7 -1.7 18.7 -1.5 18.6 -1.2 18.7 -1.2 18.7 -1.1 18.7 -.8 18.7 -1.1 18.7 -1.4 18.7 -1.6 18.7 -2.1 18.7 -2.6 18.7 -3 18.7 -3.4 18.7 -3.9 18.6 -4.3 18.7 -4.7 18.7 -4.8 18.7 -4.7 18.7 -4.7 18.7 -4.3 18.7 -3.8 18.7 -3.2 18.7 -2.3 18.7 -1.4 18.7 -.5 18.6 .2 18.7 1 18.7 1.9 18.7 2.4 18.7 2.9 18.7 3.2 18.7 3.3 18.7 3.3 18.7 3.4 18.7 3.5 18.7 3.4 18.7 3.1 18.6 2.7 18.7 2.4 18.7 2.3 18.7 2 18.7 2 18.7 2.2 18.7 2.2 18.7 2.3 18.7 2.1 18.7 2 18.7 1.9 18.6 1.9 18.7 1.9 18.7 1.6 18.7 1.5 18.7 1.2 18.7 .9 18.7 .6 18.7 .4 18.7 .2 18.7 -.2 18.7 -.5 18.7 -.6 18.6 -.6 18.7 -.7 18.7 -.6 18.7 -.6 18.7 -.3 18.7 -.2 18.7 .2 18.7 .5 18.7 .5 18.7 .5 18.7 .9 18.6 1.1 18.7 1.1 18.7 1 18.7 .8 18.7 .5 18.7 .4 18.7 0 18.7 -.2 18.7 -.5 18.7 -.7 18.7 -.8 18.7 -.9 18.6 -.9 18.7 -.8 18.7 -.8 18.7 -.5 18.7 -.3 18.7 .1 18.7 .4 18.7 .7 18.7 .6 18.7 1 18.7 1.4 18.6 1.6M-56.9 522.1l18.5 .5 18.5 .7 18.6 .4 18.5 .2 18.6 0 18.5 -.2 18.6 -.5 18.5 -.9 18.5 -1.1 18.6 -1.3 18.5 -1.8 18.6 -2 18.5 -1.7 18.6 -1.8 18.5 -1.8 18.5 -1.6 18.6 -1.2 18.5 -1.2 18.6 -1.1 18.5 -.6 18.6 -1 18.5 -1.2 18.5 -1.2 18.6 -1.7 18.5 -2.1 18.6 -2.4 18.5 -2.8 18.6 -3.2 18.5 -3.6 18.5 -3.9 18.6 -4.2 18.5 -4.2 18.6 -4.1 18.5 -4 18.6 -3.6 18.5 -3.1 18.5 -2.4 18.6 -1.6 18.5 -.8 18.6 -.1 18.5 .5 18.6 1.4 18.5 2 18.5 2.3 18.6 2.8 18.5 2.9 18.6 2.9 18.5 3.1 18.6 3.4 18.5 3.3 18.5 3 18.6 2.6 18.5 2.3 18.6 2.1 18.5 1.9 18.6 1.8 18.5 2 18.5 2 18.6 2.1 18.5 1.9 18.6 1.8 18.5 1.7 18.6 1.7 18.5 1.6 18.5 1.6 18.6 1.3 18.5 1.2 18.6 .9 18.5 .7 18.6 .5 18.5 .3 18.5 -.1 18.6 -.5 18.5 -.6 18.6 -.8 18.5 -.8 18.6 -.9 18.5 -.9 18.5 -.7 18.6 -.5 18.5 -.2 18.6 .1 18.5 .2 18.6 .2 18.5 .7 18.5 1.1 18.6 1.1 18.5 1.2 18.6 1.1 18.5 .9 18.6 .8 18.5 .5 18.5 .3 18.6 0 18.5 -.2 18.6 -.4 18.5 -.5 18.6 -.6 18.5 -.7 18.5 -.7 18.6 -.5 18.5 -.3 18.6 -.1 18.5 .2 18.6 .6 18.5 .4 18.5 .9 18.6 1.4 18.5 1.6M-48.6 507.7l18.4 .3 18.4 .8 18.4 .4 18.4 .3 18.4 .2 18.4 .1 18.4 -.3 18.4 -.5 18.4 -.8 18.4 -.9 18.4 -1.6 18.4 -1.9 18.4 -1.4 18.4 -1.7 18.4 -1.7 18.3 -1.5 18.4 -1.1 18.4 -.9 18.4 -1 18.4 -.3 18.4 -.6 18.4 -.8 18.4 -.7 18.4 -1.1 18.4 -1.4 18.4 -1.5 18.4 -1.8 18.4 -2 18.4 -2.5 18.4 -2.9 18.4 -3 18.4 -3.2 18.4 -3.3 18.4 -3.3 18.4 -3.2 18.4 -2.8 18.4 -2.3 18.4 -1.8 18.4 -1.1 18.4 -.8 18.4 -.1 18.4 .5 18.4 1.1 18.3 1.4 18.4 2 18.4 1.9 18.4 2 18.4 2.5 18.4 2.8 18.4 2.9 18.4 2.6 18.4 2.2 18.4 2 18.4 1.8 18.4 1.6 18.4 1.6 18.4 1.9 18.4 1.9 18.4 1.9 18.4 1.8 18.4 1.5 18.4 1.5 18.4 1.5 18.4 1.5 18.4 1.4 18.4 1.3 18.4 1.1 18.4 .9 18.4 .8 18.4 .6 18.3 .5 18.4 0 18.4 -.3 18.4 -.6 18.4 -.7 18.4 -.9 18.4 -1 18.4 -1 18.4 -1 18.4 -.8 18.4 -.6 18.4 -.2 18.4 -.2 18.4 -.3 18.4 .5 18.4 .9 18.4 1.1 18.4 1.1 18.4 1.2 18.4 1.2 18.4 1 18.4 .9 18.4 .7 18.4 .5 18.4 .2 18.4 0 18.4 -.2 18.4 -.3 18.3 -.5 18.4 -.6 18.4 -.6 18.4 -.4 18.4 -.3 18.4 0 18.4 .3 18.4 .1 18.4 .5 18.4 1.2 18.4 1.5 18.4 1.6M-58.6 494.1l18.3 -.1 18.2 .2 18.3 .7 18.2 .4 18.3 .3 18.2 .3 18.3 .3 18.2 0 18.3 -.2 18.2 -.5 18.3 -.6 18.2 -1.4 18.3 -1.6 18.2 -1.2 18.3 -1.5 18.2 -1.5 18.3 -1.2 18.2 -.8 18.3 -.7 18.2 -.7 18.3 .2 18.2 -.2 18.3 -.2 18.2 0 18.3 -.4 18.3 -.5 18.2 -.4 18.3 -.6 18.2 -.8 18.3 -1.1 18.2 -1.5 18.3 -1.7 18.2 -1.9 18.3 -2.2 18.2 -2.4 18.3 -2.5 18.2 -2.5 18.3 -2.2 18.2 -1.8 18.3 -1.6 18.2 -1.4 18.3 -1.1 18.2 -.6 18.3 0 18.2 .1 18.3 .6 18.2 .6 18.3 .8 18.2 1.3 18.3 2 18.2 2.2 18.3 2 18.2 1.7 18.3 1.5 18.2 1.5 18.3 1.3 18.2 1.3 18.3 1.8 18.3 1.9 18.2 1.8 18.3 1.7 18.2 1.4 18.3 1.3 18.2 1.4 18.3 1.3 18.2 1.4 18.3 1.3 18.2 1.1 18.3 .9 18.2 .8 18.3 .9 18.2 .7 18.3 .3 18.2 -.2 18.3 -.3 18.2 -.5 18.3 -.8 18.2 -1 18.3 -1.1 18.2 -1.1 18.3 -1 18.2 -.8 18.3 -.5 18.2 -.6 18.3 -.8 18.2 .2 18.3 .7 18.2 .8 18.3 1.1 18.2 1.1 18.3 1.2 18.3 1.2 18.2 1.1 18.3 .9 18.2 .8 18.3 .6 18.2 .3 18.3 .1 18.2 0 18.3 -.4 18.2 -.5 18.3 -.6 18.2 -.6 18.3 -.5 18.2 -.3 18.3 -.1 18.2 -.4 18.3 0 18.2 .9 18.3 1.2 18.2 1.3M-50.3 482.0l18.1 -.3 18.1 0 18.1 .7 18.1 .4 18.2 .2 18.1 .4 18.1 .4 18.1 .2 18.1 -.1 18.1 -.2 18.1 -.3 18.1 -1.2 18.1 -1.5 18.1 -.8 18.1 -1.3 18.1 -1.3 18.2 -1 18.1 -.4 18.1 -.4 18.1 -.4 18.1 .7 18.1 .2 18.1 .2 18.1 .6 18.1 .2 18.1 .2 18.1 .4 18.1 .5 18.2 .3 18.1 0 18.1 -.3 18.1 -.5 18.1 -.7 18.1 -1.2 18.1 -1.6 18.1 -1.8 18.1 -2.1 18.1 -2 18.1 -1.9 18.1 -1.9 18.2 -2.1 18.1 -1.9 18.1 -1.6 18.1 -1.2 18.1 -1.2 18.1 -.7 18.1 -.7 18.1 -.6 18.1 .2 18.1 1 18.1 1.5 18.1 1.4 18.2 1.1 18.1 1.1 18.1 1.2 18.1 1 18.1 1.2 18.1 1.7 18.1 2 18.1 2 18.1 1.8 18.1 1.3 18.1 1.3 18.2 1.3 18.1 1.4 18.1 1.3 18.1 1.3 18.1 1.2 18.1 1 18.1 1 18.1 1.1 18.1 1.1 18.1 .5 18.1 .1 18.1 0 18.2 -.2 18.1 -.5 18.1 -.8 18.1 -1 18.1 -1.1 18.1 -1 18.1 -.9 18.1 -.7 18.1 -.9 18.1 -1.3 18.1 -.2 18.1 .4 18.2 .6 18.1 .8 18.1 1 18.1 1.1 18.1 1.1 18.1 1.2 18.1 1 18.1 1 18.1 .8 18.1 .6 18.1 .4 18.1 .1 18.2 -.1 18.1 -.5 18.1 -.7 18.1 -.7 18.1 -.7 18.1 -.6 18.1 -.5 18.1 -1.1 18.1 -.5 18.1 .4 18.1 .7 18.1 .9 18.2 1.1M-42.1 471.5l18 -.5 18 -.1 17.9 .8 18 .3 18 .2 17.9 .4 18 .5 18 .3 17.9 0 18 -.1 18 0 17.9 -1.2 18 -1.3 18 -.6 17.9 -1.1 18 -1.1 18 -.7 17.9 -.2 18 -.1 18 -.2 17.9 1.2 18 .5 18 .4 17.9 .9 18 .5 18 .5 17.9 .9 18 1 18 1 17.9 .7 18 .5 18 .2 17.9 0 18 -.4 18 -1 17.9 -1.4 18 -1.7 18 -1.9 17.9 -1.9 18 -2.1 18 -2.5 17.9 -2.6 18 -2.3 18 -2.1 17.9 -2.3 18 -1.6 18 -1.9 17.9 -1.8 18 -.7 18 .3 17.9 .9 18 .9 18 .7 17.9 .7 18 .9 18 .9 17.9 1.1 18 1.9 18 2.3 17.9 2.2 18 2 18 1.5 17.9 1.3 18 1.4 18 1.5 17.9 1.4 18 1.4 18 1.3 17.9 1.1 18 1.2 18 1.4 17.9 1.4 18 .9 18 .5 17.9 .4 18 .1 18 -.1 17.9 -.5 18 -.7 18 -.9 17.9 -1 18 -.9 18 -.7 17.9 -1.1 18 -1.7 18 -.5 17.9 .2 18 .3 18 .5 17.9 .7 18 .9 18 1 17.9 1 18 1.1 18 1 17.9 .9 18 .8 18 .6 17.9 .3 18 0 18 -.4 17.9 -.7 18 -.9 18 -.9 17.9 -.9 18 -.8 18 -1.7 17.9 -1.1 18 -.2 18 .3 17.9 .4 18 .6M-51.8 463.0l17.8 -.6 17.9 -.6 17.8 0 17.8 .9 17.8 .4 17.9 .1 17.8 .5 17.8 .5 17.8 .3 17.9 .1 17.8 .1 17.8 .1 17.9 -1.2 17.8 -1.4 17.8 -.3 17.8 -.9 17.9 -1 17.8 -.6 17.8 .2 17.8 .1 17.9 -.1 17.8 1.6 17.8 .6 17.9 .5 17.8 1 17.8 .4 17.8 .5 17.9 .9 17.8 1.2 17.8 1.1 17.8 1 17.9 .7 17.8 .5 17.8 .4 17.9 -.1 17.8 -.7 17.8 -1.2 17.8 -1.5 17.9 -1.8 17.8 -1.8 17.8 -2.2 17.8 -2.7 17.9 -3 17.8 -2.8 17.8 -2.7 17.8 -2.9 17.9 -2.4 17.8 -2.8 17.8 -2.6 17.9 -1.4 17.8 -.2 17.8 .5 17.8 .6 17.9 .3 17.8 .4 17.8 .8 17.8 .7 17.9 1.1 17.8 2.2 17.8 2.6 17.9 2.6 17.8 2.3 17.8 1.7 17.8 1.5 17.9 1.6 17.8 1.6 17.8 1.7 17.8 1.5 17.9 1.4 17.8 1.3 17.8 1.3 17.9 1.8 17.8 1.8 17.8 1.3 17.8 .8 17.9 .8 17.8 .6 17.8 .3 17.8 -.1 17.9 -.4 17.8 -.7 17.8 -.7 17.8 -.7 17.9 -.6 17.8 -1.2 17.8 -2.1 17.9 -.7 17.8 -.1 17.8 .1 17.8 .3 17.9 .4 17.8 .6 17.8 .7 17.8 .8 17.9 1 17.8 .9 17.8 .9 17.9 .9 17.8 .7 17.8 .5 17.8 .1 17.9 -.4 17.8 -.6 17.8 -.9 17.8 -1.1 17.9 -1 17.8 -1.1 17.8 -2.3 17.9 -1.7 17.8 -.6 17.8 -.2 17.8 -.1 17.9 .1M-43.6 454.7l17.6 -.5 17.7 -.5 17.7 .1 17.7 1.3 17.7 .5 17.7 .2 17.7 .6 17.7 .6 17.7 .3 17.6 .1 17.7 .1 17.7 .2 17.7 -1.3 17.7 -1.5 17.7 -.2 17.7 -.8 17.7 -.9 17.7 -.4 17.6 .4 17.7 .4 17.7 .1 17.7 2 17.7 .7 17.7 .4 17.7 1 17.7 .2 17.7 .3 17.6 .7 17.7 .9 17.7 1 17.7 .8 17.7 .5 17.7 .5 17.7 .3 17.7 0 17.7 -.7 17.6 -1.2 17.7 -1.5 17.7 -1.7 17.7 -1.7 17.7 -2.1 17.7 -2.9 17.7 -3.2 17.7 -3 17.7 -2.9 17.6 -3.4 17.7 -2.7 17.7 -3.4 17.7 -3.3 17.7 -2 17.7 -.5 17.7 .4 17.7 .3 17.7 0 17.6 .1 17.7 .6 17.7 .6 17.7 1.1 17.7 2.4 17.7 2.9 17.7 3.1 17.7 2.6 17.7 2 17.6 1.7 17.7 1.8 17.7 1.9 17.7 1.8 17.7 1.7 17.7 1.6 17.7 1.4 17.7 1.5 17.7 2.1 17.6 2.2 17.7 1.6 17.7 1.1 17.7 1.2 17.7 1 17.7 .6 17.7 .3 17.7 0 17.7 -.3 17.6 -.5 17.7 -.5 17.7 -.3 17.7 -1.3 17.7 -2.4 17.7 -.8 17.7 -.2 17.7 -.1 17.7 0 17.6 .1 17.7 .3 17.7 .4 17.7 .6 17.7 .7 17.7 .7 17.7 .9 17.7 .8 17.7 .8 17.6 .6 17.7 .2 17.7 -.2 17.7 -.6 17.7 -.9 17.7 -1 17.7 -1.2 17.7 -1.2 17.7 -2.8 17.6 -2.1 17.7 -.9 17.7 -.6 17.7 -.5 17.7 -.3 17.7 1.5M-53.1 446.8l17.5 -.2 17.6 -.2 17.5 -.3 17.6 .4 17.5 1.7 17.6 .8 17.5 .3 17.6 .8 17.5 .7 17.6 .4 17.5 .1 17.6 .1 17.5 .3 17.6 -1.6 17.5 -1.6 17.6 -.1 17.6 -.9 17.5 -.8 17.6 -.2 17.5 .7 17.6 .7 17.5 .2 17.6 2.5 17.5 .8 17.6 .5 17.5 1 17.6 -.1 17.5 0 17.6 .3 17.5 .7 17.6 .6 17.5 .5 17.6 .2 17.5 .1 17.6 .2 17.5 -.3 17.6 -.9 17.6 -1.3 17.5 -1.6 17.6 -1.6 17.5 -1.7 17.6 -1.9 17.5 -2.9 17.6 -3.3 17.5 -3 17.6 -3 17.5 -3.6 17.6 -2.9 17.5 -3.9 17.6 -3.8 17.5 -2.4 17.6 -.7 17.5 .3 17.6 .1 17.5 -.3 17.6 -.1 17.5 .3 17.6 .3 17.5 1 17.6 2.6 17.6 3.3 17.5 3.4 17.6 3 17.5 2.1 17.6 2 17.5 2 17.6 2 17.5 2.1 17.6 1.9 17.5 1.7 17.6 1.5 17.5 1.6 17.6 2.4 17.5 2.5 17.6 1.8 17.5 1.3 17.6 1.5 17.5 1.3 17.6 1 17.5 .6 17.6 .2 17.5 0 17.6 -.2 17.6 -.2 17.5 -.1 17.6 -1.3 17.5 -2.7 17.6 -.8 17.5 -.3 17.6 -.2 17.5 -.2 17.6 -.2 17.5 0 17.6 0 17.5 .3 17.6 .4 17.5 .5 17.6 .7 17.5 .8 17.6 .8 17.5 .6 17.6 .3 17.5 -.1 17.6 -.5 17.6 -.8 17.5 -1 17.6 -1 17.5 -1.2 17.6 -3.2 17.5 -2.4 17.6 -1 17.5 -.7 17.6 -.8 17.5 -.6 17.6 1.5M-45.0 438.1l17.4 .2 17.4 .1 17.4 0 17.4 .8 17.5 2.3 17.4 1.1 17.4 .5 17.4 1 17.4 1 17.4 .4 17.5 .1 17.4 .1 17.4 .2 17.4 -1.8 17.4 -2 17.4 0 17.5 -.9 17.4 -.9 17.4 0 17.4 1.1 17.4 1 17.4 .5 17.5 3 17.4 1.1 17.4 .6 17.4 1.2 17.4 -.2 17.5 -.3 17.4 .1 17.4 .4 17.4 .3 17.4 .1 17.4 -.2 17.5 -.1 17.4 -.2 17.4 -.5 17.4 -1.1 17.4 -1.4 17.4 -1.7 17.5 -1.7 17.4 -1.4 17.4 -1.7 17.4 -2.7 17.4 -3.2 17.4 -2.8 17.5 -2.8 17.4 -3.7 17.4 -2.8 17.4 -4.1 17.4 -4.2 17.4 -2.6 17.5 -.7 17.4 .3 17.4 0 17.4 -.6 17.4 -.6 17.4 0 17.5 0 17.4 .7 17.4 2.6 17.4 3.5 17.4 3.6 17.5 3.2 17.4 2.1 17.4 2 17.4 2.1 17.4 2.1 17.4 2.1 17.5 2 17.4 1.7 17.4 1.5 17.4 1.6 17.4 2.6 17.4 2.6 17.5 2 17.4 1.3 17.4 1.6 17.4 1.5 17.4 1.1 17.4 .8 17.5 .4 17.4 .1 17.4 0 17.4 0 17.4 0 17.4 -1.2 17.5 -3.1 17.4 -.9 17.4 -.2 17.4 -.3 17.4 -.4 17.4 -.5 17.5 -.3 17.4 -.3 17.4 -.1 17.4 .1 17.4 .2 17.5 .5 17.4 .6 17.4 .7 17.4 .7 17.4 .3 17.4 -.1 17.5 -.4 17.4 -.6 17.4 -.8 17.4 -.9 17.4 -1.1 17.4 -3.3 17.5 -2.6 17.4 -.9 17.4 -.6 17.4 -.8 17.4 -.7 17.4 1.7 17.5 1.3M-54.3 428.6l17.3 .4 17.3 .5 17.2 .4 17.3 .3 17.3 1.2 17.3 2.9 17.3 1.6 17.3 .7 17.2 1.3 17.3 1.2 17.3 .5 17.3 .1 17.3 0 17.3 .2 17.2 -2.2 17.3 -2.3 17.3 -.1 17.3 -1 17.3 -.9 17.3 0 17.3 1.5 17.2 1.3 17.3 .8 17.3 3.8 17.3 1.6 17.3 .8 17.3 1.5 17.2 -.2 17.3 -.4 17.3 0 17.3 .3 17.3 .2 17.3 -.1 17.2 -.5 17.3 -.4 17.3 -.4 17.3 -.7 17.3 -1.2 17.3 -1.7 17.2 -1.6 17.3 -1.6 17.3 -1.1 17.3 -1.4 17.3 -2.4 17.3 -2.8 17.2 -2.5 17.3 -2.3 17.3 -3.4 17.3 -2.6 17.3 -4 17.3 -4.3 17.2 -2.6 17.3 -.6 17.3 .4 17.3 0 17.3 -.9 17.3 -1 17.2 -.4 17.3 -.6 17.3 .3 17.3 2.5 17.3 3.4 17.3 3.7 17.3 3.1 17.2 2 17.3 1.8 17.3 1.9 17.3 2 17.3 2 17.3 1.9 17.2 1.6 17.3 1.3 17.3 1.5 17.3 2.5 17.3 2.7 17.3 1.9 17.2 1.2 17.3 1.5 17.3 1.5 17.3 1.1 17.3 .7 17.3 .4 17.2 .1 17.3 0 17.3 0 17.3 .2 17.3 -1.3 17.3 -3.5 17.2 -.9 17.3 -.2 17.3 -.5 17.3 -.5 17.3 -.7 17.3 -.6 17.2 -.6 17.3 -.5 17.3 -.3 17.3 -.1 17.3 .1 17.3 .4 17.2 .6 17.3 .6 17.3 .3 17.3 -.1 17.3 -.3 17.3 -.5 17.3 -.6 17.2 -.7 17.3 -.7 17.3 -3.5 17.3 -2.5 17.3 -.7 17.3 -.3 17.2 -.7 17.3 -.5 17.3 2.2 17.3 1.5M-46.3 418.9l17.2 .7 17.1 .6 17.2 .6 17.2 .6 17.1 1.6 17.2 3.5 17.1 2 17.2 .9 17.1 1.6 17.2 1.4 17.1 .6 17.2 .1 17.1 -.1 17.2 .2 17.1 -2.7 17.2 -2.8 17.1 -.1 17.2 -1.2 17.1 -1.1 17.2 .1 17.1 1.8 17.2 1.7 17.1 1.1 17.2 4.7 17.1 2 17.2 1.2 17.1 1.9 17.2 -.1 17.1 -.3 17.2 .2 17.1 .3 17.2 .2 17.2 -.2 17.1 -.6 17.2 -.6 17.1 -.5 17.2 -.9 17.1 -1.4 17.2 -1.7 17.1 -1.7 17.2 -1.4 17.1 -.9 17.2 -.9 17.1 -2.1 17.2 -2.5 17.1 -2 17.2 -1.8 17.1 -3 17.2 -2.1 17.1 -4 17.2 -4.2 17.1 -2.5 17.2 -.3 17.1 .8 17.2 0 17.1 -1.1 17.2 -1.3 17.1 -.9 17.2 -1.1 17.1 -.2 17.2 2.3 17.2 3.3 17.1 3.7 17.2 2.9 17.1 1.7 17.2 1.5 17.1 1.7 17.2 1.8 17.1 1.9 17.2 1.7 17.1 1.4 17.2 1.1 17.1 1.2 17.2 2.5 17.1 2.7 17.2 1.7 17.1 1 17.2 1.3 17.1 1.3 17.2 1 17.1 .5 17.2 .2 17.1 -.1 17.2 -.1 17.1 0 17.2 .2 17.1 -1.6 17.2 -4 17.1 -1 17.2 -.3 17.2 -.4 17.1 -.8 17.2 -.8 17.1 -.9 17.2 -1 17.1 -.8 17.2 -.7 17.1 -.4 17.2 -.2 17.1 .1 17.2 .3 17.1 .5 17.2 .2 17.1 -.1 17.2 -.4 17.1 -.4 17.2 -.5 17.1 -.4 17.2 -.5 17.1 -3.5 17.2 -2.4 17.1 -.2 17.2 .1 17.1 -.3 17.2 -.3 17.1 2.9 17.2 2 17.1 -.7M-55.3 408.8l17 .6 17 .7 17 .7 17.1 .7 17 .7 17 1.8 17 4.2 17.1 2.3 17 1.1 17 1.8 17 1.6 17 .7 17.1 0 17 -.2 17 .1 17 -3.2 17 -3.3 17.1 -.3 17 -1.5 17 -1.3 17 .1 17 2 17.1 2.1 17 1.5 17 5.4 17 2.5 17.1 1.7 17 2.4 17 .2 17 -.1 17 .4 17.1 .5 17 .4 17 -.2 17 -.7 17 -.6 17.1 -.6 17 -1 17 -1.5 17 -1.9 17.1 -1.8 17 -1.4 17 -.6 17 -.6 17 -1.8 17.1 -2.2 17 -1.6 17 -1.3 17 -2.7 17 -1.7 17.1 -3.7 17 -4.2 17 -2.3 17 .2 17.1 1.2 17 .2 17 -1.2 17 -1.6 17 -1.1 17.1 -1.6 17 -.7 17 2.1 17 3.3 17 3.7 17.1 2.8 17 1.4 17 1.2 17 1.5 17 1.6 17.1 1.7 17 1.6 17 1.3 17 .9 17.1 1 17 2.5 17 2.7 17 1.6 17 .7 17.1 1.1 17 1.1 17 .7 17 .2 17 -.1 17.1 -.3 17 -.4 17 -.2 17 .1 17.1 -1.9 17 -4.6 17 -1.3 17 -.2 17 -.6 17.1 -.8 17 -1.1 17 -1.2 17 -1.2 17 -1.2 17.1 -1 17 -.8 17 -.5 17 -.2 17.1 .1 17 .3 17 -.1 17 -.2 17 -.5 17.1 -.4 17 -.4 17 -.3 17 -.2 17 -3.6 17.1 -2.3 17 .2 17 .6 17 .2 17 .2 17.1 3.7 17 2.7 17 -.6M-47.3 399.9l16.9 .5 16.9 .6 16.9 .6 16.8 .7 16.9 .7 16.9 2 16.9 4.5 16.9 2.6 16.9 1.2 16.9 2 16.9 1.8 16.9 .7 16.9 -.1 16.9 -.3 16.9 0 16.9 -3.8 16.8 -4 16.9 -.5 16.9 -1.8 16.9 -1.6 16.9 0 16.9 2.3 16.9 2.3 16.9 1.7 16.9 6.3 16.9 3 16.9 2.1 16.9 3 16.9 .5 16.8 .1 16.9 .7 16.9 .9 16.9 .6 16.9 -.1 16.9 -.6 16.9 -.7 16.9 -.6 16.9 -1 16.9 -1.7 16.9 -2.1 16.9 -1.9 16.9 -1.4 16.8 -.5 16.9 -.5 16.9 -1.7 16.9 -2 16.9 -1.3 16.9 -.9 16.9 -2.4 16.9 -1.3 16.9 -3.5 16.9 -4.2 16.9 -2 16.9 .7 16.9 1.8 16.8 .5 16.9 -1.2 16.9 -1.7 16.9 -1.4 16.9 -2 16.9 -.9 16.9 2 16.9 3.4 16.9 3.7 16.9 2.8 16.9 1.2 16.9 .9 16.9 1.3 16.8 1.6 16.9 1.6 16.9 1.5 16.9 1.1 16.9 .8 16.9 1 16.9 2.5 16.9 2.8 16.9 1.5 16.9 .5 16.9 .9 16.9 .9 16.9 .5 16.8 -.1 16.9 -.5 16.9 -.6 16.9 -.7 16.9 -.5 16.9 -.1 16.9 -2.3 16.9 -5.2 16.9 -1.5 16.9 -.4 16.9 -.6 16.9 -1 16.9 -1.2 16.8 -1.4 16.9 -1.5 16.9 -1.4 16.9 -1.4 16.9 -1.1 16.9 -.9 16.9 -.5 16.9 -.1 16.9 0 16.9 -.2 16.9 -.5 16.9 -.7 16.9 -.6 16.8 -.4 16.9 -.1 16.9 0 16.9 -3.9 16.9 -2.2 16.9 .7 16.9 1.1 16.9 .6 16.9 .7 16.9 4.6 16.9 3.4 16.9 -.3 16.9 -.2M-56.2 391.7l16.8 .2 16.7 .3 16.8 .3 16.8 .5 16.7 .5 16.8 .6 16.8 2 16.7 4.9 16.8 2.7 16.8 1.3 16.7 2.1 16.8 1.9 16.8 .7 16.7 -.3 16.8 -.5 16.8 -.1 16.7 -4.4 16.8 -4.6 16.7 -.7 16.8 -2.2 16.8 -2 16.7 -.1 16.8 2.4 16.8 2.6 16.7 1.8 16.8 7.1 16.8 3.4 16.7 2.4 16.8 3.6 16.8 .7 16.7 .4 16.8 1.1 16.8 1.2 16.7 .9 16.8 .2 16.8 -.6 16.7 -.6 16.8 -.5 16.7 -1.1 16.8 -1.9 16.8 -2.3 16.7 -2.1 16.8 -1.5 16.8 -.5 16.7 -.4 16.8 -1.7 16.8 -2 16.7 -1.1 16.8 -.6 16.8 -2.3 16.7 -.9 16.8 -3.5 16.8 -4.1 16.7 -1.8 16.8 1.3 16.7 2.3 16.8 .9 16.8 -1.1 16.7 -1.7 16.8 -1.5 16.8 -2.2 16.7 -1.1 16.8 2.1 16.8 3.5 16.7 3.9 16.8 2.8 16.8 1 16.7 .8 16.8 1.2 16.8 1.5 16.7 1.6 16.8 1.4 16.7 1.2 16.8 .7 16.8 .9 16.7 2.7 16.8 3 16.8 1.5 16.7 .3 16.8 .9 16.8 .8 16.7 .2 16.8 -.4 16.8 -.7 16.7 -1.1 16.8 -1 16.8 -.7 16.7 -.3 16.8 -2.7 16.7 -6 16.8 -1.7 16.8 -.4 16.7 -.8 16.8 -1.1 16.8 -1.4 16.7 -1.5 16.8 -1.7 16.8 -1.6 16.7 -1.6 16.8 -1.4 16.8 -1.1 16.7 -.8 16.8 -.4 16.8 -.2 16.7 -.5 16.8 -.8 16.8 -.8 16.7 -.8 16.8 -.6 16.7 -.1 16.8 0 16.8 -4.1 16.7 -2.3 16.8 1.1 16.8 1.6 16.7 1 16.8 1.2 16.8 5.4 16.7 4.2 16.8 -.1 16.8 0M-48.2 384.7l16.6 -.1 16.6 .1 16.7 .1 16.6 .3 16.7 .3 16.6 .3 16.6 2 16.7 5.2 16.6 2.8 16.6 1.2 16.7 2.2 16.6 1.9 16.7 .6 16.6 -.4 16.6 -.6 16.7 -.3 16.6 -4.9 16.7 -5.2 16.6 -1 16.6 -2.6 16.7 -2.4 16.6 -.2 16.7 2.5 16.6 2.7 16.6 1.9 16.7 7.7 16.6 3.8 16.6 2.7 16.7 4 16.6 1.1 16.7 .6 16.6 1.3 16.6 1.6 16.7 1.3 16.6 .4 16.7 -.5 16.6 -.5 16.6 -.4 16.7 -1.1 16.6 -2.1 16.6 -2.4 16.7 -2.4 16.6 -1.7 16.7 -.5 16.6 -.4 16.6 -1.8 16.7 -2.1 16.6 -1.1 16.7 -.5 16.6 -2.3 16.6 -.7 16.7 -3.4 16.6 -4.2 16.7 -1.5 16.6 1.7 16.6 3 16.7 1.3 16.6 -.9 16.6 -1.7 16.7 -1.5 16.6 -2.3 16.7 -1.2 16.6 2.2 16.6 3.8 16.7 4.1 16.6 2.9 16.7 .9 16.6 .6 16.6 1.2 16.7 1.4 16.6 1.6 16.6 1.5 16.7 1.1 16.6 .7 16.7 1 16.6 2.8 16.6 3.3 16.7 1.5 16.6 .3 16.7 .8 16.6 .8 16.6 .1 16.7 -.6 16.6 -1 16.7 -1.3 16.6 -1.3 16.6 -1 16.7 -.5 16.6 -3.1 16.6 -6.6 16.7 -2 16.6 -.5 16.7 -.8 16.6 -1.2 16.6 -1.4 16.7 -1.7 16.6 -1.8 16.7 -1.8 16.6 -1.7 16.6 -1.5 16.7 -1.3 16.6 -1 16.6 -.5 16.7 -.4 16.6 -.8 16.7 -1 16.6 -1.2 16.6 -1 16.7 -.8 16.6 -.2 16.7 0 16.6 -4.5 16.6 -2.4 16.7 1.3 16.6 2 16.7 1.4 16.6 1.5 16.6 6.2 16.7 4.9 16.6 .2 16.6 .3M-56.9 378.4l16.5 -.2 16.5 -.2 16.5 -.2 16.6 -.1 16.5 0 16.5 .1 16.5 .1 16.5 1.9 16.5 5.4 16.5 2.8 16.6 1.2 16.5 2.2 16.5 1.9 16.5 .5 16.5 -.5 16.5 -.8 16.5 -.4 16.6 -5.4 16.5 -5.7 16.5 -1.2 16.5 -2.9 16.5 -2.7 16.5 -.5 16.5 2.6 16.6 2.8 16.5 2 16.5 8.2 16.5 4.1 16.5 2.9 16.5 4.4 16.5 1.2 16.6 .8 16.5 1.7 16.5 1.9 16.5 1.5 16.5 .6 16.5 -.2 16.5 -.4 16.5 -.4 16.6 -1.1 16.5 -2.1 16.5 -2.7 16.5 -2.6 16.5 -1.8 16.5 -.6 16.5 -.5 16.6 -2 16.5 -2.4 16.5 -1.1 16.5 -.5 16.5 -2.3 16.5 -.6 16.5 -3.6 16.6 -4.2 16.5 -1.4 16.5 2.2 16.5 3.4 16.5 1.7 16.5 -.7 16.5 -1.6 16.6 -1.4 16.5 -2.4 16.5 -1.3 16.5 2.5 16.5 4 16.5 4.3 16.5 3.1 16.6 .8 16.5 .5 16.5 1.1 16.5 1.4 16.5 1.5 16.5 1.5 16.5 1.2 16.6 .7 16.5 1 16.5 3.1 16.5 3.5 16.5 1.6 16.5 .4 16.5 .8 16.6 .8 16.5 .1 16.5 -.7 16.5 -1.2 16.5 -1.5 16.5 -1.5 16.5 -1.2 16.6 -.6 16.5 -3.4 16.5 -7.2 16.5 -2.2 16.5 -.5 16.5 -.9 16.5 -1.2 16.5 -1.5 16.6 -1.7 16.5 -1.8 16.5 -1.9 16.5 -1.8 16.5 -1.6 16.5 -1.4 16.5 -1 16.6 -.7 16.5 -.5 16.5 -.9 16.5 -1.3 16.5 -1.4 16.5 -1.3 16.5 -.9 16.6 -.4 16.5 -.1 16.5 -4.9 16.5 -2.6 16.5 1.5 16.5 2.2 16.5 1.6 16.6 1.8 16.5 7 16.5 5.4 16.5 .4 16.5 .5 16.5 .7M-49.0 372.1l16.4 -.3 16.4 -.3 16.4 -.3 16.4 -.2 16.3 -.2 16.4 -.2 16.4 -.1 16.4 1.8 16.4 5.6 16.4 2.8 16.4 1 16.4 2.3 16.4 1.9 16.4 .5 16.4 -.6 16.3 -1 16.4 -.5 16.4 -5.8 16.4 -6.1 16.4 -1.3 16.4 -3.2 16.4 -3 16.4 -.5 16.4 2.6 16.4 2.8 16.4 2.1 16.3 8.7 16.4 4.2 16.4 3.2 16.4 4.6 16.4 1.4 16.4 .9 16.4 1.8 16.4 2.2 16.4 1.8 16.4 .8 16.3 -.2 16.4 -.2 16.4 -.3 16.4 -1.1 16.4 -2.2 16.4 -2.8 16.4 -2.8 16.4 -2 16.4 -.7 16.4 -.7 16.4 -2.2 16.3 -2.5 16.4 -1.3 16.4 -.6 16.4 -2.5 16.4 -.6 16.4 -3.8 16.4 -4.4 16.4 -1.3 16.4 2.5 16.4 3.8 16.4 2 16.3 -.5 16.4 -1.6 16.4 -1.3 16.4 -2.4 16.4 -1.3 16.4 2.7 16.4 4.3 16.4 4.5 16.4 3.2 16.4 .8 16.4 .4 16.3 1 16.4 1.3 16.4 1.5 16.4 1.5 16.4 1.2 16.4 .7 16.4 .9 16.4 3.3 16.4 3.8 16.4 1.8 16.4 .4 16.3 .9 16.4 .9 16.4 .1 16.4 -.6 16.4 -1.3 16.4 -1.6 16.4 -1.6 16.4 -1.3 16.4 -.7 16.4 -3.7 16.4 -7.7 16.3 -2.2 16.4 -.6 16.4 -.9 16.4 -1.2 16.4 -1.5 16.4 -1.7 16.4 -1.8 16.4 -1.8 16.4 -1.8 16.4 -1.6 16.3 -1.4 16.4 -1 16.4 -.7 16.4 -.5 16.4 -1.1 16.4 -1.4 16.4 -1.6 16.4 -1.5 16.4 -1.1 16.4 -.6 16.4 -.2 16.3 -5.3 16.4 -2.8 16.4 1.5 16.4 2.4 16.4 1.8 16.4 1.9 16.4 7.5 16.4 5.9 16.4 .6 16.4 .6 16.4 .9M-57.5 365.8l16.3 -.2 16.3 -.4 16.2 -.3 16.3 -.4 16.3 -.3 16.2 -.3 16.3 -.3 16.3 -.2 16.2 1.7 16.3 5.6 16.3 2.8 16.3 1 16.2 2.2 16.3 2 16.3 .4 16.2 -.7 16.3 -1 16.3 -.5 16.2 -6.1 16.3 -6.4 16.3 -1.4 16.2 -3.4 16.3 -3.1 16.3 -.6 16.2 2.6 16.3 3 16.3 2.1 16.3 9 16.2 4.4 16.3 3.3 16.3 4.8 16.2 1.4 16.3 1 16.3 2 16.2 2.4 16.3 1.9 16.3 1 16.2 0 16.3 -.2 16.3 -.2 16.2 -1.1 16.3 -2.2 16.3 -2.9 16.3 -2.9 16.2 -2.2 16.3 -.8 16.3 -.8 16.2 -2.5 16.3 -2.8 16.3 -1.5 16.2 -.7 16.3 -2.7 16.3 -.7 16.2 -4 16.3 -4.6 16.3 -1.3 16.2 2.6 16.3 4.1 16.3 2.2 16.3 -.4 16.2 -1.5 16.3 -1.3 16.3 -2.4 16.2 -1.3 16.3 2.8 16.3 4.6 16.2 4.7 16.3 3.2 16.3 .8 16.2 .3 16.3 .9 16.3 1.3 16.3 1.5 16.2 1.4 16.3 1.1 16.3 .6 16.2 1 16.3 3.5 16.3 3.9 16.2 1.9 16.3 .5 16.3 1.1 16.2 1 16.3 .2 16.3 -.7 16.2 -1.2 16.3 -1.6 16.3 -1.7 16.3 -1.3 16.2 -.7 16.3 -3.8 16.3 -8 16.2 -2.4 16.3 -.5 16.3 -.9 16.2 -1.1 16.3 -1.5 16.3 -1.7 16.2 -1.7 16.3 -1.8 16.3 -1.7 16.2 -1.5 16.3 -1.3 16.3 -1 16.3 -.6 16.2 -.5 16.3 -1.1 16.3 -1.5 16.2 -1.7 16.3 -1.6 16.3 -1.3 16.2 -.7 16.3 -.3 16.3 -5.7 16.2 -3 16.3 1.5 16.3 2.4 16.2 1.9 16.3 2.1 16.3 7.9 16.3 6.2 16.2 .7 16.3 .7 16.3 1 16.2 1.1M-49.6 358.7l16.1 -.2 16.2 -.2 16.1 -.3 16.2 -.4 16.1 -.4 16.2 -.4 16.1 -.3 16.1 -.3 16.2 1.6 16.1 5.7 16.2 2.8 16.1 1 16.2 2.2 16.1 1.9 16.2 .4 16.1 -.7 16.2 -1 16.1 -.5 16.2 -6.3 16.1 -6.6 16.2 -1.4 16.1 -3.4 16.2 -3.2 16.1 -.6 16.2 2.7 16.1 3.1 16.2 2.1 16.1 9.3 16.2 4.5 16.1 3.3 16.2 5 16.1 1.5 16.2 1 16.1 2.1 16.2 2.5 16.1 2.1 16.1 1.1 16.2 0 16.1 -.1 16.2 -.1 16.1 -1 16.2 -2.3 16.1 -3 16.2 -3 16.1 -2.2 16.2 -1 16.1 -.9 16.2 -2.6 16.1 -3.1 16.2 -1.7 16.1 -.9 16.2 -2.9 16.1 -.9 16.2 -4.2 16.1 -4.8 16.2 -1.5 16.1 2.7 16.2 4.3 16.1 2.3 16.2 -.4 16.1 -1.5 16.2 -1.2 16.1 -2.4 16.2 -1.3 16.1 3 16.1 4.7 16.2 4.8 16.1 3.3 16.2 .7 16.1 .2 16.2 .8 16.1 1.2 16.2 1.4 16.1 1.4 16.2 1 16.1 .6 16.2 1 16.1 3.4 16.2 4.1 16.1 2 16.2 .5 16.1 1.2 16.2 1.1 16.1 .3 16.2 -.5 16.1 -1.2 16.2 -1.6 16.1 -1.6 16.2 -1.3 16.1 -.6 16.2 -3.9 16.1 -8.2 16.2 -2.4 16.1 -.4 16.1 -.9 16.2 -1.1 16.1 -1.4 16.2 -1.6 16.1 -1.7 16.2 -1.7 16.1 -1.6 16.2 -1.4 16.1 -1.2 16.2 -.9 16.1 -.5 16.2 -.4 16.1 -1 16.2 -1.5 16.1 -1.8 16.2 -1.7 16.1 -1.3 16.2 -.8 16.1 -.4 16.2 -5.9 16.1 -3.2 16.2 1.4 16.1 2.5 16.2 1.8 16.1 2.2 16.2 8.1 16.1 6.5 16.2 .7 16.1 .8 16.1 1.1 16.2 1.2M-57.9 351.1l16 0 16 -.1 16.1 -.1 16 -.3 16 -.3 16.1 -.3 16 -.4 16 -.4 16 -.4 16.1 1.7 16 5.7 16 2.8 16.1 .9 16 2.1 16 2 16 .4 16.1 -.7 16 -1 16 -.5 16.1 -6.3 16 -6.6 16 -1.4 16 -3.4 16.1 -3.1 16 -.6 16 2.8 16.1 3.2 16 2.1 16 9.5 16.1 4.5 16 3.4 16 5.1 16 1.5 16.1 1 16 2.2 16 2.5 16.1 2.2 16 1.1 16 .1 16 0 16.1 0 16 -1 16 -2.3 16.1 -3 16 -3 16 -2.3 16 -1 16.1 -1 16 -2.8 16 -3.2 16.1 -1.8 16 -1.1 16 -3.2 16.1 -1.1 16 -4.3 16 -5.1 16 -1.5 16.1 2.6 16 4.3 16 2.3 16.1 -.4 16 -1.5 16 -1.2 16 -2.4 16.1 -1.2 16 3 16 4.8 16.1 4.8 16 3.3 16 .7 16 .2 16.1 .7 16 1.1 16 1.3 16.1 1.2 16 .9 16 .5 16 .9 16.1 3.5 16 4.1 16 2 16.1 .5 16 1.3 16 1.2 16.1 .4 16 -.5 16 -1.1 16 -1.5 16.1 -1.5 16 -1.2 16 -.6 16.1 -3.8 16 -8.3 16 -2.3 16 -.4 16.1 -.8 16 -1.1 16 -1.3 16.1 -1.5 16 -1.6 16 -1.6 16 -1.5 16.1 -1.3 16 -1.1 16 -.7 16.1 -.4 16 -.3 16 -.9 16.1 -1.5 16 -1.7 16 -1.7 16 -1.4 16.1 -.8 16 -.5 16 -6 16.1 -3.4 16 1.4 16 2.4 16 1.9 16.1 2.1 16 8.2 16 6.6 16.1 .8 16 .8 16 1.2 16 1.3 16.1 1M-50.1 343.1l15.9 .1 15.9 0 15.9 -.1 15.9 -.2 15.9 -.2 15.9 -.3 15.9 -.3 16 -.4 15.9 -.3 15.9 1.6 15.9 5.6 15.9 2.8 15.9 .8 15.9 2.2 15.9 1.9 15.9 .4 16 -.7 15.9 -1 15.9 -.5 15.9 -6.1 15.9 -6.5 15.9 -1.3 15.9 -3.3 15.9 -3 15.9 -.5 16 2.9 15.9 3.2 15.9 2.2 15.9 9.5 15.9 4.6 15.9 3.4 15.9 5.1 15.9 1.4 15.9 1.2 16 2.1 15.9 2.5 15.9 2.2 15.9 1.2 15.9 .2 15.9 .1 15.9 0 15.9 -.9 15.9 -2.2 16 -3 15.9 -3 15.9 -2.2 15.9 -1.1 15.9 -1 15.9 -2.9 15.9 -3.3 15.9 -2 15.9 -1.3 16 -3.3 15.9 -1.2 15.9 -4.5 15.9 -5.2 15.9 -1.7 15.9 2.6 15.9 4.1 15.9 2.3 15.9 -.5 16 -1.4 15.9 -1.2 15.9 -2.4 15.9 -1.2 15.9 3 15.9 4.8 15.9 4.8 15.9 3.3 15.9 .6 16 .1 15.9 .6 15.9 1 15.9 1.2 15.9 1.1 15.9 .8 15.9 .3 15.9 .8 15.9 3.4 16 4 15.9 2 15.9 .5 15.9 1.3 15.9 1.2 15.9 .5 15.9 -.4 15.9 -1 15.9 -1.4 16 -1.4 15.9 -1.1 15.9 -.5 15.9 -3.7 15.9 -8.2 15.9 -2.2 15.9 -.4 15.9 -.7 15.9 -1 16 -1.3 15.9 -1.4 15.9 -1.6 15.9 -1.4 15.9 -1.4 15.9 -1.2 15.9 -.9 15.9 -.6 15.9 -.3 16 -.2 15.9 -.8 15.9 -1.4 15.9 -1.6 15.9 -1.7 15.9 -1.3 15.9 -.9 15.9 -.4 15.9 -6.1 16 -3.4 15.9 1.3 15.9 2.4 15.9 1.8 15.9 2 15.9 8.2 15.9 6.5 15.9 .8 15.9 .9 16 1.3 15.9 1.3 15.9 1.1M-98.1 358.7l8.1 -7.9 8 -8.2M-98.2 385.2l8.3 -6.2 8.1 -6.3 8.1 -6.7 7.9 -7.2 7.9 -7.7 7.8 -8M-97.7 417.4l8.3 -9.5 8.3 -8.6 8.2 -7.6 8 -6.9 8 -6.4 7.9 -6.3 7.8 -6.5 7.7 -7.1 7.6 -7.5 7.6 -7.8M-96.7 456.0l8.5 -9 8.3 -9.3 8.3 -9.6 8.2 -9.8 8.1 -9.5 8 -8.9 7.9 -8 7.8 -7.3 7.7 -6.6 7.7 -6.5 7.5 -6.6 7.5 -6.9 7.4 -7.4 7.3 -7.7M-95.1 494.7l8.6 -11.7 8.5 -10.2 8.4 -9.2 8.3 -8.5 8.2 -8.3 8.1 -8.7 8 -9.1 7.9 -9.4 7.8 -9.5 7.8 -9.1 7.6 -8.5 7.6 -7.7 7.5 -7.1 7.4 -6.7 7.3 -6.8 7.2 -7 7.2 -7.2 7 -7.6M-92.8 549.8l8.7 -13.7 8.6 -14.3 8.5 -14.3 8.4 -13.4 8.3 -12.1 8.2 -10.5 8.1 -9.1 8 -8.2 8 -7.8 7.8 -8 7.7 -8.5 7.7 -9.1 7.6 -9.3 7.4 -9.2 7.4 -8.8 7.4 -8.1 7.2 -7.6 7.1 -7.2 7.1 -7 7 -7.1 6.9 -7.3 6.9 -7.5M-98.7 596.2l8.9 -6.7 8.8 -7.4 8.8 -8.8 8.6 -10.4 8.5 -12.1 8.4 -13.7 8.3 -14.5 8.2 -14.6 8.1 -13.8 8 -12.5 8 -10.8 7.8 -9.1 7.7 -8 7.7 -7.3 7.5 -7.3 7.5 -7.8 7.4 -8.4 7.3 -9 7.2 -9 7.2 -8.9 7 -8.4 7 -7.9 6.9 -7.5 6.8 -7.2 6.8 -7.3 6.7 -7.3 6.6 -7.5M-95.0 627.6l9 -9.8 9 -8.7 8.8 -7.7 8.7 -6.8 8.6 -6.5 8.5 -7.1 8.5 -8.2 8.3 -9.9 8.2 -11.7 8.1 -13.2 8 -14.3 7.9 -14.5 7.8 -13.9 7.7 -12.5 7.7 -10.8 7.5 -8.9 7.5 -7.5 7.4 -6.6 7.3 -6.4 7.2 -6.7 7.1 -7.4 7.1 -8 6.9 -8.4 6.9 -8.4 6.8 -8 6.7 -7.7 6.7 -7.3 6.6 -7.2 6.5 -7.2 6.4 -7.3 6.4 -7.6M-99.7 678.2l9.3 -13.8 9.1 -9.9 9.1 -8.2 8.9 -8.7 8.9 -9.8 8.7 -10.1 8.6 -9.5 8.5 -8.3 8.4 -7.3 8.3 -6.8 8.2 -7 8 -7.9 8 -9.4 7.9 -11.1 7.9 -12.7 7.7 -13.8 7.6 -14.2 7.5 -13.8 7.5 -12.5 7.3 -10.8 7.3 -8.9 7.2 -7.3 7.1 -6.3 7 -6 6.9 -6.2 6.9 -6.9 6.8 -7.6 6.7 -8.1 6.6 -8.2 6.6 -8 6.5 -7.7 6.4 -7.4 6.3 -7.3 6.3 -7.2 6.2 -7.5 6.1 -7.6M-94.2 731.3l9.4 -15.3 9.2 -14.7 9.2 -14.3 9 -14.2 8.9 -12.9 8.8 -7.9 8.7 -5.8 8.6 -7.2 8.5 -9.5 8.4 -10.7 8.3 -10.4 8.1 -9.4 8.1 -8.2 8 -7.5 7.9 -7.4 7.7 -7.9 7.7 -9.1 7.6 -10.5 7.5 -12.1 7.5 -13.1 7.3 -13.7 7.2 -13.3 7.2 -12.2 7.1 -10.6 6.9 -8.9 7 -7.2 6.8 -6.1 6.7 -5.7 6.7 -5.9 6.6 -6.6 6.5 -7.3 6.5 -7.9 6.4 -8.1 6.3 -8.1 6.2 -7.8 6.2 -7.4 6.1 -7.3 6 -7.3 5.9 -7.4 5.9 -7.7M-97.3 813.5l9.6 -21 9.5 -19.9 9.4 -18.6 9.2 -17.1 9.1 -15.7 9 -14.7 8.9 -13.7 8.8 -13.4 8.7 -13.1 8.6 -11.5 8.4 -5.3 8.4 -2.9 8.2 -5.3 8.2 -8.9 8 -11.1 7.9 -11.5 7.9 -10.6 7.7 -9.5 7.7 -8.6 7.6 -8.1 7.4 -8.4 7.4 -9.1 7.3 -10.2 7.2 -11.6 7.1 -12.5 7.1 -13 6.9 -12.7 6.9 -11.8 6.8 -10.4 6.7 -8.6 6.6 -7.2 6.6 -6.1 6.5 -5.7 6.4 -6 6.3 -6.7 6.3 -7.5 6.2 -8.1 6.1 -8.5 6 -8.3 6 -8.1 5.9 -7.7 5.9 -7.4 5.8 -7.3 5.7 -7.4 5.7 -7.7M-99.6 915.9l9.9 -21.1 9.7 -22.2 9.6 -23 9.4 -23.2 9.4 -22.7 9.2 -21.9 9.1 -20.6 9 -19 8.9 -17.2 8.7 -15.4 8.6 -14 8.6 -12.9 8.4 -12.1 8.3 -11.8 8.2 -9.9 8.1 -2.2 8 .4 7.9 -2.9 7.8 -7.9 7.7 -11.4 7.6 -12.5 7.6 -11.9 7.4 -10.9 7.3 -9.9 7.3 -9.3 7.1 -9.1 7.1 -9.5 7 -10.3 6.9 -11.3 6.8 -12.1 6.8 -12.4 6.6 -12.2 6.6 -11.3 6.5 -10.1 6.5 -8.5 6.3 -7.2 6.3 -6.3 6.2 -6 6.1 -6.4 6.1 -7.2 6 -8.1 6 -8.8 5.8 -9.2 5.8 -9 5.8 -8.7 5.6 -8.2 5.6 -7.7 5.6 -7.5 5.5 -7.4 5.4 -7.5M-90.8 961.7l9.9 -7.9 9.9 -7.7 9.7 -14.7 9.5 -19.4 9.4 -21.7 9.3 -23.2 9.2 -24.1 9.1 -24.2 8.9 -23.9 8.8 -23 8.7 -21.4 8.6 -19.6 8.5 -17.6 8.4 -15.4 8.2 -13.6 8.2 -12.1 8 -11 8 -10.4 7.8 -8.2 7.8 1 7.6 3.8 7.6 -.4 7.5 -6.8 7.3 -11.3 7.3 -13.2 7.2 -13 7.1 -12.2 7 -11.3 7 -10.5 6.8 -10.2 6.8 -10.2 6.7 -10.7 6.6 -11.3 6.5 -11.9 6.5 -12 6.3 -11.7 6.3 -10.8 6.3 -9.7 6.1 -8.3 6.1 -7.2 6 -6.3 5.9 -6.3 5.9 -6.8 5.8 -7.7 5.8 -8.8 5.6 -9.7 5.6 -10 5.6 -9.9 5.5 -9.4 5.4 -8.7 5.4 -8.1 5.3 -7.7 5.2 -7.4 5.2 -7.3M-90.8 1054.0l10.2 -24.3 10.1 -22.7 9.9 -21.2 9.7 -19.5 9.7 -17.4 9.5 -4.6 9.4 -3.9 9.2 -12.9 9.1 -18.7 9 -21.7 8.9 -23.8 8.8 -24.8 8.6 -25.2 8.5 -24.9 8.4 -24 8.4 -22.4 8.2 -20.3 8.1 -18.1 7.9 -15.7 7.9 -13.5 7.8 -11.6 7.7 -10.1 7.6 -9.4 7.5 -6.6 7.4 3.7 7.3 6.7 7.2 1.8 7.1 -5.5 7.1 -11 6.9 -13.5 6.9 -13.8 6.8 -13.3 6.7 -12.4 6.6 -11.7 6.5 -11.2 6.5 -11 6.4 -11.2 6.3 -11.6 6.2 -11.9 6.2 -11.8 6 -11.3 6 -10.4 6 -9.3 5.9 -8 5.8 -7 5.7 -6.3 5.7 -6.4 5.6 -6.9 5.5 -8.1 5.5 -9.3 5.4 -10.3 5.4 -10.8 5.3 -10.7 5.2 -10 5.2 -9.3 5.1 -8.4 5.1 -7.8 5 -7.3 4.9 -7.1M-89.4 1189.1l10.4 -28.5 10.2 -28.7 10.2 -28.6 9.9 -28.1 9.9 -27.3 9.7 -26 9.5 -24.4 9.5 -22.5 9.3 -20.5 9.2 -17.8 9 -1.8 8.9 -.7 8.8 -10.9 8.7 -17.2 8.6 -21 8.5 -23.7 8.3 -25.2 8.2 -25.7 8.2 -25.5 8 -24.7 7.9 -23.2 7.8 -21.1 7.7 -18.7 7.6 -16.1 7.5 -13.7 7.4 -11.4 7.4 -9.8 7.2 -8.6 7.1 -5.5 7.1 5.4 6.9 8.7 6.9 3.5 6.8 -4.6 6.7 -10.6 6.6 -13.5 6.5 -14.3 6.5 -13.9 6.4 -13.3 6.3 -12.5 6.2 -11.9 6.2 -11.7 6 -11.7 6 -11.8 6 -12 5.8 -11.6 5.8 -10.7 5.8 -9.8 5.6 -8.8 5.6 -7.5 5.5 -6.6 5.5 -5.8 5.4 -5.8 5.4 -6.5 5.2 -7.7 5.2 -9.1 5.2 -10.1 5.1 -10.8 5.1 -10.7 4.9 -10.2 5 -9.3 4.8 -8.5 4.9 -7.7 4.7 -7.2 4.8 -6.9M-45.0 1220.4l10 -28.4 9.9 -29.2 9.8 -29.6 9.6 -29.7 9.5 -29.6 9.3 -28.8 9.2 -27.7 9.1 -25.9 9 -23.9 8.8 -21.6 8.7 -18.3 8.6 -1 8.5 .7 8.4 -8.9 8.2 -15 8.2 -19.5 8 -23 7.9 -24.9 7.9 -25.6 7.7 -25.6 7.6 -25 7.5 -23.6 7.4 -21.6 7.4 -19.2 7.2 -16.7 7.1 -14 7.1 -11.7 6.9 -9.7 6.9 -8.4 6.8 -5.1 6.7 6 6.6 9.3 6.5 4.1 6.4 -4.1 6.4 -10.3 6.3 -13.5 6.2 -14.4 6.1 -14.3 6.1 -13.7 6 -13 5.9 -12.4 5.9 -12 5.7 -11.9 5.7 -12 5.7 -12 5.5 -11.2 5.5 -10.2 5.5 -9.2 5.4 -8.3 5.3 -7.2 5.2 -6.1 5.2 -5.4 5.1 -5.2 5.1 -5.9 5 -7 5 -8.3 4.9 -9.7 4.8 -10.4 4.8 -10.5 4.8 -10 4.7 -9.2 4.6 -8.3 4.6 -7.6 4.5 -7.1 4.5 -6.8M10.0 1225.1l9.5 -28.3 9.4 -29.2 9.2 -30 9.1 -30.5 9 -30.5 8.9 -30 8.7 -29 8.6 -27.3 8.5 -25.1 8.4 -22.7 8.2 -19.3 8.2 -2.4 8 -.2 7.9 -7.6 7.8 -12.1 7.8 -17.3 7.6 -21.7 7.5 -24.1 7.4 -25.1 7.3 -25.1 7.2 -24.7 7.1 -23.5 7.1 -21.7 6.9 -19.6 6.8 -17 6.8 -14.4 6.7 -12.1 6.6 -10.1 6.5 -8.7 6.4 -5.4 6.3 5.3 6.3 8.5 6.2 3.4 6.1 -4.3 6 -10.4 6 -13.5 5.9 -14.5 5.8 -14.4 5.7 -13.8 5.7 -13 5.6 -12.4 5.5 -12 5.5 -11.8 5.4 -11.7 5.4 -11.7 5.2 -10.5 5.2 -9.3 5.2 -8.3 5.1 -7.5 5 -6.7 5 -5.6 4.9 -4.8 4.9 -4.4 4.8 -4.6 4.7 -5.7 4.7 -7.1 4.7 -8.3 4.6 -9.2 4.5 -9.5 4.5 -9.2 4.4 -8.6 4.4 -7.8 4.4 -7.2 4.3 -6.9 4.2 -6.7M65.0 1230.4l9 -27.5 8.8 -28.8 8.8 -29.8 8.6 -30.5 8.4 -31 8.4 -30.6 8.3 -29.9 8.1 -28.4 8 -26.3 7.9 -23.9 7.8 -20.6 7.7 -5.7 7.6 -3.3 7.5 -6.8 7.4 -9 7.2 -14.7 7.2 -20.1 7.1 -22.9 7 -24 6.9 -24.3 6.8 -23.8 6.8 -23 6.6 -21.4 6.6 -19.5 6.4 -17.2 6.4 -14.8 6.3 -12.6 6.2 -10.6 6.2 -9.3 6 -6.2 6 3.4 5.9 6.2 5.9 1.7 5.8 -5.5 5.6 -11 5.7 -13.8 5.5 -14.7 5.5 -14.5 5.4 -13.8 5.4 -12.9 5.3 -12.2 5.2 -11.5 5.2 -11.3 5.1 -11.2 5 -11.1 5 -9.6 4.9 -8 4.9 -7.3 4.8 -7 4.8 -6.5 4.7 -5.7 4.6 -4.7 4.6 -4.1 4.6 -4.1 4.4 -4.9 4.5 -6.1 4.4 -7.3 4.3 -8.3 4.3 -8.8 4.2 -8.6 4.2 -8.1 4.2 -7.5 4.1 -7 4 -6.7 4 -6.7M120.0 1235.1l8.5 -26.4 8.3 -27.7 8.2 -29.1 8.1 -30.1 8 -30.8 7.8 -30.9 7.8 -30.3 7.7 -29.1 7.5 -27.3 7.4 -25.1 7.4 -21.9 7.2 -10.2 7.2 -7.6 7 -6.5 7 -6.1 6.8 -12 6.8 -18.5 6.7 -21.5 6.5 -22.8 6.5 -23 6.5 -22.7 6.3 -22.1 6.2 -20.7 6.2 -19.1 6.1 -17.1 6 -15 5.9 -13 5.9 -11.2 5.8 -10.1 5.7 -7.5 5.6 .7 5.6 3 5.5 -1 5.4 -7.3 5.4 -12.2 5.3 -14.5 5.2 -15.2 5.2 -14.8 5.1 -13.9 5 -12.9 5 -11.8 4.9 -10.9 4.9 -10.5 4.8 -10.3 4.7 -10.2 4.7 -8.3 4.7 -6.4 4.5 -6 4.6 -6.4 4.4 -6.6 4.5 -6.1 4.3 -5.3 4.4 -4.5 4.2 -4.2 4.2 -4.7 4.2 -5.6 4.1 -6.8 4.1 -7.8 4.1 -8.2 4 -8.3 3.9 -7.8 3.9 -7.4 3.9 -6.9 3.8 -6.7 3.7 -6.6M175.0 1238.1l7.9 -25 7.8 -26.5 7.7 -28 7.6 -29.3 7.5 -30.2 7.4 -30.6 7.3 -30.4 7.1 -29.5 7.1 -28.1 7 -25.9 6.9 -23.2 6.8 -14.5 6.7 -12 6.6 -6.6 6.5 -3.6 6.4 -9.9 6.3 -16.9 6.3 -20.3 6.2 -21.4 6.1 -21.7 6 -21.6 5.9 -20.9 5.9 -19.9 5.8 -18.5 5.7 -16.8 5.6 -14.9 5.6 -13.3 5.4 -11.9 5.5 -10.8 5.3 -8.9 5.3 -2.4 5.2 -.7 5.2 -4.3 5.1 -9.5 5 -13.7 5 -15.7 4.9 -16 4.8 -15.5 4.8 -14.3 4.7 -12.9 4.7 -11.4 4.6 -10.3 4.6 -9.5 4.5 -9.1 4.4 -9 4.4 -6.4 4.4 -4.1 4.2 -4.1 4.3 -5.4 4.2 -6.4 4.1 -6.6 4.1 -5.9 4.1 -5 4 -4.4 3.9 -4.5 4 -5.2 3.8 -6.1 3.9 -7.1 3.7 -7.6 3.8 -7.6 3.7 -7.4 3.6 -7 3.7 -6.7 3.5 -6.6 3.6 -6.7M230.0 1239.0l7.4 -23.7 7.3 -25.2 7.2 -26.8 7.1 -28.3 6.9 -29.3 6.9 -30.1 6.8 -30.1 6.7 -29.5 6.6 -28.4 6.5 -26.4 6.5 -24.1 6.3 -18 6.2 -15.4 6.2 -7 6.1 -2.1 6 -8.3 5.9 -15.7 5.8 -19.2 5.8 -20.3 5.7 -20.5 5.6 -20.4 5.5 -19.9 5.5 -19.1 5.4 -17.8 5.3 -16.4 5.3 -14.9 5.2 -13.4 5.1 -12.3 5.1 -11.5 5 -10.2 4.9 -5.4 4.9 -4.4 4.8 -7.6 4.7 -12 4.7 -15.4 4.6 -17 4.6 -17.2 4.5 -16.4 4.5 -15 4.4 -13.2 4.4 -11.4 4.3 -9.8 4.2 -8.5 4.2 -7.9 4.2 -7.6 4.1 -4.1 4.1 -1.5 4 -1.9 3.9 -4 3.9 -6 3.9 -6.9 3.8 -6.6 3.8 -5.7 3.8 -4.7 3.7 -4.6 3.6 -5 3.6 -5.8 3.6 -6.5 3.5 -7 3.5 -7.2 3.5 -6.9 3.4 -6.7 3.3 -6.4 3.4 -6.5 3.3 -6.6M285.0 1238.1l6.9 -22.7 6.7 -24.1 6.7 -25.7 6.6 -27.2 6.5 -28.4 6.4 -29.2 6.3 -29.5 6.2 -29.2 6.1 -28.1 6.1 -26.5 5.9 -24.4 5.9 -20.2 5.8 -17.5 5.7 -7.6 5.7 -1.7 5.6 -7.6 5.5 -15 5.4 -18.3 5.3 -19.3 5.3 -19.5 5.2 -19.5 5.2 -19 5 -18.4 5.1 -17.3 4.9 -16.1 4.9 -14.8 4.8 -13.5 4.8 -12.7 4.7 -12.1 4.6 -11.2 4.6 -8.1 4.5 -7.7 4.5 -10.5 4.4 -14.2 4.3 -17 4.3 -18.4 4.3 -18.5 4.2 -17.6 4.1 -15.9 4.1 -13.9 4.1 -11.7 4 -9.5 3.9 -7.9 3.9 -6.9 3.9 -6.2 3.8 -1.9 3.8 1.2 3.7 .5 3.7 -2.5 3.6 -5.5 3.6 -7.1 3.5 -7.3 3.6 -6.3 3.4 -5.3 3.5 -4.9 3.3 -5.1 3.4 -5.8 3.3 -6.4 3.3 -6.8 3.2 -6.8 3.2 -6.7 3.2 -6.5 3.1 -6.3 3.1 -6.3 3.1 -6.4M340.0 1236.3l6.3 -22.1 6.3 -23.4 6.1 -24.9 6.1 -26.3 6 -27.4 5.9 -28.3 5.8 -28.6 5.8 -28.4 5.6 -27.6 5.6 -26.1 5.5 -24.1 5.4 -21 5.4 -18.6 5.3 -8.4 5.2 -2.3 5.1 -7.7 5.1 -14.5 5 -17.5 5 -18.5 4.8 -18.7 4.8 -18.7 4.8 -18.5 4.7 -17.8 4.6 -17.1 4.6 -16 4.5 -14.8 4.4 -13.8 4.4 -13 4.4 -12.6 4.2 -12 4.3 -10.2 4.1 -10.3 4.2 -12.8 4 -15.9 4.1 -18.3 3.9 -19.5 3.9 -19.7 3.9 -18.7 3.9 -17 3.7 -14.8 3.8 -12.2 3.7 -9.7 3.6 -7.7 3.6 -6.2 3.6 -5.1 3.5 -.1 3.5 3.6 3.4 2.7 3.4 -1 3.4 -4.8 3.3 -7.1 3.2 -7.7 3.3 -6.9 3.2 -5.7 3.2 -5.2 3.1 -5.3 3.1 -5.8 3 -6.4 3.1 -6.7 3 -6.8 2.9 -6.6 2.9 -6.4 2.9 -6.1 2.9 -6.2 2.8 -6.3M395.0 1234.7l5.8 -22 5.7 -23.2 5.7 -24.4 5.6 -25.6 5.4 -26.7 5.5 -27.4 5.3 -27.7 5.2 -27.5 5.2 -26.7 5.2 -25.3 5 -23.5 5 -21 4.9 -18.7 4.8 -9.3 4.8 -3.7 4.7 -8.3 4.7 -14.1 4.6 -16.8 4.5 -17.6 4.5 -18 4.4 -18.1 4.3 -18 4.3 -17.7 4.3 -17 4.1 -16.2 4.2 -15.1 4 -14.1 4.1 -13.4 3.9 -13 4 -12.7 3.8 -11.7 3.9 -12.2 3.8 -14.3 3.7 -16.9 3.7 -19.1 3.6 -20.3 3.6 -20.4 3.6 -19.7 3.5 -18 3.4 -15.7 3.5 -13 3.3 -10.3 3.4 -7.8 3.3 -6 3.3 -4.6 3.2 1 3.2 5.2 3.1 4.2 3.1 0 3.1 -4.3 3 -7.1 3.1 -8 2.9 -7.2 3 -6.1 2.9 -5.4 2.8 -5.6 2.9 -6.2 2.8 -6.8 2.7 -7 2.8 -7.1 2.7 -6.8 2.7 -6.5 2.6 -6.3 2.7 -6.2 2.6 -6.2M450.0 1234.4l5.3 -22.4 5.2 -23.3 5.1 -24.4 5.1 -25.4 5 -26.2 4.9 -26.8 4.8 -27 4.8 -26.6 4.7 -25.8 4.7 -24.5 4.6 -22.7 4.5 -20.5 4.5 -18.3 4.4 -10.3 4.3 -5.5 4.3 -9 4.2 -13.6 4.2 -15.9 4.1 -16.8 4.1 -17.2 4 -17.5 3.9 -17.7 3.9 -17.5 3.9 -17.2 3.8 -16.4 3.8 -15.7 3.7 -14.7 3.6 -13.9 3.6 -13.5 3.6 -13.3 3.5 -12.7 3.5 -13.3 3.4 -15.2 3.4 -17.3 3.4 -19.3 3.3 -20.4 3.3 -20.8 3.2 -20.2 3.2 -18.7 3.1 -16.5 3.2 -13.8 3 -10.9 3.1 -8.4 3 -6.3 2.9 -4.6 3 1.4 2.9 5.6 2.8 4.8 2.9 .5 2.8 -4 2.7 -7 2.8 -8 2.7 -7.4 2.6 -5.9 2.7 -5.3 2.6 -5.7 2.6 -6.3 2.5 -7.1 2.5 -7.5 2.5 -7.4 2.5 -7.2 2.4 -6.8 2.4 -6.4 2.4 -6.3 2.4 -6.1M505.0 1235.9l4.8 -23.1 4.6 -23.8 4.7 -24.7 4.5 -25.5 4.5 -26.2 4.4 -26.6 4.4 -26.6 4.3 -26.1 4.2 -25.2 4.2 -23.8 4.2 -22 4 -19.9 4.1 -17.9 3.9 -11.1 3.9 -7.2 3.9 -9.6 3.8 -13.1 3.7 -14.9 3.7 -15.6 3.7 -16.2 3.6 -16.9 3.6 -17.2 3.5 -17.4 3.5 -17.3 3.4 -16.9 3.4 -16.2 3.3 -15.5 3.3 -14.6 3.2 -14.1 3.2 -13.8 3.2 -13.4 3.2 -14 3 -15.5 3.1 -17.3 3 -18.9 3 -20.1 2.9 -20.6 2.9 -20.1 2.9 -19 2.8 -16.9 2.9 -14.4 2.7 -11.7 2.8 -9.1 2.7 -6.8 2.6 -5.1 2.7 .9 2.6 5.1 2.5 4.4 2.6 .3 2.5 -4 2.5 -6.8 2.5 -7.8 2.4 -6.9 2.4 -5.3 2.4 -4.6 2.3 -5.1 2.3 -6.1 2.3 -7 2.3 -7.5 2.2 -7.6 2.3 -7.5 2.2 -7 2.1 -6.7 2.2 -6.4 2.1 -6.2M560.0 1239.1l4.2 -23.8 4.2 -24.5 4.1 -25.2 4 -26 4 -26.5 4 -26.7 3.9 -26.7 3.8 -26 3.8 -25 3.7 -23.5 3.6 -21.7 3.7 -19.6 3.5 -17.4 3.6 -12 3.4 -8.4 3.5 -10.1 3.3 -12.4 3.4 -13.7 3.3 -14.4 3.2 -15.1 3.2 -15.9 3.2 -16.7 3.1 -17.1 3.1 -17.4 3 -17.2 3 -16.8 3 -16.1 2.9 -15.4 2.9 -14.8 2.9 -14.3 2.8 -14.1 2.8 -14.4 2.7 -15.5 2.8 -16.8 2.6 -18.3 2.7 -19.4 2.6 -19.9 2.6 -19.7 2.5 -18.7 2.6 -17.1 2.4 -14.7 2.5 -12.3 2.4 -9.8 2.4 -7.7 2.4 -5.9 2.4 -.4 2.3 3.5 2.3 2.9 2.2 -.8 2.3 -4.6 2.2 -7.2 2.2 -7.9 2.1 -6.6 2.2 -4.6 2.1 -4 2.1 -4.5 2 -5.8 2.1 -7 2 -7.7 2 -8.1 1.9 -7.8 2 -7.6 1.9 -7.1 1.9 -6.7 1.9 -6.4M615.0 1243.2l3.7 -24.3 3.6 -25.1 3.6 -25.8 3.6 -26.4 3.5 -27 3.4 -27.2 3.4 -27.1 3.4 -26.4 3.3 -25.3 3.2 -23.7 3.2 -21.8 3.2 -19.7 3.1 -17.3 3.1 -12.5 3 -9.3 3 -10.2 3 -11.8 2.9 -12.5 2.9 -13.2 2.8 -13.9 2.8 -14.8 2.8 -15.9 2.8 -16.6 2.7 -17.2 2.6 -17.4 2.6 -17.2 2.6 -16.8 2.6 -16.1 2.5 -15.4 2.5 -14.9 2.5 -14.5 2.4 -14.7 2.4 -15.3 2.4 -16.4 2.4 -17.4 2.3 -18.5 2.3 -18.9 2.2 -18.9 2.3 -18.2 2.2 -16.8 2.1 -14.8 2.2 -12.6 2.1 -10.3 2.1 -8.5 2.1 -6.8 2.1 -2.2 2 1.3 2 .7 2 -2.4 1.9 -5.7 2 -7.6 1.9 -8 1.9 -6.2 1.8 -3.8 1.9 -3 1.8 -3.6 1.8 -5.1 1.8 -6.5 1.8 -7.6 1.7 -8.1 1.7 -8.1 1.7 -7.9 1.7 -7.5 1.7 -7 1.6 -6.8M670.0 1247.1l3.2 -24.6 3.1 -25.3 3.1 -26.2 3 -26.8 3 -27.5 3 -27.7 2.9 -27.7 2.8 -27 2.9 -25.9 2.8 -24.4 2.7 -22.3 2.7 -20.1 2.7 -17.7 2.6 -12.7 2.6 -9.7 2.6 -10.2 2.6 -11.2 2.5 -11.7 2.4 -12 2.5 -12.8 2.4 -13.8 2.3 -14.9 2.4 -15.9 2.3 -16.8 2.3 -17.3 2.2 -17.5 2.3 -17.1 2.2 -16.7 2.1 -16 2.2 -15.3 2.1 -14.9 2.1 -14.8 2 -15.2 2.1 -15.8 2 -16.7 2 -17.4 1.9 -18 2 -17.9 1.9 -17.5 1.9 -16.2 1.8 -14.6 1.9 -12.7 1.8 -10.8 1.8 -9.1 1.8 -7.8 1.7 -3.9 1.8 -1.4 1.7 -1.9 1.7 -4.4 1.7 -7.1 1.6 -8.4 1.7 -8.4 1.6 -6.2 1.6 -3.3 1.6 -2.1 1.5 -2.9 1.6 -4.4 1.5 -6 1.5 -7.4 1.5 -8 1.5 -8.3 1.5 -8.2 1.4 -7.9 1.5 -7.5 1.4 -7M725.0 1249.5l2.6 -24.5 2.6 -25.3 2.6 -26.1 2.5 -27 2.5 -27.8 2.5 -28.1 2.4 -28.2 2.4 -27.7 2.4 -26.7 2.3 -25.1 2.3 -23.2 2.3 -20.8 2.2 -18.3 2.2 -12.8 2.2 -9.3 2.1 -10.1 2.1 -10.9 2.1 -11.2 2.1 -11.3 2 -11.9 2 -12.9 2 -14 1.9 -15.3 2 -16.2 1.9 -17 1.8 -17.4 1.9 -17.3 1.8 -17 1.8 -16.3 1.8 -15.7 1.8 -15.1 1.7 -14.9 1.7 -14.9 1.7 -15.4 1.7 -15.9 1.7 -16.5 1.6 -17 1.6 -17.1 1.6 -16.7 1.6 -15.7 1.5 -14.3 1.6 -12.7 1.5 -11 1.5 -9.6 1.5 -8.6 1.4 -5.8 1.5 -3.9 1.4 -4.6 1.4 -6.8 1.4 -8.8 1.4 -9.7 1.4 -9.4 1.3 -6.8 1.4 -3.3 1.3 -2 1.3 -2.6 1.3 -4.2 1.3 -5.9 1.2 -7.4 1.3 -8.2 1.2 -8.7 1.2 -8.6 1.2 -8.3 1.2 -7.9 1.2 -7.3M780.0 1249.2l2.1 -24.1 2.1 -24.9 2 -25.8 2.1 -26.8 2 -27.6 1.9 -28.3 2 -28.4 1.9 -28.2 1.9 -27.4 1.8 -26 1.9 -24 1.8 -21.7 1.8 -19 1.7 -12.3 1.8 -8.3 1.7 -9.8 1.7 -11 1.6 -11.1 1.7 -11 1.6 -11.5 1.6 -12.3 1.6 -13.5 1.6 -14.6 1.5 -15.8 1.5 -16.7 1.5 -17.1 1.5 -17.3 1.5 -16.9 1.4 -16.5 1.4 -15.8 1.5 -15.1 1.3 -14.8 1.4 -14.6 1.4 -14.8 1.3 -15.2 1.3 -15.8 1.3 -16.1 1.3 -16.3 1.3 -15.9 1.3 -15.2 1.2 -14 1.3 -12.5 1.2 -11.1 1.2 -9.9 1.2 -9 1.1 -7 1.2 -5.9 1.1 -6.7 1.2 -8.4 1.1 -10 1.1 -10.6 1.1 -10 1.1 -7 1 -3.2 1.1 -1.6 1 -1.9 1.1 -3.4 1 -5.1 1 -6.7 1 -7.6 1 -8.3 .9 -8.5 1 -8.4 1 -8 .9 -7.5M835.0 1246.0l1.6 -23.7 1.5 -24.4 1.6 -25.3 1.5 -26.3 1.5 -27.3 1.5 -28 1.4 -28.5 1.5 -28.3 1.4 -27.8 1.4 -26.5 1.4 -24.7 1.3 -22.3 1.4 -19.7 1.3 -11.2 1.3 -6.5 1.3 -9.2 1.2 -11.3 1.3 -11.5 1.2 -11.3 1.2 -11.5 1.2 -12.2 1.2 -13.3 1.2 -14.4 1.2 -15.5 1.1 -16.3 1.1 -17 1.1 -17.1 1.1 -16.8 1.1 -16.4 1.1 -15.6 1 -14.9 1.1 -14.4 1 -14.2 1 -14.2 1 -14.5 1 -14.9 1 -15.4 1 -15.6 .9 -15.3 1 -14.8 .9 -13.7 .9 -12.4 1 -11.1 .9 -10 .8 -9.2 .9 -7.8 .9 -7.2 .8 -8 .9 -9.5 .8 -10.7 .9 -11 .8 -10.3 .8 -7.1 .8 -3.1 .8 -1.2 .8 -1.3 .7 -2.5 .8 -4.2 .8 -5.6 .7 -6.8 .8 -7.6 .7 -8 .7 -8.1 .7 -8 .7 -7.7M890.0 1239.9l1.1 -23.4 1 -24 1 -24.8 1 -25.7 1 -26.8 1 -27.5 1 -28.1 .9 -28.2 1 -27.8 .9 -26.6 .9 -25 .9 -22.8 .9 -20 .9 -9.3 .9 -3.9 .8 -8.2 .9 -11.7 .8 -12.1 .8 -11.9 .9 -12.1 .8 -12.6 .7 -13.5 .8 -14.5 .8 -15.6 .8 -16.3 .7 -17 .8 -17 .7 -16.7 .7 -16.2 .7 -15.3 .7 -14.6 .7 -13.8 .7 -13.5 .7 -13.4 .7 -13.7 .6 -14.1 .7 -14.5 .6 -14.9 .7 -14.9 .6 -14.4 .6 -13.6 .6 -12.6 .6 -11.3 .6 -10.2 .6 -9.4 .6 -8.5 .6 -8.2 .6 -9 .5 -10.3 .6 -11.4 .5 -11.6 .6 -10.8 .5 -7.9 .6 -3.8 .5 -1.7 .5 -1.7 .5 -2.6 .5 -4.1 .5 -5.4 .5 -6.5 .5 -7.4 .5 -7.8 .5 -8.1 .5 -8 .5 -7.7M945.0 1231.9l.5 -23.5 .5 -23.8 .6 -24.5 .5 -25.3 .5 -26.2 .5 -27 .4 -27.6 .5 -27.8 .5 -27.4 .5 -26.4 .4 -24.9 .5 -22.7 .4 -20 .5 -6.7 .4 -.4 .4 -6.9 .4 -11.9 .5 -12.8 .4 -12.8 .4 -12.8 .4 -13.4 .4 -14.1 .4 -15.1 .4 -16 .3 -16.8 .4 -17.2 .4 -17.2 .3 -16.9 .4 -16 .4 -15.1 .3 -14.1 .4 -13.2 .3 -12.7 .3 -12.5 .4 -12.6 .3 -13.1 .3 -13.6 .4 -14.1 .3 -14.2 .3 -14 .3 -13.5 .3 -12.7 .3 -11.7 .3 -10.6 .3 -9.7 .3 -9.1 .3 -8.8 .3 -9.6 .3 -10.7 .2 -11.7 .3 -11.9 .3 -11.4 .3 -8.5 .2 -4.8 .3 -2.7 .3 -2.4 .2 -3.3 .3 -4.4 .2 -5.5 .3 -6.5 .2 -7.3 .3 -7.8 .2 -8 .2 -8 .3 -7.7M1000.0 1223.2l0 -23.9 0 -24.1 0 -24.4 0 -25.1 0 -25.8 0 -26.6 0 -27.1 0 -27.2 0 -26.9 0 -25.9 0 -24.4 0 -22.3 0 -19.5 0 -3.8 0 3.4 0 -5.1 0 -11.8 0 -13.4 0 -13.5 0 -13.8 0 -14.2 0 -15.1 0 -16 0 -16.8 0 -17.6 0 -17.9 0 -17.8 0 -17.2 0 -16.3 0 -15.1 0 -13.8 0 -12.7 0 -11.8 0 -11.5 0 -11.5 0 -11.8 0 -12.4 0 -13.1 0 -13 0 -13.1 0 -13.1 0 -12.9 0 -12 0 -11 0 -10.1 0 -9.4 0 -9.2 0 -9.8 0 -10.6 0 -11.4 0 -11.7 0 -11.3 0 -8.8 0 -5.3 0 -3.4 0 -3.1 0 -3.6 0 -4.5 0 -5.5 0 -6.3 0 -7.1 0 -7.7 0 -7.8 0 -7.9 0 -7.7M1055.0 1215.2l-.5 -24.7 -.5 -24.6 -.6 -24.8 -.5 -25.1 -.5 -25.7 -.5 -26.3 -.4 -26.7 -.5 -26.7 -.5 -26.3 -.5 -25.4 -.4 -23.7 -.5 -21.6 -.4 -18.8 -.5 -.9 -.4 7 -.4 -3.2 -.4 -11.2 -.5 -13.6 -.4 -14.1 -.4 -14.6 -.4 -15.2 -.4 -16 -.4 -17.1 -.4 -17.9 -.3 -18.7 -.4 -19 -.4 -18.8 -.3 -18.1 -.4 -16.9 -.4 -15.5 -.3 -13.9 -.4 -12.5 -.3 -11.2 -.3 -10.6 -.4 -10.3 -.3 -10.4 -.3 -11 -.4 -11.6 -.3 -10.9 -.3 -11.3 -.3 -12.2 -.3 -12.6 -.3 -12.3 -.3 -11.4 -.3 -10.5 -.3 -9.7 -.3 -9.3 -.3 -9.5 -.3 -10.1 -.2 -10.7 -.3 -10.9 -.3 -10.6 -.3 -8.4 -.2 -5.3 -.3 -3.5 -.3 -3.1 -.2 -3.5 -.3 -4.2 -.2 -5 -.3 -5.9 -.2 -6.6 -.3 -7.2 -.2 -7.6 -.2 -7.8 -.3 -7.7M1110.0 1208.9l-1.1 -25.7 -1 -25.3 -1 -25.2 -1 -25.5 -1 -25.8 -1 -26.2 -1 -26.4 -.9 -26.3 -1 -25.9 -.9 -24.8 -.9 -23.1 -.9 -20.9 -.9 -18.2 -.9 1.4 -.9 9.8 -.8 -1.4 -.9 -10.5 -.8 -13.4 -.8 -14.4 -.9 -15.1 -.8 -15.9 -.7 -16.9 -.8 -18.1 -.8 -19.2 -.8 -19.9 -.7 -20.3 -.8 -20.2 -.7 -19.4 -.7 -18.2 -.7 -16.4 -.7 -14.6 -.7 -12.7 -.7 -11.1 -.7 -10 -.7 -9.2 -.6 -9 -.7 -9.4 -.6 -9.6 -.7 -7.9 -.6 -8.3 -.6 -10.4 -.6 -12.1 -.6 -12.4 -.6 -11.9 -.6 -10.9 -.6 -10.1 -.6 -9.5 -.6 -9.5 -.5 -9.7 -.6 -10.2 -.5 -10.3 -.6 -10.1 -.5 -8.2 -.6 -5.5 -.5 -4 -.5 -3.5 -.5 -3.7 -.5 -4.4 -.5 -5 -.5 -5.8 -.5 -6.5 -.5 -7.2 -.5 -7.6 -.5 -7.8 -.5 -7.8M1165.0 1204.7l-1.6 -26.4 -1.5 -26 -1.6 -25.8 -1.5 -25.8 -1.5 -26 -1.5 -26.2 -1.4 -26.3 -1.5 -26.1 -1.4 -25.5 -1.4 -24.5 -1.4 -22.7 -1.3 -20.5 -1.4 -17.6 -1.3 2.4 -1.3 11.1 -1.3 -.1 -1.2 -9.5 -1.3 -12.9 -1.2 -14.4 -1.2 -15.4 -1.2 -16.4 -1.2 -17.7 -1.2 -18.9 -1.2 -20.2 -1.1 -21.2 -1.1 -21.8 -1.1 -21.7 -1.1 -21.1 -1.1 -19.7 -1.1 -17.9 -1 -15.7 -1.1 -13.6 -1 -11.5 -1 -9.9 -1 -8.6 -1 -7.5 -1 -7.7 -1 -7.4 -.9 -3.7 -1 -4.1 -.9 -7.8 -.9 -11 -1 -12.4 -.9 -12.3 -.8 -11.3 -.9 -10.5 -.9 -9.8 -.8 -9.6 -.9 -9.6 -.8 -9.8 -.9 -9.9 -.8 -9.6 -.8 -8.1 -.8 -5.9 -.8 -4.5 -.8 -4 -.7 -4.2 -.8 -4.6 -.8 -5.2 -.7 -6 -.8 -6.7 -.7 -7.4 -.7 -7.8 -.7 -7.9 -.7 -8M1220.0 1202.6l-2.1 -27 -2.1 -26.4 -2 -26.1 -2.1 -26 -2 -26 -1.9 -26.2 -2 -26.3 -1.9 -25.9 -1.9 -25.4 -1.8 -24.3 -1.9 -22.6 -1.8 -20.5 -1.8 -17.6 -1.7 1.9 -1.8 10.6 -1.7 .4 -1.7 -8.4 -1.6 -12.3 -1.7 -14.1 -1.6 -15.5 -1.6 -16.7 -1.6 -18.1 -1.6 -19.5 -1.5 -20.9 -1.5 -22.2 -1.5 -23 -1.5 -23.2 -1.5 -22.6 -1.4 -21.5 -1.4 -19.6 -1.5 -17.3 -1.3 -14.8 -1.4 -12.3 -1.4 -10.4 -1.3 -8.2 -1.3 -6.3 -1.3 -6 -1.3 -5 -1.3 .9 -1.3 .7 -1.2 -4.6 -1.3 -9.6 -1.2 -12.1 -1.2 -12.4 -1.2 -11.6 -1.1 -10.8 -1.2 -10 -1.1 -9.6 -1.2 -9.4 -1.1 -9.4 -1.1 -9.5 -1.1 -9.2 -1.1 -8 -1 -6.1 -1.1 -4.8 -1 -4.4 -1.1 -4.3 -1 -4.7 -1 -5.3 -1 -6.1 -1 -6.8 -.9 -7.4 -1 -8 -1 -8.1 -.9 -8.2M1275.0 1202.0l-2.6 -27.1 -2.6 -26.5 -2.6 -26 -2.5 -26 -2.5 -25.9 -2.5 -26 -2.4 -26 -2.4 -25.9 -2.4 -25.3 -2.3 -24.3 -2.3 -22.9 -2.3 -20.8 -2.2 -18.1 -2.2 -.1 -2.2 8.2 -2.1 .2 -2.1 -7.5 -2.1 -11.5 -2.1 -14 -2 -15.5 -2 -16.7 -2 -18.2 -1.9 -19.6 -2 -21.3 -1.9 -22.6 -1.8 -23.7 -1.9 -24.2 -1.8 -23.9 -1.8 -22.8 -1.8 -21.1 -1.8 -18.8 -1.7 -16.2 -1.7 -13.5 -1.7 -11.1 -1.7 -8.1 -1.7 -5.3 -1.6 -4.3 -1.6 -2.8 -1.6 5.1 -1.6 5 -1.5 -1.7 -1.6 -8.4 -1.5 -11.6 -1.5 -12.3 -1.5 -11.8 -1.4 -10.9 -1.5 -10 -1.4 -9.5 -1.4 -9.2 -1.4 -9.2 -1.4 -9.1 -1.4 -8.9 -1.3 -7.9 -1.4 -6.3 -1.3 -5.2 -1.3 -4.6 -1.3 -4.6 -1.3 -4.7 -1.2 -5.3 -1.3 -6 -1.2 -6.8 -1.2 -7.6 -1.2 -8.1 -1.2 -8.4 -1.2 -8.4M1330.0 1202.0l-3.2 -26.8 -3.1 -26.1 -3.1 -25.7 -3 -25.5 -3 -25.4 -3 -25.6 -2.9 -25.7 -2.8 -25.6 -2.9 -25.2 -2.8 -24.5 -2.7 -23.2 -2.7 -21.5 -2.7 -19.1 -2.6 -3.3 -2.6 4.3 -2.6 -.8 -2.6 -6.7 -2.5 -10.8 -2.4 -13.7 -2.5 -15.5 -2.4 -16.8 -2.3 -17.9 -2.4 -19.5 -2.3 -20.9 -2.3 -22.5 -2.2 -23.7 -2.3 -24.4 -2.2 -24.3 -2.1 -23.6 -2.2 -22 -2.1 -19.8 -2.1 -17.3 -2 -14.4 -2.1 -11.8 -2 -8.2 -2 -4.2 -1.9 -2.9 -2 -1.1 -1.9 7.7 -1.9 7.5 -1.8 0 -1.9 -7.6 -1.8 -11.3 -1.8 -12.2 -1.8 -11.7 -1.7 -10.8 -1.8 -10 -1.7 -9.2 -1.7 -8.9 -1.7 -8.9 -1.6 -8.8 -1.7 -8.7 -1.6 -7.9 -1.6 -6.6 -1.6 -5.7 -1.5 -5 -1.6 -4.7 -1.5 -4.9 -1.5 -5.2 -1.5 -6 -1.5 -6.9 -1.5 -7.6 -1.4 -8.1 -1.5 -8.6 -1.4 -8.7M1385.0 1202.0l-3.7 -26.3 -3.6 -25.5 -3.6 -25 -3.6 -24.7 -3.5 -24.7 -3.4 -24.9 -3.4 -25 -3.4 -25.2 -3.3 -25 -3.2 -24.6 -3.2 -23.7 -3.2 -22.3 -3.1 -20.3 -3.1 -7.3 -3 -.5 -3 -2.1 -3 -6.1 -2.9 -10.2 -2.9 -13.7 -2.8 -15.6 -2.8 -16.7 -2.8 -17.7 -2.8 -18.9 -2.7 -20.2 -2.6 -21.7 -2.6 -22.9 -2.6 -23.7 -2.6 -23.9 -2.5 -23.3 -2.5 -22.1 -2.5 -20 -2.4 -17.7 -2.4 -14.9 -2.4 -12.3 -2.4 -8.1 -2.3 -3.1 -2.3 -1.5 -2.2 0 -2.3 8 -2.2 7.5 -2.1 -.2 -2.2 -7.6 -2.1 -11.3 -2.1 -12 -2.1 -11.5 -2.1 -10.5 -2 -9.5 -2 -8.6 -2 -8.3 -1.9 -8.1 -2 -8.1 -1.9 -8.1 -1.9 -7.6 -1.8 -6.6 -1.9 -5.7 -1.8 -5 -1.8 -4.6 -1.8 -4.5 -1.8 -4.8 -1.7 -5.5 -1.7 -6.4 -1.7 -7.3 -1.7 -8 -1.7 -8.5 -1.6 -8.9M1440.0 1201.8l-4.2 -25.8 -4.2 -24.9 -4.1 -24.1 -4 -23.9 -4 -23.8 -4 -23.9 -3.9 -24.2 -3.8 -24.6 -3.8 -24.7 -3.7 -24.6 -3.6 -24 -3.7 -23.1 -3.5 -21.5 -3.6 -11.4 -3.4 -5.4 -3.5 -3.7 -3.3 -5.5 -3.4 -9.8 -3.3 -13.8 -3.2 -16 -3.2 -16.8 -3.2 -17.5 -3.1 -18.2 -3.1 -19.3 -3 -20.4 -3 -21.6 -3 -22.3 -2.9 -22.7 -2.9 -22.2 -2.9 -21.2 -2.8 -19.5 -2.8 -17.3 -2.7 -14.8 -2.8 -12.3 -2.6 -7.7 -2.7 -1.9 -2.6 -.2 -2.6 .4 -2.5 6.3 -2.6 4.9 -2.4 -2 -2.5 -8.6 -2.4 -11.7 -2.4 -12.2 -2.4 -11.4 -2.4 -10.2 -2.3 -9.1 -2.3 -8.1 -2.2 -7.5 -2.3 -7.4 -2.2 -7.5 -2.2 -7.7 -2.1 -7.4 -2.2 -6.8 -2.1 -6.1 -2.1 -5.4 -2 -4.9 -2.1 -4.7 -2 -4.8 -2 -5.3 -1.9 -6.2 -2 -7.1 -1.9 -7.9 -1.9 -8.5 -1.9 -8.9M1495.0 1201.3l-4.8 -25.4 -4.6 -24.3 -4.7 -23.4 -4.5 -23.1 -4.5 -22.8 -4.4 -23 -4.4 -23.4 -4.3 -23.8 -4.2 -24.2 -4.2 -24.4 -4.2 -24.2 -4 -23.7 -4.1 -22.5 -3.9 -15.1 -3.9 -10 -3.9 -5 -3.8 -5 -3.7 -9.6 -3.7 -14.2 -3.7 -16.6 -3.6 -17.2 -3.6 -17.3 -3.5 -17.8 -3.5 -18.4 -3.4 -19.2 -3.4 -20 -3.3 -20.7 -3.3 -20.9 -3.2 -20.6 -3.2 -19.7 -3.2 -18.3 -3.2 -16.4 -3 -14.1 -3.1 -11.9 -3 -7 -3 -.5 -2.9 1.1 -2.9 .4 -2.9 3.3 -2.8 .9 -2.9 -5 -2.7 -10.2 -2.8 -12.4 -2.7 -12.6 -2.6 -11.6 -2.7 -10.1 -2.6 -8.6 -2.5 -7.5 -2.6 -6.8 -2.5 -6.5 -2.5 -6.7 -2.5 -7.1 -2.4 -7.1 -2.4 -6.9 -2.4 -6.5 -2.3 -5.8 -2.3 -5.3 -2.3 -4.8 -2.3 -4.9 -2.2 -5.3 -2.3 -6 -2.2 -6.8 -2.1 -7.7 -2.2 -8.3 -2.1 -8.9M1550.0 1201.0l-5.3 -25.1 -5.2 -24 -5.1 -23 -5.1 -22.4 -5 -22.2 -4.9 -22.2 -4.8 -22.5 -4.8 -23.1 -4.7 -23.6 -4.7 -24 -4.6 -24.1 -4.5 -24 -4.5 -23.3 -4.4 -18 -4.3 -13.8 -4.3 -6.1 -4.2 -4.7 -4.2 -9.6 -4.1 -14.8 -4.1 -17.3 -4 -17.8 -3.9 -17.5 -3.9 -17.6 -3.9 -17.7 -3.8 -18.2 -3.8 -18.7 -3.7 -19.1 -3.6 -19.2 -3.6 -18.9 -3.6 -18.2 -3.5 -16.8 -3.5 -15.1 -3.4 -13.2 -3.4 -11.1 -3.4 -5.9 -3.3 .8 -3.3 2.3 -3.2 .5 -3.2 0 -3.1 -3.2 -3.2 -8.2 -3 -11.9 -3.1 -13.5 -3 -13.2 -2.9 -12 -3 -10.3 -2.9 -8.5 -2.8 -7 -2.9 -6.1 -2.8 -5.7 -2.7 -6 -2.8 -6.4 -2.7 -6.8 -2.6 -7 -2.7 -6.8 -2.6 -6.4 -2.6 -5.8 -2.5 -5.4 -2.5 -5.2 -2.5 -5.4 -2.5 -5.9 -2.4 -6.8 -2.4 -7.4 -2.4 -8.2 -2.4 -8.7M1605.0 1201.6l-5.8 -25.2 -5.7 -24 -5.7 -22.8 -5.6 -22.1 -5.4 -21.7 -5.5 -21.7 -5.3 -21.9 -5.2 -22.4 -5.2 -23 -5.2 -23.6 -5 -23.9 -5 -24 -4.9 -23.6 -4.8 -20.3 -4.8 -16.5 -4.7 -7 -4.7 -4.6 -4.6 -9.6 -4.5 -15.5 -4.5 -18.2 -4.4 -18.5 -4.3 -18 -4.3 -17.6 -4.3 -17.5 -4.1 -17.5 -4.2 -17.8 -4 -17.9 -4.1 -17.8 -3.9 -17.5 -4 -16.8 -3.8 -15.5 -3.9 -13.9 -3.8 -12.1 -3.7 -10.1 -3.7 -4.8 -3.6 2.2 -3.6 3.3 -3.6 .5 -3.5 -2.5 -3.4 -6.5 -3.5 -10.7 -3.3 -13.6 -3.4 -14.5 -3.3 -14 -3.3 -12.7 -3.2 -10.7 -3.2 -8.7 -3.1 -6.9 -3.1 -5.6 -3.1 -5.2 -3 -5.2 -3.1 -5.9 -2.9 -6.5 -3 -7 -2.9 -7.2 -2.8 -6.9 -2.9 -6.5 -2.8 -6.1 -2.7 -5.7 -2.8 -5.8 -2.7 -6.1 -2.7 -6.7 -2.6 -7.4 -2.7 -8 -2.6 -8.5M1660.0 1203.3l-6.3 -25.4 -6.3 -24.1 -6.1 -23 -6.1 -22.1 -6 -21.6 -5.9 -21.4 -5.8 -21.5 -5.8 -22 -5.6 -22.5 -5.6 -23.2 -5.5 -23.6 -5.4 -23.8 -5.4 -23.7 -5.3 -21.6 -5.2 -18.5 -5.1 -7.7 -5.1 -4.7 -5 -10 -5 -16.1 -4.8 -18.9 -4.8 -19.2 -4.8 -18.5 -4.7 -17.9 -4.6 -17.4 -4.6 -17.3 -4.5 -17.2 -4.4 -17.2 -4.4 -17 -4.4 -16.5 -4.2 -15.8 -4.3 -14.5 -4.1 -13.1 -4.2 -11.2 -4 -9 -4.1 -3.5 -3.9 3.2 -3.9 4.3 -3.9 .5 -3.9 -4 -3.7 -8.6 -3.8 -12.3 -3.7 -14.6 -3.6 -15.4 -3.6 -14.8 -3.6 -13.4 -3.5 -11.4 -3.5 -9.1 -3.4 -7 -3.4 -5.6 -3.4 -4.7 -3.3 -4.8 -3.2 -5.3 -3.3 -6.1 -3.2 -7 -3.2 -7.3 -3.1 -7.4 -3.1 -7.1 -3 -6.6 -3.1 -6.3 -3 -6.2 -2.9 -6.3 -2.9 -6.8 -2.9 -7.3 -2.9 -7.8 -2.8 -8.3M1715.0 1206.3l-6.9 -25.6 -6.7 -24.4 -6.7 -23.2 -6.6 -22.3 -6.5 -21.6 -6.4 -21.5 -6.3 -21.4 -6.2 -21.8 -6.1 -22.2 -6.1 -22.8 -5.9 -23.4 -5.9 -23.6 -5.8 -23.7 -5.7 -22.4 -5.7 -19.7 -5.6 -8.6 -5.5 -5.2 -5.4 -10.5 -5.3 -16.7 -5.3 -19.4 -5.2 -19.7 -5.2 -18.9 -5 -18.1 -5.1 -17.5 -4.9 -17.2 -4.9 -16.9 -4.8 -16.8 -4.8 -16.6 -4.7 -16.1 -4.6 -15.3 -4.6 -14.1 -4.5 -12.6 -4.5 -10.7 -4.4 -7.8 -4.3 -2.3 -4.3 4.2 -4.3 4.7 -4.2 .6 -4.1 -4.6 -4.1 -9.5 -4.1 -13 -4 -15 -3.9 -15.8 -3.9 -15.4 -3.9 -14.1 -3.8 -12.1 -3.8 -9.8 -3.7 -7.5 -3.7 -5.8 -3.6 -4.7 -3.6 -4.6 -3.5 -5.1 -3.6 -5.9 -3.4 -6.9 -3.5 -7.6 -3.3 -7.8 -3.4 -7.7 -3.3 -7.2 -3.3 -6.9 -3.2 -6.6 -3.2 -6.7 -3.2 -6.9 -3.1 -7.3 -3.1 -7.7 -3.1 -8.1M1770.0 1210.1l-7.4 -25.6 -7.3 -24.5 -7.2 -23.4 -7.1 -22.5 -6.9 -21.9 -6.9 -21.6 -6.8 -21.5 -6.7 -21.8 -6.6 -22.1 -6.5 -22.7 -6.5 -23.2 -6.3 -23.5 -6.2 -23.6 -6.2 -22.9 -6.1 -20.6 -6 -9.7 -5.9 -6.3 -5.8 -11.4 -5.8 -17.1 -5.7 -19.9 -5.6 -19.9 -5.5 -19 -5.5 -18.2 -5.4 -17.5 -5.3 -17.1 -5.3 -16.8 -5.2 -16.7 -5.1 -16.4 -5.1 -15.9 -5 -15.3 -4.9 -14.1 -4.9 -12.6 -4.8 -10.6 -4.7 -6.7 -4.7 -.9 -4.6 4.9 -4.6 4.9 -4.5 .5 -4.5 -4.8 -4.4 -9.6 -4.4 -12.9 -4.3 -14.9 -4.2 -15.7 -4.2 -15.7 -4.2 -14.6 -4.1 -12.8 -4.1 -10.6 -4 -8.4 -3.9 -6.5 -3.9 -5.3 -3.9 -5 -3.8 -5.4 -3.8 -6.4 -3.8 -7.3 -3.7 -8.2 -3.6 -8.7 -3.6 -8.5 -3.6 -8.2 -3.5 -7.8 -3.5 -7.4 -3.5 -7.2 -3.4 -7.4 -3.3 -7.5 -3.4 -7.7 -3.3 -7.9M1825.0 1214.0l-7.9 -25.4 -7.8 -24.4 -7.7 -23.4 -7.6 -22.7 -7.5 -22 -7.4 -21.7 -7.3 -21.7 -7.1 -21.8 -7.1 -22.2 -7 -22.6 -6.9 -23.2 -6.8 -23.5 -6.7 -23.8 -6.6 -23.3 -6.5 -21.3 -6.4 -11.3 -6.3 -8 -6.3 -12.6 -6.2 -17.8 -6.1 -20 -6 -20 -5.9 -19 -5.9 -18.1 -5.8 -17.3 -5.7 -16.9 -5.6 -16.6 -5.6 -16.5 -5.4 -16.4 -5.5 -16 -5.3 -15.5 -5.3 -14.4 -5.2 -13.1 -5.2 -10.7 -5.1 -5.5 -5 .6 -5 5.4 -4.9 4.8 -4.8 .3 -4.8 -4.8 -4.7 -9.2 -4.7 -12.3 -4.6 -14.1 -4.6 -15.2 -4.5 -15.3 -4.4 -14.6 -4.4 -13 -4.4 -11.1 -4.2 -8.9 -4.3 -7 -4.2 -5.8 -4.1 -5.3 -4.1 -5.6 -4.1 -6.4 -4 -7.5 -3.9 -8.2 -4 -8.8 -3.8 -8.7 -3.9 -8.4 -3.7 -7.9 -3.8 -7.5 -3.7 -7.3 -3.6 -7.3 -3.7 -7.4 -3.5 -7.6 -3.6 -7.8M1880.0 1217.3l-8.5 -24.9 -8.3 -24.1 -8.2 -23.2 -8.1 -22.6 -8 -22.1 -7.8 -21.7 -7.8 -21.7 -7.7 -21.9 -7.5 -22.2 -7.4 -22.7 -7.4 -23.2 -7.2 -23.7 -7.2 -24 -7 -23.8 -7 -22.1 -6.8 -13.3 -6.8 -10.4 -6.7 -14.2 -6.5 -18.5 -6.5 -20.3 -6.5 -20 -6.3 -18.9 -6.2 -17.8 -6.2 -17 -6.1 -16.5 -6 -16.3 -5.9 -16.2 -5.9 -16.3 -5.8 -16.1 -5.7 -15.8 -5.6 -15 -5.6 -13.7 -5.5 -11.2 -5.4 -4.2 -5.4 2.2 -5.3 6.1 -5.2 4.4 -5.2 -.2 -5.1 -4.9 -5 -8.8 -5 -11.4 -4.9 -13.1 -4.9 -14.2 -4.8 -14.5 -4.7 -14.1 -4.7 -13 -4.7 -11.2 -4.5 -9.3 -4.6 -7.6 -4.4 -6.3 -4.5 -5.9 -4.3 -6.1 -4.4 -6.9 -4.2 -7.8 -4.2 -8.6 -4.2 -9.1 -4.1 -9 -4.1 -8.7 -4.1 -8 -4 -7.6 -3.9 -7.3 -3.9 -7.2 -3.9 -7.3 -3.8 -7.5 -3.7 -7.7M1935.0 1219.4l-9 -24.2 -8.8 -23.7 -8.8 -22.9 -8.6 -22.3 -8.4 -21.9 -8.4 -21.6 -8.3 -21.6 -8.1 -21.7 -8 -22.2 -7.9 -22.7 -7.8 -23.3 -7.7 -23.8 -7.6 -24.2 -7.5 -24.3 -7.4 -23 -7.2 -15.7 -7.2 -13.1 -7.1 -16.1 -7 -19.5 -6.9 -20.6 -6.8 -20.1 -6.8 -18.7 -6.6 -17.6 -6.6 -16.6 -6.4 -16 -6.4 -15.8 -6.3 -15.9 -6.2 -16 -6.2 -16.1 -6 -16 -6 -15.5 -5.9 -14.5 -5.9 -11.7 -5.8 -2.9 -5.6 4 -5.7 6.5 -5.5 3.9 -5.5 -1 -5.4 -5.3 -5.4 -8.4 -5.3 -10.6 -5.2 -12 -5.2 -13 -5.1 -13.5 -5 -13.3 -5 -12.5 -4.9 -11 -4.9 -9.5 -4.8 -7.9 -4.8 -6.9 -4.7 -6.5 -4.6 -6.8 -4.6 -7.5 -4.6 -8.4 -4.4 -9.3 -4.5 -9.6 -4.4 -9.5 -4.3 -9 -4.3 -8.3 -4.2 -7.6 -4.2 -7.3 -4.2 -7.1 -4.1 -7.2 -4 -7.3 -4 -7.6M1990.0 1220.4l-9.5 -23.8 -9.4 -23.1 -9.2 -22.6 -9.1 -22 -9 -21.6 -8.9 -21.3 -8.7 -21.3 -8.6 -21.4 -8.5 -21.9 -8.4 -22.5 -8.2 -23.2 -8.2 -23.8 -8 -24.4 -7.9 -24.7 -7.8 -23.8 -7.8 -18 -7.6 -15.9 -7.5 -18.2 -7.4 -20.6 -7.3 -21.1 -7.2 -20.2 -7.1 -18.7 -7.1 -17.4 -6.9 -16.2 -6.8 -15.5 -6.8 -15.2 -6.7 -15.3 -6.6 -15.6 -6.5 -15.9 -6.4 -16 -6.3 -15.8 -6.3 -15.1 -6.2 -12.2 -6.1 -1.8 -6 5.4 -6 6.8 -5.9 3.1 -5.8 -2 -5.7 -5.9 -5.7 -8.4 -5.6 -10 -5.5 -11.1 -5.5 -11.9 -5.4 -12.3 -5.4 -12.3 -5.2 -11.7 -5.2 -10.6 -5.2 -9.3 -5.1 -8 -5 -7.2 -5 -7 -4.9 -7.4 -4.9 -8.2 -4.8 -9.2 -4.7 -10 -4.7 -10.3 -4.7 -10.1 -4.6 -9.4 -4.5 -8.6 -4.5 -7.8 -4.4 -7.2 -4.4 -7 -4.4 -7 -4.3 -7.1 -4.2 -7.3M2015.3 1151.8l-9.6 -21.8 -9.5 -21.3 -9.3 -21 -9.2 -20.8 -9.1 -21.1 -9 -21.4 -8.8 -22 -8.7 -22.7 -8.6 -23.6 -8.5 -24.3 -8.4 -24.7 -8.2 -24.4 -8.2 -20 -8 -18.4 -7.9 -20 -7.9 -21.7 -7.7 -21.6 -7.6 -20.4 -7.5 -18.8 -7.4 -17.2 -7.4 -15.9 -7.2 -15 -7.1 -14.6 -7.1 -14.7 -6.9 -14.9 -6.9 -15.4 -6.8 -15.8 -6.7 -15.9 -6.6 -15.5 -6.5 -12.6 -6.4 -1.1 -6.4 6.2 -6.3 6.6 -6.2 1.9 -6.1 -3.2 -6.1 -6.8 -6 -8.6 -5.9 -9.7 -5.9 -10.5 -5.7 -11 -5.7 -11.3 -5.7 -11.3 -5.5 -10.8 -5.5 -9.9 -5.5 -8.9 -5.4 -7.9 -5.3 -7.3 -5.2 -7.2 -5.2 -7.8 -5.1 -8.7 -5.1 -9.9 -5 -10.6 -5 -11 -4.9 -10.8 -4.8 -9.9 -4.8 -8.9 -4.8 -8 -4.7 -7.2 -4.6 -6.8 -4.6 -6.8 -4.5 -6.9 -4.5 -7M2019.6 1046.8l-9.5 -20.8 -9.3 -21.3 -9.2 -22 -9 -22.9 -8.9 -23.7 -8.8 -24.4 -8.7 -24.4 -8.6 -21.4 -8.5 -20.3 -8.3 -21.4 -8.2 -22.3 -8.2 -22 -8 -20.6 -7.9 -18.8 -7.8 -17.1 -7.7 -15.6 -7.6 -14.6 -7.5 -14 -7.4 -14 -7.4 -14.2 -7.2 -14.9 -7.1 -15.3 -7.1 -15.7 -6.9 -15.6 -6.9 -13 -6.8 -1.1 -6.7 6 -6.6 5.6 -6.5 .5 -6.5 -4.7 -6.4 -7.8 -6.3 -9.1 -6.2 -9.7 -6.2 -10.1 -6 -10.4 -6 -10.6 -6 -10.5 -5.8 -10.1 -5.8 -9.3 -5.8 -8.3 -5.6 -7.5 -5.6 -7.1 -5.5 -7.2 -5.5 -7.8 -5.4 -9 -5.4 -10.2 -5.2 -11.2 -5.2 -11.5 -5.2 -11.3 -5.1 -10.5 -5.1 -9.2 -4.9 -8.2 -5 -7.2 -4.8 -6.7 -4.9 -6.6 -4.7 -6.6 -4.8 -6.8M2013.1 916.3l-9.1 -23.8 -9 -22 -8.9 -21.3 -8.8 -22.1 -8.6 -22.5 -8.5 -22 -8.4 -20.5 -8.4 -18.7 -8.2 -17 -8.1 -15.3 -7.9 -14.2 -7.9 -13.5 -7.8 -13.3 -7.7 -13.6 -7.6 -14.2 -7.5 -14.8 -7.4 -15.3 -7.3 -15.6 -7.2 -13.3 -7.1 -1.9 -7.1 4.5 -6.9 3.7 -6.9 -1.4 -6.8 -6.1 -6.7 -8.8 -6.6 -9.7 -6.5 -9.9 -6.5 -10 -6.4 -10.1 -6.3 -10.2 -6.2 -10.1 -6.2 -9.6 -6 -8.9 -6 -7.9 -6 -7.2 -5.9 -6.8 -5.8 -7 -5.7 -7.7 -5.7 -8.9 -5.6 -10.3 -5.5 -11.4 -5.5 -12 -5.4 -11.7 -5.4 -11 -5.3 -9.7 -5.2 -8.4 -5.2 -7.4 -5.1 -6.7 -5.1 -6.4 -5 -6.4 -4.9 -6.6M2014.8 810.4l-8.9 -21.5 -8.8 -20.1 -8.7 -18.4 -8.6 -16.7 -8.5 -15 -8.4 -13.9 -8.2 -13 -8.2 -12.8 -8 -13 -8 -13.6 -7.8 -14.4 -7.8 -15 -7.6 -15.4 -7.6 -13.6 -7.5 -3.6 -7.3 1.9 -7.3 1 -7.2 -3.5 -7.1 -7.5 -7 -9.6 -7 -10.2 -6.8 -10.1 -6.8 -10 -6.7 -10.1 -6.6 -10.2 -6.5 -10 -6.5 -9.6 -6.3 -8.8 -6.3 -8 -6.3 -7.1 -6.1 -6.7 -6.1 -6.8 -6 -7.5 -5.9 -8.8 -5.9 -10.2 -5.8 -11.5 -5.8 -12.2 -5.6 -12.2 -5.6 -11.4 -5.6 -10.3 -5.5 -8.9 -5.4 -7.7 -5.4 -6.9 -5.3 -6.5 -5.2 -6.3 -5.2 -6.4M2015.4 729.5l-8.7 -13.5 -8.6 -12.7 -8.6 -12.4 -8.4 -12.7 -8.3 -13.2 -8.2 -14 -8.1 -14.7 -8 -15.4 -7.9 -14 -7.8 -5.9 -7.7 -1.4 -7.6 -2.2 -7.6 -5.7 -7.4 -8.7 -7.3 -10.2 -7.3 -10.3 -7.1 -10.2 -7.1 -10 -7 -10.2 -6.9 -10.2 -6.8 -10.2 -6.8 -9.9 -6.6 -9.2 -6.6 -8.3 -6.5 -7.5 -6.5 -6.9 -6.3 -6.7 -6.3 -7.4 -6.2 -8.4 -6.1 -9.9 -6.1 -11.3 -6 -12.1 -6 -12.4 -5.8 -11.8 -5.8 -10.7 -5.8 -9.3 -5.6 -8.1 -5.6 -7.2 -5.6 -6.6 -5.5 -6.4 -5.4 -6.3M2015.1 678.5l-8.6 -13.9 -8.4 -14.7 -8.4 -15.4 -8.2 -14.5 -8.2 -8.5 -8 -5 -7.9 -5.4 -7.9 -7.7 -7.7 -9.7 -7.7 -10.4 -7.6 -10.2 -7.4 -9.9 -7.4 -9.9 -7.3 -10 -7.2 -10.3 -7.1 -10.5 -7.1 -10.4 -6.9 -9.9 -6.9 -9 -6.8 -8.1 -6.7 -7.3 -6.6 -7 -6.6 -7.2 -6.5 -8.2 -6.4 -9.3 -6.3 -10.8 -6.3 -11.7 -6.2 -12 -6.1 -11.8 -6 -10.8 -6 -9.6 -5.9 -8.4 -5.9 -7.4 -5.8 -6.8 -5.7 -6.5 -5.7 -6.3M2013.9 620.6l-8.4 -8.4 -8.3 -8.4 -8.1 -9.5 -8.1 -10.3 -8 -10.4 -7.9 -9.8 -7.7 -9.5 -7.7 -9.5 -7.6 -9.8 -7.5 -10.4 -7.5 -10.8 -7.3 -11.1 -7.2 -10.9 -7.2 -10.2 -7.1 -9.3 -6.9 -8.5 -7 -7.9 -6.8 -7.9 -6.7 -8.5 -6.7 -9.4 -6.6 -10.7 -6.5 -11.7 -6.5 -12.2 -6.4 -12.1 -6.3 -11.3 -6.2 -10.2 -6.2 -9 -6.1 -8 -6 -7.2 -5.9 -6.8 -5.9 -6.4M2011.9 573.7l-8.2 -9.3 -8 -8.8 -8 -8.8 -7.9 -9.2 -7.9 -10 -7.7 -10.8 -7.6 -11.4 -7.5 -11.5 -7.5 -11.2 -7.3 -10.3 -7.3 -9.4 -7.2 -8.6 -7.1 -8.1 -7 -8.3 -6.9 -8.9 -6.9 -9.8 -6.8 -10.8 -6.7 -11.2 -6.6 -11.2 -6.6 -10.7 -6.5 -9.8 -6.4 -8.8 -6.3 -8 -6.3 -7.2 -6.2 -6.9 -6.1 -6.5M2017.4 540.0l-8.1 -9.4 -8 -10.5 -7.9 -11.5 -7.8 -11.9 -7.7 -12 -7.7 -11.3 -7.5 -10.4 -7.5 -9.4 -7.4 -8.7 -7.3 -8.4 -7.2 -8.6 -7.1 -9.2 -7.1 -9.8 -6.9 -10.3 -6.9 -10.3 -6.8 -10 -6.7 -9.3 -6.7 -8.5 -6.6 -7.7 -6.5 -7.2 -6.4 -6.9 -6.4 -6.7M2014.1 488.8l-8 -11.7 -7.8 -10.9 -7.7 -9.8 -7.7 -8.8 -7.5 -8.1 -7.5 -7.9 -7.4 -8 -7.3 -8.3 -7.2 -8.7 -7.2 -8.7 -7 -8.5 -7 -8 -6.9 -7.5 -6.8 -7 -6.8 -6.7 -6.7 -6.7 -6.6 -6.8M2018.0 447.0l-7.8 -8.7 -7.7 -8 -7.7 -8 -7.6 -8 -7.4 -8.2 -7.4 -8.3 -7.4 -7.9 -7.2 -7.6 -7.1 -7.2 -7.1 -6.8 -7 -6.6 -6.9 -6.6 -6.9 -6.7M2013.5 406.5l-7.6 -7.8 -7.6 -7.6 -7.5 -7.3 -7.4 -6.8 -7.3 -6.6 -7.2 -6.4 -7.2 -6.4 -7 -6.6M2016.2 378.2l-7.5 -6.4 -7.5 -6.3 -7.4 -6.3 -7.3 -6.4" fill="none" stroke="#0A2878" stroke-width="1.35"/>
<rect x="227.10" y="615.00" width="89.10" height="213.00" fill="#FF8391"/>
<rect x="364.20" y="621.00" width="89.00" height="207.00" fill="#F80049"/>
<rect x="500.30" y="615.00" width="89.00" height="213.00" fill="#91002C"/>
<rect x="770.40" y="718.50" width="89.20" height="109.50" fill="#96CE2D"/>
<rect x="907.00" y="719.80" width="88.90" height="108.20" fill="#6DBF08"/>
<rect x="1043.30" y="709.80" width="88.70" height="118.20" fill="#558000"/>
<rect x="1330.80" y="534.30" width="88.20" height="291.30" fill="#E9A558"/>
<rect x="1467.00" y="544.20" width="88.80" height="281.40" fill="#E07F01"/>
<rect x="1603.00" y="544.20" width="89.10" height="281.40" fill="#D96904"/>
<rect x="182.00" y="828.00" width="444.60" height="1.60" fill="#FFFFFF"/>
<rect x="724.30" y="827.70" width="444.90" height="1.60" fill="#FFFFFF"/>
<rect x="1284.00" y="825.20" width="442.10" height="1.80" fill="#FFFFFF"/>
<rect x="0" y="0" width="1920" height="1" fill="#8A90B2"/>
<rect x="1919" y="0" width="1" height="1080" fill="#FFFFFF"/>
<text x="399.70" y="104.48" font-size="48.58" font-weight="normal" fill="#FDB92C" stroke="#01114F" stroke-width="0.60" textLength="1118.64" lengthAdjust="spacingAndGlyphs">WORLD ECONOMIC OUTLOOK UPDATE JULY 2024</text>
<text x="171.40" y="206.02" font-size="109.95" font-weight="bold" fill="#FFFFFF" stroke="#FFFFFF" stroke-width="11.00" stroke-linejoin="miter" stroke-miterlimit="2" textLength="81.59" lengthAdjust="spacingAndGlyphs">G</text>
<text x="269.89" y="205.03" font-size="107.63" font-weight="bold" fill="#FFFFFF" stroke="#FFFFFF" stroke-width="11.00" stroke-linejoin="miter" stroke-miterlimit="2" textLength="77.15" lengthAdjust="spacingAndGlyphs">R</text>
<text x="360.67" y="206.92" font-size="109.90" font-weight="bold" fill="#FFFFFF" stroke="#FFFFFF" stroke-width="11.00" stroke-linejoin="miter" stroke-miterlimit="2" textLength="93.17" lengthAdjust="spacingAndGlyphs">O</text>
<text x="471.79" y="205.71" font-size="108.42" font-weight="bold" fill="#FFFFFF" stroke="#FFFFFF" stroke-width="11.00" stroke-linejoin="miter" stroke-miterlimit="2" textLength="113.99" lengthAdjust="spacingAndGlyphs">W</text>
<text x="604.01" y="205.65" font-size="107.72" font-weight="bold" fill="#FFFFFF" stroke="#FFFFFF" stroke-width="11.00" stroke-linejoin="miter" stroke-miterlimit="2" textLength="62.94" lengthAdjust="spacingAndGlyphs">T</text>
<text x="683.08" y="205.67" font-size="107.26" font-weight="bold" fill="#FFFFFF" stroke="#FFFFFF" stroke-width="11.00" stroke-linejoin="miter" stroke-miterlimit="2" textLength="84.76" lengthAdjust="spacingAndGlyphs">H</text>
<text x="821.98" y="205.03" font-size="107.63" font-weight="bold" fill="#FFFFFF" stroke="#FFFFFF" stroke-width="11.00" stroke-linejoin="miter" stroke-miterlimit="2" textLength="71.55" lengthAdjust="spacingAndGlyphs">P</text>
<text x="910.16" y="205.03" font-size="107.63" font-weight="bold" fill="#FFFFFF" stroke="#FFFFFF" stroke-width="11.00" stroke-linejoin="miter" stroke-miterlimit="2" textLength="76.55" lengthAdjust="spacingAndGlyphs">R</text>
<text x="1002.39" y="206.92" font-size="109.89" font-weight="bold" fill="#FFFFFF" stroke="#FFFFFF" stroke-width="11.00" stroke-linejoin="miter" stroke-miterlimit="2" textLength="90.82" lengthAdjust="spacingAndGlyphs">O</text>
<text x="1102.72" y="206.09" font-size="109.37" font-weight="bold" fill="#FFFFFF" stroke="#FFFFFF" stroke-width="11.00" stroke-linejoin="miter" stroke-miterlimit="2" textLength="60.06" lengthAdjust="spacingAndGlyphs">J</text>
<text x="1180.43" y="205.66" font-size="107.63" font-weight="bold" fill="#FFFFFF" stroke="#FFFFFF" stroke-width="11.00" stroke-linejoin="miter" stroke-miterlimit="2" textLength="61.43" lengthAdjust="spacingAndGlyphs">E</text>
<text x="1257.69" y="206.19" font-size="110.19" font-weight="bold" fill="#FFFFFF" stroke="#FFFFFF" stroke-width="11.00" stroke-linejoin="miter" stroke-miterlimit="2" textLength="75.24" lengthAdjust="spacingAndGlyphs">C</text>
<text x="1346.03" y="205.65" font-size="107.72" font-weight="bold" fill="#FFFFFF" stroke="#FFFFFF" stroke-width="11.00" stroke-linejoin="miter" stroke-miterlimit="2" textLength="62.96" lengthAdjust="spacingAndGlyphs">T</text>
<text x="1424.93" y="205.67" font-size="107.26" font-weight="bold" fill="#FFFFFF" stroke="#FFFFFF" stroke-width="11.00" stroke-linejoin="miter" stroke-miterlimit="2" textLength="33.96" lengthAdjust="spacingAndGlyphs">I</text>
<text x="1475.24" y="206.92" font-size="109.87" font-weight="bold" fill="#FFFFFF" stroke="#FFFFFF" stroke-width="11.00" stroke-linejoin="miter" stroke-miterlimit="2" textLength="92.28" lengthAdjust="spacingAndGlyphs">O</text>
<text x="1584.87" y="205.67" font-size="107.26" font-weight="bold" fill="#FFFFFF" stroke="#FFFFFF" stroke-width="11.00" stroke-linejoin="miter" stroke-miterlimit="2" textLength="83.31" lengthAdjust="spacingAndGlyphs">N</text>
<text x="1682.77" y="206.08" font-size="109.99" font-weight="bold" fill="#FFFFFF" stroke="#FFFFFF" stroke-width="11.00" stroke-linejoin="miter" stroke-miterlimit="2" textLength="69.19" lengthAdjust="spacingAndGlyphs">S</text>
<text x="681.68" y="268.70" font-size="26.67" font-weight="normal" fill="#FFFFFF" stroke="#01114F" stroke-width="0.30" textLength="548.55" lengthAdjust="spacingAndGlyphs">(REAL GDP GROWTH, PERCENT CHANGE)</text>
<text x="335.99" y="380.62" font-size="31.01" font-weight="bold" fill="#FDB92C" stroke="#FDB92C" stroke-width="2.50" stroke-linejoin="miter" stroke-miterlimit="2" textLength="22.03" lengthAdjust="spacingAndGlyphs">G</text>
<text x="361.78" y="379.56" font-size="28.81" font-weight="bold" fill="#FDB92C" stroke="#FDB92C" stroke-width="2.50" stroke-linejoin="miter" stroke-miterlimit="2" textLength="15.16" lengthAdjust="spacingAndGlyphs">L</text>
<text x="378.72" y="380.47" font-size="30.79" font-weight="bold" fill="#FDB92C" stroke="#FDB92C" stroke-width="2.50" stroke-linejoin="miter" stroke-miterlimit="2" textLength="25.05" lengthAdjust="spacingAndGlyphs">O</text>
<text x="407.37" y="379.56" font-size="28.81" font-weight="bold" fill="#FDB92C" stroke="#FDB92C" stroke-width="2.50" stroke-linejoin="miter" stroke-miterlimit="2" textLength="18.83" lengthAdjust="spacingAndGlyphs">B</text>
<text x="429.40" y="379.56" font-size="28.81" font-weight="bold" fill="#FDB92C" stroke="#FDB92C" stroke-width="2.50" stroke-linejoin="miter" stroke-miterlimit="2" textLength="23.27" lengthAdjust="spacingAndGlyphs">A</text>
<text x="455.27" y="379.56" font-size="28.81" font-weight="bold" fill="#FDB92C" stroke="#FDB92C" stroke-width="2.50" stroke-linejoin="miter" stroke-miterlimit="2" textLength="14.84" lengthAdjust="spacingAndGlyphs">L</text>
<text x="314.40" y="419.33" font-size="29.01" font-weight="bold" fill="#FDB92C" stroke="#FDB92C" stroke-width="2.50" stroke-linejoin="miter" stroke-miterlimit="2" textLength="16.09" lengthAdjust="spacingAndGlyphs">E</text>
<text x="333.60" y="420.33" font-size="29.75" font-weight="bold" fill="#FDB92C" stroke="#FDB92C" stroke-width="2.50" stroke-linejoin="miter" stroke-miterlimit="2" textLength="20.15" lengthAdjust="spacingAndGlyphs">C</text>
<text x="356.46" y="420.18" font-size="29.63" font-weight="bold" fill="#FDB92C" stroke="#FDB92C" stroke-width="2.50" stroke-linejoin="miter" stroke-miterlimit="2" textLength="24.59" lengthAdjust="spacingAndGlyphs">O</text>
<text x="384.42" y="419.33" font-size="29.01" font-weight="bold" fill="#FDB92C" stroke="#FDB92C" stroke-width="2.50" stroke-linejoin="miter" stroke-miterlimit="2" textLength="22.15" lengthAdjust="spacingAndGlyphs">N</text>
<text x="410.25" y="420.11" font-size="31.81" font-weight="bold" fill="#FDB92C" stroke="#FDB92C" stroke-width="2.50" stroke-linejoin="miter" stroke-miterlimit="2" textLength="24.74" lengthAdjust="spacingAndGlyphs">O</text>
<text x="438.17" y="419.33" font-size="29.01" font-weight="bold" fill="#FDB92C" stroke="#FDB92C" stroke-width="2.50" stroke-linejoin="miter" stroke-miterlimit="2" textLength="30.07" lengthAdjust="spacingAndGlyphs">M</text>
<text x="470.97" y="419.33" font-size="29.01" font-weight="bold" fill="#FDB92C" stroke="#FDB92C" stroke-width="2.50" stroke-linejoin="miter" stroke-miterlimit="2" textLength="22.25" lengthAdjust="spacingAndGlyphs">Y</text>
<text x="852.15" y="379.79" font-size="28.59" font-weight="bold" fill="#FDB92C" stroke="#FDB92C" stroke-width="2.50" stroke-linejoin="miter" stroke-miterlimit="2" textLength="22.66" lengthAdjust="spacingAndGlyphs">A</text>
<text x="878.29" y="379.79" font-size="28.59" font-weight="bold" fill="#FDB92C" stroke="#FDB92C" stroke-width="2.50" stroke-linejoin="miter" stroke-miterlimit="2" textLength="21.89" lengthAdjust="spacingAndGlyphs">D</text>
<text x="903.79" y="379.79" font-size="28.59" font-weight="bold" fill="#FDB92C" stroke="#FDB92C" stroke-width="2.50" stroke-linejoin="miter" stroke-miterlimit="2" textLength="20.54" lengthAdjust="spacingAndGlyphs">V</text>
<text x="926.26" y="379.79" font-size="28.59" font-weight="bold" fill="#FDB92C" stroke="#FDB92C" stroke-width="2.50" stroke-linejoin="miter" stroke-miterlimit="2" textLength="22.95" lengthAdjust="spacingAndGlyphs">A</text>
<text x="952.63" y="379.79" font-size="28.59" font-weight="bold" fill="#FDB92C" stroke="#FDB92C" stroke-width="2.50" stroke-linejoin="miter" stroke-miterlimit="2" textLength="21.94" lengthAdjust="spacingAndGlyphs">N</text>
<text x="978.16" y="380.86" font-size="29.77" font-weight="bold" fill="#FDB92C" stroke="#FDB92C" stroke-width="2.50" stroke-linejoin="miter" stroke-miterlimit="2" textLength="19.81" lengthAdjust="spacingAndGlyphs">C</text>
<text x="1001.18" y="379.79" font-size="28.59" font-weight="bold" fill="#FDB92C" stroke="#FDB92C" stroke-width="2.50" stroke-linejoin="miter" stroke-miterlimit="2" textLength="16.35" lengthAdjust="spacingAndGlyphs">E</text>
<text x="1021.52" y="379.79" font-size="28.59" font-weight="bold" fill="#FDB92C" stroke="#FDB92C" stroke-width="2.50" stroke-linejoin="miter" stroke-miterlimit="2" textLength="21.96" lengthAdjust="spacingAndGlyphs">D</text>
<text x="844.71" y="419.33" font-size="29.01" font-weight="bold" fill="#FDB92C" stroke="#FDB92C" stroke-width="2.50" stroke-linejoin="miter" stroke-miterlimit="2" textLength="16.40" lengthAdjust="spacingAndGlyphs">E</text>
<text x="864.45" y="420.36" font-size="29.85" font-weight="bold" fill="#FDB92C" stroke="#FDB92C" stroke-width="2.50" stroke-linejoin="miter" stroke-miterlimit="2" textLength="20.10" lengthAdjust="spacingAndGlyphs">C</text>
<text x="886.72" y="420.11" font-size="31.77" font-weight="bold" fill="#FDB92C" stroke="#FDB92C" stroke-width="2.50" stroke-linejoin="miter" stroke-miterlimit="2" textLength="25.12" lengthAdjust="spacingAndGlyphs">O</text>
<text x="915.12" y="419.33" font-size="29.01" font-weight="bold" fill="#FDB92C" stroke="#FDB92C" stroke-width="2.50" stroke-linejoin="miter" stroke-miterlimit="2" textLength="22.46" lengthAdjust="spacingAndGlyphs">N</text>
<text x="940.84" y="420.11" font-size="31.84" font-weight="bold" fill="#FDB92C" stroke="#FDB92C" stroke-width="2.50" stroke-linejoin="miter" stroke-miterlimit="2" textLength="23.91" lengthAdjust="spacingAndGlyphs">O</text>
<text x="968.62" y="419.33" font-size="29.01" font-weight="bold" fill="#FDB92C" stroke="#FDB92C" stroke-width="2.50" stroke-linejoin="miter" stroke-miterlimit="2" textLength="30.87" lengthAdjust="spacingAndGlyphs">M</text>
<text x="1001.97" y="419.33" font-size="29.01" font-weight="bold" fill="#FDB92C" stroke="#FDB92C" stroke-width="2.50" stroke-linejoin="miter" stroke-miterlimit="2" textLength="10.57" lengthAdjust="spacingAndGlyphs">I</text>
<text x="1014.91" y="419.33" font-size="29.01" font-weight="bold" fill="#FDB92C" stroke="#FDB92C" stroke-width="2.50" stroke-linejoin="miter" stroke-miterlimit="2" textLength="16.39" lengthAdjust="spacingAndGlyphs">E</text>
<text x="1034.12" y="420.36" font-size="29.75" font-weight="bold" fill="#FDB92C" stroke="#FDB92C" stroke-width="2.50" stroke-linejoin="miter" stroke-miterlimit="2" textLength="17.15" lengthAdjust="spacingAndGlyphs">S</text>
<text x="1319.67" y="379.56" font-size="28.81" font-weight="bold" fill="#FDB92C" stroke="#FDB92C" stroke-width="2.50" stroke-linejoin="miter" stroke-miterlimit="2" textLength="16.40" lengthAdjust="spacingAndGlyphs">E</text>
<text x="1338.17" y="379.56" font-size="28.81" font-weight="bold" fill="#FDB92C" stroke="#FDB92C" stroke-width="2.50" stroke-linejoin="miter" stroke-miterlimit="2" textLength="31.19" lengthAdjust="spacingAndGlyphs">M</text>
<text x="1372.15" y="379.56" font-size="28.81" font-weight="bold" fill="#FDB92C" stroke="#FDB92C" stroke-width="2.50" stroke-linejoin="miter" stroke-miterlimit="2" textLength="16.50" lengthAdjust="spacingAndGlyphs">E</text>
<text x="1392.34" y="379.56" font-size="28.81" font-weight="bold" fill="#FDB92C" stroke="#FDB92C" stroke-width="2.50" stroke-linejoin="miter" stroke-miterlimit="2" textLength="20.01" lengthAdjust="spacingAndGlyphs">R</text>
<text x="1415.50" y="380.58" font-size="31.04" font-weight="bold" fill="#FDB92C" stroke="#FDB92C" stroke-width="2.50" stroke-linejoin="miter" stroke-miterlimit="2" textLength="21.62" lengthAdjust="spacingAndGlyphs">G</text>
<text x="1440.93" y="379.56" font-size="28.81" font-weight="bold" fill="#FDB92C" stroke="#FDB92C" stroke-width="2.50" stroke-linejoin="miter" stroke-miterlimit="2" textLength="10.03" lengthAdjust="spacingAndGlyphs">I</text>
<text x="1453.33" y="379.56" font-size="28.81" font-weight="bold" fill="#FDB92C" stroke="#FDB92C" stroke-width="2.50" stroke-linejoin="miter" stroke-miterlimit="2" textLength="22.51" lengthAdjust="spacingAndGlyphs">N</text>
<text x="1478.71" y="380.61" font-size="31.11" font-weight="bold" fill="#FDB92C" stroke="#FDB92C" stroke-width="2.50" stroke-linejoin="miter" stroke-miterlimit="2" textLength="21.18" lengthAdjust="spacingAndGlyphs">G</text>
<text x="1513.44" y="379.56" font-size="28.81" font-weight="bold" fill="#FDB92C" stroke="#FDB92C" stroke-width="2.50" stroke-linejoin="miter" stroke-miterlimit="2" textLength="28.79" lengthAdjust="spacingAndGlyphs">M</text>
<text x="1545.15" y="379.56" font-size="28.81" font-weight="bold" fill="#FDB92C" stroke="#FDB92C" stroke-width="2.50" stroke-linejoin="miter" stroke-miterlimit="2" textLength="22.57" lengthAdjust="spacingAndGlyphs">A</text>
<text x="1571.57" y="379.56" font-size="28.81" font-weight="bold" fill="#FDB92C" stroke="#FDB92C" stroke-width="2.50" stroke-linejoin="miter" stroke-miterlimit="2" textLength="19.83" lengthAdjust="spacingAndGlyphs">R</text>
<text x="1595.15" y="379.56" font-size="28.81" font-weight="bold" fill="#FDB92C" stroke="#FDB92C" stroke-width="2.50" stroke-linejoin="miter" stroke-miterlimit="2" textLength="21.31" lengthAdjust="spacingAndGlyphs">K</text>
<text x="1620.07" y="379.56" font-size="28.81" font-weight="bold" fill="#FDB92C" stroke="#FDB92C" stroke-width="2.50" stroke-linejoin="miter" stroke-miterlimit="2" textLength="16.10" lengthAdjust="spacingAndGlyphs">E</text>
<text x="1639.80" y="379.56" font-size="28.81" font-weight="bold" fill="#FDB92C" stroke="#FDB92C" stroke-width="2.50" stroke-linejoin="miter" stroke-miterlimit="2" textLength="15.91" lengthAdjust="spacingAndGlyphs">T</text>
<text x="1667.19" y="380.46" font-size="30.89" font-weight="bold" fill="#FDB92C" stroke="#FDB92C" stroke-width="2.50" stroke-linejoin="miter" stroke-miterlimit="2" textLength="24.92" lengthAdjust="spacingAndGlyphs">&amp;</text>
<text x="1287.20" y="419.33" font-size="29.01" font-weight="bold" fill="#FDB92C" stroke="#FDB92C" stroke-width="2.50" stroke-linejoin="miter" stroke-miterlimit="2" textLength="22.37" lengthAdjust="spacingAndGlyphs">D</text>
<text x="1313.22" y="419.33" font-size="29.01" font-weight="bold" fill="#FDB92C" stroke="#FDB92C" stroke-width="2.50" stroke-linejoin="miter" stroke-miterlimit="2" textLength="16.16" lengthAdjust="spacingAndGlyphs">E</text>
<text x="1333.72" y="419.33" font-size="29.01" font-weight="bold" fill="#FDB92C" stroke="#FDB92C" stroke-width="2.50" stroke-linejoin="miter" stroke-miterlimit="2" textLength="20.63" lengthAdjust="spacingAndGlyphs">V</text>
<text x="1357.59" y="419.33" font-size="29.01" font-weight="bold" fill="#FDB92C" stroke="#FDB92C" stroke-width="2.50" stroke-linejoin="miter" stroke-miterlimit="2" textLength="15.97" lengthAdjust="spacingAndGlyphs">E</text>
<text x="1377.07" y="419.33" font-size="29.01" font-weight="bold" fill="#FDB92C" stroke="#FDB92C" stroke-width="2.50" stroke-linejoin="miter" stroke-miterlimit="2" textLength="15.41" lengthAdjust="spacingAndGlyphs">L</text>
<text x="1394.10" y="420.18" font-size="29.63" font-weight="bold" fill="#FDB92C" stroke="#FDB92C" stroke-width="2.50" stroke-linejoin="miter" stroke-miterlimit="2" textLength="25.08" lengthAdjust="spacingAndGlyphs">O</text>
<text x="1423.05" y="419.33" font-size="29.01" font-weight="bold" fill="#FDB92C" stroke="#FDB92C" stroke-width="2.50" stroke-linejoin="miter" stroke-miterlimit="2" textLength="17.88" lengthAdjust="spacingAndGlyphs">P</text>
<text x="1444.82" y="419.33" font-size="29.01" font-weight="bold" fill="#FDB92C" stroke="#FDB92C" stroke-width="2.50" stroke-linejoin="miter" stroke-miterlimit="2" textLength="10.60" lengthAdjust="spacingAndGlyphs">I</text>
<text x="1457.29" y="419.33" font-size="29.01" font-weight="bold" fill="#FDB92C" stroke="#FDB92C" stroke-width="2.50" stroke-linejoin="miter" stroke-miterlimit="2" textLength="22.52" lengthAdjust="spacingAndGlyphs">N</text>
<text x="1483.51" y="420.36" font-size="29.76" font-weight="bold" fill="#FDB92C" stroke="#FDB92C" stroke-width="2.50" stroke-linejoin="miter" stroke-miterlimit="2" textLength="21.17" lengthAdjust="spacingAndGlyphs">G</text>
<text x="1517.94" y="419.33" font-size="29.01" font-weight="bold" fill="#FDB92C" stroke="#FDB92C" stroke-width="2.50" stroke-linejoin="miter" stroke-miterlimit="2" textLength="15.55" lengthAdjust="spacingAndGlyphs">E</text>
<text x="1536.70" y="420.36" font-size="29.82" font-weight="bold" fill="#FDB92C" stroke="#FDB92C" stroke-width="2.50" stroke-linejoin="miter" stroke-miterlimit="2" textLength="20.06" lengthAdjust="spacingAndGlyphs">C</text>
<text x="1559.33" y="420.11" font-size="31.77" font-weight="bold" fill="#FDB92C" stroke="#FDB92C" stroke-width="2.50" stroke-linejoin="miter" stroke-miterlimit="2" textLength="25.11" lengthAdjust="spacingAndGlyphs">O</text>
<text x="1587.31" y="419.33" font-size="29.01" font-weight="bold" fill="#FDB92C" stroke="#FDB92C" stroke-width="2.50" stroke-linejoin="miter" stroke-miterlimit="2" textLength="22.67" lengthAdjust="spacingAndGlyphs">N</text>
<text x="1613.47" y="420.11" font-size="31.74" font-weight="bold" fill="#FDB92C" stroke="#FDB92C" stroke-width="2.50" stroke-linejoin="miter" stroke-miterlimit="2" textLength="24.90" lengthAdjust="spacingAndGlyphs">O</text>
<text x="1640.96" y="419.33" font-size="29.01" font-weight="bold" fill="#FDB92C" stroke="#FDB92C" stroke-width="2.50" stroke-linejoin="miter" stroke-miterlimit="2" textLength="30.46" lengthAdjust="spacingAndGlyphs">M</text>
<text x="1673.52" y="419.33" font-size="29.01" font-weight="bold" fill="#FDB92C" stroke="#FDB92C" stroke-width="2.50" stroke-linejoin="miter" stroke-miterlimit="2" textLength="10.60" lengthAdjust="spacingAndGlyphs">I</text>
<text x="1686.71" y="419.33" font-size="29.01" font-weight="bold" fill="#FDB92C" stroke="#FDB92C" stroke-width="2.50" stroke-linejoin="miter" stroke-miterlimit="2" textLength="16.40" lengthAdjust="spacingAndGlyphs">E</text>
<text x="1707.02" y="420.36" font-size="29.82" font-weight="bold" fill="#FDB92C" stroke="#FDB92C" stroke-width="2.50" stroke-linejoin="miter" stroke-miterlimit="2" textLength="17.15" lengthAdjust="spacingAndGlyphs">S</text>
<text x="229.49" y="596.54" font-size="58.47" font-weight="bold" fill="#FFFFFF" stroke="#FFFFFF" stroke-width="2.00" stroke-linejoin="miter" stroke-miterlimit="2" textLength="34.01" lengthAdjust="spacingAndGlyphs">3</text>
<text x="282.83" y="596.53" font-size="58.32" font-weight="bold" fill="#FFFFFF" stroke="#FFFFFF" stroke-width="2.00" stroke-linejoin="miter" stroke-miterlimit="2" textLength="34.03" lengthAdjust="spacingAndGlyphs">3</text>
<text x="364.50" y="604.67" font-size="58.83" font-weight="bold" fill="#FFFFFF" stroke="#FFFFFF" stroke-width="2.00" stroke-linejoin="miter" stroke-miterlimit="2" textLength="33.96" lengthAdjust="spacingAndGlyphs">3</text>
<text x="418.22" y="604.23" font-size="57.91" font-weight="bold" fill="#FFFFFF" stroke="#FFFFFF" stroke-width="2.00" stroke-linejoin="miter" stroke-miterlimit="2" textLength="33.58" lengthAdjust="spacingAndGlyphs">2</text>
<text x="497.66" y="595.22" font-size="60.00" font-weight="bold" fill="#FFFFFF" stroke="#FFFFFF" stroke-width="2.00" stroke-linejoin="miter" stroke-miterlimit="2" textLength="33.98" lengthAdjust="spacingAndGlyphs">3</text>
<text x="551.19" y="595.23" font-size="60.14" font-weight="bold" fill="#FFFFFF" stroke="#FFFFFF" stroke-width="2.00" stroke-linejoin="miter" stroke-miterlimit="2" textLength="34.00" lengthAdjust="spacingAndGlyphs">3</text>
<text x="769.67" y="699.23" font-size="57.43" font-weight="bold" fill="#FFFFFF" stroke="#FFFFFF" stroke-width="2.00" stroke-linejoin="miter" stroke-miterlimit="2" textLength="25.53" lengthAdjust="spacingAndGlyphs">1</text>
<text x="823.34" y="699.23" font-size="57.43" font-weight="bold" fill="#FFFFFF" stroke="#FFFFFF" stroke-width="2.00" stroke-linejoin="miter" stroke-miterlimit="2" textLength="34.07" lengthAdjust="spacingAndGlyphs">7</text>
<text x="908.34" y="699.67" font-size="58.15" font-weight="bold" fill="#FFFFFF" stroke="#FFFFFF" stroke-width="2.00" stroke-linejoin="miter" stroke-miterlimit="2" textLength="25.53" lengthAdjust="spacingAndGlyphs">1</text>
<text x="962.04" y="699.67" font-size="58.15" font-weight="bold" fill="#FFFFFF" stroke="#FFFFFF" stroke-width="2.00" stroke-linejoin="miter" stroke-miterlimit="2" textLength="34.05" lengthAdjust="spacingAndGlyphs">7</text>
<text x="1043.76" y="691.63" font-size="56.98" font-weight="bold" fill="#FFFFFF" stroke="#FFFFFF" stroke-width="2.00" stroke-linejoin="miter" stroke-miterlimit="2" textLength="25.69" lengthAdjust="spacingAndGlyphs">1</text>
<text x="1098.04" y="692.18" font-size="58.43" font-weight="bold" fill="#FFFFFF" stroke="#FFFFFF" stroke-width="2.00" stroke-linejoin="miter" stroke-miterlimit="2" textLength="32.88" lengthAdjust="spacingAndGlyphs">8</text>
<text x="1330.18" y="516.21" font-size="57.43" font-weight="bold" fill="#FFFFFF" stroke="#FFFFFF" stroke-width="2.00" stroke-linejoin="miter" stroke-miterlimit="2" textLength="34.75" lengthAdjust="spacingAndGlyphs">4</text>
<text x="1383.44" y="516.21" font-size="57.43" font-weight="bold" fill="#FFFFFF" stroke="#FFFFFF" stroke-width="2.00" stroke-linejoin="miter" stroke-miterlimit="2" textLength="33.83" lengthAdjust="spacingAndGlyphs">4</text>
<text x="1467.91" y="525.19" font-size="57.43" font-weight="bold" fill="#FFFFFF" stroke="#FFFFFF" stroke-width="2.00" stroke-linejoin="miter" stroke-miterlimit="2" textLength="33.51" lengthAdjust="spacingAndGlyphs">4</text>
<text x="1521.00" y="525.78" font-size="58.89" font-weight="bold" fill="#FFFFFF" stroke="#FFFFFF" stroke-width="2.00" stroke-linejoin="miter" stroke-miterlimit="2" textLength="33.80" lengthAdjust="spacingAndGlyphs">3</text>
<text x="1603.09" y="525.19" font-size="57.43" font-weight="bold" fill="#FFFFFF" stroke="#FFFFFF" stroke-width="2.00" stroke-linejoin="miter" stroke-miterlimit="2" textLength="33.50" lengthAdjust="spacingAndGlyphs">4</text>
<text x="1656.38" y="525.72" font-size="58.94" font-weight="bold" fill="#FFFFFF" stroke="#FFFFFF" stroke-width="2.00" stroke-linejoin="miter" stroke-miterlimit="2" textLength="33.77" lengthAdjust="spacingAndGlyphs">3</text>
<text x="233.68" y="885.55" font-size="34.09" font-weight="normal" fill="#FFFFFF" transform="matrix(0.9000 0 0 1 23.37 0)" textLength="83.69" lengthAdjust="spacing">2023</text>
<text x="370.19" y="885.55" font-size="34.09" font-weight="normal" fill="#FFFFFF" transform="matrix(0.9000 0 0 1 37.02 0)" textLength="84.24" lengthAdjust="spacing">2024</text>
<text x="509.06" y="885.55" font-size="34.09" font-weight="normal" fill="#FFFFFF" transform="matrix(0.9000 0 0 1 50.91 0)" textLength="84.13" lengthAdjust="spacing">2025</text>
<text x="776.84" y="885.61" font-size="33.69" font-weight="normal" fill="#FFFFFF" transform="matrix(0.9000 0 0 1 77.68 0)" textLength="83.98" lengthAdjust="spacing">2023</text>
<text x="915.68" y="885.61" font-size="33.69" font-weight="normal" fill="#FFFFFF" transform="matrix(0.9000 0 0 1 91.57 0)" textLength="83.51" lengthAdjust="spacing">2024</text>
<text x="1051.84" y="885.61" font-size="33.69" font-weight="normal" fill="#FFFFFF" transform="matrix(0.9000 0 0 1 105.18 0)" textLength="83.82" lengthAdjust="spacing">2025</text>
<text x="1337.41" y="885.61" font-size="33.69" font-weight="normal" fill="#FFFFFF" transform="matrix(0.9000 0 0 1 133.74 0)" textLength="84.15" lengthAdjust="spacing">2023</text>
<text x="1473.68" y="885.61" font-size="33.69" font-weight="normal" fill="#FFFFFF" transform="matrix(0.9000 0 0 1 147.37 0)" textLength="84.24" lengthAdjust="spacing">2024</text>
<text x="1612.40" y="885.61" font-size="33.69" font-weight="normal" fill="#FFFFFF" transform="matrix(0.9000 0 0 1 161.24 0)" textLength="83.81" lengthAdjust="spacing">2025</text>
<text x="90.28" y="1028.78" font-size="32.53" font-weight="bold" fill="#FFFFFF" stroke="#FFFFFF" stroke-width="0.60" stroke-linejoin="miter" stroke-miterlimit="2" transform="matrix(0.9500 0 0 1 4.51 0)" textLength="589.94" lengthAdjust="spacing">INTERNATIONAL MONETARY FUND</text>
<circle cx="273.05" cy="592.15" r="6.15" fill="#FFFFFF"/>
<circle cx="408.40" cy="599.70" r="6.00" fill="#FFFFFF"/>
<circle cx="541.35" cy="590.75" r="6.15" fill="#FFFFFF"/>
<circle cx="813.95" cy="694.75" r="5.95" fill="#FFFFFF"/>
<circle cx="952.55" cy="695.05" r="5.95" fill="#FFFFFF"/>
<circle cx="1087.40" cy="687.50" r="6.00" fill="#FFFFFF"/>
<circle cx="1373.95" cy="512.25" r="5.95" fill="#FFFFFF"/>
<circle cx="1512.00" cy="520.70" r="6.00" fill="#FFFFFF"/>
<circle cx="1647.30" cy="520.70" r="6.00" fill="#FFFFFF"/>
</svg></body></html>
